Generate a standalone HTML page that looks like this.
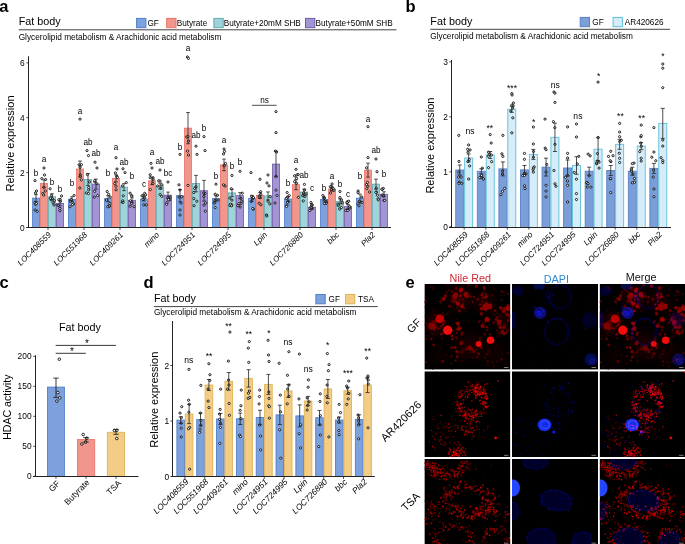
<!DOCTYPE html><html><head><meta charset="utf-8"><style>html,body{margin:0;padding:0;background:#fff;width:685px;height:544px;overflow:hidden}svg{display:block;will-change:transform}text{font-family:"Liberation Sans",sans-serif}</style></head><body>
<svg width="685" height="544" viewBox="0 0 685 544">
<rect width="685" height="544" fill="#fff"/>
<text x="-0.80" y="11.80" font-size="16.5" fill="#000" font-weight="bold">a</text>
<text x="405.60" y="11.80" font-size="16.5" fill="#000" font-weight="bold">b</text>
<text x="-0.60" y="288.00" font-size="16.5" fill="#000" font-weight="bold">c</text>
<text x="143.60" y="288.00" font-size="16.5" fill="#000" font-weight="bold">d</text>
<text x="405.40" y="287.70" font-size="16.5" fill="#000" font-weight="bold">e</text>
<text x="18.70" y="24.70" font-size="10.8">Fat body</text>
<line x1="18.70" y1="29.80" x2="396.50" y2="29.80" stroke="#444" stroke-width="1.0"/>
<text x="18.70" y="39.60" font-size="8.27">Glycerolipid metabolism &amp; Arachidonic acid metabolism</text>
<rect x="136.60" y="18.40" width="9.30" height="9.30" fill="#7ca1dc" stroke="#4f7fcb" stroke-width="1.0"/>
<text x="147.50" y="26.10" font-size="8.2">GF</text>
<rect x="166.70" y="18.40" width="9.30" height="9.30" fill="#f0968c" stroke="#ec7468" stroke-width="1.0"/>
<text x="176.70" y="26.10" font-size="8.2">Butyrate</text>
<rect x="213.90" y="18.40" width="9.30" height="9.30" fill="#9fd3d9" stroke="#5fa9ae" stroke-width="1.0"/>
<text x="223.70" y="26.10" font-size="8.2">Butyrate+20mM SHB</text>
<rect x="305.50" y="18.40" width="9.30" height="9.30" fill="#a394d6" stroke="#6e5aa8" stroke-width="1.0"/>
<text x="315.60" y="26.10" font-size="8.2">Butyrate+50mM SHB</text>
<line x1="28.50" y1="56.50" x2="28.50" y2="228.00" stroke="#222" stroke-width="1.0"/>
<line x1="26.50" y1="227.50" x2="391.00" y2="227.50" stroke="#222" stroke-width="1.0"/>
<line x1="26.30" y1="227.50" x2="28.50" y2="227.50" stroke="#222" stroke-width="0.8"/>
<text x="24.60" y="230.50" font-size="8.4" text-anchor="end">0</text>
<line x1="26.30" y1="172.60" x2="28.50" y2="172.60" stroke="#222" stroke-width="0.8"/>
<text x="24.60" y="175.60" font-size="8.4" text-anchor="end">2</text>
<line x1="26.30" y1="117.70" x2="28.50" y2="117.70" stroke="#222" stroke-width="0.8"/>
<text x="24.60" y="120.70" font-size="8.4" text-anchor="end">4</text>
<line x1="26.30" y1="62.80" x2="28.50" y2="62.80" stroke="#222" stroke-width="0.8"/>
<text x="24.60" y="65.80" font-size="8.4" text-anchor="end">6</text>
<text x="14.40" y="143.50" font-size="11" text-anchor="middle" transform="rotate(-90 14.40 143.50)">Relative expression</text>
<rect x="32.40" y="198.13" width="7.20" height="29.37" fill="#7ca1dc" stroke="#4f7fcb" stroke-width="0.8"/>
<rect x="40.40" y="183.58" width="7.20" height="43.92" fill="#f0968c" stroke="#ec7468" stroke-width="0.8"/>
<rect x="48.40" y="196.76" width="7.20" height="30.74" fill="#9fd3d9" stroke="#5fa9ae" stroke-width="0.8"/>
<rect x="56.40" y="203.34" width="7.20" height="24.16" fill="#a394d6" stroke="#6e5aa8" stroke-width="0.8"/>
<circle cx="37.19" cy="211.32" r="1.1" fill="#fff" stroke="#000" stroke-width="0.85"/>
<circle cx="34.89" cy="202.42" r="1.1" fill="#fff" stroke="#000" stroke-width="0.85"/>
<circle cx="35.56" cy="204.32" r="1.1" fill="#fff" stroke="#000" stroke-width="0.85"/>
<circle cx="35.10" cy="210.05" r="1.1" fill="#fff" stroke="#000" stroke-width="0.85"/>
<circle cx="36.38" cy="203.59" r="1.1" fill="#fff" stroke="#000" stroke-width="0.85"/>
<circle cx="35.00" cy="180.60" r="1.1" fill="#fff" stroke="#000" stroke-width="0.85"/>
<circle cx="36.50" cy="191.00" r="1.1" fill="#fff" stroke="#000" stroke-width="0.85"/>
<circle cx="35.50" cy="193.00" r="1.1" fill="#fff" stroke="#000" stroke-width="0.85"/>
<line x1="36.00" y1="194.63" x2="36.00" y2="201.63" stroke="#222" stroke-width="0.8"/>
<line x1="34.20" y1="194.63" x2="37.80" y2="194.63" stroke="#222" stroke-width="0.8"/>
<line x1="34.20" y1="201.63" x2="37.80" y2="201.63" stroke="#222" stroke-width="0.8"/>
<circle cx="45.60" cy="179.49" r="1.1" fill="#fff" stroke="#000" stroke-width="0.85"/>
<circle cx="42.87" cy="193.46" r="1.1" fill="#fff" stroke="#000" stroke-width="0.85"/>
<circle cx="43.77" cy="187.51" r="1.1" fill="#fff" stroke="#000" stroke-width="0.85"/>
<circle cx="45.33" cy="190.97" r="1.1" fill="#fff" stroke="#000" stroke-width="0.85"/>
<circle cx="41.83" cy="178.59" r="1.1" fill="#fff" stroke="#000" stroke-width="0.85"/>
<circle cx="43.69" cy="195.06" r="1.1" fill="#fff" stroke="#000" stroke-width="0.85"/>
<circle cx="44.00" cy="168.00" r="1.1" fill="#fff" stroke="#000" stroke-width="0.85"/>
<circle cx="44.50" cy="175.00" r="1.1" fill="#fff" stroke="#000" stroke-width="0.85"/>
<line x1="44.00" y1="179.88" x2="44.00" y2="187.28" stroke="#222" stroke-width="0.8"/>
<line x1="42.20" y1="179.88" x2="45.80" y2="179.88" stroke="#222" stroke-width="0.8"/>
<line x1="42.20" y1="187.28" x2="45.80" y2="187.28" stroke="#222" stroke-width="0.8"/>
<circle cx="54.06" cy="204.96" r="1.1" fill="#fff" stroke="#000" stroke-width="0.85"/>
<circle cx="50.09" cy="188.77" r="1.1" fill="#fff" stroke="#000" stroke-width="0.85"/>
<circle cx="53.09" cy="202.79" r="1.1" fill="#fff" stroke="#000" stroke-width="0.85"/>
<circle cx="51.12" cy="199.81" r="1.1" fill="#fff" stroke="#000" stroke-width="0.85"/>
<circle cx="52.49" cy="198.66" r="1.1" fill="#fff" stroke="#000" stroke-width="0.85"/>
<circle cx="50.43" cy="198.22" r="1.1" fill="#fff" stroke="#000" stroke-width="0.85"/>
<circle cx="51.51" cy="195.51" r="1.1" fill="#fff" stroke="#000" stroke-width="0.85"/>
<circle cx="54.28" cy="200.77" r="1.1" fill="#fff" stroke="#000" stroke-width="0.85"/>
<line x1="52.00" y1="193.76" x2="52.00" y2="199.76" stroke="#222" stroke-width="0.8"/>
<line x1="50.20" y1="193.76" x2="53.80" y2="193.76" stroke="#222" stroke-width="0.8"/>
<line x1="50.20" y1="199.76" x2="53.80" y2="199.76" stroke="#222" stroke-width="0.8"/>
<circle cx="60.20" cy="199.41" r="1.1" fill="#fff" stroke="#000" stroke-width="0.85"/>
<circle cx="60.48" cy="201.39" r="1.1" fill="#fff" stroke="#000" stroke-width="0.85"/>
<circle cx="58.00" cy="205.23" r="1.1" fill="#fff" stroke="#000" stroke-width="0.85"/>
<circle cx="61.55" cy="196.04" r="1.1" fill="#fff" stroke="#000" stroke-width="0.85"/>
<circle cx="58.78" cy="199.73" r="1.1" fill="#fff" stroke="#000" stroke-width="0.85"/>
<circle cx="59.86" cy="210.78" r="1.1" fill="#fff" stroke="#000" stroke-width="0.85"/>
<circle cx="59.89" cy="208.39" r="1.1" fill="#fff" stroke="#000" stroke-width="0.85"/>
<circle cx="58.39" cy="205.43" r="1.1" fill="#fff" stroke="#000" stroke-width="0.85"/>
<line x1="60.00" y1="200.84" x2="60.00" y2="205.84" stroke="#222" stroke-width="0.8"/>
<line x1="58.20" y1="200.84" x2="61.80" y2="200.84" stroke="#222" stroke-width="0.8"/>
<line x1="58.20" y1="205.84" x2="61.80" y2="205.84" stroke="#222" stroke-width="0.8"/>
<line x1="48.00" y1="227.50" x2="48.00" y2="230.00" stroke="#222" stroke-width="0.8"/>
<text x="51.60" y="235.30" font-size="8.1" text-anchor="end" font-style="italic" transform="rotate(-45 51.60 235.30)">LOC408559</text>
<text x="36.00" y="176.20" font-size="8.2" text-anchor="middle">b</text>
<text x="44.00" y="162.30" font-size="8.2" text-anchor="middle">a</text>
<text x="52.00" y="185.00" font-size="8.2" text-anchor="middle">b</text>
<text x="60.00" y="191.50" font-size="8.2" text-anchor="middle">b</text>
<rect x="68.40" y="199.23" width="7.20" height="28.27" fill="#7ca1dc" stroke="#4f7fcb" stroke-width="0.8"/>
<rect x="76.40" y="169.03" width="7.20" height="58.47" fill="#f0968c" stroke="#ec7468" stroke-width="0.8"/>
<rect x="84.40" y="179.46" width="7.20" height="48.04" fill="#9fd3d9" stroke="#5fa9ae" stroke-width="0.8"/>
<rect x="92.40" y="184.13" width="7.20" height="43.37" fill="#a394d6" stroke="#6e5aa8" stroke-width="0.8"/>
<circle cx="71.67" cy="200.30" r="1.1" fill="#fff" stroke="#000" stroke-width="0.85"/>
<circle cx="70.65" cy="200.40" r="1.1" fill="#fff" stroke="#000" stroke-width="0.85"/>
<circle cx="73.49" cy="203.93" r="1.1" fill="#fff" stroke="#000" stroke-width="0.85"/>
<circle cx="70.44" cy="201.53" r="1.1" fill="#fff" stroke="#000" stroke-width="0.85"/>
<circle cx="71.21" cy="199.54" r="1.1" fill="#fff" stroke="#000" stroke-width="0.85"/>
<circle cx="74.08" cy="195.48" r="1.1" fill="#fff" stroke="#000" stroke-width="0.85"/>
<circle cx="69.90" cy="206.67" r="1.1" fill="#fff" stroke="#000" stroke-width="0.85"/>
<circle cx="72.47" cy="204.63" r="1.1" fill="#fff" stroke="#000" stroke-width="0.85"/>
<line x1="72.00" y1="196.73" x2="72.00" y2="201.73" stroke="#222" stroke-width="0.8"/>
<line x1="70.20" y1="196.73" x2="73.80" y2="196.73" stroke="#222" stroke-width="0.8"/>
<line x1="70.20" y1="201.73" x2="73.80" y2="201.73" stroke="#222" stroke-width="0.8"/>
<circle cx="80.27" cy="174.83" r="1.1" fill="#fff" stroke="#000" stroke-width="0.85"/>
<circle cx="79.84" cy="188.04" r="1.1" fill="#fff" stroke="#000" stroke-width="0.85"/>
<circle cx="80.40" cy="176.38" r="1.1" fill="#fff" stroke="#000" stroke-width="0.85"/>
<circle cx="80.05" cy="167.34" r="1.1" fill="#fff" stroke="#000" stroke-width="0.85"/>
<circle cx="81.35" cy="179.80" r="1.1" fill="#fff" stroke="#000" stroke-width="0.85"/>
<circle cx="79.10" cy="164.80" r="1.1" fill="#fff" stroke="#000" stroke-width="0.85"/>
<circle cx="81.42" cy="164.70" r="1.1" fill="#fff" stroke="#000" stroke-width="0.85"/>
<circle cx="80.00" cy="119.10" r="1.1" fill="#fff" stroke="#000" stroke-width="0.85"/>
<line x1="80.00" y1="161.03" x2="80.00" y2="177.03" stroke="#222" stroke-width="0.8"/>
<line x1="78.20" y1="161.03" x2="81.80" y2="161.03" stroke="#222" stroke-width="0.8"/>
<line x1="78.20" y1="177.03" x2="81.80" y2="177.03" stroke="#222" stroke-width="0.8"/>
<circle cx="88.72" cy="187.54" r="1.1" fill="#fff" stroke="#000" stroke-width="0.85"/>
<circle cx="86.36" cy="192.91" r="1.1" fill="#fff" stroke="#000" stroke-width="0.85"/>
<circle cx="87.42" cy="174.55" r="1.1" fill="#fff" stroke="#000" stroke-width="0.85"/>
<circle cx="89.43" cy="181.92" r="1.1" fill="#fff" stroke="#000" stroke-width="0.85"/>
<circle cx="88.47" cy="193.59" r="1.1" fill="#fff" stroke="#000" stroke-width="0.85"/>
<circle cx="88.74" cy="189.88" r="1.1" fill="#fff" stroke="#000" stroke-width="0.85"/>
<circle cx="87.00" cy="150.60" r="1.1" fill="#fff" stroke="#000" stroke-width="0.85"/>
<circle cx="88.50" cy="155.60" r="1.1" fill="#fff" stroke="#000" stroke-width="0.85"/>
<line x1="88.00" y1="173.46" x2="88.00" y2="185.46" stroke="#222" stroke-width="0.8"/>
<line x1="86.20" y1="173.46" x2="89.80" y2="173.46" stroke="#222" stroke-width="0.8"/>
<line x1="86.20" y1="185.46" x2="89.80" y2="185.46" stroke="#222" stroke-width="0.8"/>
<circle cx="96.85" cy="183.72" r="1.1" fill="#fff" stroke="#000" stroke-width="0.85"/>
<circle cx="97.61" cy="195.63" r="1.1" fill="#fff" stroke="#000" stroke-width="0.85"/>
<circle cx="94.76" cy="181.67" r="1.1" fill="#fff" stroke="#000" stroke-width="0.85"/>
<circle cx="94.74" cy="180.59" r="1.1" fill="#fff" stroke="#000" stroke-width="0.85"/>
<circle cx="94.30" cy="197.02" r="1.1" fill="#fff" stroke="#000" stroke-width="0.85"/>
<circle cx="94.68" cy="191.35" r="1.1" fill="#fff" stroke="#000" stroke-width="0.85"/>
<circle cx="95.00" cy="162.20" r="1.1" fill="#fff" stroke="#000" stroke-width="0.85"/>
<circle cx="97.00" cy="168.00" r="1.1" fill="#fff" stroke="#000" stroke-width="0.85"/>
<line x1="96.00" y1="179.13" x2="96.00" y2="189.13" stroke="#222" stroke-width="0.8"/>
<line x1="94.20" y1="179.13" x2="97.80" y2="179.13" stroke="#222" stroke-width="0.8"/>
<line x1="94.20" y1="189.13" x2="97.80" y2="189.13" stroke="#222" stroke-width="0.8"/>
<line x1="84.00" y1="227.50" x2="84.00" y2="230.00" stroke="#222" stroke-width="0.8"/>
<text x="87.60" y="235.30" font-size="8.1" text-anchor="end" font-style="italic" transform="rotate(-45 87.60 235.30)">LOC551968</text>
<text x="72.00" y="186.40" font-size="8.2" text-anchor="middle">b</text>
<text x="80.00" y="113.80" font-size="8.2" text-anchor="middle">a</text>
<text x="88.00" y="144.50" font-size="8.2" text-anchor="middle">ab</text>
<text x="96.00" y="156.10" font-size="8.2" text-anchor="middle">ab</text>
<rect x="104.40" y="198.68" width="7.20" height="28.82" fill="#7ca1dc" stroke="#4f7fcb" stroke-width="0.8"/>
<rect x="112.40" y="178.36" width="7.20" height="49.14" fill="#f0968c" stroke="#ec7468" stroke-width="0.8"/>
<rect x="120.40" y="187.15" width="7.20" height="40.35" fill="#9fd3d9" stroke="#5fa9ae" stroke-width="0.8"/>
<rect x="128.40" y="200.32" width="7.20" height="27.18" fill="#a394d6" stroke="#6e5aa8" stroke-width="0.8"/>
<circle cx="108.86" cy="205.98" r="1.1" fill="#fff" stroke="#000" stroke-width="0.85"/>
<circle cx="109.86" cy="203.47" r="1.1" fill="#fff" stroke="#000" stroke-width="0.85"/>
<circle cx="108.62" cy="194.35" r="1.1" fill="#fff" stroke="#000" stroke-width="0.85"/>
<circle cx="109.71" cy="205.97" r="1.1" fill="#fff" stroke="#000" stroke-width="0.85"/>
<circle cx="106.48" cy="199.99" r="1.1" fill="#fff" stroke="#000" stroke-width="0.85"/>
<circle cx="110.27" cy="197.08" r="1.1" fill="#fff" stroke="#000" stroke-width="0.85"/>
<circle cx="107.17" cy="191.54" r="1.1" fill="#fff" stroke="#000" stroke-width="0.85"/>
<circle cx="107.77" cy="206.78" r="1.1" fill="#fff" stroke="#000" stroke-width="0.85"/>
<line x1="108.00" y1="195.68" x2="108.00" y2="201.68" stroke="#222" stroke-width="0.8"/>
<line x1="106.20" y1="195.68" x2="109.80" y2="195.68" stroke="#222" stroke-width="0.8"/>
<line x1="106.20" y1="201.68" x2="109.80" y2="201.68" stroke="#222" stroke-width="0.8"/>
<circle cx="116.87" cy="176.33" r="1.1" fill="#fff" stroke="#000" stroke-width="0.85"/>
<circle cx="115.90" cy="186.20" r="1.1" fill="#fff" stroke="#000" stroke-width="0.85"/>
<circle cx="117.35" cy="177.41" r="1.1" fill="#fff" stroke="#000" stroke-width="0.85"/>
<circle cx="116.06" cy="189.83" r="1.1" fill="#fff" stroke="#000" stroke-width="0.85"/>
<circle cx="114.79" cy="183.48" r="1.1" fill="#fff" stroke="#000" stroke-width="0.85"/>
<circle cx="115.41" cy="172.94" r="1.1" fill="#fff" stroke="#000" stroke-width="0.85"/>
<circle cx="116.00" cy="157.70" r="1.1" fill="#fff" stroke="#000" stroke-width="0.85"/>
<circle cx="117.00" cy="169.00" r="1.1" fill="#fff" stroke="#000" stroke-width="0.85"/>
<line x1="116.00" y1="174.86" x2="116.00" y2="181.86" stroke="#222" stroke-width="0.8"/>
<line x1="114.20" y1="174.86" x2="117.80" y2="174.86" stroke="#222" stroke-width="0.8"/>
<line x1="114.20" y1="181.86" x2="117.80" y2="181.86" stroke="#222" stroke-width="0.8"/>
<circle cx="122.35" cy="202.25" r="1.1" fill="#fff" stroke="#000" stroke-width="0.85"/>
<circle cx="126.29" cy="182.63" r="1.1" fill="#fff" stroke="#000" stroke-width="0.85"/>
<circle cx="122.25" cy="186.00" r="1.1" fill="#fff" stroke="#000" stroke-width="0.85"/>
<circle cx="123.29" cy="195.81" r="1.1" fill="#fff" stroke="#000" stroke-width="0.85"/>
<circle cx="122.77" cy="200.81" r="1.1" fill="#fff" stroke="#000" stroke-width="0.85"/>
<circle cx="123.17" cy="202.28" r="1.1" fill="#fff" stroke="#000" stroke-width="0.85"/>
<circle cx="123.00" cy="168.80" r="1.1" fill="#fff" stroke="#000" stroke-width="0.85"/>
<circle cx="125.00" cy="172.60" r="1.1" fill="#fff" stroke="#000" stroke-width="0.85"/>
<line x1="124.00" y1="183.65" x2="124.00" y2="190.65" stroke="#222" stroke-width="0.8"/>
<line x1="122.20" y1="183.65" x2="125.80" y2="183.65" stroke="#222" stroke-width="0.8"/>
<line x1="122.20" y1="190.65" x2="125.80" y2="190.65" stroke="#222" stroke-width="0.8"/>
<circle cx="134.06" cy="206.70" r="1.1" fill="#fff" stroke="#000" stroke-width="0.85"/>
<circle cx="130.08" cy="206.21" r="1.1" fill="#fff" stroke="#000" stroke-width="0.85"/>
<circle cx="131.65" cy="201.70" r="1.1" fill="#fff" stroke="#000" stroke-width="0.85"/>
<circle cx="130.30" cy="200.78" r="1.1" fill="#fff" stroke="#000" stroke-width="0.85"/>
<circle cx="131.75" cy="195.70" r="1.1" fill="#fff" stroke="#000" stroke-width="0.85"/>
<circle cx="131.79" cy="196.14" r="1.1" fill="#fff" stroke="#000" stroke-width="0.85"/>
<circle cx="130.09" cy="193.20" r="1.1" fill="#fff" stroke="#000" stroke-width="0.85"/>
<circle cx="131.64" cy="203.47" r="1.1" fill="#fff" stroke="#000" stroke-width="0.85"/>
<line x1="132.00" y1="197.82" x2="132.00" y2="202.82" stroke="#222" stroke-width="0.8"/>
<line x1="130.20" y1="197.82" x2="133.80" y2="197.82" stroke="#222" stroke-width="0.8"/>
<line x1="130.20" y1="202.82" x2="133.80" y2="202.82" stroke="#222" stroke-width="0.8"/>
<line x1="120.00" y1="227.50" x2="120.00" y2="230.00" stroke="#222" stroke-width="0.8"/>
<text x="123.60" y="235.30" font-size="8.1" text-anchor="end" font-style="italic" transform="rotate(-45 123.60 235.30)">LOC409261</text>
<text x="108.00" y="176.00" font-size="8.2" text-anchor="middle">b</text>
<text x="116.00" y="150.40" font-size="8.2" text-anchor="middle">a</text>
<text x="124.00" y="164.70" font-size="8.2" text-anchor="middle">ab</text>
<text x="132.00" y="179.30" font-size="8.2" text-anchor="middle">b</text>
<rect x="140.40" y="198.95" width="7.20" height="28.55" fill="#7ca1dc" stroke="#4f7fcb" stroke-width="0.8"/>
<rect x="148.40" y="180.84" width="7.20" height="46.66" fill="#f0968c" stroke="#ec7468" stroke-width="0.8"/>
<rect x="156.40" y="186.05" width="7.20" height="41.45" fill="#9fd3d9" stroke="#5fa9ae" stroke-width="0.8"/>
<rect x="164.40" y="195.11" width="7.20" height="32.39" fill="#a394d6" stroke="#6e5aa8" stroke-width="0.8"/>
<circle cx="143.03" cy="199.42" r="1.1" fill="#fff" stroke="#000" stroke-width="0.85"/>
<circle cx="144.71" cy="193.31" r="1.1" fill="#fff" stroke="#000" stroke-width="0.85"/>
<circle cx="142.88" cy="195.47" r="1.1" fill="#fff" stroke="#000" stroke-width="0.85"/>
<circle cx="144.65" cy="197.72" r="1.1" fill="#fff" stroke="#000" stroke-width="0.85"/>
<circle cx="143.82" cy="204.82" r="1.1" fill="#fff" stroke="#000" stroke-width="0.85"/>
<circle cx="146.27" cy="204.87" r="1.1" fill="#fff" stroke="#000" stroke-width="0.85"/>
<circle cx="142.03" cy="195.86" r="1.1" fill="#fff" stroke="#000" stroke-width="0.85"/>
<circle cx="145.57" cy="194.87" r="1.1" fill="#fff" stroke="#000" stroke-width="0.85"/>
<line x1="144.00" y1="196.95" x2="144.00" y2="200.95" stroke="#222" stroke-width="0.8"/>
<line x1="142.20" y1="196.95" x2="145.80" y2="196.95" stroke="#222" stroke-width="0.8"/>
<line x1="142.20" y1="200.95" x2="145.80" y2="200.95" stroke="#222" stroke-width="0.8"/>
<circle cx="150.22" cy="174.76" r="1.1" fill="#fff" stroke="#000" stroke-width="0.85"/>
<circle cx="152.85" cy="183.44" r="1.1" fill="#fff" stroke="#000" stroke-width="0.85"/>
<circle cx="150.22" cy="177.64" r="1.1" fill="#fff" stroke="#000" stroke-width="0.85"/>
<circle cx="153.18" cy="179.77" r="1.1" fill="#fff" stroke="#000" stroke-width="0.85"/>
<circle cx="153.11" cy="177.84" r="1.1" fill="#fff" stroke="#000" stroke-width="0.85"/>
<circle cx="150.33" cy="189.58" r="1.1" fill="#fff" stroke="#000" stroke-width="0.85"/>
<circle cx="151.00" cy="163.40" r="1.1" fill="#fff" stroke="#000" stroke-width="0.85"/>
<circle cx="152.00" cy="168.00" r="1.1" fill="#fff" stroke="#000" stroke-width="0.85"/>
<line x1="152.00" y1="177.03" x2="152.00" y2="184.64" stroke="#222" stroke-width="0.8"/>
<line x1="150.20" y1="177.03" x2="153.80" y2="177.03" stroke="#222" stroke-width="0.8"/>
<line x1="150.20" y1="184.64" x2="153.80" y2="184.64" stroke="#222" stroke-width="0.8"/>
<circle cx="158.68" cy="180.74" r="1.1" fill="#fff" stroke="#000" stroke-width="0.85"/>
<circle cx="161.84" cy="184.80" r="1.1" fill="#fff" stroke="#000" stroke-width="0.85"/>
<circle cx="161.01" cy="188.28" r="1.1" fill="#fff" stroke="#000" stroke-width="0.85"/>
<circle cx="160.04" cy="181.15" r="1.1" fill="#fff" stroke="#000" stroke-width="0.85"/>
<circle cx="160.10" cy="194.52" r="1.1" fill="#fff" stroke="#000" stroke-width="0.85"/>
<circle cx="161.76" cy="196.35" r="1.1" fill="#fff" stroke="#000" stroke-width="0.85"/>
<circle cx="157.70" cy="186.02" r="1.1" fill="#fff" stroke="#000" stroke-width="0.85"/>
<circle cx="160.00" cy="170.00" r="1.1" fill="#fff" stroke="#000" stroke-width="0.85"/>
<line x1="160.00" y1="183.05" x2="160.00" y2="189.05" stroke="#222" stroke-width="0.8"/>
<line x1="158.20" y1="183.05" x2="161.80" y2="183.05" stroke="#222" stroke-width="0.8"/>
<line x1="158.20" y1="189.05" x2="161.80" y2="189.05" stroke="#222" stroke-width="0.8"/>
<circle cx="168.61" cy="198.25" r="1.1" fill="#fff" stroke="#000" stroke-width="0.85"/>
<circle cx="166.98" cy="202.69" r="1.1" fill="#fff" stroke="#000" stroke-width="0.85"/>
<circle cx="169.80" cy="199.72" r="1.1" fill="#fff" stroke="#000" stroke-width="0.85"/>
<circle cx="166.56" cy="204.34" r="1.1" fill="#fff" stroke="#000" stroke-width="0.85"/>
<circle cx="168.54" cy="199.71" r="1.1" fill="#fff" stroke="#000" stroke-width="0.85"/>
<circle cx="170.14" cy="197.04" r="1.1" fill="#fff" stroke="#000" stroke-width="0.85"/>
<circle cx="167.75" cy="197.49" r="1.1" fill="#fff" stroke="#000" stroke-width="0.85"/>
<circle cx="168.00" cy="182.00" r="1.1" fill="#fff" stroke="#000" stroke-width="0.85"/>
<line x1="168.00" y1="192.11" x2="168.00" y2="198.11" stroke="#222" stroke-width="0.8"/>
<line x1="166.20" y1="192.11" x2="169.80" y2="192.11" stroke="#222" stroke-width="0.8"/>
<line x1="166.20" y1="198.11" x2="169.80" y2="198.11" stroke="#222" stroke-width="0.8"/>
<line x1="156.00" y1="227.50" x2="156.00" y2="230.00" stroke="#222" stroke-width="0.8"/>
<text x="159.60" y="235.30" font-size="8.1" text-anchor="end" font-style="italic" transform="rotate(-45 159.60 235.30)">mino</text>
<text x="144.00" y="186.50" font-size="8.2" text-anchor="middle">c</text>
<text x="152.00" y="155.10" font-size="8.2" text-anchor="middle">a</text>
<text x="160.00" y="164.00" font-size="8.2" text-anchor="middle">ab</text>
<text x="168.00" y="176.30" font-size="8.2" text-anchor="middle">bc</text>
<rect x="176.40" y="195.66" width="7.20" height="31.84" fill="#7ca1dc" stroke="#4f7fcb" stroke-width="0.8"/>
<rect x="184.40" y="128.13" width="7.20" height="99.37" fill="#f0968c" stroke="#ec7468" stroke-width="0.8"/>
<rect x="192.40" y="183.58" width="7.20" height="43.92" fill="#9fd3d9" stroke="#5fa9ae" stroke-width="0.8"/>
<rect x="200.40" y="190.72" width="7.20" height="36.78" fill="#a394d6" stroke="#6e5aa8" stroke-width="0.8"/>
<circle cx="181.74" cy="196.77" r="1.1" fill="#fff" stroke="#000" stroke-width="0.85"/>
<circle cx="179.00" cy="184.82" r="1.1" fill="#fff" stroke="#000" stroke-width="0.85"/>
<circle cx="180.00" cy="154.40" r="1.1" fill="#fff" stroke="#000" stroke-width="0.85"/>
<circle cx="180.00" cy="190.00" r="1.1" fill="#fff" stroke="#000" stroke-width="0.85"/>
<circle cx="179.00" cy="197.00" r="1.1" fill="#fff" stroke="#000" stroke-width="0.85"/>
<circle cx="181.00" cy="203.00" r="1.1" fill="#fff" stroke="#000" stroke-width="0.85"/>
<circle cx="180.00" cy="210.00" r="1.1" fill="#fff" stroke="#000" stroke-width="0.85"/>
<circle cx="180.00" cy="215.00" r="1.1" fill="#fff" stroke="#000" stroke-width="0.85"/>
<line x1="180.00" y1="189.46" x2="180.00" y2="201.86" stroke="#222" stroke-width="0.8"/>
<line x1="178.20" y1="189.46" x2="181.80" y2="189.46" stroke="#222" stroke-width="0.8"/>
<line x1="178.20" y1="201.86" x2="181.80" y2="201.86" stroke="#222" stroke-width="0.8"/>
<circle cx="186.76" cy="136.92" r="1.1" fill="#fff" stroke="#000" stroke-width="0.85"/>
<circle cx="187.40" cy="57.00" r="1.1" fill="#fff" stroke="#000" stroke-width="0.85"/>
<circle cx="188.40" cy="58.40" r="1.1" fill="#fff" stroke="#000" stroke-width="0.85"/>
<circle cx="188.00" cy="136.60" r="1.1" fill="#fff" stroke="#000" stroke-width="0.85"/>
<circle cx="188.60" cy="141.20" r="1.1" fill="#fff" stroke="#000" stroke-width="0.85"/>
<circle cx="187.50" cy="151.10" r="1.1" fill="#fff" stroke="#000" stroke-width="0.85"/>
<circle cx="188.50" cy="155.10" r="1.1" fill="#fff" stroke="#000" stroke-width="0.85"/>
<circle cx="188.00" cy="185.40" r="1.1" fill="#fff" stroke="#000" stroke-width="0.85"/>
<line x1="188.00" y1="112.53" x2="188.00" y2="143.73" stroke="#222" stroke-width="0.8"/>
<line x1="186.20" y1="112.53" x2="189.80" y2="112.53" stroke="#222" stroke-width="0.8"/>
<line x1="186.20" y1="143.73" x2="189.80" y2="143.73" stroke="#222" stroke-width="0.8"/>
<circle cx="193.82" cy="198.58" r="1.1" fill="#fff" stroke="#000" stroke-width="0.85"/>
<circle cx="194.73" cy="188.37" r="1.1" fill="#fff" stroke="#000" stroke-width="0.85"/>
<circle cx="196.81" cy="201.29" r="1.1" fill="#fff" stroke="#000" stroke-width="0.85"/>
<circle cx="194.10" cy="205.65" r="1.1" fill="#fff" stroke="#000" stroke-width="0.85"/>
<circle cx="193.84" cy="192.49" r="1.1" fill="#fff" stroke="#000" stroke-width="0.85"/>
<circle cx="196.02" cy="186.80" r="1.1" fill="#fff" stroke="#000" stroke-width="0.85"/>
<circle cx="196.00" cy="146.20" r="1.1" fill="#fff" stroke="#000" stroke-width="0.85"/>
<circle cx="197.00" cy="154.40" r="1.1" fill="#fff" stroke="#000" stroke-width="0.85"/>
<line x1="196.00" y1="175.38" x2="196.00" y2="191.78" stroke="#222" stroke-width="0.8"/>
<line x1="194.20" y1="175.38" x2="197.80" y2="175.38" stroke="#222" stroke-width="0.8"/>
<line x1="194.20" y1="191.78" x2="197.80" y2="191.78" stroke="#222" stroke-width="0.8"/>
<circle cx="204.90" cy="193.50" r="1.1" fill="#fff" stroke="#000" stroke-width="0.85"/>
<circle cx="203.83" cy="196.45" r="1.1" fill="#fff" stroke="#000" stroke-width="0.85"/>
<circle cx="205.35" cy="211.23" r="1.1" fill="#fff" stroke="#000" stroke-width="0.85"/>
<circle cx="203.99" cy="205.11" r="1.1" fill="#fff" stroke="#000" stroke-width="0.85"/>
<circle cx="203.69" cy="192.96" r="1.1" fill="#fff" stroke="#000" stroke-width="0.85"/>
<circle cx="205.62" cy="202.85" r="1.1" fill="#fff" stroke="#000" stroke-width="0.85"/>
<circle cx="204.00" cy="136.60" r="1.1" fill="#fff" stroke="#000" stroke-width="0.85"/>
<circle cx="205.00" cy="150.60" r="1.1" fill="#fff" stroke="#000" stroke-width="0.85"/>
<line x1="204.00" y1="180.42" x2="204.00" y2="201.02" stroke="#222" stroke-width="0.8"/>
<line x1="202.20" y1="180.42" x2="205.80" y2="180.42" stroke="#222" stroke-width="0.8"/>
<line x1="202.20" y1="201.02" x2="205.80" y2="201.02" stroke="#222" stroke-width="0.8"/>
<line x1="192.00" y1="227.50" x2="192.00" y2="230.00" stroke="#222" stroke-width="0.8"/>
<text x="195.60" y="235.30" font-size="8.1" text-anchor="end" font-style="italic" transform="rotate(-45 195.60 235.30)">LOC724951</text>
<text x="180.00" y="149.50" font-size="8.2" text-anchor="middle">b</text>
<text x="188.00" y="50.70" font-size="8.2" text-anchor="middle">a</text>
<text x="196.00" y="137.90" font-size="8.2" text-anchor="middle">ab</text>
<text x="204.00" y="130.50" font-size="8.2" text-anchor="middle">b</text>
<rect x="212.40" y="198.40" width="7.20" height="29.10" fill="#7ca1dc" stroke="#4f7fcb" stroke-width="0.8"/>
<rect x="220.40" y="164.91" width="7.20" height="62.59" fill="#f0968c" stroke="#ec7468" stroke-width="0.8"/>
<rect x="228.40" y="192.91" width="7.20" height="34.59" fill="#9fd3d9" stroke="#5fa9ae" stroke-width="0.8"/>
<rect x="236.40" y="195.66" width="7.20" height="31.84" fill="#a394d6" stroke="#6e5aa8" stroke-width="0.8"/>
<circle cx="214.92" cy="200.40" r="1.1" fill="#fff" stroke="#000" stroke-width="0.85"/>
<circle cx="214.82" cy="202.49" r="1.1" fill="#fff" stroke="#000" stroke-width="0.85"/>
<circle cx="218.16" cy="200.03" r="1.1" fill="#fff" stroke="#000" stroke-width="0.85"/>
<circle cx="215.16" cy="194.21" r="1.1" fill="#fff" stroke="#000" stroke-width="0.85"/>
<circle cx="214.09" cy="203.08" r="1.1" fill="#fff" stroke="#000" stroke-width="0.85"/>
<circle cx="217.50" cy="195.23" r="1.1" fill="#fff" stroke="#000" stroke-width="0.85"/>
<circle cx="215.17" cy="207.63" r="1.1" fill="#fff" stroke="#000" stroke-width="0.85"/>
<circle cx="216.00" cy="184.20" r="1.1" fill="#fff" stroke="#000" stroke-width="0.85"/>
<line x1="216.00" y1="195.90" x2="216.00" y2="200.90" stroke="#222" stroke-width="0.8"/>
<line x1="214.20" y1="195.90" x2="217.80" y2="195.90" stroke="#222" stroke-width="0.8"/>
<line x1="214.20" y1="200.90" x2="217.80" y2="200.90" stroke="#222" stroke-width="0.8"/>
<circle cx="224.01" cy="165.78" r="1.1" fill="#fff" stroke="#000" stroke-width="0.85"/>
<circle cx="225.48" cy="163.50" r="1.1" fill="#fff" stroke="#000" stroke-width="0.85"/>
<circle cx="224.24" cy="165.44" r="1.1" fill="#fff" stroke="#000" stroke-width="0.85"/>
<circle cx="223.53" cy="184.90" r="1.1" fill="#fff" stroke="#000" stroke-width="0.85"/>
<circle cx="225.06" cy="186.06" r="1.1" fill="#fff" stroke="#000" stroke-width="0.85"/>
<circle cx="224.00" cy="149.00" r="1.1" fill="#fff" stroke="#000" stroke-width="0.85"/>
<circle cx="224.50" cy="151.50" r="1.1" fill="#fff" stroke="#000" stroke-width="0.85"/>
<circle cx="223.50" cy="154.00" r="1.1" fill="#fff" stroke="#000" stroke-width="0.85"/>
<line x1="224.00" y1="159.11" x2="224.00" y2="170.71" stroke="#222" stroke-width="0.8"/>
<line x1="222.20" y1="159.11" x2="225.80" y2="159.11" stroke="#222" stroke-width="0.8"/>
<line x1="222.20" y1="170.71" x2="225.80" y2="170.71" stroke="#222" stroke-width="0.8"/>
<circle cx="229.95" cy="205.45" r="1.1" fill="#fff" stroke="#000" stroke-width="0.85"/>
<circle cx="231.93" cy="200.14" r="1.1" fill="#fff" stroke="#000" stroke-width="0.85"/>
<circle cx="231.57" cy="204.68" r="1.1" fill="#fff" stroke="#000" stroke-width="0.85"/>
<circle cx="230.43" cy="204.20" r="1.1" fill="#fff" stroke="#000" stroke-width="0.85"/>
<circle cx="231.60" cy="205.79" r="1.1" fill="#fff" stroke="#000" stroke-width="0.85"/>
<circle cx="231.29" cy="188.75" r="1.1" fill="#fff" stroke="#000" stroke-width="0.85"/>
<circle cx="229.86" cy="198.15" r="1.1" fill="#fff" stroke="#000" stroke-width="0.85"/>
<circle cx="232.00" cy="175.50" r="1.1" fill="#fff" stroke="#000" stroke-width="0.85"/>
<line x1="232.00" y1="189.41" x2="232.00" y2="196.41" stroke="#222" stroke-width="0.8"/>
<line x1="230.20" y1="189.41" x2="233.80" y2="189.41" stroke="#222" stroke-width="0.8"/>
<line x1="230.20" y1="196.41" x2="233.80" y2="196.41" stroke="#222" stroke-width="0.8"/>
<circle cx="241.79" cy="201.25" r="1.1" fill="#fff" stroke="#000" stroke-width="0.85"/>
<circle cx="240.97" cy="198.35" r="1.1" fill="#fff" stroke="#000" stroke-width="0.85"/>
<circle cx="240.09" cy="207.00" r="1.1" fill="#fff" stroke="#000" stroke-width="0.85"/>
<circle cx="241.05" cy="203.35" r="1.1" fill="#fff" stroke="#000" stroke-width="0.85"/>
<circle cx="237.87" cy="205.59" r="1.1" fill="#fff" stroke="#000" stroke-width="0.85"/>
<circle cx="242.29" cy="193.18" r="1.1" fill="#fff" stroke="#000" stroke-width="0.85"/>
<circle cx="238.90" cy="203.58" r="1.1" fill="#fff" stroke="#000" stroke-width="0.85"/>
<circle cx="240.00" cy="171.30" r="1.1" fill="#fff" stroke="#000" stroke-width="0.85"/>
<line x1="240.00" y1="192.66" x2="240.00" y2="198.66" stroke="#222" stroke-width="0.8"/>
<line x1="238.20" y1="192.66" x2="241.80" y2="192.66" stroke="#222" stroke-width="0.8"/>
<line x1="238.20" y1="198.66" x2="241.80" y2="198.66" stroke="#222" stroke-width="0.8"/>
<line x1="228.00" y1="227.50" x2="228.00" y2="230.00" stroke="#222" stroke-width="0.8"/>
<text x="231.60" y="235.30" font-size="8.1" text-anchor="end" font-style="italic" transform="rotate(-45 231.60 235.30)">LOC724995</text>
<text x="216.00" y="178.50" font-size="8.2" text-anchor="middle">b</text>
<text x="224.00" y="143.00" font-size="8.2" text-anchor="middle">a</text>
<text x="232.00" y="169.40" font-size="8.2" text-anchor="middle">b</text>
<text x="240.00" y="165.20" font-size="8.2" text-anchor="middle">b</text>
<rect x="248.40" y="198.40" width="7.20" height="29.10" fill="#7ca1dc" stroke="#4f7fcb" stroke-width="0.8"/>
<rect x="256.40" y="195.38" width="7.20" height="32.12" fill="#f0968c" stroke="#ec7468" stroke-width="0.8"/>
<rect x="264.40" y="195.93" width="7.20" height="31.57" fill="#9fd3d9" stroke="#5fa9ae" stroke-width="0.8"/>
<rect x="272.40" y="164.09" width="7.20" height="63.41" fill="#a394d6" stroke="#6e5aa8" stroke-width="0.8"/>
<circle cx="252.36" cy="198.63" r="1.1" fill="#fff" stroke="#000" stroke-width="0.85"/>
<circle cx="253.42" cy="197.87" r="1.1" fill="#fff" stroke="#000" stroke-width="0.85"/>
<circle cx="251.23" cy="201.50" r="1.1" fill="#fff" stroke="#000" stroke-width="0.85"/>
<circle cx="253.35" cy="209.23" r="1.1" fill="#fff" stroke="#000" stroke-width="0.85"/>
<circle cx="252.76" cy="208.56" r="1.1" fill="#fff" stroke="#000" stroke-width="0.85"/>
<circle cx="251.49" cy="196.43" r="1.1" fill="#fff" stroke="#000" stroke-width="0.85"/>
<circle cx="253.35" cy="197.40" r="1.1" fill="#fff" stroke="#000" stroke-width="0.85"/>
<circle cx="251.00" cy="172.60" r="1.1" fill="#fff" stroke="#000" stroke-width="0.85"/>
<line x1="252.00" y1="195.40" x2="252.00" y2="201.40" stroke="#222" stroke-width="0.8"/>
<line x1="250.20" y1="195.40" x2="253.80" y2="195.40" stroke="#222" stroke-width="0.8"/>
<line x1="250.20" y1="201.40" x2="253.80" y2="201.40" stroke="#222" stroke-width="0.8"/>
<circle cx="260.26" cy="197.58" r="1.1" fill="#fff" stroke="#000" stroke-width="0.85"/>
<circle cx="259.17" cy="203.26" r="1.1" fill="#fff" stroke="#000" stroke-width="0.85"/>
<circle cx="260.89" cy="194.46" r="1.1" fill="#fff" stroke="#000" stroke-width="0.85"/>
<circle cx="259.35" cy="197.43" r="1.1" fill="#fff" stroke="#000" stroke-width="0.85"/>
<circle cx="259.22" cy="195.98" r="1.1" fill="#fff" stroke="#000" stroke-width="0.85"/>
<circle cx="260.61" cy="191.70" r="1.1" fill="#fff" stroke="#000" stroke-width="0.85"/>
<circle cx="260.87" cy="204.77" r="1.1" fill="#fff" stroke="#000" stroke-width="0.85"/>
<circle cx="260.00" cy="179.30" r="1.1" fill="#fff" stroke="#000" stroke-width="0.85"/>
<line x1="260.00" y1="192.38" x2="260.00" y2="198.38" stroke="#222" stroke-width="0.8"/>
<line x1="258.20" y1="192.38" x2="261.80" y2="192.38" stroke="#222" stroke-width="0.8"/>
<line x1="258.20" y1="198.38" x2="261.80" y2="198.38" stroke="#222" stroke-width="0.8"/>
<circle cx="266.50" cy="214.98" r="1.1" fill="#fff" stroke="#000" stroke-width="0.85"/>
<circle cx="266.80" cy="216.01" r="1.1" fill="#fff" stroke="#000" stroke-width="0.85"/>
<circle cx="269.83" cy="203.87" r="1.1" fill="#fff" stroke="#000" stroke-width="0.85"/>
<circle cx="268.04" cy="201.25" r="1.1" fill="#fff" stroke="#000" stroke-width="0.85"/>
<circle cx="270.12" cy="196.59" r="1.1" fill="#fff" stroke="#000" stroke-width="0.85"/>
<circle cx="268.00" cy="175.00" r="1.1" fill="#fff" stroke="#000" stroke-width="0.85"/>
<circle cx="267.00" cy="183.00" r="1.1" fill="#fff" stroke="#000" stroke-width="0.85"/>
<circle cx="269.00" cy="185.90" r="1.1" fill="#fff" stroke="#000" stroke-width="0.85"/>
<line x1="268.00" y1="191.93" x2="268.00" y2="199.93" stroke="#222" stroke-width="0.8"/>
<line x1="266.20" y1="191.93" x2="269.80" y2="191.93" stroke="#222" stroke-width="0.8"/>
<line x1="266.20" y1="199.93" x2="269.80" y2="199.93" stroke="#222" stroke-width="0.8"/>
<circle cx="276.00" cy="111.60" r="1.1" fill="#fff" stroke="#000" stroke-width="0.85"/>
<circle cx="276.00" cy="132.60" r="1.1" fill="#fff" stroke="#000" stroke-width="0.85"/>
<circle cx="275.40" cy="151.10" r="1.1" fill="#fff" stroke="#000" stroke-width="0.85"/>
<circle cx="276.60" cy="152.00" r="1.1" fill="#fff" stroke="#000" stroke-width="0.85"/>
<circle cx="276.00" cy="176.30" r="1.1" fill="#fff" stroke="#000" stroke-width="0.85"/>
<circle cx="276.00" cy="190.20" r="1.1" fill="#fff" stroke="#000" stroke-width="0.85"/>
<circle cx="277.00" cy="195.50" r="1.1" fill="#fff" stroke="#000" stroke-width="0.85"/>
<circle cx="275.00" cy="203.00" r="1.1" fill="#fff" stroke="#000" stroke-width="0.85"/>
<line x1="276.00" y1="151.39" x2="276.00" y2="176.79" stroke="#222" stroke-width="0.8"/>
<line x1="274.20" y1="151.39" x2="277.80" y2="151.39" stroke="#222" stroke-width="0.8"/>
<line x1="274.20" y1="176.79" x2="277.80" y2="176.79" stroke="#222" stroke-width="0.8"/>
<line x1="264.00" y1="227.50" x2="264.00" y2="230.00" stroke="#222" stroke-width="0.8"/>
<text x="267.60" y="235.30" font-size="8.1" text-anchor="end" font-style="italic" transform="rotate(-45 267.60 235.30)">Lpin</text>
<rect x="284.40" y="198.95" width="7.20" height="28.55" fill="#7ca1dc" stroke="#4f7fcb" stroke-width="0.8"/>
<rect x="292.40" y="184.68" width="7.20" height="42.82" fill="#f0968c" stroke="#ec7468" stroke-width="0.8"/>
<rect x="300.40" y="192.09" width="7.20" height="35.41" fill="#9fd3d9" stroke="#5fa9ae" stroke-width="0.8"/>
<rect x="308.40" y="207.19" width="7.20" height="20.31" fill="#a394d6" stroke="#6e5aa8" stroke-width="0.8"/>
<circle cx="287.05" cy="205.10" r="1.1" fill="#fff" stroke="#000" stroke-width="0.85"/>
<circle cx="286.33" cy="198.34" r="1.1" fill="#fff" stroke="#000" stroke-width="0.85"/>
<circle cx="286.41" cy="206.38" r="1.1" fill="#fff" stroke="#000" stroke-width="0.85"/>
<circle cx="288.45" cy="201.56" r="1.1" fill="#fff" stroke="#000" stroke-width="0.85"/>
<circle cx="287.59" cy="202.17" r="1.1" fill="#fff" stroke="#000" stroke-width="0.85"/>
<circle cx="287.54" cy="197.15" r="1.1" fill="#fff" stroke="#000" stroke-width="0.85"/>
<circle cx="287.17" cy="192.54" r="1.1" fill="#fff" stroke="#000" stroke-width="0.85"/>
<circle cx="289.29" cy="195.59" r="1.1" fill="#fff" stroke="#000" stroke-width="0.85"/>
<line x1="288.00" y1="196.45" x2="288.00" y2="201.45" stroke="#222" stroke-width="0.8"/>
<line x1="286.20" y1="196.45" x2="289.80" y2="196.45" stroke="#222" stroke-width="0.8"/>
<line x1="286.20" y1="201.45" x2="289.80" y2="201.45" stroke="#222" stroke-width="0.8"/>
<circle cx="296.55" cy="183.37" r="1.1" fill="#fff" stroke="#000" stroke-width="0.85"/>
<circle cx="298.22" cy="174.54" r="1.1" fill="#fff" stroke="#000" stroke-width="0.85"/>
<circle cx="298.30" cy="197.32" r="1.1" fill="#fff" stroke="#000" stroke-width="0.85"/>
<circle cx="294.62" cy="181.68" r="1.1" fill="#fff" stroke="#000" stroke-width="0.85"/>
<circle cx="294.59" cy="175.84" r="1.1" fill="#fff" stroke="#000" stroke-width="0.85"/>
<circle cx="296.88" cy="174.98" r="1.1" fill="#fff" stroke="#000" stroke-width="0.85"/>
<circle cx="296.00" cy="169.30" r="1.1" fill="#fff" stroke="#000" stroke-width="0.85"/>
<circle cx="296.50" cy="178.30" r="1.1" fill="#fff" stroke="#000" stroke-width="0.85"/>
<line x1="296.00" y1="179.68" x2="296.00" y2="189.68" stroke="#222" stroke-width="0.8"/>
<line x1="294.20" y1="179.68" x2="297.80" y2="179.68" stroke="#222" stroke-width="0.8"/>
<line x1="294.20" y1="189.68" x2="297.80" y2="189.68" stroke="#222" stroke-width="0.8"/>
<circle cx="304.43" cy="184.41" r="1.1" fill="#fff" stroke="#000" stroke-width="0.85"/>
<circle cx="303.28" cy="200.90" r="1.1" fill="#fff" stroke="#000" stroke-width="0.85"/>
<circle cx="303.42" cy="192.88" r="1.1" fill="#fff" stroke="#000" stroke-width="0.85"/>
<circle cx="304.85" cy="196.40" r="1.1" fill="#fff" stroke="#000" stroke-width="0.85"/>
<circle cx="306.19" cy="193.87" r="1.1" fill="#fff" stroke="#000" stroke-width="0.85"/>
<circle cx="303.28" cy="195.74" r="1.1" fill="#fff" stroke="#000" stroke-width="0.85"/>
<circle cx="304.61" cy="189.93" r="1.1" fill="#fff" stroke="#000" stroke-width="0.85"/>
<circle cx="302.72" cy="195.55" r="1.1" fill="#fff" stroke="#000" stroke-width="0.85"/>
<line x1="304.00" y1="189.09" x2="304.00" y2="195.09" stroke="#222" stroke-width="0.8"/>
<line x1="302.20" y1="189.09" x2="305.80" y2="189.09" stroke="#222" stroke-width="0.8"/>
<line x1="302.20" y1="195.09" x2="305.80" y2="195.09" stroke="#222" stroke-width="0.8"/>
<circle cx="312.01" cy="204.54" r="1.1" fill="#fff" stroke="#000" stroke-width="0.85"/>
<circle cx="311.82" cy="207.96" r="1.1" fill="#fff" stroke="#000" stroke-width="0.85"/>
<circle cx="311.94" cy="208.23" r="1.1" fill="#fff" stroke="#000" stroke-width="0.85"/>
<circle cx="310.63" cy="207.40" r="1.1" fill="#fff" stroke="#000" stroke-width="0.85"/>
<circle cx="310.87" cy="202.51" r="1.1" fill="#fff" stroke="#000" stroke-width="0.85"/>
<circle cx="309.82" cy="210.54" r="1.1" fill="#fff" stroke="#000" stroke-width="0.85"/>
<circle cx="311.64" cy="205.41" r="1.1" fill="#fff" stroke="#000" stroke-width="0.85"/>
<circle cx="311.69" cy="207.82" r="1.1" fill="#fff" stroke="#000" stroke-width="0.85"/>
<line x1="312.00" y1="205.19" x2="312.00" y2="209.19" stroke="#222" stroke-width="0.8"/>
<line x1="310.20" y1="205.19" x2="313.80" y2="205.19" stroke="#222" stroke-width="0.8"/>
<line x1="310.20" y1="209.19" x2="313.80" y2="209.19" stroke="#222" stroke-width="0.8"/>
<line x1="300.00" y1="227.50" x2="300.00" y2="230.00" stroke="#222" stroke-width="0.8"/>
<text x="303.60" y="235.30" font-size="8.1" text-anchor="end" font-style="italic" transform="rotate(-45 303.60 235.30)">LOC726880</text>
<text x="288.00" y="186.20" font-size="8.2" text-anchor="middle">b</text>
<text x="296.00" y="162.90" font-size="8.2" text-anchor="middle">a</text>
<text x="304.00" y="178.00" font-size="8.2" text-anchor="middle">ab</text>
<text x="312.00" y="190.50" font-size="8.2" text-anchor="middle">c</text>
<rect x="320.40" y="199.50" width="7.20" height="28.00" fill="#7ca1dc" stroke="#4f7fcb" stroke-width="0.8"/>
<rect x="328.40" y="189.07" width="7.20" height="38.43" fill="#f0968c" stroke="#ec7468" stroke-width="0.8"/>
<rect x="336.40" y="201.42" width="7.20" height="26.08" fill="#9fd3d9" stroke="#5fa9ae" stroke-width="0.8"/>
<rect x="344.40" y="206.64" width="7.20" height="20.86" fill="#a394d6" stroke="#6e5aa8" stroke-width="0.8"/>
<circle cx="324.19" cy="197.44" r="1.1" fill="#fff" stroke="#000" stroke-width="0.85"/>
<circle cx="326.11" cy="201.37" r="1.1" fill="#fff" stroke="#000" stroke-width="0.85"/>
<circle cx="324.15" cy="198.32" r="1.1" fill="#fff" stroke="#000" stroke-width="0.85"/>
<circle cx="324.23" cy="198.37" r="1.1" fill="#fff" stroke="#000" stroke-width="0.85"/>
<circle cx="326.27" cy="202.57" r="1.1" fill="#fff" stroke="#000" stroke-width="0.85"/>
<circle cx="326.02" cy="203.36" r="1.1" fill="#fff" stroke="#000" stroke-width="0.85"/>
<circle cx="322.81" cy="195.49" r="1.1" fill="#fff" stroke="#000" stroke-width="0.85"/>
<circle cx="324.29" cy="203.52" r="1.1" fill="#fff" stroke="#000" stroke-width="0.85"/>
<line x1="324.00" y1="198.00" x2="324.00" y2="201.00" stroke="#222" stroke-width="0.8"/>
<line x1="322.20" y1="198.00" x2="325.80" y2="198.00" stroke="#222" stroke-width="0.8"/>
<line x1="322.20" y1="201.00" x2="325.80" y2="201.00" stroke="#222" stroke-width="0.8"/>
<circle cx="331.79" cy="189.14" r="1.1" fill="#fff" stroke="#000" stroke-width="0.85"/>
<circle cx="331.47" cy="189.77" r="1.1" fill="#fff" stroke="#000" stroke-width="0.85"/>
<circle cx="330.43" cy="193.08" r="1.1" fill="#fff" stroke="#000" stroke-width="0.85"/>
<circle cx="333.21" cy="188.47" r="1.1" fill="#fff" stroke="#000" stroke-width="0.85"/>
<circle cx="333.87" cy="190.34" r="1.1" fill="#fff" stroke="#000" stroke-width="0.85"/>
<circle cx="331.35" cy="186.53" r="1.1" fill="#fff" stroke="#000" stroke-width="0.85"/>
<circle cx="330.31" cy="186.73" r="1.1" fill="#fff" stroke="#000" stroke-width="0.85"/>
<circle cx="332.06" cy="183.97" r="1.1" fill="#fff" stroke="#000" stroke-width="0.85"/>
<line x1="332.00" y1="187.07" x2="332.00" y2="191.07" stroke="#222" stroke-width="0.8"/>
<line x1="330.20" y1="187.07" x2="333.80" y2="187.07" stroke="#222" stroke-width="0.8"/>
<line x1="330.20" y1="191.07" x2="333.80" y2="191.07" stroke="#222" stroke-width="0.8"/>
<circle cx="339.95" cy="197.51" r="1.1" fill="#fff" stroke="#000" stroke-width="0.85"/>
<circle cx="342.16" cy="202.92" r="1.1" fill="#fff" stroke="#000" stroke-width="0.85"/>
<circle cx="341.33" cy="207.52" r="1.1" fill="#fff" stroke="#000" stroke-width="0.85"/>
<circle cx="338.42" cy="205.54" r="1.1" fill="#fff" stroke="#000" stroke-width="0.85"/>
<circle cx="339.69" cy="209.04" r="1.1" fill="#fff" stroke="#000" stroke-width="0.85"/>
<circle cx="338.16" cy="204.08" r="1.1" fill="#fff" stroke="#000" stroke-width="0.85"/>
<circle cx="341.57" cy="199.95" r="1.1" fill="#fff" stroke="#000" stroke-width="0.85"/>
<circle cx="340.00" cy="191.50" r="1.1" fill="#fff" stroke="#000" stroke-width="0.85"/>
<line x1="340.00" y1="198.92" x2="340.00" y2="203.92" stroke="#222" stroke-width="0.8"/>
<line x1="338.20" y1="198.92" x2="341.80" y2="198.92" stroke="#222" stroke-width="0.8"/>
<line x1="338.20" y1="203.92" x2="341.80" y2="203.92" stroke="#222" stroke-width="0.8"/>
<circle cx="349.64" cy="206.59" r="1.1" fill="#fff" stroke="#000" stroke-width="0.85"/>
<circle cx="347.44" cy="201.70" r="1.1" fill="#fff" stroke="#000" stroke-width="0.85"/>
<circle cx="348.69" cy="201.23" r="1.1" fill="#fff" stroke="#000" stroke-width="0.85"/>
<circle cx="347.12" cy="202.91" r="1.1" fill="#fff" stroke="#000" stroke-width="0.85"/>
<circle cx="345.95" cy="210.46" r="1.1" fill="#fff" stroke="#000" stroke-width="0.85"/>
<circle cx="347.09" cy="202.48" r="1.1" fill="#fff" stroke="#000" stroke-width="0.85"/>
<circle cx="347.89" cy="210.38" r="1.1" fill="#fff" stroke="#000" stroke-width="0.85"/>
<circle cx="349.84" cy="208.15" r="1.1" fill="#fff" stroke="#000" stroke-width="0.85"/>
<line x1="348.00" y1="204.64" x2="348.00" y2="208.64" stroke="#222" stroke-width="0.8"/>
<line x1="346.20" y1="204.64" x2="349.80" y2="204.64" stroke="#222" stroke-width="0.8"/>
<line x1="346.20" y1="208.64" x2="349.80" y2="208.64" stroke="#222" stroke-width="0.8"/>
<line x1="336.00" y1="227.50" x2="336.00" y2="230.00" stroke="#222" stroke-width="0.8"/>
<text x="339.60" y="235.30" font-size="8.1" text-anchor="end" font-style="italic" transform="rotate(-45 339.60 235.30)">bbc</text>
<text x="324.00" y="190.50" font-size="8.2" text-anchor="middle">b</text>
<text x="332.00" y="179.40" font-size="8.2" text-anchor="middle">a</text>
<text x="340.00" y="187.20" font-size="8.2" text-anchor="middle">b</text>
<text x="348.00" y="196.80" font-size="8.2" text-anchor="middle">c</text>
<rect x="356.40" y="198.13" width="7.20" height="29.37" fill="#7ca1dc" stroke="#4f7fcb" stroke-width="0.8"/>
<rect x="364.40" y="170.13" width="7.20" height="57.37" fill="#f0968c" stroke="#ec7468" stroke-width="0.8"/>
<rect x="372.40" y="184.13" width="7.20" height="43.37" fill="#9fd3d9" stroke="#5fa9ae" stroke-width="0.8"/>
<rect x="380.40" y="194.29" width="7.20" height="33.21" fill="#a394d6" stroke="#6e5aa8" stroke-width="0.8"/>
<circle cx="358.13" cy="191.02" r="1.1" fill="#fff" stroke="#000" stroke-width="0.85"/>
<circle cx="360.40" cy="201.96" r="1.1" fill="#fff" stroke="#000" stroke-width="0.85"/>
<circle cx="359.33" cy="201.35" r="1.1" fill="#fff" stroke="#000" stroke-width="0.85"/>
<circle cx="361.79" cy="196.96" r="1.1" fill="#fff" stroke="#000" stroke-width="0.85"/>
<circle cx="358.92" cy="205.76" r="1.1" fill="#fff" stroke="#000" stroke-width="0.85"/>
<circle cx="358.04" cy="192.68" r="1.1" fill="#fff" stroke="#000" stroke-width="0.85"/>
<circle cx="357.89" cy="203.69" r="1.1" fill="#fff" stroke="#000" stroke-width="0.85"/>
<circle cx="362.08" cy="202.43" r="1.1" fill="#fff" stroke="#000" stroke-width="0.85"/>
<line x1="360.00" y1="194.13" x2="360.00" y2="202.13" stroke="#222" stroke-width="0.8"/>
<line x1="358.20" y1="194.13" x2="361.80" y2="194.13" stroke="#222" stroke-width="0.8"/>
<line x1="358.20" y1="202.13" x2="361.80" y2="202.13" stroke="#222" stroke-width="0.8"/>
<circle cx="366.49" cy="167.79" r="1.1" fill="#fff" stroke="#000" stroke-width="0.85"/>
<circle cx="366.44" cy="184.60" r="1.1" fill="#fff" stroke="#000" stroke-width="0.85"/>
<circle cx="369.58" cy="192.03" r="1.1" fill="#fff" stroke="#000" stroke-width="0.85"/>
<circle cx="367.84" cy="186.24" r="1.1" fill="#fff" stroke="#000" stroke-width="0.85"/>
<circle cx="366.82" cy="188.61" r="1.1" fill="#fff" stroke="#000" stroke-width="0.85"/>
<circle cx="367.40" cy="182.35" r="1.1" fill="#fff" stroke="#000" stroke-width="0.85"/>
<circle cx="368.00" cy="126.70" r="1.1" fill="#fff" stroke="#000" stroke-width="0.85"/>
<circle cx="368.00" cy="157.60" r="1.1" fill="#fff" stroke="#000" stroke-width="0.85"/>
<line x1="368.00" y1="163.13" x2="368.00" y2="177.13" stroke="#222" stroke-width="0.8"/>
<line x1="366.20" y1="163.13" x2="369.80" y2="163.13" stroke="#222" stroke-width="0.8"/>
<line x1="366.20" y1="177.13" x2="369.80" y2="177.13" stroke="#222" stroke-width="0.8"/>
<circle cx="376.30" cy="188.18" r="1.1" fill="#fff" stroke="#000" stroke-width="0.85"/>
<circle cx="376.41" cy="192.02" r="1.1" fill="#fff" stroke="#000" stroke-width="0.85"/>
<circle cx="378.15" cy="198.81" r="1.1" fill="#fff" stroke="#000" stroke-width="0.85"/>
<circle cx="377.42" cy="195.22" r="1.1" fill="#fff" stroke="#000" stroke-width="0.85"/>
<circle cx="375.87" cy="192.36" r="1.1" fill="#fff" stroke="#000" stroke-width="0.85"/>
<circle cx="378.28" cy="199.86" r="1.1" fill="#fff" stroke="#000" stroke-width="0.85"/>
<circle cx="376.00" cy="159.00" r="1.1" fill="#fff" stroke="#000" stroke-width="0.85"/>
<circle cx="377.00" cy="171.70" r="1.1" fill="#fff" stroke="#000" stroke-width="0.85"/>
<line x1="376.00" y1="179.13" x2="376.00" y2="189.13" stroke="#222" stroke-width="0.8"/>
<line x1="374.20" y1="179.13" x2="377.80" y2="179.13" stroke="#222" stroke-width="0.8"/>
<line x1="374.20" y1="189.13" x2="377.80" y2="189.13" stroke="#222" stroke-width="0.8"/>
<circle cx="383.97" cy="200.47" r="1.1" fill="#fff" stroke="#000" stroke-width="0.85"/>
<circle cx="383.33" cy="195.27" r="1.1" fill="#fff" stroke="#000" stroke-width="0.85"/>
<circle cx="383.33" cy="188.49" r="1.1" fill="#fff" stroke="#000" stroke-width="0.85"/>
<circle cx="382.26" cy="189.38" r="1.1" fill="#fff" stroke="#000" stroke-width="0.85"/>
<circle cx="381.85" cy="189.20" r="1.1" fill="#fff" stroke="#000" stroke-width="0.85"/>
<circle cx="382.25" cy="195.09" r="1.1" fill="#fff" stroke="#000" stroke-width="0.85"/>
<circle cx="383.39" cy="196.11" r="1.1" fill="#fff" stroke="#000" stroke-width="0.85"/>
<circle cx="384.72" cy="200.39" r="1.1" fill="#fff" stroke="#000" stroke-width="0.85"/>
<line x1="384.00" y1="191.79" x2="384.00" y2="196.79" stroke="#222" stroke-width="0.8"/>
<line x1="382.20" y1="191.79" x2="385.80" y2="191.79" stroke="#222" stroke-width="0.8"/>
<line x1="382.20" y1="196.79" x2="385.80" y2="196.79" stroke="#222" stroke-width="0.8"/>
<line x1="372.00" y1="227.50" x2="372.00" y2="230.00" stroke="#222" stroke-width="0.8"/>
<text x="375.60" y="235.30" font-size="8.1" text-anchor="end" font-style="italic" transform="rotate(-45 375.60 235.30)">Pla2</text>
<text x="360.00" y="179.40" font-size="8.2" text-anchor="middle">b</text>
<text x="368.00" y="121.50" font-size="8.2" text-anchor="middle">a</text>
<text x="376.00" y="153.10" font-size="8.2" text-anchor="middle">ab</text>
<text x="384.00" y="177.30" font-size="8.2" text-anchor="middle">b</text>
<line x1="252.10" y1="105.30" x2="276.60" y2="105.30" stroke="#222" stroke-width="0.8"/>
<text x="264.50" y="102.60" font-size="8.2" text-anchor="middle">ns</text>
<line x1="26.50" y1="227.50" x2="391.00" y2="227.50" stroke="#222" stroke-width="1.0"/>
<line x1="28.50" y1="56.50" x2="28.50" y2="228.00" stroke="#222" stroke-width="1.0"/>
<text x="430.30" y="24.60" font-size="10.8">Fat body</text>
<line x1="430.30" y1="29.30" x2="670.00" y2="29.30" stroke="#444" stroke-width="1.0"/>
<text x="430.30" y="39.00" font-size="8.27">Glycerolipid metabolism &amp; Arachidonic acid metabolism</text>
<rect x="580.20" y="17.40" width="9.30" height="9.30" fill="#7a9fd8" stroke="#5a80c4" stroke-width="1.0"/>
<text x="592.30" y="25.10" font-size="8.2">GF</text>
<rect x="613.10" y="17.40" width="9.30" height="9.30" fill="#d6ecf8" stroke="#5cc0d6" stroke-width="1.0"/>
<text x="624.80" y="25.10" font-size="8.2">AR420626</text>
<line x1="451.50" y1="60.00" x2="451.50" y2="228.00" stroke="#222" stroke-width="1.0"/>
<line x1="449.20" y1="227.50" x2="671.00" y2="227.50" stroke="#222" stroke-width="1.0"/>
<line x1="449.30" y1="226.80" x2="451.50" y2="226.80" stroke="#222" stroke-width="0.8"/>
<text x="448.00" y="229.80" font-size="8.4" text-anchor="end">0</text>
<line x1="449.30" y1="171.80" x2="451.50" y2="171.80" stroke="#222" stroke-width="0.8"/>
<text x="448.00" y="174.80" font-size="8.4" text-anchor="end">1</text>
<line x1="449.30" y1="116.80" x2="451.50" y2="116.80" stroke="#222" stroke-width="0.8"/>
<text x="448.00" y="119.80" font-size="8.4" text-anchor="end">2</text>
<line x1="449.30" y1="61.80" x2="451.50" y2="61.80" stroke="#222" stroke-width="0.8"/>
<text x="448.00" y="64.80" font-size="8.4" text-anchor="end">3</text>
<text x="433.90" y="145.60" font-size="11" text-anchor="middle" transform="rotate(-90 433.90 145.60)">Relative expression</text>
<rect x="455.75" y="170.00" width="8.00" height="57.50" fill="#7a9fd8" stroke="#5a80c4" stroke-width="0.9"/>
<rect x="464.65" y="158.00" width="8.00" height="69.50" fill="#d6ecf8" stroke="#5cc0d6" stroke-width="0.9"/>
<circle cx="461.82" cy="183.27" r="1.1" fill="#fff" stroke="#000" stroke-width="0.85"/>
<circle cx="458.63" cy="177.14" r="1.1" fill="#fff" stroke="#000" stroke-width="0.85"/>
<circle cx="459.18" cy="182.11" r="1.1" fill="#fff" stroke="#000" stroke-width="0.85"/>
<circle cx="459.01" cy="183.38" r="1.1" fill="#fff" stroke="#000" stroke-width="0.85"/>
<circle cx="461.09" cy="176.93" r="1.1" fill="#fff" stroke="#000" stroke-width="0.85"/>
<circle cx="458.97" cy="161.45" r="1.1" fill="#fff" stroke="#000" stroke-width="0.85"/>
<circle cx="458.81" cy="172.09" r="1.1" fill="#fff" stroke="#000" stroke-width="0.85"/>
<circle cx="458.75" cy="135.40" r="1.1" fill="#fff" stroke="#000" stroke-width="0.85"/>
<line x1="459.75" y1="165.00" x2="459.75" y2="175.00" stroke="#222" stroke-width="0.8"/>
<line x1="457.75" y1="165.00" x2="461.75" y2="165.00" stroke="#222" stroke-width="0.8"/>
<line x1="457.75" y1="175.00" x2="461.75" y2="175.00" stroke="#222" stroke-width="0.8"/>
<circle cx="469.24" cy="159.52" r="1.1" fill="#fff" stroke="#000" stroke-width="0.85"/>
<circle cx="470.06" cy="149.96" r="1.1" fill="#fff" stroke="#000" stroke-width="0.85"/>
<circle cx="468.02" cy="152.25" r="1.1" fill="#fff" stroke="#000" stroke-width="0.85"/>
<circle cx="467.97" cy="161.41" r="1.1" fill="#fff" stroke="#000" stroke-width="0.85"/>
<circle cx="468.65" cy="145.00" r="1.1" fill="#fff" stroke="#000" stroke-width="0.85"/>
<circle cx="467.65" cy="149.30" r="1.1" fill="#fff" stroke="#000" stroke-width="0.85"/>
<circle cx="469.65" cy="165.90" r="1.1" fill="#fff" stroke="#000" stroke-width="0.85"/>
<circle cx="468.65" cy="179.10" r="1.1" fill="#fff" stroke="#000" stroke-width="0.85"/>
<line x1="468.65" y1="154.00" x2="468.65" y2="162.00" stroke="#222" stroke-width="0.8"/>
<line x1="466.65" y1="154.00" x2="470.65" y2="154.00" stroke="#222" stroke-width="0.8"/>
<line x1="466.65" y1="162.00" x2="470.65" y2="162.00" stroke="#222" stroke-width="0.8"/>
<line x1="464.20" y1="227.10" x2="464.20" y2="229.60" stroke="#222" stroke-width="0.8"/>
<text x="468.50" y="234.90" font-size="8.25" text-anchor="end" font-style="italic" transform="rotate(-45 468.50 234.90)">LOC408559</text>
<text x="470.00" y="133.90" font-size="8.6" text-anchor="middle">ns</text>
<rect x="477.32" y="171.30" width="8.00" height="56.20" fill="#7a9fd8" stroke="#5a80c4" stroke-width="0.9"/>
<rect x="486.22" y="155.00" width="8.00" height="72.50" fill="#d6ecf8" stroke="#5cc0d6" stroke-width="0.9"/>
<circle cx="481.56" cy="176.11" r="1.1" fill="#fff" stroke="#000" stroke-width="0.85"/>
<circle cx="480.89" cy="177.30" r="1.1" fill="#fff" stroke="#000" stroke-width="0.85"/>
<circle cx="479.73" cy="177.58" r="1.1" fill="#fff" stroke="#000" stroke-width="0.85"/>
<circle cx="483.16" cy="178.75" r="1.1" fill="#fff" stroke="#000" stroke-width="0.85"/>
<circle cx="481.57" cy="175.36" r="1.1" fill="#fff" stroke="#000" stroke-width="0.85"/>
<circle cx="482.34" cy="168.21" r="1.1" fill="#fff" stroke="#000" stroke-width="0.85"/>
<circle cx="483.54" cy="178.97" r="1.1" fill="#fff" stroke="#000" stroke-width="0.85"/>
<circle cx="481.32" cy="157.00" r="1.1" fill="#fff" stroke="#000" stroke-width="0.85"/>
<line x1="481.32" y1="168.80" x2="481.32" y2="173.80" stroke="#222" stroke-width="0.8"/>
<line x1="479.32" y1="168.80" x2="483.32" y2="168.80" stroke="#222" stroke-width="0.8"/>
<line x1="479.32" y1="173.80" x2="483.32" y2="173.80" stroke="#222" stroke-width="0.8"/>
<circle cx="488.48" cy="152.18" r="1.1" fill="#fff" stroke="#000" stroke-width="0.85"/>
<circle cx="491.34" cy="155.01" r="1.1" fill="#fff" stroke="#000" stroke-width="0.85"/>
<circle cx="489.19" cy="154.33" r="1.1" fill="#fff" stroke="#000" stroke-width="0.85"/>
<circle cx="488.52" cy="167.64" r="1.1" fill="#fff" stroke="#000" stroke-width="0.85"/>
<circle cx="491.65" cy="161.67" r="1.1" fill="#fff" stroke="#000" stroke-width="0.85"/>
<circle cx="488.29" cy="156.30" r="1.1" fill="#fff" stroke="#000" stroke-width="0.85"/>
<circle cx="490.22" cy="134.60" r="1.1" fill="#fff" stroke="#000" stroke-width="0.85"/>
<circle cx="491.22" cy="143.00" r="1.1" fill="#fff" stroke="#000" stroke-width="0.85"/>
<line x1="490.22" y1="151.50" x2="490.22" y2="158.50" stroke="#222" stroke-width="0.8"/>
<line x1="488.22" y1="151.50" x2="492.22" y2="151.50" stroke="#222" stroke-width="0.8"/>
<line x1="488.22" y1="158.50" x2="492.22" y2="158.50" stroke="#222" stroke-width="0.8"/>
<line x1="485.77" y1="227.10" x2="485.77" y2="229.60" stroke="#222" stroke-width="0.8"/>
<text x="490.07" y="234.90" font-size="8.25" text-anchor="end" font-style="italic" transform="rotate(-45 490.07 234.90)">LOC551968</text>
<text x="489.80" y="130.80" font-size="8.6" text-anchor="middle">**</text>
<rect x="498.89" y="168.90" width="8.00" height="58.60" fill="#7a9fd8" stroke="#5a80c4" stroke-width="0.9"/>
<rect x="507.79" y="109.30" width="8.00" height="118.20" fill="#d6ecf8" stroke="#5cc0d6" stroke-width="0.9"/>
<circle cx="500.87" cy="194.63" r="1.1" fill="#fff" stroke="#000" stroke-width="0.85"/>
<circle cx="502.44" cy="191.29" r="1.1" fill="#fff" stroke="#000" stroke-width="0.85"/>
<circle cx="502.59" cy="170.96" r="1.1" fill="#fff" stroke="#000" stroke-width="0.85"/>
<circle cx="504.66" cy="188.36" r="1.1" fill="#fff" stroke="#000" stroke-width="0.85"/>
<circle cx="502.51" cy="174.02" r="1.1" fill="#fff" stroke="#000" stroke-width="0.85"/>
<circle cx="502.89" cy="135.40" r="1.1" fill="#fff" stroke="#000" stroke-width="0.85"/>
<circle cx="501.89" cy="153.80" r="1.1" fill="#fff" stroke="#000" stroke-width="0.85"/>
<circle cx="502.89" cy="156.40" r="1.1" fill="#fff" stroke="#000" stroke-width="0.85"/>
<line x1="502.89" y1="161.90" x2="502.89" y2="175.90" stroke="#222" stroke-width="0.8"/>
<line x1="500.89" y1="161.90" x2="504.89" y2="161.90" stroke="#222" stroke-width="0.8"/>
<line x1="500.89" y1="175.90" x2="504.89" y2="175.90" stroke="#222" stroke-width="0.8"/>
<circle cx="513.44" cy="102.95" r="1.1" fill="#fff" stroke="#000" stroke-width="0.85"/>
<circle cx="513.15" cy="105.67" r="1.1" fill="#fff" stroke="#000" stroke-width="0.85"/>
<circle cx="511.79" cy="93.60" r="1.1" fill="#fff" stroke="#000" stroke-width="0.85"/>
<circle cx="512.09" cy="95.00" r="1.1" fill="#fff" stroke="#000" stroke-width="0.85"/>
<circle cx="511.79" cy="105.20" r="1.1" fill="#fff" stroke="#000" stroke-width="0.85"/>
<circle cx="512.79" cy="108.00" r="1.1" fill="#fff" stroke="#000" stroke-width="0.85"/>
<circle cx="510.79" cy="111.00" r="1.1" fill="#fff" stroke="#000" stroke-width="0.85"/>
<circle cx="512.79" cy="117.80" r="1.1" fill="#fff" stroke="#000" stroke-width="0.85"/>
<circle cx="511.79" cy="132.80" r="1.1" fill="#fff" stroke="#000" stroke-width="0.85"/>
<line x1="511.79" y1="106.30" x2="511.79" y2="112.30" stroke="#222" stroke-width="0.8"/>
<line x1="509.79" y1="106.30" x2="513.79" y2="106.30" stroke="#222" stroke-width="0.8"/>
<line x1="509.79" y1="112.30" x2="513.79" y2="112.30" stroke="#222" stroke-width="0.8"/>
<line x1="507.34" y1="227.10" x2="507.34" y2="229.60" stroke="#222" stroke-width="0.8"/>
<text x="511.64" y="234.90" font-size="8.25" text-anchor="end" font-style="italic" transform="rotate(-45 511.64 234.90)">LOC409261</text>
<text x="512.00" y="90.90" font-size="8.6" text-anchor="middle">***</text>
<rect x="520.46" y="169.90" width="8.00" height="57.60" fill="#7a9fd8" stroke="#5a80c4" stroke-width="0.9"/>
<rect x="529.36" y="154.40" width="8.00" height="73.10" fill="#d6ecf8" stroke="#5cc0d6" stroke-width="0.9"/>
<circle cx="522.65" cy="175.56" r="1.1" fill="#fff" stroke="#000" stroke-width="0.85"/>
<circle cx="526.00" cy="173.75" r="1.1" fill="#fff" stroke="#000" stroke-width="0.85"/>
<circle cx="524.41" cy="173.26" r="1.1" fill="#fff" stroke="#000" stroke-width="0.85"/>
<circle cx="524.46" cy="153.40" r="1.1" fill="#fff" stroke="#000" stroke-width="0.85"/>
<circle cx="524.46" cy="159.30" r="1.1" fill="#fff" stroke="#000" stroke-width="0.85"/>
<circle cx="524.46" cy="175.40" r="1.1" fill="#fff" stroke="#000" stroke-width="0.85"/>
<circle cx="524.46" cy="185.80" r="1.1" fill="#fff" stroke="#000" stroke-width="0.85"/>
<circle cx="524.96" cy="188.60" r="1.1" fill="#fff" stroke="#000" stroke-width="0.85"/>
<line x1="524.46" y1="165.50" x2="524.46" y2="174.30" stroke="#222" stroke-width="0.8"/>
<line x1="522.46" y1="165.50" x2="526.46" y2="165.50" stroke="#222" stroke-width="0.8"/>
<line x1="522.46" y1="174.30" x2="526.46" y2="174.30" stroke="#222" stroke-width="0.8"/>
<circle cx="534.20" cy="166.89" r="1.1" fill="#fff" stroke="#000" stroke-width="0.85"/>
<circle cx="533.10" cy="169.46" r="1.1" fill="#fff" stroke="#000" stroke-width="0.85"/>
<circle cx="533.52" cy="151.47" r="1.1" fill="#fff" stroke="#000" stroke-width="0.85"/>
<circle cx="533.36" cy="127.00" r="1.1" fill="#fff" stroke="#000" stroke-width="0.85"/>
<circle cx="533.36" cy="144.00" r="1.1" fill="#fff" stroke="#000" stroke-width="0.85"/>
<circle cx="533.36" cy="157.20" r="1.1" fill="#fff" stroke="#000" stroke-width="0.85"/>
<circle cx="533.36" cy="168.00" r="1.1" fill="#fff" stroke="#000" stroke-width="0.85"/>
<circle cx="533.36" cy="172.10" r="1.1" fill="#fff" stroke="#000" stroke-width="0.85"/>
<line x1="533.36" y1="149.40" x2="533.36" y2="159.40" stroke="#222" stroke-width="0.8"/>
<line x1="531.36" y1="149.40" x2="535.36" y2="149.40" stroke="#222" stroke-width="0.8"/>
<line x1="531.36" y1="159.40" x2="535.36" y2="159.40" stroke="#222" stroke-width="0.8"/>
<line x1="528.91" y1="227.10" x2="528.91" y2="229.60" stroke="#222" stroke-width="0.8"/>
<text x="533.21" y="234.90" font-size="8.25" text-anchor="end" font-style="italic" transform="rotate(-45 533.21 234.90)">mino</text>
<text x="533.60" y="124.50" font-size="8.6" text-anchor="middle">*</text>
<rect x="542.03" y="167.10" width="8.00" height="60.40" fill="#7a9fd8" stroke="#5a80c4" stroke-width="0.9"/>
<rect x="550.93" y="137.30" width="8.00" height="90.20" fill="#d6ecf8" stroke="#5cc0d6" stroke-width="0.9"/>
<circle cx="546.81" cy="164.47" r="1.1" fill="#fff" stroke="#000" stroke-width="0.85"/>
<circle cx="545.19" cy="148.11" r="1.1" fill="#fff" stroke="#000" stroke-width="0.85"/>
<circle cx="545.03" cy="119.10" r="1.1" fill="#fff" stroke="#000" stroke-width="0.85"/>
<circle cx="546.03" cy="149.70" r="1.1" fill="#fff" stroke="#000" stroke-width="0.85"/>
<circle cx="546.03" cy="172.10" r="1.1" fill="#fff" stroke="#000" stroke-width="0.85"/>
<circle cx="546.03" cy="185.30" r="1.1" fill="#fff" stroke="#000" stroke-width="0.85"/>
<circle cx="546.03" cy="191.10" r="1.1" fill="#fff" stroke="#000" stroke-width="0.85"/>
<circle cx="546.03" cy="196.90" r="1.1" fill="#fff" stroke="#000" stroke-width="0.85"/>
<line x1="546.03" y1="158.20" x2="546.03" y2="176.00" stroke="#222" stroke-width="0.8"/>
<line x1="544.03" y1="158.20" x2="548.03" y2="158.20" stroke="#222" stroke-width="0.8"/>
<line x1="544.03" y1="176.00" x2="548.03" y2="176.00" stroke="#222" stroke-width="0.8"/>
<circle cx="554.78" cy="127.64" r="1.1" fill="#fff" stroke="#000" stroke-width="0.85"/>
<circle cx="553.43" cy="121.68" r="1.1" fill="#fff" stroke="#000" stroke-width="0.85"/>
<circle cx="553.93" cy="92.00" r="1.1" fill="#fff" stroke="#000" stroke-width="0.85"/>
<circle cx="554.93" cy="93.20" r="1.1" fill="#fff" stroke="#000" stroke-width="0.85"/>
<circle cx="554.93" cy="102.40" r="1.1" fill="#fff" stroke="#000" stroke-width="0.85"/>
<circle cx="554.93" cy="144.30" r="1.1" fill="#fff" stroke="#000" stroke-width="0.85"/>
<circle cx="553.93" cy="170.50" r="1.1" fill="#fff" stroke="#000" stroke-width="0.85"/>
<circle cx="554.93" cy="183.80" r="1.1" fill="#fff" stroke="#000" stroke-width="0.85"/>
<circle cx="555.93" cy="186.30" r="1.1" fill="#fff" stroke="#000" stroke-width="0.85"/>
<line x1="554.93" y1="123.10" x2="554.93" y2="151.50" stroke="#222" stroke-width="0.8"/>
<line x1="552.93" y1="123.10" x2="556.93" y2="123.10" stroke="#222" stroke-width="0.8"/>
<line x1="552.93" y1="151.50" x2="556.93" y2="151.50" stroke="#222" stroke-width="0.8"/>
<line x1="550.48" y1="227.10" x2="550.48" y2="229.60" stroke="#222" stroke-width="0.8"/>
<text x="554.78" y="234.90" font-size="8.25" text-anchor="end" font-style="italic" transform="rotate(-45 554.78 234.90)">LOC724951</text>
<text x="555.30" y="88.10" font-size="8.6" text-anchor="middle">ns</text>
<rect x="563.60" y="168.00" width="8.00" height="59.50" fill="#7a9fd8" stroke="#5a80c4" stroke-width="0.9"/>
<rect x="572.50" y="165.50" width="8.00" height="62.00" fill="#d6ecf8" stroke="#5cc0d6" stroke-width="0.9"/>
<circle cx="567.47" cy="181.01" r="1.1" fill="#fff" stroke="#000" stroke-width="0.85"/>
<circle cx="565.48" cy="177.25" r="1.1" fill="#fff" stroke="#000" stroke-width="0.85"/>
<circle cx="567.60" cy="126.90" r="1.1" fill="#fff" stroke="#000" stroke-width="0.85"/>
<circle cx="567.60" cy="153.40" r="1.1" fill="#fff" stroke="#000" stroke-width="0.85"/>
<circle cx="567.60" cy="158.00" r="1.1" fill="#fff" stroke="#000" stroke-width="0.85"/>
<circle cx="567.60" cy="175.40" r="1.1" fill="#fff" stroke="#000" stroke-width="0.85"/>
<circle cx="567.60" cy="185.30" r="1.1" fill="#fff" stroke="#000" stroke-width="0.85"/>
<circle cx="567.60" cy="202.00" r="1.1" fill="#fff" stroke="#000" stroke-width="0.85"/>
<line x1="567.60" y1="160.00" x2="567.60" y2="176.00" stroke="#222" stroke-width="0.8"/>
<line x1="565.60" y1="160.00" x2="569.60" y2="160.00" stroke="#222" stroke-width="0.8"/>
<line x1="565.60" y1="176.00" x2="569.60" y2="176.00" stroke="#222" stroke-width="0.8"/>
<circle cx="577.29" cy="163.91" r="1.1" fill="#fff" stroke="#000" stroke-width="0.85"/>
<circle cx="574.27" cy="172.44" r="1.1" fill="#fff" stroke="#000" stroke-width="0.85"/>
<circle cx="578.79" cy="156.37" r="1.1" fill="#fff" stroke="#000" stroke-width="0.85"/>
<circle cx="576.50" cy="124.00" r="1.1" fill="#fff" stroke="#000" stroke-width="0.85"/>
<circle cx="576.50" cy="137.00" r="1.1" fill="#fff" stroke="#000" stroke-width="0.85"/>
<circle cx="576.50" cy="179.20" r="1.1" fill="#fff" stroke="#000" stroke-width="0.85"/>
<circle cx="576.50" cy="193.60" r="1.1" fill="#fff" stroke="#000" stroke-width="0.85"/>
<circle cx="576.50" cy="199.50" r="1.1" fill="#fff" stroke="#000" stroke-width="0.85"/>
<line x1="576.50" y1="156.70" x2="576.50" y2="174.30" stroke="#222" stroke-width="0.8"/>
<line x1="574.50" y1="156.70" x2="578.50" y2="156.70" stroke="#222" stroke-width="0.8"/>
<line x1="574.50" y1="174.30" x2="578.50" y2="174.30" stroke="#222" stroke-width="0.8"/>
<line x1="572.05" y1="227.10" x2="572.05" y2="229.60" stroke="#222" stroke-width="0.8"/>
<text x="576.35" y="234.90" font-size="8.25" text-anchor="end" font-style="italic" transform="rotate(-45 576.35 234.90)">LOC724995</text>
<text x="577.90" y="118.60" font-size="8.6" text-anchor="middle">ns</text>
<rect x="585.17" y="171.20" width="8.00" height="56.30" fill="#7a9fd8" stroke="#5a80c4" stroke-width="0.9"/>
<rect x="594.07" y="149.20" width="8.00" height="78.30" fill="#d6ecf8" stroke="#5cc0d6" stroke-width="0.9"/>
<circle cx="587.07" cy="183.02" r="1.1" fill="#fff" stroke="#000" stroke-width="0.85"/>
<circle cx="586.89" cy="182.49" r="1.1" fill="#fff" stroke="#000" stroke-width="0.85"/>
<circle cx="590.89" cy="187.15" r="1.1" fill="#fff" stroke="#000" stroke-width="0.85"/>
<circle cx="587.98" cy="183.68" r="1.1" fill="#fff" stroke="#000" stroke-width="0.85"/>
<circle cx="587.23" cy="187.01" r="1.1" fill="#fff" stroke="#000" stroke-width="0.85"/>
<circle cx="588.17" cy="154.10" r="1.1" fill="#fff" stroke="#000" stroke-width="0.85"/>
<circle cx="590.17" cy="155.90" r="1.1" fill="#fff" stroke="#000" stroke-width="0.85"/>
<circle cx="589.17" cy="175.80" r="1.1" fill="#fff" stroke="#000" stroke-width="0.85"/>
<line x1="589.17" y1="167.20" x2="589.17" y2="175.20" stroke="#222" stroke-width="0.8"/>
<line x1="587.17" y1="167.20" x2="591.17" y2="167.20" stroke="#222" stroke-width="0.8"/>
<line x1="587.17" y1="175.20" x2="591.17" y2="175.20" stroke="#222" stroke-width="0.8"/>
<circle cx="596.67" cy="163.82" r="1.1" fill="#fff" stroke="#000" stroke-width="0.85"/>
<circle cx="596.69" cy="162.91" r="1.1" fill="#fff" stroke="#000" stroke-width="0.85"/>
<circle cx="597.38" cy="153.52" r="1.1" fill="#fff" stroke="#000" stroke-width="0.85"/>
<circle cx="599.03" cy="162.13" r="1.1" fill="#fff" stroke="#000" stroke-width="0.85"/>
<circle cx="598.07" cy="82.10" r="1.1" fill="#fff" stroke="#000" stroke-width="0.85"/>
<circle cx="598.07" cy="137.40" r="1.1" fill="#fff" stroke="#000" stroke-width="0.85"/>
<circle cx="597.07" cy="161.10" r="1.1" fill="#fff" stroke="#000" stroke-width="0.85"/>
<circle cx="599.07" cy="168.10" r="1.1" fill="#fff" stroke="#000" stroke-width="0.85"/>
<line x1="598.07" y1="137.80" x2="598.07" y2="160.60" stroke="#222" stroke-width="0.8"/>
<line x1="596.07" y1="137.80" x2="600.07" y2="137.80" stroke="#222" stroke-width="0.8"/>
<line x1="596.07" y1="160.60" x2="600.07" y2="160.60" stroke="#222" stroke-width="0.8"/>
<line x1="593.62" y1="227.10" x2="593.62" y2="229.60" stroke="#222" stroke-width="0.8"/>
<text x="597.92" y="234.90" font-size="8.25" text-anchor="end" font-style="italic" transform="rotate(-45 597.92 234.90)">Lpin</text>
<text x="598.70" y="78.70" font-size="8.6" text-anchor="middle">*</text>
<rect x="606.74" y="170.50" width="8.00" height="57.00" fill="#7a9fd8" stroke="#5a80c4" stroke-width="0.9"/>
<rect x="615.64" y="144.30" width="8.00" height="83.20" fill="#d6ecf8" stroke="#5cc0d6" stroke-width="0.9"/>
<circle cx="608.51" cy="156.43" r="1.1" fill="#fff" stroke="#000" stroke-width="0.85"/>
<circle cx="613.01" cy="155.69" r="1.1" fill="#fff" stroke="#000" stroke-width="0.85"/>
<circle cx="610.96" cy="161.61" r="1.1" fill="#fff" stroke="#000" stroke-width="0.85"/>
<circle cx="610.15" cy="160.76" r="1.1" fill="#fff" stroke="#000" stroke-width="0.85"/>
<circle cx="610.27" cy="178.72" r="1.1" fill="#fff" stroke="#000" stroke-width="0.85"/>
<circle cx="610.74" cy="151.30" r="1.1" fill="#fff" stroke="#000" stroke-width="0.85"/>
<circle cx="610.74" cy="178.60" r="1.1" fill="#fff" stroke="#000" stroke-width="0.85"/>
<circle cx="610.74" cy="192.60" r="1.1" fill="#fff" stroke="#000" stroke-width="0.85"/>
<line x1="610.74" y1="165.50" x2="610.74" y2="175.50" stroke="#222" stroke-width="0.8"/>
<line x1="608.74" y1="165.50" x2="612.74" y2="165.50" stroke="#222" stroke-width="0.8"/>
<line x1="608.74" y1="175.50" x2="612.74" y2="175.50" stroke="#222" stroke-width="0.8"/>
<circle cx="621.33" cy="140.22" r="1.1" fill="#fff" stroke="#000" stroke-width="0.85"/>
<circle cx="619.28" cy="153.26" r="1.1" fill="#fff" stroke="#000" stroke-width="0.85"/>
<circle cx="619.64" cy="123.40" r="1.1" fill="#fff" stroke="#000" stroke-width="0.85"/>
<circle cx="619.64" cy="132.10" r="1.1" fill="#fff" stroke="#000" stroke-width="0.85"/>
<circle cx="619.64" cy="136.70" r="1.1" fill="#fff" stroke="#000" stroke-width="0.85"/>
<circle cx="619.64" cy="141.50" r="1.1" fill="#fff" stroke="#000" stroke-width="0.85"/>
<circle cx="619.64" cy="158.30" r="1.1" fill="#fff" stroke="#000" stroke-width="0.85"/>
<circle cx="619.64" cy="162.50" r="1.1" fill="#fff" stroke="#000" stroke-width="0.85"/>
<line x1="619.64" y1="139.30" x2="619.64" y2="149.30" stroke="#222" stroke-width="0.8"/>
<line x1="617.64" y1="139.30" x2="621.64" y2="139.30" stroke="#222" stroke-width="0.8"/>
<line x1="617.64" y1="149.30" x2="621.64" y2="149.30" stroke="#222" stroke-width="0.8"/>
<line x1="615.19" y1="227.10" x2="615.19" y2="229.60" stroke="#222" stroke-width="0.8"/>
<text x="619.49" y="234.90" font-size="8.25" text-anchor="end" font-style="italic" transform="rotate(-45 619.49 234.90)">LOC726880</text>
<text x="620.40" y="118.80" font-size="8.6" text-anchor="middle">**</text>
<rect x="628.31" y="171.20" width="8.00" height="56.30" fill="#7a9fd8" stroke="#5a80c4" stroke-width="0.9"/>
<rect x="637.21" y="146.10" width="8.00" height="81.40" fill="#d6ecf8" stroke="#5cc0d6" stroke-width="0.9"/>
<circle cx="631.36" cy="171.10" r="1.1" fill="#fff" stroke="#000" stroke-width="0.85"/>
<circle cx="634.46" cy="178.48" r="1.1" fill="#fff" stroke="#000" stroke-width="0.85"/>
<circle cx="633.00" cy="174.03" r="1.1" fill="#fff" stroke="#000" stroke-width="0.85"/>
<circle cx="631.31" cy="168.97" r="1.1" fill="#fff" stroke="#000" stroke-width="0.85"/>
<circle cx="634.49" cy="182.23" r="1.1" fill="#fff" stroke="#000" stroke-width="0.85"/>
<circle cx="634.04" cy="163.07" r="1.1" fill="#fff" stroke="#000" stroke-width="0.85"/>
<circle cx="632.31" cy="163.60" r="1.1" fill="#fff" stroke="#000" stroke-width="0.85"/>
<circle cx="632.31" cy="182.80" r="1.1" fill="#fff" stroke="#000" stroke-width="0.85"/>
<line x1="632.31" y1="167.20" x2="632.31" y2="175.20" stroke="#222" stroke-width="0.8"/>
<line x1="630.31" y1="167.20" x2="634.31" y2="167.20" stroke="#222" stroke-width="0.8"/>
<line x1="630.31" y1="175.20" x2="634.31" y2="175.20" stroke="#222" stroke-width="0.8"/>
<circle cx="639.75" cy="151.61" r="1.1" fill="#fff" stroke="#000" stroke-width="0.85"/>
<circle cx="640.71" cy="143.03" r="1.1" fill="#fff" stroke="#000" stroke-width="0.85"/>
<circle cx="640.81" cy="136.80" r="1.1" fill="#fff" stroke="#000" stroke-width="0.85"/>
<circle cx="641.36" cy="146.31" r="1.1" fill="#fff" stroke="#000" stroke-width="0.85"/>
<circle cx="641.21" cy="125.10" r="1.1" fill="#fff" stroke="#000" stroke-width="0.85"/>
<circle cx="641.21" cy="135.60" r="1.1" fill="#fff" stroke="#000" stroke-width="0.85"/>
<circle cx="641.21" cy="158.30" r="1.1" fill="#fff" stroke="#000" stroke-width="0.85"/>
<circle cx="641.21" cy="161.10" r="1.1" fill="#fff" stroke="#000" stroke-width="0.85"/>
<line x1="641.21" y1="142.60" x2="641.21" y2="149.60" stroke="#222" stroke-width="0.8"/>
<line x1="639.21" y1="142.60" x2="643.21" y2="142.60" stroke="#222" stroke-width="0.8"/>
<line x1="639.21" y1="149.60" x2="643.21" y2="149.60" stroke="#222" stroke-width="0.8"/>
<line x1="636.76" y1="227.10" x2="636.76" y2="229.60" stroke="#222" stroke-width="0.8"/>
<text x="641.06" y="234.90" font-size="8.25" text-anchor="end" font-style="italic" transform="rotate(-45 641.06 234.90)">bbc</text>
<text x="641.70" y="120.60" font-size="8.6" text-anchor="middle">**</text>
<rect x="649.88" y="168.40" width="8.00" height="59.10" fill="#7a9fd8" stroke="#5a80c4" stroke-width="0.9"/>
<rect x="658.78" y="123.40" width="8.00" height="104.10" fill="#d6ecf8" stroke="#5cc0d6" stroke-width="0.9"/>
<circle cx="651.81" cy="157.18" r="1.1" fill="#fff" stroke="#000" stroke-width="0.85"/>
<circle cx="653.53" cy="170.13" r="1.1" fill="#fff" stroke="#000" stroke-width="0.85"/>
<circle cx="653.18" cy="177.03" r="1.1" fill="#fff" stroke="#000" stroke-width="0.85"/>
<circle cx="655.78" cy="160.72" r="1.1" fill="#fff" stroke="#000" stroke-width="0.85"/>
<circle cx="653.88" cy="127.60" r="1.1" fill="#fff" stroke="#000" stroke-width="0.85"/>
<circle cx="653.88" cy="152.00" r="1.1" fill="#fff" stroke="#000" stroke-width="0.85"/>
<circle cx="653.88" cy="189.00" r="1.1" fill="#fff" stroke="#000" stroke-width="0.85"/>
<circle cx="653.88" cy="196.70" r="1.1" fill="#fff" stroke="#000" stroke-width="0.85"/>
<line x1="653.88" y1="163.40" x2="653.88" y2="173.40" stroke="#222" stroke-width="0.8"/>
<line x1="651.88" y1="163.40" x2="655.88" y2="163.40" stroke="#222" stroke-width="0.8"/>
<line x1="651.88" y1="173.40" x2="655.88" y2="173.40" stroke="#222" stroke-width="0.8"/>
<circle cx="662.81" cy="160.66" r="1.1" fill="#fff" stroke="#000" stroke-width="0.85"/>
<circle cx="661.07" cy="157.71" r="1.1" fill="#fff" stroke="#000" stroke-width="0.85"/>
<circle cx="662.78" cy="64.00" r="1.1" fill="#fff" stroke="#000" stroke-width="0.85"/>
<circle cx="662.78" cy="68.20" r="1.1" fill="#fff" stroke="#000" stroke-width="0.85"/>
<circle cx="662.78" cy="87.70" r="1.1" fill="#fff" stroke="#000" stroke-width="0.85"/>
<circle cx="662.78" cy="140.10" r="1.1" fill="#fff" stroke="#000" stroke-width="0.85"/>
<circle cx="662.78" cy="146.10" r="1.1" fill="#fff" stroke="#000" stroke-width="0.85"/>
<circle cx="662.78" cy="162.50" r="1.1" fill="#fff" stroke="#000" stroke-width="0.85"/>
<line x1="662.78" y1="108.40" x2="662.78" y2="138.40" stroke="#222" stroke-width="0.8"/>
<line x1="660.78" y1="108.40" x2="664.78" y2="108.40" stroke="#222" stroke-width="0.8"/>
<line x1="660.78" y1="138.40" x2="664.78" y2="138.40" stroke="#222" stroke-width="0.8"/>
<line x1="658.33" y1="227.10" x2="658.33" y2="229.60" stroke="#222" stroke-width="0.8"/>
<text x="662.63" y="234.90" font-size="8.25" text-anchor="end" font-style="italic" transform="rotate(-45 662.63 234.90)">Pla2</text>
<text x="663.00" y="59.40" font-size="8.6" text-anchor="middle">*</text>
<line x1="449.20" y1="227.50" x2="671.00" y2="227.50" stroke="#222" stroke-width="1.0"/>
<line x1="451.50" y1="60.00" x2="451.50" y2="228.00" stroke="#222" stroke-width="1.0"/>
<text x="79.90" y="331.10" font-size="10.8" text-anchor="middle">Fat body</text>
<line x1="55.70" y1="345.40" x2="115.90" y2="345.40" stroke="#222" stroke-width="0.9"/>
<line x1="55.70" y1="353.30" x2="85.80" y2="353.30" stroke="#222" stroke-width="0.9"/>
<text x="87.00" y="346.90" font-size="10.0" text-anchor="middle">*</text>
<text x="72.00" y="355.10" font-size="10.0" text-anchor="middle">*</text>
<line x1="35.50" y1="355.50" x2="35.50" y2="477.00" stroke="#222" stroke-width="1.0"/>
<line x1="33.20" y1="476.50" x2="138.30" y2="476.50" stroke="#222" stroke-width="1.0"/>
<line x1="33.30" y1="476.30" x2="35.50" y2="476.30" stroke="#222" stroke-width="0.8"/>
<text x="31.60" y="479.30" font-size="8.4" text-anchor="end">0</text>
<line x1="33.30" y1="446.30" x2="35.50" y2="446.30" stroke="#222" stroke-width="0.8"/>
<text x="31.60" y="449.30" font-size="8.4" text-anchor="end">50</text>
<line x1="33.30" y1="416.30" x2="35.50" y2="416.30" stroke="#222" stroke-width="0.8"/>
<text x="31.60" y="419.30" font-size="8.4" text-anchor="end">100</text>
<line x1="33.30" y1="386.30" x2="35.50" y2="386.30" stroke="#222" stroke-width="0.8"/>
<text x="31.60" y="389.30" font-size="8.4" text-anchor="end">150</text>
<line x1="33.30" y1="356.30" x2="35.50" y2="356.30" stroke="#222" stroke-width="0.8"/>
<text x="31.60" y="359.30" font-size="8.4" text-anchor="end">200</text>
<text x="11.00" y="407.20" font-size="10.6" text-anchor="middle" transform="rotate(-90 11.00 407.20)">HDAC activity</text>
<rect x="47.50" y="387.10" width="16.90" height="89.20" fill="#7ca1dc" stroke="#4f7fcb" stroke-width="0.9"/>
<rect x="77.50" y="439.60" width="17.20" height="36.70" fill="#f0968c" stroke="#ec7468" stroke-width="0.9"/>
<rect x="107.40" y="432.30" width="17.10" height="44.00" fill="#f3cd85" stroke="#e2b357" stroke-width="0.9"/>
<circle cx="59.30" cy="359.20" r="1.3" fill="#fff" stroke="#000" stroke-width="0.85"/>
<circle cx="57.80" cy="392.60" r="1.3" fill="#fff" stroke="#000" stroke-width="0.85"/>
<circle cx="59.70" cy="397.80" r="1.3" fill="#fff" stroke="#000" stroke-width="0.85"/>
<circle cx="56.90" cy="401.10" r="1.3" fill="#fff" stroke="#000" stroke-width="0.85"/>
<circle cx="83.20" cy="434.50" r="1.3" fill="#fff" stroke="#000" stroke-width="0.85"/>
<circle cx="86.80" cy="438.20" r="1.3" fill="#fff" stroke="#000" stroke-width="0.85"/>
<circle cx="85.60" cy="442.20" r="1.3" fill="#fff" stroke="#000" stroke-width="0.85"/>
<circle cx="81.90" cy="444.00" r="1.3" fill="#fff" stroke="#000" stroke-width="0.85"/>
<circle cx="114.40" cy="430.50" r="1.3" fill="#fff" stroke="#000" stroke-width="0.85"/>
<circle cx="116.80" cy="430.30" r="1.3" fill="#fff" stroke="#000" stroke-width="0.85"/>
<circle cx="116.80" cy="438.50" r="1.3" fill="#fff" stroke="#000" stroke-width="0.85"/>
<line x1="56.00" y1="378.10" x2="56.00" y2="397.40" stroke="#222" stroke-width="0.9"/>
<line x1="53.30" y1="378.10" x2="58.70" y2="378.10" stroke="#222" stroke-width="0.9"/>
<line x1="53.30" y1="397.40" x2="58.70" y2="397.40" stroke="#222" stroke-width="0.9"/>
<line x1="86.00" y1="437.60" x2="86.00" y2="442.00" stroke="#222" stroke-width="0.9"/>
<line x1="83.30" y1="437.60" x2="88.70" y2="437.60" stroke="#222" stroke-width="0.9"/>
<line x1="83.30" y1="442.00" x2="88.70" y2="442.00" stroke="#222" stroke-width="0.9"/>
<line x1="116.00" y1="429.40" x2="116.00" y2="434.30" stroke="#222" stroke-width="0.9"/>
<line x1="113.30" y1="429.40" x2="118.70" y2="429.40" stroke="#222" stroke-width="0.9"/>
<line x1="113.30" y1="434.30" x2="118.70" y2="434.30" stroke="#222" stroke-width="0.9"/>
<line x1="33.20" y1="476.50" x2="138.30" y2="476.50" stroke="#222" stroke-width="1.0"/>
<line x1="35.50" y1="355.50" x2="35.50" y2="477.00" stroke="#222" stroke-width="1.0"/>
<line x1="55.95" y1="476.30" x2="55.95" y2="478.80" stroke="#222" stroke-width="0.8"/>
<text x="60.55" y="484.00" font-size="8.5" text-anchor="end" transform="rotate(-45 60.55 484.00)">GF</text>
<line x1="86.10" y1="476.30" x2="86.10" y2="478.80" stroke="#222" stroke-width="0.8"/>
<text x="90.10" y="483.00" font-size="8.5" text-anchor="end" transform="rotate(-45 90.10 483.00)">Butyrate</text>
<line x1="115.95" y1="476.30" x2="115.95" y2="478.80" stroke="#222" stroke-width="0.8"/>
<text x="121.75" y="483.80" font-size="8.5" text-anchor="end" transform="rotate(-45 121.75 483.80)">TSA</text>
<text x="153.90" y="302.10" font-size="10.8">Fat body</text>
<line x1="153.90" y1="306.60" x2="377.70" y2="306.60" stroke="#444" stroke-width="1.0"/>
<text x="153.90" y="315.20" font-size="8.27">Glycerolipid metabolism &amp; Arachidonic acid metabolism</text>
<rect x="315.90" y="294.50" width="9.30" height="9.30" fill="#7ca1dc" stroke="#4f7fcb" stroke-width="1.0"/>
<text x="328.60" y="302.20" font-size="8.2">GF</text>
<rect x="345.50" y="294.50" width="9.30" height="9.30" fill="#f3cd85" stroke="#e2b357" stroke-width="1.0"/>
<text x="358.00" y="302.20" font-size="8.2">TSA</text>
<line x1="172.50" y1="321.00" x2="172.50" y2="477.00" stroke="#222" stroke-width="1.0"/>
<line x1="171.40" y1="476.50" x2="374.60" y2="476.50" stroke="#222" stroke-width="1.0"/>
<line x1="170.30" y1="476.50" x2="172.50" y2="476.50" stroke="#222" stroke-width="0.8"/>
<text x="169.20" y="479.50" font-size="8.4" text-anchor="end">0</text>
<line x1="170.30" y1="421.00" x2="172.50" y2="421.00" stroke="#222" stroke-width="0.8"/>
<text x="169.20" y="424.00" font-size="8.4" text-anchor="end">1</text>
<line x1="170.30" y1="365.50" x2="172.50" y2="365.50" stroke="#222" stroke-width="0.8"/>
<text x="169.20" y="368.50" font-size="8.4" text-anchor="end">2</text>
<text x="158.30" y="399.70" font-size="11" text-anchor="middle" transform="rotate(-90 158.30 399.70)">Relative expression</text>
<rect x="176.90" y="420.10" width="7.60" height="56.40" fill="#7ca1dc" stroke="#4f7fcb" stroke-width="0.9"/>
<rect x="185.30" y="414.00" width="7.60" height="62.50" fill="#f3cd85" stroke="#e2b357" stroke-width="0.9"/>
<circle cx="181.75" cy="406.70" r="1.1" fill="#fff" stroke="#000" stroke-width="0.85"/>
<circle cx="180.05" cy="413.10" r="1.1" fill="#fff" stroke="#000" stroke-width="0.85"/>
<circle cx="181.32" cy="417.70" r="1.1" fill="#fff" stroke="#000" stroke-width="0.85"/>
<circle cx="181.09" cy="423.20" r="1.1" fill="#fff" stroke="#000" stroke-width="0.85"/>
<circle cx="181.17" cy="428.20" r="1.1" fill="#fff" stroke="#000" stroke-width="0.85"/>
<circle cx="181.23" cy="437.00" r="1.1" fill="#fff" stroke="#000" stroke-width="0.85"/>
<line x1="180.70" y1="416.80" x2="180.70" y2="423.40" stroke="#222" stroke-width="0.8"/>
<line x1="178.70" y1="416.80" x2="182.70" y2="416.80" stroke="#222" stroke-width="0.8"/>
<line x1="178.70" y1="423.40" x2="182.70" y2="423.40" stroke="#222" stroke-width="0.8"/>
<circle cx="188.93" cy="369.40" r="1.1" fill="#fff" stroke="#000" stroke-width="0.85"/>
<circle cx="188.61" cy="400.20" r="1.1" fill="#fff" stroke="#000" stroke-width="0.85"/>
<circle cx="189.30" cy="404.30" r="1.1" fill="#fff" stroke="#000" stroke-width="0.85"/>
<circle cx="188.83" cy="412.20" r="1.1" fill="#fff" stroke="#000" stroke-width="0.85"/>
<circle cx="189.72" cy="427.40" r="1.1" fill="#fff" stroke="#000" stroke-width="0.85"/>
<circle cx="188.54" cy="428.70" r="1.1" fill="#fff" stroke="#000" stroke-width="0.85"/>
<circle cx="189.61" cy="469.20" r="1.1" fill="#fff" stroke="#000" stroke-width="0.85"/>
<line x1="189.10" y1="404.40" x2="189.10" y2="423.60" stroke="#222" stroke-width="0.8"/>
<line x1="187.10" y1="404.40" x2="191.10" y2="404.40" stroke="#222" stroke-width="0.8"/>
<line x1="187.10" y1="423.60" x2="191.10" y2="423.60" stroke="#222" stroke-width="0.8"/>
<line x1="184.90" y1="476.50" x2="184.90" y2="479.00" stroke="#222" stroke-width="0.8"/>
<text x="189.00" y="482.40" font-size="8.45" text-anchor="end" font-style="italic" transform="rotate(-45 189.00 482.40)">LOC408559</text>
<text x="188.70" y="362.90" font-size="8.6" text-anchor="middle">ns</text>
<rect x="196.73" y="419.50" width="7.60" height="57.00" fill="#7ca1dc" stroke="#4f7fcb" stroke-width="0.9"/>
<rect x="205.13" y="385.00" width="7.60" height="91.50" fill="#f3cd85" stroke="#e2b357" stroke-width="0.9"/>
<circle cx="200.83" cy="385.40" r="1.1" fill="#fff" stroke="#000" stroke-width="0.85"/>
<circle cx="200.41" cy="413.10" r="1.1" fill="#fff" stroke="#000" stroke-width="0.85"/>
<circle cx="200.87" cy="420.40" r="1.1" fill="#fff" stroke="#000" stroke-width="0.85"/>
<circle cx="200.81" cy="425.00" r="1.1" fill="#fff" stroke="#000" stroke-width="0.85"/>
<circle cx="199.98" cy="429.30" r="1.1" fill="#fff" stroke="#000" stroke-width="0.85"/>
<circle cx="199.62" cy="432.40" r="1.1" fill="#fff" stroke="#000" stroke-width="0.85"/>
<line x1="200.53" y1="413.00" x2="200.53" y2="426.00" stroke="#222" stroke-width="0.8"/>
<line x1="198.53" y1="413.00" x2="202.53" y2="413.00" stroke="#222" stroke-width="0.8"/>
<line x1="198.53" y1="426.00" x2="202.53" y2="426.00" stroke="#222" stroke-width="0.8"/>
<circle cx="208.83" cy="363.70" r="1.1" fill="#fff" stroke="#000" stroke-width="0.85"/>
<circle cx="209.92" cy="374.70" r="1.1" fill="#fff" stroke="#000" stroke-width="0.85"/>
<circle cx="209.81" cy="380.40" r="1.1" fill="#fff" stroke="#000" stroke-width="0.85"/>
<circle cx="208.05" cy="389.00" r="1.1" fill="#fff" stroke="#000" stroke-width="0.85"/>
<circle cx="208.15" cy="401.10" r="1.1" fill="#fff" stroke="#000" stroke-width="0.85"/>
<circle cx="208.97" cy="407.60" r="1.1" fill="#fff" stroke="#000" stroke-width="0.85"/>
<line x1="208.93" y1="379.50" x2="208.93" y2="390.50" stroke="#222" stroke-width="0.8"/>
<line x1="206.93" y1="379.50" x2="210.93" y2="379.50" stroke="#222" stroke-width="0.8"/>
<line x1="206.93" y1="390.50" x2="210.93" y2="390.50" stroke="#222" stroke-width="0.8"/>
<line x1="204.73" y1="476.50" x2="204.73" y2="479.00" stroke="#222" stroke-width="0.8"/>
<text x="208.83" y="482.40" font-size="8.45" text-anchor="end" font-style="italic" transform="rotate(-45 208.83 482.40)">LOC551968</text>
<text x="209.00" y="359.20" font-size="8.6" text-anchor="middle">**</text>
<rect x="216.56" y="419.00" width="7.60" height="57.50" fill="#7ca1dc" stroke="#4f7fcb" stroke-width="0.9"/>
<rect x="224.96" y="381.30" width="7.60" height="95.20" fill="#f3cd85" stroke="#e2b357" stroke-width="0.9"/>
<circle cx="220.61" cy="389.20" r="1.1" fill="#fff" stroke="#000" stroke-width="0.85"/>
<circle cx="220.14" cy="409.40" r="1.1" fill="#fff" stroke="#000" stroke-width="0.85"/>
<circle cx="219.52" cy="414.00" r="1.1" fill="#fff" stroke="#000" stroke-width="0.85"/>
<circle cx="219.61" cy="419.50" r="1.1" fill="#fff" stroke="#000" stroke-width="0.85"/>
<circle cx="220.60" cy="423.20" r="1.1" fill="#fff" stroke="#000" stroke-width="0.85"/>
<circle cx="220.41" cy="427.40" r="1.1" fill="#fff" stroke="#000" stroke-width="0.85"/>
<circle cx="219.75" cy="443.40" r="1.1" fill="#fff" stroke="#000" stroke-width="0.85"/>
<line x1="220.36" y1="413.50" x2="220.36" y2="424.50" stroke="#222" stroke-width="0.8"/>
<line x1="218.36" y1="413.50" x2="222.36" y2="413.50" stroke="#222" stroke-width="0.8"/>
<line x1="218.36" y1="424.50" x2="222.36" y2="424.50" stroke="#222" stroke-width="0.8"/>
<circle cx="229.92" cy="332.10" r="1.1" fill="#fff" stroke="#000" stroke-width="0.85"/>
<circle cx="228.39" cy="361.10" r="1.1" fill="#fff" stroke="#000" stroke-width="0.85"/>
<circle cx="228.53" cy="380.00" r="1.1" fill="#fff" stroke="#000" stroke-width="0.85"/>
<circle cx="229.01" cy="385.00" r="1.1" fill="#fff" stroke="#000" stroke-width="0.85"/>
<circle cx="227.59" cy="389.20" r="1.1" fill="#fff" stroke="#000" stroke-width="0.85"/>
<circle cx="229.14" cy="403.50" r="1.1" fill="#fff" stroke="#000" stroke-width="0.85"/>
<circle cx="229.40" cy="415.30" r="1.1" fill="#fff" stroke="#000" stroke-width="0.85"/>
<line x1="228.76" y1="372.50" x2="228.76" y2="390.10" stroke="#222" stroke-width="0.8"/>
<line x1="226.76" y1="372.50" x2="230.76" y2="372.50" stroke="#222" stroke-width="0.8"/>
<line x1="226.76" y1="390.10" x2="230.76" y2="390.10" stroke="#222" stroke-width="0.8"/>
<line x1="224.56" y1="476.50" x2="224.56" y2="479.00" stroke="#222" stroke-width="0.8"/>
<text x="228.66" y="482.40" font-size="8.45" text-anchor="end" font-style="italic" transform="rotate(-45 228.66 482.40)">LOC409261</text>
<text x="228.60" y="329.30" font-size="8.6" text-anchor="middle">**</text>
<rect x="236.39" y="418.80" width="7.60" height="57.70" fill="#7ca1dc" stroke="#4f7fcb" stroke-width="0.9"/>
<rect x="244.79" y="378.40" width="7.60" height="98.10" fill="#f3cd85" stroke="#e2b357" stroke-width="0.9"/>
<circle cx="241.27" cy="390.10" r="1.1" fill="#fff" stroke="#000" stroke-width="0.85"/>
<circle cx="240.90" cy="405.70" r="1.1" fill="#fff" stroke="#000" stroke-width="0.85"/>
<circle cx="240.12" cy="410.30" r="1.1" fill="#fff" stroke="#000" stroke-width="0.85"/>
<circle cx="240.81" cy="418.60" r="1.1" fill="#fff" stroke="#000" stroke-width="0.85"/>
<circle cx="239.63" cy="435.10" r="1.1" fill="#fff" stroke="#000" stroke-width="0.85"/>
<circle cx="240.33" cy="436.60" r="1.1" fill="#fff" stroke="#000" stroke-width="0.85"/>
<line x1="240.19" y1="413.10" x2="240.19" y2="424.50" stroke="#222" stroke-width="0.8"/>
<line x1="238.19" y1="413.10" x2="242.19" y2="413.10" stroke="#222" stroke-width="0.8"/>
<line x1="238.19" y1="424.50" x2="242.19" y2="424.50" stroke="#222" stroke-width="0.8"/>
<circle cx="249.32" cy="341.60" r="1.1" fill="#fff" stroke="#000" stroke-width="0.85"/>
<circle cx="248.32" cy="348.20" r="1.1" fill="#fff" stroke="#000" stroke-width="0.85"/>
<circle cx="248.73" cy="362.40" r="1.1" fill="#fff" stroke="#000" stroke-width="0.85"/>
<circle cx="249.43" cy="391.00" r="1.1" fill="#fff" stroke="#000" stroke-width="0.85"/>
<circle cx="248.44" cy="393.20" r="1.1" fill="#fff" stroke="#000" stroke-width="0.85"/>
<circle cx="249.77" cy="397.50" r="1.1" fill="#fff" stroke="#000" stroke-width="0.85"/>
<circle cx="248.13" cy="398.40" r="1.1" fill="#fff" stroke="#000" stroke-width="0.85"/>
<line x1="248.59" y1="369.70" x2="248.59" y2="387.10" stroke="#222" stroke-width="0.8"/>
<line x1="246.59" y1="369.70" x2="250.59" y2="369.70" stroke="#222" stroke-width="0.8"/>
<line x1="246.59" y1="387.10" x2="250.59" y2="387.10" stroke="#222" stroke-width="0.8"/>
<line x1="244.39" y1="476.50" x2="244.39" y2="479.00" stroke="#222" stroke-width="0.8"/>
<text x="248.49" y="482.40" font-size="8.45" text-anchor="end" font-style="italic" transform="rotate(-45 248.49 482.40)">mino</text>
<text x="248.80" y="337.20" font-size="8.6" text-anchor="middle">**</text>
<rect x="256.22" y="417.50" width="7.60" height="59.00" fill="#7ca1dc" stroke="#4f7fcb" stroke-width="0.9"/>
<rect x="264.62" y="384.40" width="7.60" height="92.10" fill="#f3cd85" stroke="#e2b357" stroke-width="0.9"/>
<circle cx="259.68" cy="390.10" r="1.1" fill="#fff" stroke="#000" stroke-width="0.85"/>
<circle cx="259.47" cy="396.50" r="1.1" fill="#fff" stroke="#000" stroke-width="0.85"/>
<circle cx="259.11" cy="403.90" r="1.1" fill="#fff" stroke="#000" stroke-width="0.85"/>
<circle cx="259.57" cy="425.00" r="1.1" fill="#fff" stroke="#000" stroke-width="0.85"/>
<circle cx="260.52" cy="436.10" r="1.1" fill="#fff" stroke="#000" stroke-width="0.85"/>
<circle cx="260.55" cy="449.90" r="1.1" fill="#fff" stroke="#000" stroke-width="0.85"/>
<line x1="260.02" y1="410.30" x2="260.02" y2="424.70" stroke="#222" stroke-width="0.8"/>
<line x1="258.02" y1="410.30" x2="262.02" y2="410.30" stroke="#222" stroke-width="0.8"/>
<line x1="258.02" y1="424.70" x2="262.02" y2="424.70" stroke="#222" stroke-width="0.8"/>
<circle cx="268.08" cy="340.30" r="1.1" fill="#fff" stroke="#000" stroke-width="0.85"/>
<circle cx="268.50" cy="355.00" r="1.1" fill="#fff" stroke="#000" stroke-width="0.85"/>
<circle cx="268.99" cy="361.50" r="1.1" fill="#fff" stroke="#000" stroke-width="0.85"/>
<circle cx="268.86" cy="392.00" r="1.1" fill="#fff" stroke="#000" stroke-width="0.85"/>
<circle cx="268.97" cy="398.40" r="1.1" fill="#fff" stroke="#000" stroke-width="0.85"/>
<circle cx="268.71" cy="405.70" r="1.1" fill="#fff" stroke="#000" stroke-width="0.85"/>
<circle cx="269.36" cy="406.70" r="1.1" fill="#fff" stroke="#000" stroke-width="0.85"/>
<circle cx="269.39" cy="418.20" r="1.1" fill="#fff" stroke="#000" stroke-width="0.85"/>
<line x1="268.42" y1="374.40" x2="268.42" y2="394.40" stroke="#222" stroke-width="0.8"/>
<line x1="266.42" y1="374.40" x2="270.42" y2="374.40" stroke="#222" stroke-width="0.8"/>
<line x1="266.42" y1="394.40" x2="270.42" y2="394.40" stroke="#222" stroke-width="0.8"/>
<line x1="264.22" y1="476.50" x2="264.22" y2="479.00" stroke="#222" stroke-width="0.8"/>
<text x="268.32" y="482.40" font-size="8.45" text-anchor="end" font-style="italic" transform="rotate(-45 268.32 482.40)">LOC724951</text>
<text x="269.00" y="335.90" font-size="8.6" text-anchor="middle">*</text>
<rect x="276.05" y="414.90" width="7.60" height="61.60" fill="#7ca1dc" stroke="#4f7fcb" stroke-width="0.9"/>
<rect x="284.45" y="390.90" width="7.60" height="85.60" fill="#f3cd85" stroke="#e2b357" stroke-width="0.9"/>
<circle cx="279.16" cy="363.30" r="1.1" fill="#fff" stroke="#000" stroke-width="0.85"/>
<circle cx="280.31" cy="395.10" r="1.1" fill="#fff" stroke="#000" stroke-width="0.85"/>
<circle cx="280.54" cy="411.80" r="1.1" fill="#fff" stroke="#000" stroke-width="0.85"/>
<circle cx="279.63" cy="429.80" r="1.1" fill="#fff" stroke="#000" stroke-width="0.85"/>
<circle cx="280.74" cy="458.20" r="1.1" fill="#fff" stroke="#000" stroke-width="0.85"/>
<line x1="279.85" y1="405.20" x2="279.85" y2="424.60" stroke="#222" stroke-width="0.8"/>
<line x1="277.85" y1="405.20" x2="281.85" y2="405.20" stroke="#222" stroke-width="0.8"/>
<line x1="277.85" y1="424.60" x2="281.85" y2="424.60" stroke="#222" stroke-width="0.8"/>
<circle cx="288.86" cy="351.70" r="1.1" fill="#fff" stroke="#000" stroke-width="0.85"/>
<circle cx="287.48" cy="375.30" r="1.1" fill="#fff" stroke="#000" stroke-width="0.85"/>
<circle cx="289.02" cy="385.00" r="1.1" fill="#fff" stroke="#000" stroke-width="0.85"/>
<circle cx="287.67" cy="389.00" r="1.1" fill="#fff" stroke="#000" stroke-width="0.85"/>
<circle cx="288.98" cy="396.40" r="1.1" fill="#fff" stroke="#000" stroke-width="0.85"/>
<circle cx="287.28" cy="403.80" r="1.1" fill="#fff" stroke="#000" stroke-width="0.85"/>
<line x1="288.25" y1="384.40" x2="288.25" y2="397.40" stroke="#222" stroke-width="0.8"/>
<line x1="286.25" y1="384.40" x2="290.25" y2="384.40" stroke="#222" stroke-width="0.8"/>
<line x1="286.25" y1="397.40" x2="290.25" y2="397.40" stroke="#222" stroke-width="0.8"/>
<line x1="284.05" y1="476.50" x2="284.05" y2="479.00" stroke="#222" stroke-width="0.8"/>
<text x="288.15" y="482.40" font-size="8.45" text-anchor="end" font-style="italic" transform="rotate(-45 288.15 482.40)">LOC724995</text>
<text x="288.00" y="344.50" font-size="8.6" text-anchor="middle">ns</text>
<rect x="295.88" y="415.90" width="7.60" height="60.60" fill="#7ca1dc" stroke="#4f7fcb" stroke-width="0.9"/>
<rect x="304.28" y="401.00" width="7.60" height="75.50" fill="#f3cd85" stroke="#e2b357" stroke-width="0.9"/>
<circle cx="299.41" cy="354.10" r="1.1" fill="#fff" stroke="#000" stroke-width="0.85"/>
<circle cx="298.90" cy="398.90" r="1.1" fill="#fff" stroke="#000" stroke-width="0.85"/>
<circle cx="300.61" cy="424.70" r="1.1" fill="#fff" stroke="#000" stroke-width="0.85"/>
<circle cx="299.18" cy="433.70" r="1.1" fill="#fff" stroke="#000" stroke-width="0.85"/>
<circle cx="300.51" cy="447.90" r="1.1" fill="#fff" stroke="#000" stroke-width="0.85"/>
<line x1="299.68" y1="404.90" x2="299.68" y2="426.90" stroke="#222" stroke-width="0.8"/>
<line x1="297.68" y1="404.90" x2="301.68" y2="404.90" stroke="#222" stroke-width="0.8"/>
<line x1="297.68" y1="426.90" x2="301.68" y2="426.90" stroke="#222" stroke-width="0.8"/>
<circle cx="308.42" cy="379.90" r="1.1" fill="#fff" stroke="#000" stroke-width="0.85"/>
<circle cx="308.15" cy="387.20" r="1.1" fill="#fff" stroke="#000" stroke-width="0.85"/>
<circle cx="307.14" cy="397.90" r="1.1" fill="#fff" stroke="#000" stroke-width="0.85"/>
<circle cx="309.04" cy="401.90" r="1.1" fill="#fff" stroke="#000" stroke-width="0.85"/>
<circle cx="307.49" cy="405.60" r="1.1" fill="#fff" stroke="#000" stroke-width="0.85"/>
<circle cx="307.18" cy="410.00" r="1.1" fill="#fff" stroke="#000" stroke-width="0.85"/>
<line x1="308.08" y1="396.40" x2="308.08" y2="405.60" stroke="#222" stroke-width="0.8"/>
<line x1="306.08" y1="396.40" x2="310.08" y2="396.40" stroke="#222" stroke-width="0.8"/>
<line x1="306.08" y1="405.60" x2="310.08" y2="405.60" stroke="#222" stroke-width="0.8"/>
<line x1="303.88" y1="476.50" x2="303.88" y2="479.00" stroke="#222" stroke-width="0.8"/>
<text x="307.98" y="482.40" font-size="8.45" text-anchor="end" font-style="italic" transform="rotate(-45 307.98 482.40)">Lpin</text>
<text x="308.20" y="371.50" font-size="8.6" text-anchor="middle">ns</text>
<rect x="315.71" y="417.70" width="7.60" height="58.80" fill="#7ca1dc" stroke="#4f7fcb" stroke-width="0.9"/>
<rect x="324.11" y="389.00" width="7.60" height="87.50" fill="#f3cd85" stroke="#e2b357" stroke-width="0.9"/>
<circle cx="320.30" cy="393.80" r="1.1" fill="#fff" stroke="#000" stroke-width="0.85"/>
<circle cx="319.99" cy="401.50" r="1.1" fill="#fff" stroke="#000" stroke-width="0.85"/>
<circle cx="320.36" cy="415.70" r="1.1" fill="#fff" stroke="#000" stroke-width="0.85"/>
<circle cx="319.99" cy="424.70" r="1.1" fill="#fff" stroke="#000" stroke-width="0.85"/>
<circle cx="320.36" cy="435.00" r="1.1" fill="#fff" stroke="#000" stroke-width="0.85"/>
<circle cx="318.77" cy="446.60" r="1.1" fill="#fff" stroke="#000" stroke-width="0.85"/>
<line x1="319.51" y1="410.40" x2="319.51" y2="425.00" stroke="#222" stroke-width="0.8"/>
<line x1="317.51" y1="410.40" x2="321.51" y2="410.40" stroke="#222" stroke-width="0.8"/>
<line x1="317.51" y1="425.00" x2="321.51" y2="425.00" stroke="#222" stroke-width="0.8"/>
<circle cx="327.34" cy="353.60" r="1.1" fill="#fff" stroke="#000" stroke-width="0.85"/>
<circle cx="329.08" cy="364.60" r="1.1" fill="#fff" stroke="#000" stroke-width="0.85"/>
<circle cx="328.37" cy="370.70" r="1.1" fill="#fff" stroke="#000" stroke-width="0.85"/>
<circle cx="327.09" cy="385.00" r="1.1" fill="#fff" stroke="#000" stroke-width="0.85"/>
<circle cx="326.86" cy="396.40" r="1.1" fill="#fff" stroke="#000" stroke-width="0.85"/>
<circle cx="327.26" cy="402.80" r="1.1" fill="#fff" stroke="#000" stroke-width="0.85"/>
<circle cx="328.84" cy="436.90" r="1.1" fill="#fff" stroke="#000" stroke-width="0.85"/>
<line x1="327.91" y1="379.50" x2="327.91" y2="398.50" stroke="#222" stroke-width="0.8"/>
<line x1="325.91" y1="379.50" x2="329.91" y2="379.50" stroke="#222" stroke-width="0.8"/>
<line x1="325.91" y1="398.50" x2="329.91" y2="398.50" stroke="#222" stroke-width="0.8"/>
<line x1="323.71" y1="476.50" x2="323.71" y2="479.00" stroke="#222" stroke-width="0.8"/>
<text x="327.81" y="482.40" font-size="8.45" text-anchor="end" font-style="italic" transform="rotate(-45 327.81 482.40)">LOC726880</text>
<text x="327.80" y="348.20" font-size="8.6" text-anchor="middle">*</text>
<rect x="335.54" y="420.00" width="7.60" height="56.50" fill="#7ca1dc" stroke="#4f7fcb" stroke-width="0.9"/>
<rect x="343.94" y="390.70" width="7.60" height="85.80" fill="#f3cd85" stroke="#e2b357" stroke-width="0.9"/>
<circle cx="339.16" cy="404.40" r="1.1" fill="#fff" stroke="#000" stroke-width="0.85"/>
<circle cx="340.49" cy="412.60" r="1.1" fill="#fff" stroke="#000" stroke-width="0.85"/>
<circle cx="338.56" cy="418.00" r="1.1" fill="#fff" stroke="#000" stroke-width="0.85"/>
<circle cx="338.65" cy="422.00" r="1.1" fill="#fff" stroke="#000" stroke-width="0.85"/>
<circle cx="338.83" cy="430.60" r="1.1" fill="#fff" stroke="#000" stroke-width="0.85"/>
<circle cx="339.13" cy="434.70" r="1.1" fill="#fff" stroke="#000" stroke-width="0.85"/>
<line x1="339.34" y1="417.00" x2="339.34" y2="423.00" stroke="#222" stroke-width="0.8"/>
<line x1="337.34" y1="417.00" x2="341.34" y2="417.00" stroke="#222" stroke-width="0.8"/>
<line x1="337.34" y1="423.00" x2="341.34" y2="423.00" stroke="#222" stroke-width="0.8"/>
<circle cx="348.74" cy="381.00" r="1.1" fill="#fff" stroke="#000" stroke-width="0.85"/>
<circle cx="346.67" cy="386.00" r="1.1" fill="#fff" stroke="#000" stroke-width="0.85"/>
<circle cx="347.38" cy="388.00" r="1.1" fill="#fff" stroke="#000" stroke-width="0.85"/>
<circle cx="348.81" cy="393.40" r="1.1" fill="#fff" stroke="#000" stroke-width="0.85"/>
<circle cx="348.25" cy="398.90" r="1.1" fill="#fff" stroke="#000" stroke-width="0.85"/>
<circle cx="346.79" cy="404.40" r="1.1" fill="#fff" stroke="#000" stroke-width="0.85"/>
<line x1="347.74" y1="387.30" x2="347.74" y2="394.10" stroke="#222" stroke-width="0.8"/>
<line x1="345.74" y1="387.30" x2="349.74" y2="387.30" stroke="#222" stroke-width="0.8"/>
<line x1="345.74" y1="394.10" x2="349.74" y2="394.10" stroke="#222" stroke-width="0.8"/>
<line x1="343.54" y1="476.50" x2="343.54" y2="479.00" stroke="#222" stroke-width="0.8"/>
<text x="347.64" y="482.40" font-size="8.45" text-anchor="end" font-style="italic" transform="rotate(-45 347.64 482.40)">bbc</text>
<text x="347.90" y="376.10" font-size="8.6" text-anchor="middle">***</text>
<rect x="355.37" y="419.50" width="7.60" height="57.00" fill="#7ca1dc" stroke="#4f7fcb" stroke-width="0.9"/>
<rect x="363.77" y="385.00" width="7.60" height="91.50" fill="#f3cd85" stroke="#e2b357" stroke-width="0.9"/>
<circle cx="359.92" cy="394.70" r="1.1" fill="#fff" stroke="#000" stroke-width="0.85"/>
<circle cx="358.07" cy="415.00" r="1.1" fill="#fff" stroke="#000" stroke-width="0.85"/>
<circle cx="358.61" cy="418.00" r="1.1" fill="#fff" stroke="#000" stroke-width="0.85"/>
<circle cx="358.67" cy="421.00" r="1.1" fill="#fff" stroke="#000" stroke-width="0.85"/>
<circle cx="358.60" cy="425.00" r="1.1" fill="#fff" stroke="#000" stroke-width="0.85"/>
<circle cx="358.62" cy="438.80" r="1.1" fill="#fff" stroke="#000" stroke-width="0.85"/>
<line x1="359.17" y1="414.80" x2="359.17" y2="424.20" stroke="#222" stroke-width="0.8"/>
<line x1="357.17" y1="414.80" x2="361.17" y2="414.80" stroke="#222" stroke-width="0.8"/>
<line x1="357.17" y1="424.20" x2="361.17" y2="424.20" stroke="#222" stroke-width="0.8"/>
<circle cx="366.72" cy="358.10" r="1.1" fill="#fff" stroke="#000" stroke-width="0.85"/>
<circle cx="367.94" cy="376.00" r="1.1" fill="#fff" stroke="#000" stroke-width="0.85"/>
<circle cx="367.06" cy="378.20" r="1.1" fill="#fff" stroke="#000" stroke-width="0.85"/>
<circle cx="368.26" cy="380.00" r="1.1" fill="#fff" stroke="#000" stroke-width="0.85"/>
<circle cx="368.32" cy="384.00" r="1.1" fill="#fff" stroke="#000" stroke-width="0.85"/>
<circle cx="368.04" cy="427.80" r="1.1" fill="#fff" stroke="#000" stroke-width="0.85"/>
<line x1="367.57" y1="377.40" x2="367.57" y2="392.60" stroke="#222" stroke-width="0.8"/>
<line x1="365.57" y1="377.40" x2="369.57" y2="377.40" stroke="#222" stroke-width="0.8"/>
<line x1="365.57" y1="392.60" x2="369.57" y2="392.60" stroke="#222" stroke-width="0.8"/>
<line x1="363.37" y1="476.50" x2="363.37" y2="479.00" stroke="#222" stroke-width="0.8"/>
<text x="367.47" y="482.40" font-size="8.45" text-anchor="end" font-style="italic" transform="rotate(-45 367.47 482.40)">Pla2</text>
<text x="367.70" y="354.00" font-size="8.6" text-anchor="middle">**</text>
<line x1="171.40" y1="476.50" x2="374.60" y2="476.50" stroke="#222" stroke-width="1.0"/>
<line x1="172.50" y1="321.00" x2="172.50" y2="477.00" stroke="#222" stroke-width="1.0"/>
<text x="470.30" y="282.40" font-size="10.8" text-anchor="middle" fill="#cc2a36">Nile Red</text>
<text x="556.30" y="282.50" font-size="10.8" text-anchor="middle" fill="#2f8ad2">DAPI</text>
<text x="641.10" y="280.70" font-size="10.8" text-anchor="middle" fill="#111">Merge</text>
<text x="421.90" y="323.20" font-size="10.8" text-anchor="end" transform="rotate(-45 421.90 323.20)">GF</text>
<text x="422.10" y="405.50" font-size="11.0" text-anchor="end" transform="rotate(-45 422.10 405.50)">AR420626</text>
<text x="420.60" y="497.00" font-size="10.8" text-anchor="end" transform="rotate(-45 420.60 497.00)">TSA</text>
<defs>
<filter id="bl1" x="-10%" y="-10%" width="120%" height="120%"><feGaussianBlur stdDeviation="0.55"/></filter>
<filter id="bl2" x="-10%" y="-10%" width="120%" height="120%"><feGaussianBlur stdDeviation="0.35"/></filter>
<filter id="bl3" x="-30%" y="-30%" width="160%" height="160%"><feGaussianBlur stdDeviation="4"/></filter>
<clipPath id="cp"><rect x="0" y="0" width="86.0" height="86"/></clipPath>
</defs>
<g transform="translate(424.4,284.0)" clip-path="url(#cp)">
<rect x="0" y="0" width="86.0" height="85.4" fill="#000"/>
<g clip-path="url(#cp)">
<g><g filter="url(#bl3)"><circle cx="35" cy="14" r="12" fill="rgb(120,0,0)" fill-opacity="0.25"/><circle cx="60" cy="18" r="10" fill="rgb(120,0,0)" fill-opacity="0.25"/><circle cx="78" cy="35" r="10" fill="rgb(120,0,0)" fill-opacity="0.22"/><circle cx="12" cy="40" r="12" fill="rgb(120,0,0)" fill-opacity="0.25"/><circle cx="45" cy="62" r="14" fill="rgb(120,0,0)" fill-opacity="0.18"/><circle cx="70" cy="70" r="12" fill="rgb(120,0,0)" fill-opacity="0.12"/><circle cx="15" cy="72" r="10" fill="rgb(120,0,0)" fill-opacity="0.1"/></g><g filter="url(#bl1)"><circle cx="79.5" cy="40.0" r="1.01" fill="rgb(65,2,2)"/><circle cx="15.9" cy="44.0" r="1.10" fill="rgb(77,2,2)"/><circle cx="8.1" cy="26.1" r="0.67" fill="rgb(78,2,2)"/><circle cx="59.6" cy="3.6" r="1.39" fill="rgb(87,2,2)"/><circle cx="56.2" cy="52.9" r="0.73" fill="rgb(31,0,0)"/><circle cx="45.4" cy="5.1" r="0.75" fill="rgb(44,1,1)"/><circle cx="2.6" cy="39.9" r="0.95" fill="rgb(80,2,2)"/><circle cx="39.3" cy="23.9" r="1.40" fill="rgb(88,2,2)"/><circle cx="72.3" cy="60.9" r="0.85" fill="rgb(44,1,1)"/><circle cx="24.9" cy="6.0" r="1.21" fill="rgb(54,1,1)"/><circle cx="72.8" cy="33.2" r="1.37" fill="rgb(80,2,2)"/><circle cx="0.0" cy="18.0" r="1.33" fill="rgb(58,1,1)"/><circle cx="84.3" cy="34.2" r="0.66" fill="rgb(67,2,2)"/><circle cx="67.0" cy="23.2" r="0.67" fill="rgb(50,1,1)"/><circle cx="82.9" cy="65.2" r="0.69" fill="rgb(45,1,1)"/><circle cx="8.7" cy="5.2" r="1.24" fill="rgb(41,1,1)"/><circle cx="16.4" cy="62.9" r="0.70" fill="rgb(68,2,2)"/><circle cx="10.0" cy="36.2" r="0.77" fill="rgb(46,1,1)"/><circle cx="83.5" cy="69.1" r="0.84" fill="rgb(82,2,2)"/><circle cx="18.1" cy="33.9" r="1.28" fill="rgb(68,2,2)"/><circle cx="8.6" cy="85.1" r="0.77" fill="rgb(45,1,1)"/><circle cx="66.5" cy="28.3" r="0.84" fill="rgb(34,1,1)"/><circle cx="7.8" cy="50.1" r="0.79" fill="rgb(65,2,2)"/><circle cx="32.0" cy="39.0" r="1.37" fill="rgb(58,1,1)"/><circle cx="49.4" cy="74.5" r="0.75" fill="rgb(39,1,1)"/><circle cx="78.1" cy="70.3" r="0.80" fill="rgb(41,1,1)"/><circle cx="63.6" cy="80.9" r="0.76" fill="rgb(86,2,2)"/><circle cx="75.9" cy="51.9" r="0.94" fill="rgb(36,1,1)"/><circle cx="3.3" cy="82.8" r="0.79" fill="rgb(71,2,2)"/><circle cx="22.1" cy="70.8" r="1.08" fill="rgb(47,1,1)"/><circle cx="15.1" cy="62.0" r="0.66" fill="rgb(43,1,1)"/><circle cx="48.1" cy="73.3" r="1.09" fill="rgb(47,1,1)"/><circle cx="78.9" cy="17.5" r="0.61" fill="rgb(46,1,1)"/><circle cx="38.3" cy="5.2" r="0.74" fill="rgb(52,1,1)"/><circle cx="31.1" cy="76.6" r="1.38" fill="rgb(69,2,2)"/><circle cx="59.4" cy="50.3" r="0.71" fill="rgb(32,1,1)"/><circle cx="1.5" cy="78.3" r="1.16" fill="rgb(87,2,2)"/><circle cx="1.8" cy="54.7" r="0.99" fill="rgb(73,2,2)"/><circle cx="27.4" cy="85.9" r="0.66" fill="rgb(62,1,1)"/><circle cx="63.4" cy="77.4" r="1.19" fill="rgb(71,2,2)"/><circle cx="68.2" cy="78.7" r="0.88" fill="rgb(70,2,2)"/><circle cx="77.5" cy="74.9" r="0.93" fill="rgb(76,2,2)"/><circle cx="74.3" cy="49.3" r="1.10" fill="rgb(53,1,1)"/><circle cx="6.9" cy="55.0" r="1.39" fill="rgb(82,2,2)"/><circle cx="62.6" cy="33.4" r="1.19" fill="rgb(64,2,2)"/><circle cx="37.9" cy="72.1" r="0.67" fill="rgb(74,2,2)"/><circle cx="2.6" cy="51.7" r="0.98" fill="rgb(44,1,1)"/><circle cx="60.1" cy="42.8" r="1.09" fill="rgb(84,2,2)"/><circle cx="22.0" cy="1.0" r="0.84" fill="rgb(70,2,2)"/><circle cx="17.4" cy="14.6" r="1.32" fill="rgb(69,2,2)"/><circle cx="38.0" cy="76.7" r="0.86" fill="rgb(69,2,2)"/><circle cx="17.1" cy="37.1" r="1.24" fill="rgb(84,2,2)"/><circle cx="75.7" cy="33.1" r="1.07" fill="rgb(49,1,1)"/><circle cx="11.7" cy="42.7" r="1.27" fill="rgb(80,2,2)"/><circle cx="61.2" cy="81.7" r="0.82" fill="rgb(40,1,1)"/><circle cx="38.8" cy="23.7" r="0.77" fill="rgb(54,1,1)"/><circle cx="27.1" cy="72.2" r="1.39" fill="rgb(57,1,1)"/><circle cx="6.4" cy="2.7" r="1.30" fill="rgb(33,1,1)"/><circle cx="60.9" cy="49.1" r="0.85" fill="rgb(77,2,2)"/><circle cx="1.6" cy="11.7" r="0.96" fill="rgb(32,1,1)"/><circle cx="71.4" cy="20.4" r="0.71" fill="rgb(33,1,1)"/><circle cx="54.1" cy="38.4" r="1.10" fill="rgb(69,2,2)"/><circle cx="69.4" cy="82.4" r="1.15" fill="rgb(42,1,1)"/><circle cx="0.9" cy="40.6" r="1.17" fill="rgb(41,1,1)"/><circle cx="23.4" cy="29.7" r="1.16" fill="rgb(61,1,1)"/><circle cx="52.8" cy="65.0" r="0.91" fill="rgb(77,2,2)"/><circle cx="77.9" cy="7.5" r="1.35" fill="rgb(72,2,2)"/><circle cx="11.2" cy="39.0" r="1.10" fill="rgb(83,2,2)"/><circle cx="32.4" cy="48.9" r="1.30" fill="rgb(77,2,2)"/><circle cx="81.2" cy="39.9" r="1.12" fill="rgb(42,1,1)"/><circle cx="62.1" cy="70.4" r="1.11" fill="rgb(72,2,2)"/><circle cx="18.3" cy="77.4" r="1.38" fill="rgb(87,2,2)"/><circle cx="46.2" cy="68.0" r="0.86" fill="rgb(83,2,2)"/><circle cx="73.6" cy="30.0" r="0.67" fill="rgb(56,1,1)"/><circle cx="47.3" cy="66.1" r="0.99" fill="rgb(32,1,1)"/><circle cx="69.6" cy="5.5" r="1.24" fill="rgb(40,1,1)"/><circle cx="28.8" cy="67.8" r="0.71" fill="rgb(39,1,1)"/><circle cx="44.4" cy="62.2" r="1.27" fill="rgb(71,2,2)"/><circle cx="81.3" cy="42.4" r="1.36" fill="rgb(35,1,1)"/><circle cx="19.0" cy="45.3" r="0.83" fill="rgb(73,2,2)"/><circle cx="72.6" cy="48.2" r="0.85" fill="rgb(52,1,1)"/><circle cx="72.7" cy="77.4" r="0.77" fill="rgb(80,2,2)"/><circle cx="83.3" cy="45.1" r="1.06" fill="rgb(42,1,1)"/><circle cx="52.0" cy="2.4" r="1.38" fill="rgb(60,1,1)"/><circle cx="34.5" cy="68.9" r="1.05" fill="rgb(59,1,1)"/><circle cx="59.4" cy="5.7" r="1.03" fill="rgb(54,1,1)"/><circle cx="82.3" cy="79.4" r="0.82" fill="rgb(58,1,1)"/><circle cx="10.9" cy="37.3" r="1.25" fill="rgb(83,2,2)"/><circle cx="41.0" cy="27.3" r="0.75" fill="rgb(66,2,2)"/><circle cx="79.6" cy="11.1" r="1.22" fill="rgb(31,1,1)"/><circle cx="16.7" cy="19.5" r="1.15" fill="rgb(49,1,1)"/><circle cx="30.6" cy="53.3" r="0.68" fill="rgb(73,2,2)"/><circle cx="10.6" cy="43.9" r="0.80" fill="rgb(42,1,1)"/><circle cx="32.3" cy="35.6" r="1.02" fill="rgb(39,1,1)"/><circle cx="17.6" cy="54.3" r="1.11" fill="rgb(61,1,1)"/><circle cx="73.2" cy="52.6" r="1.29" fill="rgb(44,1,1)"/><circle cx="63.7" cy="69.7" r="1.32" fill="rgb(49,1,1)"/><circle cx="27.1" cy="79.4" r="0.77" fill="rgb(89,2,2)"/><circle cx="76.3" cy="11.5" r="0.79" fill="rgb(73,2,2)"/><circle cx="22.3" cy="8.3" r="1.27" fill="rgb(55,1,1)"/><circle cx="67.9" cy="10.8" r="0.92" fill="rgb(70,2,2)"/><circle cx="1.5" cy="17.3" r="1.15" fill="rgb(84,2,2)"/><circle cx="83.3" cy="9.9" r="1.00" fill="rgb(75,2,2)"/><circle cx="43.2" cy="59.0" r="0.75" fill="rgb(34,1,1)"/><circle cx="9.1" cy="3.2" r="1.04" fill="rgb(60,1,1)"/><circle cx="15.9" cy="17.5" r="1.27" fill="rgb(88,2,2)"/><circle cx="79.7" cy="8.2" r="0.65" fill="rgb(86,2,2)"/><circle cx="39.7" cy="65.8" r="0.86" fill="rgb(57,1,1)"/><circle cx="44.3" cy="37.0" r="1.08" fill="rgb(31,0,0)"/><circle cx="60.3" cy="72.6" r="0.75" fill="rgb(57,1,1)"/><circle cx="63.6" cy="34.9" r="0.76" fill="rgb(40,1,1)"/><circle cx="44.1" cy="1.3" r="1.31" fill="rgb(77,2,2)"/><circle cx="60.6" cy="74.0" r="1.10" fill="rgb(54,1,1)"/><circle cx="84.5" cy="69.2" r="0.81" fill="rgb(84,2,2)"/><circle cx="64.0" cy="66.9" r="1.25" fill="rgb(54,1,1)"/><circle cx="77.1" cy="75.7" r="1.16" fill="rgb(75,2,2)"/><circle cx="65.8" cy="34.9" r="1.18" fill="rgb(34,1,1)"/><circle cx="29.4" cy="40.3" r="0.61" fill="rgb(51,1,1)"/><circle cx="54.9" cy="53.7" r="0.79" fill="rgb(86,2,2)"/><circle cx="57.3" cy="29.1" r="1.13" fill="rgb(64,2,2)"/><circle cx="29.2" cy="12.8" r="1.90" fill="rgb(125,3,3)"/><circle cx="31.9" cy="4.3" r="1.88" fill="rgb(78,2,2)"/><circle cx="27.6" cy="7.5" r="1.08" fill="rgb(107,3,3)"/><circle cx="38.8" cy="15.2" r="1.21" fill="rgb(84,2,2)"/><circle cx="34.9" cy="27.0" r="1.41" fill="rgb(115,3,3)"/><circle cx="42.6" cy="12.4" r="1.89" fill="rgb(125,3,3)"/><circle cx="35.9" cy="11.8" r="1.46" fill="rgb(134,4,4)"/><circle cx="48.3" cy="17.9" r="0.98" fill="rgb(112,3,3)"/><circle cx="38.4" cy="20.1" r="1.47" fill="rgb(80,2,2)"/><circle cx="40.9" cy="11.9" r="1.38" fill="rgb(122,3,3)"/><circle cx="31.7" cy="17.7" r="1.52" fill="rgb(119,3,3)"/><circle cx="33.0" cy="23.3" r="1.13" fill="rgb(77,2,2)"/><circle cx="35.1" cy="15.8" r="0.97" fill="rgb(134,4,4)"/><circle cx="25.1" cy="22.2" r="1.62" fill="rgb(80,2,2)"/><circle cx="49.4" cy="13.0" r="0.88" fill="rgb(145,4,4)"/><circle cx="28.8" cy="16.9" r="1.87" fill="rgb(95,2,2)"/><circle cx="21.0" cy="11.9" r="1.60" fill="rgb(112,3,3)"/><circle cx="46.0" cy="12.5" r="1.46" fill="rgb(85,2,2)"/><circle cx="30.3" cy="9.3" r="1.02" fill="rgb(80,2,2)"/><circle cx="32.0" cy="13.5" r="1.29" fill="rgb(127,4,4)"/><circle cx="30.5" cy="15.3" r="1.44" fill="rgb(108,3,3)"/><circle cx="36.3" cy="6.7" r="1.90" fill="rgb(149,4,4)"/><circle cx="59.6" cy="13.6" r="0.93" fill="rgb(144,4,4)"/><circle cx="61.5" cy="9.8" r="1.20" fill="rgb(97,3,3)"/><circle cx="57.4" cy="10.9" r="1.45" fill="rgb(124,3,3)"/><circle cx="60.1" cy="14.1" r="1.07" fill="rgb(151,4,4)"/><circle cx="68.9" cy="11.8" r="0.84" fill="rgb(81,2,2)"/><circle cx="59.3" cy="24.3" r="1.49" fill="rgb(84,2,2)"/><circle cx="58.1" cy="17.4" r="0.90" fill="rgb(128,4,4)"/><circle cx="53.3" cy="15.3" r="1.21" fill="rgb(113,3,3)"/><circle cx="61.1" cy="23.3" r="1.62" fill="rgb(140,4,4)"/><circle cx="62.3" cy="19.4" r="1.69" fill="rgb(124,3,3)"/><circle cx="60.4" cy="13.9" r="1.27" fill="rgb(96,3,3)"/><circle cx="61.8" cy="12.6" r="1.52" fill="rgb(152,4,4)"/><circle cx="57.1" cy="24.7" r="1.62" fill="rgb(146,4,4)"/><circle cx="55.7" cy="20.5" r="0.91" fill="rgb(143,4,4)"/><circle cx="61.8" cy="19.2" r="1.42" fill="rgb(113,3,3)"/><circle cx="58.3" cy="13.4" r="1.65" fill="rgb(82,2,2)"/><circle cx="61.7" cy="26.6" r="0.89" fill="rgb(99,3,3)"/><circle cx="58.8" cy="8.9" r="1.11" fill="rgb(87,2,2)"/><circle cx="73.0" cy="46.3" r="1.17" fill="rgb(72,2,2)"/><circle cx="76.4" cy="23.7" r="1.72" fill="rgb(135,4,4)"/><circle cx="82.6" cy="30.0" r="1.60" fill="rgb(87,2,2)"/><circle cx="75.9" cy="43.3" r="1.73" fill="rgb(132,4,4)"/><circle cx="78.1" cy="43.5" r="1.17" fill="rgb(91,2,2)"/><circle cx="74.1" cy="40.4" r="0.99" fill="rgb(106,3,3)"/><circle cx="79.8" cy="24.3" r="1.64" fill="rgb(106,3,3)"/><circle cx="81.8" cy="48.6" r="1.68" fill="rgb(85,2,2)"/><circle cx="84.0" cy="36.5" r="1.34" fill="rgb(107,3,3)"/><circle cx="85.1" cy="32.3" r="1.60" fill="rgb(68,2,2)"/><circle cx="69.6" cy="30.4" r="0.88" fill="rgb(69,2,2)"/><circle cx="77.1" cy="15.8" r="0.88" fill="rgb(112,3,3)"/><circle cx="83.1" cy="46.7" r="1.45" fill="rgb(82,2,2)"/><circle cx="79.6" cy="50.1" r="1.32" fill="rgb(122,3,3)"/><circle cx="74.4" cy="40.0" r="1.77" fill="rgb(115,3,3)"/><circle cx="71.8" cy="35.4" r="1.52" fill="rgb(117,3,3)"/><circle cx="82.4" cy="30.3" r="1.63" fill="rgb(114,3,3)"/><circle cx="83.5" cy="22.0" r="1.63" fill="rgb(131,4,4)"/><circle cx="84.9" cy="31.6" r="1.32" fill="rgb(118,3,3)"/><circle cx="79.7" cy="26.1" r="1.22" fill="rgb(74,2,2)"/><circle cx="77.2" cy="7.4" r="1.18" fill="rgb(76,2,2)"/><circle cx="79.5" cy="44.1" r="1.09" fill="rgb(137,4,4)"/><circle cx="16.8" cy="42.2" r="0.91" fill="rgb(126,3,3)"/><circle cx="12.6" cy="35.7" r="0.86" fill="rgb(111,3,3)"/><circle cx="0.6" cy="32.3" r="0.84" fill="rgb(84,2,2)"/><circle cx="13.7" cy="44.5" r="1.04" fill="rgb(131,4,4)"/><circle cx="8.5" cy="37.2" r="0.98" fill="rgb(98,3,3)"/><circle cx="16.7" cy="50.4" r="1.11" fill="rgb(118,3,3)"/><circle cx="14.8" cy="32.7" r="1.06" fill="rgb(144,4,4)"/><circle cx="16.7" cy="36.7" r="1.35" fill="rgb(149,4,4)"/><circle cx="7.8" cy="40.5" r="0.85" fill="rgb(148,4,4)"/><circle cx="13.9" cy="33.5" r="1.33" fill="rgb(115,3,3)"/><circle cx="9.2" cy="61.0" r="1.46" fill="rgb(94,2,2)"/><circle cx="18.8" cy="40.5" r="1.17" fill="rgb(137,4,4)"/><circle cx="10.1" cy="30.7" r="0.96" fill="rgb(88,2,2)"/><circle cx="10.0" cy="44.9" r="1.67" fill="rgb(115,3,3)"/><circle cx="-0.3" cy="23.3" r="1.07" fill="rgb(117,3,3)"/><circle cx="18.0" cy="49.7" r="0.80" fill="rgb(139,4,4)"/><circle cx="18.3" cy="29.3" r="0.88" fill="rgb(97,3,3)"/><circle cx="11.4" cy="36.9" r="1.28" fill="rgb(112,3,3)"/><circle cx="19.7" cy="37.4" r="1.66" fill="rgb(99,3,3)"/><circle cx="13.5" cy="32.9" r="1.72" fill="rgb(83,2,2)"/><circle cx="35.9" cy="44.4" r="1.23" fill="rgb(110,3,3)"/><circle cx="38.1" cy="57.5" r="1.05" fill="rgb(96,3,3)"/><circle cx="37.3" cy="50.4" r="1.17" fill="rgb(122,3,3)"/><circle cx="32.1" cy="55.1" r="0.88" fill="rgb(101,3,3)"/><circle cx="27.4" cy="51.7" r="1.46" fill="rgb(118,3,3)"/><circle cx="37.9" cy="48.5" r="1.37" fill="rgb(91,2,2)"/><circle cx="31.9" cy="45.4" r="0.81" fill="rgb(139,4,4)"/><circle cx="35.6" cy="44.1" r="1.29" fill="rgb(95,2,2)"/><circle cx="32.3" cy="53.3" r="1.04" fill="rgb(98,3,3)"/><circle cx="31.5" cy="53.6" r="1.01" fill="rgb(89,2,2)"/><circle cx="34.7" cy="42.7" r="1.56" fill="rgb(112,3,3)"/><circle cx="34.6" cy="42.7" r="1.46" fill="rgb(82,2,2)"/><circle cx="47.8" cy="65.4" r="1.34" fill="rgb(108,3,3)"/><circle cx="49.3" cy="67.7" r="1.47" fill="rgb(101,3,3)"/><circle cx="51.1" cy="65.5" r="0.93" fill="rgb(71,2,2)"/><circle cx="41.8" cy="64.9" r="1.54" fill="rgb(90,2,2)"/><circle cx="30.6" cy="63.6" r="1.41" fill="rgb(116,3,3)"/><circle cx="38.2" cy="66.4" r="1.13" fill="rgb(64,2,2)"/><circle cx="32.4" cy="67.6" r="1.59" fill="rgb(114,3,3)"/><circle cx="37.7" cy="59.4" r="0.81" fill="rgb(84,2,2)"/><circle cx="37.1" cy="68.9" r="0.89" fill="rgb(87,2,2)"/><circle cx="27.4" cy="63.6" r="1.46" fill="rgb(102,3,3)"/><circle cx="54.3" cy="69.7" r="1.52" fill="rgb(98,3,3)"/><circle cx="37.9" cy="67.8" r="0.91" fill="rgb(109,3,3)"/><circle cx="57.0" cy="63.6" r="1.37" fill="rgb(117,3,3)"/><circle cx="52.8" cy="73.1" r="1.30" fill="rgb(76,2,2)"/><circle cx="62.6" cy="43.0" r="1.26" fill="rgb(108,3,3)"/><circle cx="55.6" cy="56.2" r="1.09" fill="rgb(93,2,2)"/><circle cx="67.7" cy="55.2" r="0.91" fill="rgb(121,3,3)"/><circle cx="55.1" cy="37.2" r="1.25" fill="rgb(80,2,2)"/><circle cx="70.5" cy="26.6" r="1.45" fill="rgb(102,3,3)"/><circle cx="65.4" cy="50.4" r="1.03" fill="rgb(120,3,3)"/><circle cx="60.3" cy="50.4" r="1.46" fill="rgb(75,2,2)"/><circle cx="58.5" cy="39.1" r="0.83" fill="rgb(75,2,2)"/><circle cx="69.4" cy="38.5" r="1.33" fill="rgb(83,2,2)"/><circle cx="56.9" cy="28.5" r="1.11" fill="rgb(101,3,3)"/><circle cx="60.2" cy="38.6" r="0.96" fill="rgb(93,2,2)"/><circle cx="62.5" cy="46.2" r="1.26" fill="rgb(74,2,2)"/><circle cx="23.3" cy="46.2" r="4.70" fill="rgb(242,7,7)"/><circle cx="15.4" cy="34.8" r="4.30" fill="rgb(191,6,6)"/><circle cx="66.1" cy="56.2" r="3.80" fill="rgb(242,7,7)"/><circle cx="54.2" cy="60.1" r="3.00" fill="rgb(229,7,7)"/><circle cx="7.5" cy="42.0" r="3.80" fill="rgb(127,4,4)"/><circle cx="61.3" cy="23.0" r="3.40" fill="rgb(140,4,4)"/><circle cx="65.0" cy="22.5" r="3.00" fill="rgb(140,4,4)"/><circle cx="45.5" cy="64.0" r="2.50" fill="rgb(114,3,3)"/><circle cx="62.6" cy="35.6" r="2.50" fill="rgb(153,4,4)"/><circle cx="74.8" cy="38.0" r="2.50" fill="rgb(127,4,4)"/><circle cx="83.5" cy="24.5" r="2.50" fill="rgb(153,4,4)"/><circle cx="79.5" cy="27.0" r="2.00" fill="rgb(140,4,4)"/><circle cx="33.6" cy="39.6" r="2.00" fill="rgb(140,4,4)"/><circle cx="34.4" cy="45.0" r="2.00" fill="rgb(140,4,4)"/><circle cx="19.4" cy="15.0" r="2.00" fill="rgb(127,4,4)"/><circle cx="31.2" cy="11.0" r="2.50" fill="rgb(140,4,4)"/><circle cx="41.5" cy="10.3" r="2.50" fill="rgb(140,4,4)"/><circle cx="36.8" cy="5.5" r="2.00" fill="rgb(153,4,4)"/><circle cx="33.6" cy="19.8" r="2.00" fill="rgb(153,4,4)"/><circle cx="37.6" cy="22.2" r="2.00" fill="rgb(140,4,4)"/><circle cx="58.1" cy="42.0" r="2.00" fill="rgb(127,4,4)"/><circle cx="36.8" cy="59.3" r="2.00" fill="rgb(114,3,3)"/><circle cx="32.8" cy="72.8" r="1.50" fill="rgb(102,3,3)"/><circle cx="78.0" cy="48.0" r="2.20" fill="rgb(114,3,3)"/><circle cx="80.0" cy="43.0" r="1.80" fill="rgb(114,3,3)"/><circle cx="60.0" cy="4.0" r="1.80" fill="rgb(114,3,3)"/><circle cx="52.0" cy="2.0" r="1.80" fill="rgb(114,3,3)"/><circle cx="57.0" cy="30.0" r="1.60" fill="rgb(114,3,3)"/><circle cx="28.0" cy="55.0" r="1.60" fill="rgb(102,3,3)"/></g></g>
</g>
<rect x="79.5" y="83.2" width="4.5" height="0.6" fill="#ccc"/>
</g>
<g transform="translate(512.0,284.0)" clip-path="url(#cp)">
<rect x="0" y="0" width="86.0" height="85.4" fill="#000"/>
<g clip-path="url(#cp)">
<g><g filter="url(#bl1)"><ellipse cx="44.7" cy="47.5" rx="12" ry="13.2" fill="none" stroke="rgb(4,5,56)" stroke-width="1.2"/><ellipse cx="48.3" cy="13" rx="10.8" ry="12" fill="none" stroke="rgb(4,5,51)" stroke-width="1.1"/><circle cx="33.4" cy="49.5" r="0.47" fill="rgb(2,3,31)"/><circle cx="36.9" cy="56.2" r="0.54" fill="rgb(6,8,88)"/><circle cx="40.6" cy="36.0" r="0.73" fill="rgb(3,4,40)"/><circle cx="34.1" cy="52.1" r="0.48" fill="rgb(7,9,95)"/><circle cx="56.0" cy="52.3" r="0.74" fill="rgb(4,5,54)"/><circle cx="35.0" cy="54.8" r="0.82" fill="rgb(2,3,31)"/><circle cx="56.5" cy="52.7" r="0.45" fill="rgb(7,9,101)"/><circle cx="55.6" cy="43.3" r="0.46" fill="rgb(4,5,60)"/><circle cx="52.4" cy="57.1" r="0.48" fill="rgb(6,7,80)"/><circle cx="57.0" cy="52.0" r="0.49" fill="rgb(6,8,88)"/><circle cx="35.7" cy="54.7" r="0.64" fill="rgb(4,5,58)"/><circle cx="56.9" cy="50.1" r="0.76" fill="rgb(7,9,99)"/><circle cx="56.2" cy="45.6" r="0.58" fill="rgb(6,7,79)"/><circle cx="39.4" cy="36.4" r="0.46" fill="rgb(3,4,47)"/><circle cx="37.7" cy="56.4" r="0.65" fill="rgb(2,3,32)"/><circle cx="49.9" cy="35.7" r="0.62" fill="rgb(5,6,67)"/><circle cx="46.7" cy="59.8" r="0.79" fill="rgb(2,3,37)"/><circle cx="33.0" cy="43.3" r="0.49" fill="rgb(6,7,80)"/><circle cx="56.3" cy="50.5" r="0.72" fill="rgb(2,3,34)"/><circle cx="32.5" cy="51.0" r="0.50" fill="rgb(3,4,50)"/><circle cx="32.0" cy="49.6" r="0.88" fill="rgb(3,4,42)"/><circle cx="55.2" cy="41.6" r="0.58" fill="rgb(3,4,44)"/><circle cx="44.6" cy="34.2" r="0.53" fill="rgb(6,8,85)"/><circle cx="38.2" cy="58.5" r="0.52" fill="rgb(2,3,31)"/><circle cx="54.9" cy="50.4" r="0.90" fill="rgb(5,6,66)"/><circle cx="55.2" cy="49.2" r="0.56" fill="rgb(6,8,86)"/><circle cx="50.4" cy="36.3" r="0.66" fill="rgb(5,6,64)"/><circle cx="36.6" cy="38.4" r="0.53" fill="rgb(7,9,98)"/><circle cx="54.4" cy="39.2" r="0.84" fill="rgb(3,4,50)"/><circle cx="56.4" cy="42.8" r="0.66" fill="rgb(6,7,80)"/><circle cx="41.3" cy="34.7" r="0.53" fill="rgb(6,7,79)"/><circle cx="40.4" cy="34.5" r="0.47" fill="rgb(7,9,93)"/><circle cx="34.1" cy="53.9" r="0.89" fill="rgb(5,6,70)"/><circle cx="35.7" cy="37.6" r="0.86" fill="rgb(7,9,99)"/><circle cx="45.4" cy="35.2" r="0.85" fill="rgb(6,8,86)"/><circle cx="33.8" cy="40.9" r="0.57" fill="rgb(4,5,56)"/><circle cx="43.6" cy="34.5" r="0.76" fill="rgb(7,9,95)"/><circle cx="48.2" cy="34.9" r="0.85" fill="rgb(7,9,95)"/><circle cx="32.8" cy="44.6" r="0.45" fill="rgb(4,5,55)"/><circle cx="40.4" cy="59.0" r="0.87" fill="rgb(6,7,79)"/><circle cx="33.4" cy="44.2" r="0.67" fill="rgb(6,7,80)"/><circle cx="35.5" cy="55.5" r="0.52" fill="rgb(4,5,59)"/><circle cx="39.4" cy="59.2" r="0.45" fill="rgb(4,5,52)"/><circle cx="40.8" cy="35.4" r="0.78" fill="rgb(6,7,77)"/><circle cx="55.6" cy="42.3" r="0.64" fill="rgb(4,6,62)"/><circle cx="49.9" cy="59.6" r="0.73" fill="rgb(4,5,54)"/><circle cx="45.5" cy="59.8" r="0.40" fill="rgb(4,5,56)"/><circle cx="42.2" cy="62.1" r="0.50" fill="rgb(4,6,61)"/><circle cx="47.1" cy="61.3" r="0.75" fill="rgb(3,4,42)"/><circle cx="33.4" cy="50.3" r="0.70" fill="rgb(7,8,90)"/><circle cx="48.3" cy="23.6" r="0.82" fill="rgb(3,4,43)"/><circle cx="37.5" cy="10.1" r="0.78" fill="rgb(4,5,53)"/><circle cx="43.7" cy="3.3" r="0.68" fill="rgb(5,6,70)"/><circle cx="42.8" cy="21.4" r="0.77" fill="rgb(3,4,49)"/><circle cx="37.9" cy="13.0" r="0.47" fill="rgb(3,4,43)"/><circle cx="37.5" cy="9.6" r="0.53" fill="rgb(2,3,33)"/><circle cx="51.8" cy="2.0" r="0.70" fill="rgb(4,5,53)"/><circle cx="56.9" cy="3.2" r="0.85" fill="rgb(3,4,49)"/><circle cx="55.3" cy="20.9" r="0.70" fill="rgb(6,7,76)"/><circle cx="39.9" cy="18.7" r="0.71" fill="rgb(3,4,46)"/><circle cx="39.7" cy="19.3" r="0.60" fill="rgb(6,7,77)"/><circle cx="53.7" cy="23.9" r="0.50" fill="rgb(3,4,45)"/><circle cx="58.7" cy="10.9" r="0.82" fill="rgb(6,8,81)"/><circle cx="53.0" cy="2.2" r="0.58" fill="rgb(5,7,73)"/><circle cx="44.3" cy="25.2" r="0.82" fill="rgb(3,4,42)"/><circle cx="56.9" cy="4.0" r="0.41" fill="rgb(3,4,48)"/><circle cx="59.2" cy="14.0" r="0.76" fill="rgb(3,4,47)"/><circle cx="52.4" cy="24.5" r="0.49" fill="rgb(3,4,48)"/><circle cx="55.1" cy="4.1" r="0.74" fill="rgb(4,6,62)"/><circle cx="38.2" cy="16.8" r="0.66" fill="rgb(5,6,68)"/><circle cx="51.4" cy="2.6" r="0.63" fill="rgb(5,6,67)"/><circle cx="40.1" cy="20.7" r="0.61" fill="rgb(4,5,60)"/><circle cx="46.0" cy="1.6" r="0.65" fill="rgb(6,7,80)"/><circle cx="43.8" cy="0.3" r="0.88" fill="rgb(5,6,70)"/><circle cx="39.3" cy="18.0" r="0.78" fill="rgb(6,7,79)"/><circle cx="56.1" cy="22.1" r="0.43" fill="rgb(2,3,36)"/><circle cx="57.7" cy="19.1" r="0.52" fill="rgb(2,3,37)"/><circle cx="44.0" cy="1.9" r="0.71" fill="rgb(6,8,87)"/><circle cx="58.7" cy="10.1" r="0.41" fill="rgb(3,4,43)"/><circle cx="56.5" cy="8.4" r="0.64" fill="rgb(3,4,42)"/><circle cx="48.7" cy="1.8" r="0.56" fill="rgb(3,4,44)"/><circle cx="57.8" cy="19.5" r="0.70" fill="rgb(6,8,86)"/><circle cx="59.2" cy="12.0" r="0.58" fill="rgb(3,4,48)"/><circle cx="56.5" cy="8.2" r="0.70" fill="rgb(5,6,69)"/><circle cx="59.2" cy="14.0" r="0.77" fill="rgb(6,7,79)"/><circle cx="48.8" cy="0.2" r="0.57" fill="rgb(4,5,52)"/><circle cx="55.8" cy="3.2" r="0.50" fill="rgb(5,6,67)"/><circle cx="37.8" cy="10.3" r="0.58" fill="rgb(3,4,44)"/><circle cx="40.4" cy="20.7" r="0.67" fill="rgb(6,8,86)"/><circle cx="48.0" cy="1.2" r="0.53" fill="rgb(4,5,55)"/><circle cx="41.9" cy="15.9" r="1.04" fill="rgb(3,4,49)"/><circle cx="34.1" cy="10.4" r="1.00" fill="rgb(4,6,62)"/><circle cx="37.0" cy="15.5" r="1.30" fill="rgb(4,5,59)"/><circle cx="34.7" cy="11.9" r="0.72" fill="rgb(4,6,63)"/><circle cx="38.7" cy="15.4" r="0.86" fill="rgb(4,5,60)"/><circle cx="40.3" cy="10.7" r="0.83" fill="rgb(6,7,80)"/><circle cx="35.1" cy="14.9" r="1.05" fill="rgb(3,4,42)"/><circle cx="37.3" cy="10.4" r="0.78" fill="rgb(7,8,89)"/><circle cx="42.5" cy="11.6" r="0.72" fill="rgb(5,6,66)"/><circle cx="36.8" cy="19.5" r="0.76" fill="rgb(3,4,50)"/><circle cx="35.2" cy="7.7" r="1.01" fill="rgb(5,6,68)"/><circle cx="41.2" cy="10.9" r="1.26" fill="rgb(4,6,63)"/><circle cx="35.2" cy="12.8" r="1.10" fill="rgb(6,8,86)"/><circle cx="38.2" cy="16.9" r="1.11" fill="rgb(5,6,70)"/><circle cx="35.8" cy="7.3" r="1.10" fill="rgb(4,5,60)"/><circle cx="37.8" cy="12.8" r="1.22" fill="rgb(6,8,88)"/><circle cx="31.9" cy="18.7" r="1.23" fill="rgb(3,4,47)"/><circle cx="39.6" cy="8.4" r="0.82" fill="rgb(4,5,54)"/><ellipse cx="28.1" cy="28.9" rx="6.4" ry="6.2" fill="rgb(9,11,114)"/><circle cx="27.4" cy="29.3" r="0.63" fill="rgb(12,16,163)"/><circle cx="27.6" cy="30.3" r="0.67" fill="rgb(17,22,227)"/><circle cx="26.0" cy="30.9" r="0.96" fill="rgb(18,23,236)"/><circle cx="29.2" cy="30.3" r="1.12" fill="rgb(18,22,234)"/><circle cx="30.9" cy="27.6" r="0.82" fill="rgb(13,16,169)"/><circle cx="31.7" cy="26.6" r="0.93" fill="rgb(17,21,223)"/><circle cx="27.9" cy="32.0" r="1.14" fill="rgb(12,15,162)"/><circle cx="26.9" cy="27.8" r="1.10" fill="rgb(17,22,227)"/><circle cx="26.4" cy="26.8" r="0.61" fill="rgb(15,19,197)"/><circle cx="26.5" cy="30.9" r="0.65" fill="rgb(18,23,235)"/><circle cx="24.9" cy="28.5" r="1.11" fill="rgb(18,22,232)"/><circle cx="25.1" cy="27.9" r="1.11" fill="rgb(14,18,186)"/><circle cx="28.5" cy="28.6" r="1.08" fill="rgb(15,19,200)"/><circle cx="22.6" cy="23.6" r="0.73" fill="rgb(14,18,189)"/><ellipse cx="79" cy="75.5" rx="6.5" ry="6.5" fill="rgb(6,7,76)"/><ellipse cx="80" cy="77" rx="3.5" ry="3.5" fill="rgb(9,11,114)"/><ellipse cx="77.5" cy="36.4" rx="7.5" ry="7.5" fill="rgb(2,3,33)"/><circle cx="79.5" cy="30.1" r="0.86" fill="rgb(6,7,77)"/><circle cx="73.9" cy="29.2" r="0.93" fill="rgb(4,5,56)"/><circle cx="77.1" cy="38.0" r="0.66" fill="rgb(3,3,40)"/><circle cx="79.7" cy="36.1" r="0.90" fill="rgb(3,4,45)"/><circle cx="82.3" cy="35.4" r="0.69" fill="rgb(6,7,80)"/><circle cx="84.5" cy="27.9" r="0.71" fill="rgb(4,5,58)"/><circle cx="75.8" cy="33.6" r="0.88" fill="rgb(5,7,74)"/><circle cx="77.6" cy="28.9" r="0.98" fill="rgb(4,5,52)"/><circle cx="77.6" cy="32.1" r="0.68" fill="rgb(3,3,39)"/><circle cx="74.8" cy="33.8" r="0.65" fill="rgb(4,6,63)"/><circle cx="74.4" cy="38.2" r="0.88" fill="rgb(5,6,65)"/><circle cx="65.9" cy="34.2" r="1.05" fill="rgb(4,5,53)"/><circle cx="79.9" cy="33.9" r="1.07" fill="rgb(3,4,41)"/><circle cx="73.7" cy="44.8" r="0.93" fill="rgb(5,7,74)"/><circle cx="78.1" cy="38.4" r="1.08" fill="rgb(3,4,41)"/><ellipse cx="27" cy="2" rx="6" ry="4" fill="rgb(5,7,71)"/><ellipse cx="6" cy="7" rx="6" ry="5" fill="rgb(3,4,45)"/><ellipse cx="1" cy="36" rx="3" ry="9" fill="rgb(4,5,51)"/><circle cx="15.1" cy="37.1" r="0.73" fill="rgb(2,3,35)"/><circle cx="85.9" cy="67.0" r="0.57" fill="rgb(3,4,42)"/><circle cx="27.2" cy="4.4" r="0.78" fill="rgb(3,4,41)"/><circle cx="56.8" cy="41.3" r="0.48" fill="rgb(1,1,20)"/><circle cx="5.8" cy="8.1" r="0.59" fill="rgb(3,4,42)"/><circle cx="80.2" cy="44.2" r="0.67" fill="rgb(2,2,28)"/><circle cx="66.8" cy="60.7" r="0.79" fill="rgb(3,3,40)"/><circle cx="58.3" cy="50.8" r="0.47" fill="rgb(2,2,28)"/><circle cx="38.5" cy="13.3" r="0.48" fill="rgb(2,2,26)"/><circle cx="15.1" cy="53.7" r="0.53" fill="rgb(3,4,45)"/><circle cx="58.8" cy="44.4" r="0.57" fill="rgb(2,2,25)"/><circle cx="17.2" cy="82.8" r="0.77" fill="rgb(2,3,34)"/><circle cx="55.9" cy="12.4" r="0.62" fill="rgb(1,1,18)"/><circle cx="27.9" cy="50.5" r="0.47" fill="rgb(1,2,20)"/><circle cx="62.8" cy="41.7" r="0.76" fill="rgb(1,1,18)"/><circle cx="7.6" cy="80.7" r="0.64" fill="rgb(2,3,35)"/><circle cx="47.8" cy="12.8" r="0.79" fill="rgb(2,2,29)"/><circle cx="78.2" cy="12.6" r="0.51" fill="rgb(2,3,30)"/><circle cx="21.3" cy="73.9" r="0.50" fill="rgb(1,1,15)"/><circle cx="14.0" cy="23.4" r="0.78" fill="rgb(3,4,41)"/><circle cx="57.6" cy="36.7" r="0.42" fill="rgb(3,3,40)"/><circle cx="10.8" cy="17.2" r="0.57" fill="rgb(3,4,41)"/><circle cx="15.7" cy="5.4" r="0.76" fill="rgb(1,1,13)"/><circle cx="63.1" cy="12.1" r="0.52" fill="rgb(1,1,19)"/><circle cx="37.7" cy="79.2" r="0.74" fill="rgb(2,2,30)"/><circle cx="7.5" cy="15.1" r="0.52" fill="rgb(3,3,39)"/><circle cx="78.8" cy="2.2" r="0.53" fill="rgb(3,4,44)"/><circle cx="13.0" cy="6.9" r="0.51" fill="rgb(3,4,42)"/><circle cx="22.6" cy="62.0" r="0.45" fill="rgb(2,3,34)"/><circle cx="14.5" cy="51.2" r="0.70" fill="rgb(3,4,41)"/><circle cx="37.5" cy="84.7" r="0.56" fill="rgb(3,4,44)"/><circle cx="78.6" cy="85.9" r="0.44" fill="rgb(1,2,21)"/><circle cx="59.9" cy="76.1" r="0.50" fill="rgb(2,3,38)"/><circle cx="41.0" cy="0.3" r="0.43" fill="rgb(1,1,12)"/><circle cx="19.7" cy="80.2" r="0.67" fill="rgb(3,4,41)"/><circle cx="78.8" cy="33.8" r="0.68" fill="rgb(2,3,34)"/><circle cx="59.5" cy="8.0" r="0.76" fill="rgb(1,1,17)"/><circle cx="38.3" cy="59.1" r="0.70" fill="rgb(3,3,40)"/><circle cx="26.9" cy="25.6" r="0.69" fill="rgb(1,1,14)"/><circle cx="75.1" cy="27.1" r="0.56" fill="rgb(1,2,23)"/></g></g>
</g>
<rect x="79.5" y="83.2" width="4.5" height="0.6" fill="#ccc"/>
</g>
<g transform="translate(599.6,284.0)" clip-path="url(#cp)">
<rect x="0" y="0" width="86.0" height="85.4" fill="#000"/>
<g clip-path="url(#cp)">
<g><g filter="url(#bl3)"><circle cx="35" cy="14" r="12" fill="rgb(120,0,0)" fill-opacity="0.25"/><circle cx="60" cy="18" r="10" fill="rgb(120,0,0)" fill-opacity="0.25"/><circle cx="78" cy="35" r="10" fill="rgb(120,0,0)" fill-opacity="0.22"/><circle cx="12" cy="40" r="12" fill="rgb(120,0,0)" fill-opacity="0.25"/><circle cx="45" cy="62" r="14" fill="rgb(120,0,0)" fill-opacity="0.18"/><circle cx="70" cy="70" r="12" fill="rgb(120,0,0)" fill-opacity="0.12"/><circle cx="15" cy="72" r="10" fill="rgb(120,0,0)" fill-opacity="0.1"/></g><g filter="url(#bl1)"><circle cx="79.5" cy="40.0" r="1.01" fill="rgb(65,2,2)"/><circle cx="15.9" cy="44.0" r="1.10" fill="rgb(77,2,2)"/><circle cx="8.1" cy="26.1" r="0.67" fill="rgb(78,2,2)"/><circle cx="59.6" cy="3.6" r="1.39" fill="rgb(87,2,2)"/><circle cx="56.2" cy="52.9" r="0.73" fill="rgb(31,0,0)"/><circle cx="45.4" cy="5.1" r="0.75" fill="rgb(44,1,1)"/><circle cx="2.6" cy="39.9" r="0.95" fill="rgb(80,2,2)"/><circle cx="39.3" cy="23.9" r="1.40" fill="rgb(88,2,2)"/><circle cx="72.3" cy="60.9" r="0.85" fill="rgb(44,1,1)"/><circle cx="24.9" cy="6.0" r="1.21" fill="rgb(54,1,1)"/><circle cx="72.8" cy="33.2" r="1.37" fill="rgb(80,2,2)"/><circle cx="0.0" cy="18.0" r="1.33" fill="rgb(58,1,1)"/><circle cx="84.3" cy="34.2" r="0.66" fill="rgb(67,2,2)"/><circle cx="67.0" cy="23.2" r="0.67" fill="rgb(50,1,1)"/><circle cx="82.9" cy="65.2" r="0.69" fill="rgb(45,1,1)"/><circle cx="8.7" cy="5.2" r="1.24" fill="rgb(41,1,1)"/><circle cx="16.4" cy="62.9" r="0.70" fill="rgb(68,2,2)"/><circle cx="10.0" cy="36.2" r="0.77" fill="rgb(46,1,1)"/><circle cx="83.5" cy="69.1" r="0.84" fill="rgb(82,2,2)"/><circle cx="18.1" cy="33.9" r="1.28" fill="rgb(68,2,2)"/><circle cx="8.6" cy="85.1" r="0.77" fill="rgb(45,1,1)"/><circle cx="66.5" cy="28.3" r="0.84" fill="rgb(34,1,1)"/><circle cx="7.8" cy="50.1" r="0.79" fill="rgb(65,2,2)"/><circle cx="32.0" cy="39.0" r="1.37" fill="rgb(58,1,1)"/><circle cx="49.4" cy="74.5" r="0.75" fill="rgb(39,1,1)"/><circle cx="78.1" cy="70.3" r="0.80" fill="rgb(41,1,1)"/><circle cx="63.6" cy="80.9" r="0.76" fill="rgb(86,2,2)"/><circle cx="75.9" cy="51.9" r="0.94" fill="rgb(36,1,1)"/><circle cx="3.3" cy="82.8" r="0.79" fill="rgb(71,2,2)"/><circle cx="22.1" cy="70.8" r="1.08" fill="rgb(47,1,1)"/><circle cx="15.1" cy="62.0" r="0.66" fill="rgb(43,1,1)"/><circle cx="48.1" cy="73.3" r="1.09" fill="rgb(47,1,1)"/><circle cx="78.9" cy="17.5" r="0.61" fill="rgb(46,1,1)"/><circle cx="38.3" cy="5.2" r="0.74" fill="rgb(52,1,1)"/><circle cx="31.1" cy="76.6" r="1.38" fill="rgb(69,2,2)"/><circle cx="59.4" cy="50.3" r="0.71" fill="rgb(32,1,1)"/><circle cx="1.5" cy="78.3" r="1.16" fill="rgb(87,2,2)"/><circle cx="1.8" cy="54.7" r="0.99" fill="rgb(73,2,2)"/><circle cx="27.4" cy="85.9" r="0.66" fill="rgb(62,1,1)"/><circle cx="63.4" cy="77.4" r="1.19" fill="rgb(71,2,2)"/><circle cx="68.2" cy="78.7" r="0.88" fill="rgb(70,2,2)"/><circle cx="77.5" cy="74.9" r="0.93" fill="rgb(76,2,2)"/><circle cx="74.3" cy="49.3" r="1.10" fill="rgb(53,1,1)"/><circle cx="6.9" cy="55.0" r="1.39" fill="rgb(82,2,2)"/><circle cx="62.6" cy="33.4" r="1.19" fill="rgb(64,2,2)"/><circle cx="37.9" cy="72.1" r="0.67" fill="rgb(74,2,2)"/><circle cx="2.6" cy="51.7" r="0.98" fill="rgb(44,1,1)"/><circle cx="60.1" cy="42.8" r="1.09" fill="rgb(84,2,2)"/><circle cx="22.0" cy="1.0" r="0.84" fill="rgb(70,2,2)"/><circle cx="17.4" cy="14.6" r="1.32" fill="rgb(69,2,2)"/><circle cx="38.0" cy="76.7" r="0.86" fill="rgb(69,2,2)"/><circle cx="17.1" cy="37.1" r="1.24" fill="rgb(84,2,2)"/><circle cx="75.7" cy="33.1" r="1.07" fill="rgb(49,1,1)"/><circle cx="11.7" cy="42.7" r="1.27" fill="rgb(80,2,2)"/><circle cx="61.2" cy="81.7" r="0.82" fill="rgb(40,1,1)"/><circle cx="38.8" cy="23.7" r="0.77" fill="rgb(54,1,1)"/><circle cx="27.1" cy="72.2" r="1.39" fill="rgb(57,1,1)"/><circle cx="6.4" cy="2.7" r="1.30" fill="rgb(33,1,1)"/><circle cx="60.9" cy="49.1" r="0.85" fill="rgb(77,2,2)"/><circle cx="1.6" cy="11.7" r="0.96" fill="rgb(32,1,1)"/><circle cx="71.4" cy="20.4" r="0.71" fill="rgb(33,1,1)"/><circle cx="54.1" cy="38.4" r="1.10" fill="rgb(69,2,2)"/><circle cx="69.4" cy="82.4" r="1.15" fill="rgb(42,1,1)"/><circle cx="0.9" cy="40.6" r="1.17" fill="rgb(41,1,1)"/><circle cx="23.4" cy="29.7" r="1.16" fill="rgb(61,1,1)"/><circle cx="52.8" cy="65.0" r="0.91" fill="rgb(77,2,2)"/><circle cx="77.9" cy="7.5" r="1.35" fill="rgb(72,2,2)"/><circle cx="11.2" cy="39.0" r="1.10" fill="rgb(83,2,2)"/><circle cx="32.4" cy="48.9" r="1.30" fill="rgb(77,2,2)"/><circle cx="81.2" cy="39.9" r="1.12" fill="rgb(42,1,1)"/><circle cx="62.1" cy="70.4" r="1.11" fill="rgb(72,2,2)"/><circle cx="18.3" cy="77.4" r="1.38" fill="rgb(87,2,2)"/><circle cx="46.2" cy="68.0" r="0.86" fill="rgb(83,2,2)"/><circle cx="73.6" cy="30.0" r="0.67" fill="rgb(56,1,1)"/><circle cx="47.3" cy="66.1" r="0.99" fill="rgb(32,1,1)"/><circle cx="69.6" cy="5.5" r="1.24" fill="rgb(40,1,1)"/><circle cx="28.8" cy="67.8" r="0.71" fill="rgb(39,1,1)"/><circle cx="44.4" cy="62.2" r="1.27" fill="rgb(71,2,2)"/><circle cx="81.3" cy="42.4" r="1.36" fill="rgb(35,1,1)"/><circle cx="19.0" cy="45.3" r="0.83" fill="rgb(73,2,2)"/><circle cx="72.6" cy="48.2" r="0.85" fill="rgb(52,1,1)"/><circle cx="72.7" cy="77.4" r="0.77" fill="rgb(80,2,2)"/><circle cx="83.3" cy="45.1" r="1.06" fill="rgb(42,1,1)"/><circle cx="52.0" cy="2.4" r="1.38" fill="rgb(60,1,1)"/><circle cx="34.5" cy="68.9" r="1.05" fill="rgb(59,1,1)"/><circle cx="59.4" cy="5.7" r="1.03" fill="rgb(54,1,1)"/><circle cx="82.3" cy="79.4" r="0.82" fill="rgb(58,1,1)"/><circle cx="10.9" cy="37.3" r="1.25" fill="rgb(83,2,2)"/><circle cx="41.0" cy="27.3" r="0.75" fill="rgb(66,2,2)"/><circle cx="79.6" cy="11.1" r="1.22" fill="rgb(31,1,1)"/><circle cx="16.7" cy="19.5" r="1.15" fill="rgb(49,1,1)"/><circle cx="30.6" cy="53.3" r="0.68" fill="rgb(73,2,2)"/><circle cx="10.6" cy="43.9" r="0.80" fill="rgb(42,1,1)"/><circle cx="32.3" cy="35.6" r="1.02" fill="rgb(39,1,1)"/><circle cx="17.6" cy="54.3" r="1.11" fill="rgb(61,1,1)"/><circle cx="73.2" cy="52.6" r="1.29" fill="rgb(44,1,1)"/><circle cx="63.7" cy="69.7" r="1.32" fill="rgb(49,1,1)"/><circle cx="27.1" cy="79.4" r="0.77" fill="rgb(89,2,2)"/><circle cx="76.3" cy="11.5" r="0.79" fill="rgb(73,2,2)"/><circle cx="22.3" cy="8.3" r="1.27" fill="rgb(55,1,1)"/><circle cx="67.9" cy="10.8" r="0.92" fill="rgb(70,2,2)"/><circle cx="1.5" cy="17.3" r="1.15" fill="rgb(84,2,2)"/><circle cx="83.3" cy="9.9" r="1.00" fill="rgb(75,2,2)"/><circle cx="43.2" cy="59.0" r="0.75" fill="rgb(34,1,1)"/><circle cx="9.1" cy="3.2" r="1.04" fill="rgb(60,1,1)"/><circle cx="15.9" cy="17.5" r="1.27" fill="rgb(88,2,2)"/><circle cx="79.7" cy="8.2" r="0.65" fill="rgb(86,2,2)"/><circle cx="39.7" cy="65.8" r="0.86" fill="rgb(57,1,1)"/><circle cx="44.3" cy="37.0" r="1.08" fill="rgb(31,0,0)"/><circle cx="60.3" cy="72.6" r="0.75" fill="rgb(57,1,1)"/><circle cx="63.6" cy="34.9" r="0.76" fill="rgb(40,1,1)"/><circle cx="44.1" cy="1.3" r="1.31" fill="rgb(77,2,2)"/><circle cx="60.6" cy="74.0" r="1.10" fill="rgb(54,1,1)"/><circle cx="84.5" cy="69.2" r="0.81" fill="rgb(84,2,2)"/><circle cx="64.0" cy="66.9" r="1.25" fill="rgb(54,1,1)"/><circle cx="77.1" cy="75.7" r="1.16" fill="rgb(75,2,2)"/><circle cx="65.8" cy="34.9" r="1.18" fill="rgb(34,1,1)"/><circle cx="29.4" cy="40.3" r="0.61" fill="rgb(51,1,1)"/><circle cx="54.9" cy="53.7" r="0.79" fill="rgb(86,2,2)"/><circle cx="57.3" cy="29.1" r="1.13" fill="rgb(64,2,2)"/><circle cx="29.2" cy="12.8" r="1.90" fill="rgb(125,3,3)"/><circle cx="31.9" cy="4.3" r="1.88" fill="rgb(78,2,2)"/><circle cx="27.6" cy="7.5" r="1.08" fill="rgb(107,3,3)"/><circle cx="38.8" cy="15.2" r="1.21" fill="rgb(84,2,2)"/><circle cx="34.9" cy="27.0" r="1.41" fill="rgb(115,3,3)"/><circle cx="42.6" cy="12.4" r="1.89" fill="rgb(125,3,3)"/><circle cx="35.9" cy="11.8" r="1.46" fill="rgb(134,4,4)"/><circle cx="48.3" cy="17.9" r="0.98" fill="rgb(112,3,3)"/><circle cx="38.4" cy="20.1" r="1.47" fill="rgb(80,2,2)"/><circle cx="40.9" cy="11.9" r="1.38" fill="rgb(122,3,3)"/><circle cx="31.7" cy="17.7" r="1.52" fill="rgb(119,3,3)"/><circle cx="33.0" cy="23.3" r="1.13" fill="rgb(77,2,2)"/><circle cx="35.1" cy="15.8" r="0.97" fill="rgb(134,4,4)"/><circle cx="25.1" cy="22.2" r="1.62" fill="rgb(80,2,2)"/><circle cx="49.4" cy="13.0" r="0.88" fill="rgb(145,4,4)"/><circle cx="28.8" cy="16.9" r="1.87" fill="rgb(95,2,2)"/><circle cx="21.0" cy="11.9" r="1.60" fill="rgb(112,3,3)"/><circle cx="46.0" cy="12.5" r="1.46" fill="rgb(85,2,2)"/><circle cx="30.3" cy="9.3" r="1.02" fill="rgb(80,2,2)"/><circle cx="32.0" cy="13.5" r="1.29" fill="rgb(127,4,4)"/><circle cx="30.5" cy="15.3" r="1.44" fill="rgb(108,3,3)"/><circle cx="36.3" cy="6.7" r="1.90" fill="rgb(149,4,4)"/><circle cx="59.6" cy="13.6" r="0.93" fill="rgb(144,4,4)"/><circle cx="61.5" cy="9.8" r="1.20" fill="rgb(97,3,3)"/><circle cx="57.4" cy="10.9" r="1.45" fill="rgb(124,3,3)"/><circle cx="60.1" cy="14.1" r="1.07" fill="rgb(151,4,4)"/><circle cx="68.9" cy="11.8" r="0.84" fill="rgb(81,2,2)"/><circle cx="59.3" cy="24.3" r="1.49" fill="rgb(84,2,2)"/><circle cx="58.1" cy="17.4" r="0.90" fill="rgb(128,4,4)"/><circle cx="53.3" cy="15.3" r="1.21" fill="rgb(113,3,3)"/><circle cx="61.1" cy="23.3" r="1.62" fill="rgb(140,4,4)"/><circle cx="62.3" cy="19.4" r="1.69" fill="rgb(124,3,3)"/><circle cx="60.4" cy="13.9" r="1.27" fill="rgb(96,3,3)"/><circle cx="61.8" cy="12.6" r="1.52" fill="rgb(152,4,4)"/><circle cx="57.1" cy="24.7" r="1.62" fill="rgb(146,4,4)"/><circle cx="55.7" cy="20.5" r="0.91" fill="rgb(143,4,4)"/><circle cx="61.8" cy="19.2" r="1.42" fill="rgb(113,3,3)"/><circle cx="58.3" cy="13.4" r="1.65" fill="rgb(82,2,2)"/><circle cx="61.7" cy="26.6" r="0.89" fill="rgb(99,3,3)"/><circle cx="58.8" cy="8.9" r="1.11" fill="rgb(87,2,2)"/><circle cx="73.0" cy="46.3" r="1.17" fill="rgb(72,2,2)"/><circle cx="76.4" cy="23.7" r="1.72" fill="rgb(135,4,4)"/><circle cx="82.6" cy="30.0" r="1.60" fill="rgb(87,2,2)"/><circle cx="75.9" cy="43.3" r="1.73" fill="rgb(132,4,4)"/><circle cx="78.1" cy="43.5" r="1.17" fill="rgb(91,2,2)"/><circle cx="74.1" cy="40.4" r="0.99" fill="rgb(106,3,3)"/><circle cx="79.8" cy="24.3" r="1.64" fill="rgb(106,3,3)"/><circle cx="81.8" cy="48.6" r="1.68" fill="rgb(85,2,2)"/><circle cx="84.0" cy="36.5" r="1.34" fill="rgb(107,3,3)"/><circle cx="85.1" cy="32.3" r="1.60" fill="rgb(68,2,2)"/><circle cx="69.6" cy="30.4" r="0.88" fill="rgb(69,2,2)"/><circle cx="77.1" cy="15.8" r="0.88" fill="rgb(112,3,3)"/><circle cx="83.1" cy="46.7" r="1.45" fill="rgb(82,2,2)"/><circle cx="79.6" cy="50.1" r="1.32" fill="rgb(122,3,3)"/><circle cx="74.4" cy="40.0" r="1.77" fill="rgb(115,3,3)"/><circle cx="71.8" cy="35.4" r="1.52" fill="rgb(117,3,3)"/><circle cx="82.4" cy="30.3" r="1.63" fill="rgb(114,3,3)"/><circle cx="83.5" cy="22.0" r="1.63" fill="rgb(131,4,4)"/><circle cx="84.9" cy="31.6" r="1.32" fill="rgb(118,3,3)"/><circle cx="79.7" cy="26.1" r="1.22" fill="rgb(74,2,2)"/><circle cx="77.2" cy="7.4" r="1.18" fill="rgb(76,2,2)"/><circle cx="79.5" cy="44.1" r="1.09" fill="rgb(137,4,4)"/><circle cx="16.8" cy="42.2" r="0.91" fill="rgb(126,3,3)"/><circle cx="12.6" cy="35.7" r="0.86" fill="rgb(111,3,3)"/><circle cx="0.6" cy="32.3" r="0.84" fill="rgb(84,2,2)"/><circle cx="13.7" cy="44.5" r="1.04" fill="rgb(131,4,4)"/><circle cx="8.5" cy="37.2" r="0.98" fill="rgb(98,3,3)"/><circle cx="16.7" cy="50.4" r="1.11" fill="rgb(118,3,3)"/><circle cx="14.8" cy="32.7" r="1.06" fill="rgb(144,4,4)"/><circle cx="16.7" cy="36.7" r="1.35" fill="rgb(149,4,4)"/><circle cx="7.8" cy="40.5" r="0.85" fill="rgb(148,4,4)"/><circle cx="13.9" cy="33.5" r="1.33" fill="rgb(115,3,3)"/><circle cx="9.2" cy="61.0" r="1.46" fill="rgb(94,2,2)"/><circle cx="18.8" cy="40.5" r="1.17" fill="rgb(137,4,4)"/><circle cx="10.1" cy="30.7" r="0.96" fill="rgb(88,2,2)"/><circle cx="10.0" cy="44.9" r="1.67" fill="rgb(115,3,3)"/><circle cx="-0.3" cy="23.3" r="1.07" fill="rgb(117,3,3)"/><circle cx="18.0" cy="49.7" r="0.80" fill="rgb(139,4,4)"/><circle cx="18.3" cy="29.3" r="0.88" fill="rgb(97,3,3)"/><circle cx="11.4" cy="36.9" r="1.28" fill="rgb(112,3,3)"/><circle cx="19.7" cy="37.4" r="1.66" fill="rgb(99,3,3)"/><circle cx="13.5" cy="32.9" r="1.72" fill="rgb(83,2,2)"/><circle cx="35.9" cy="44.4" r="1.23" fill="rgb(110,3,3)"/><circle cx="38.1" cy="57.5" r="1.05" fill="rgb(96,3,3)"/><circle cx="37.3" cy="50.4" r="1.17" fill="rgb(122,3,3)"/><circle cx="32.1" cy="55.1" r="0.88" fill="rgb(101,3,3)"/><circle cx="27.4" cy="51.7" r="1.46" fill="rgb(118,3,3)"/><circle cx="37.9" cy="48.5" r="1.37" fill="rgb(91,2,2)"/><circle cx="31.9" cy="45.4" r="0.81" fill="rgb(139,4,4)"/><circle cx="35.6" cy="44.1" r="1.29" fill="rgb(95,2,2)"/><circle cx="32.3" cy="53.3" r="1.04" fill="rgb(98,3,3)"/><circle cx="31.5" cy="53.6" r="1.01" fill="rgb(89,2,2)"/><circle cx="34.7" cy="42.7" r="1.56" fill="rgb(112,3,3)"/><circle cx="34.6" cy="42.7" r="1.46" fill="rgb(82,2,2)"/><circle cx="47.8" cy="65.4" r="1.34" fill="rgb(108,3,3)"/><circle cx="49.3" cy="67.7" r="1.47" fill="rgb(101,3,3)"/><circle cx="51.1" cy="65.5" r="0.93" fill="rgb(71,2,2)"/><circle cx="41.8" cy="64.9" r="1.54" fill="rgb(90,2,2)"/><circle cx="30.6" cy="63.6" r="1.41" fill="rgb(116,3,3)"/><circle cx="38.2" cy="66.4" r="1.13" fill="rgb(64,2,2)"/><circle cx="32.4" cy="67.6" r="1.59" fill="rgb(114,3,3)"/><circle cx="37.7" cy="59.4" r="0.81" fill="rgb(84,2,2)"/><circle cx="37.1" cy="68.9" r="0.89" fill="rgb(87,2,2)"/><circle cx="27.4" cy="63.6" r="1.46" fill="rgb(102,3,3)"/><circle cx="54.3" cy="69.7" r="1.52" fill="rgb(98,3,3)"/><circle cx="37.9" cy="67.8" r="0.91" fill="rgb(109,3,3)"/><circle cx="57.0" cy="63.6" r="1.37" fill="rgb(117,3,3)"/><circle cx="52.8" cy="73.1" r="1.30" fill="rgb(76,2,2)"/><circle cx="62.6" cy="43.0" r="1.26" fill="rgb(108,3,3)"/><circle cx="55.6" cy="56.2" r="1.09" fill="rgb(93,2,2)"/><circle cx="67.7" cy="55.2" r="0.91" fill="rgb(121,3,3)"/><circle cx="55.1" cy="37.2" r="1.25" fill="rgb(80,2,2)"/><circle cx="70.5" cy="26.6" r="1.45" fill="rgb(102,3,3)"/><circle cx="65.4" cy="50.4" r="1.03" fill="rgb(120,3,3)"/><circle cx="60.3" cy="50.4" r="1.46" fill="rgb(75,2,2)"/><circle cx="58.5" cy="39.1" r="0.83" fill="rgb(75,2,2)"/><circle cx="69.4" cy="38.5" r="1.33" fill="rgb(83,2,2)"/><circle cx="56.9" cy="28.5" r="1.11" fill="rgb(101,3,3)"/><circle cx="60.2" cy="38.6" r="0.96" fill="rgb(93,2,2)"/><circle cx="62.5" cy="46.2" r="1.26" fill="rgb(74,2,2)"/><circle cx="23.3" cy="46.2" r="4.70" fill="rgb(242,7,7)"/><circle cx="15.4" cy="34.8" r="4.30" fill="rgb(191,6,6)"/><circle cx="66.1" cy="56.2" r="3.80" fill="rgb(242,7,7)"/><circle cx="54.2" cy="60.1" r="3.00" fill="rgb(229,7,7)"/><circle cx="7.5" cy="42.0" r="3.80" fill="rgb(127,4,4)"/><circle cx="61.3" cy="23.0" r="3.40" fill="rgb(140,4,4)"/><circle cx="65.0" cy="22.5" r="3.00" fill="rgb(140,4,4)"/><circle cx="45.5" cy="64.0" r="2.50" fill="rgb(114,3,3)"/><circle cx="62.6" cy="35.6" r="2.50" fill="rgb(153,4,4)"/><circle cx="74.8" cy="38.0" r="2.50" fill="rgb(127,4,4)"/><circle cx="83.5" cy="24.5" r="2.50" fill="rgb(153,4,4)"/><circle cx="79.5" cy="27.0" r="2.00" fill="rgb(140,4,4)"/><circle cx="33.6" cy="39.6" r="2.00" fill="rgb(140,4,4)"/><circle cx="34.4" cy="45.0" r="2.00" fill="rgb(140,4,4)"/><circle cx="19.4" cy="15.0" r="2.00" fill="rgb(127,4,4)"/><circle cx="31.2" cy="11.0" r="2.50" fill="rgb(140,4,4)"/><circle cx="41.5" cy="10.3" r="2.50" fill="rgb(140,4,4)"/><circle cx="36.8" cy="5.5" r="2.00" fill="rgb(153,4,4)"/><circle cx="33.6" cy="19.8" r="2.00" fill="rgb(153,4,4)"/><circle cx="37.6" cy="22.2" r="2.00" fill="rgb(140,4,4)"/><circle cx="58.1" cy="42.0" r="2.00" fill="rgb(127,4,4)"/><circle cx="36.8" cy="59.3" r="2.00" fill="rgb(114,3,3)"/><circle cx="32.8" cy="72.8" r="1.50" fill="rgb(102,3,3)"/><circle cx="78.0" cy="48.0" r="2.20" fill="rgb(114,3,3)"/><circle cx="80.0" cy="43.0" r="1.80" fill="rgb(114,3,3)"/><circle cx="60.0" cy="4.0" r="1.80" fill="rgb(114,3,3)"/><circle cx="52.0" cy="2.0" r="1.80" fill="rgb(114,3,3)"/><circle cx="57.0" cy="30.0" r="1.60" fill="rgb(114,3,3)"/><circle cx="28.0" cy="55.0" r="1.60" fill="rgb(102,3,3)"/></g></g>
<g style="mix-blend-mode:screen"><g filter="url(#bl1)"><ellipse cx="44.7" cy="47.5" rx="12" ry="13.2" fill="none" stroke="rgb(4,5,56)" stroke-width="1.2"/><ellipse cx="48.3" cy="13" rx="10.8" ry="12" fill="none" stroke="rgb(4,5,51)" stroke-width="1.1"/><circle cx="33.4" cy="49.5" r="0.47" fill="rgb(2,3,31)"/><circle cx="36.9" cy="56.2" r="0.54" fill="rgb(6,8,88)"/><circle cx="40.6" cy="36.0" r="0.73" fill="rgb(3,4,40)"/><circle cx="34.1" cy="52.1" r="0.48" fill="rgb(7,9,95)"/><circle cx="56.0" cy="52.3" r="0.74" fill="rgb(4,5,54)"/><circle cx="35.0" cy="54.8" r="0.82" fill="rgb(2,3,31)"/><circle cx="56.5" cy="52.7" r="0.45" fill="rgb(7,9,101)"/><circle cx="55.6" cy="43.3" r="0.46" fill="rgb(4,5,60)"/><circle cx="52.4" cy="57.1" r="0.48" fill="rgb(6,7,80)"/><circle cx="57.0" cy="52.0" r="0.49" fill="rgb(6,8,88)"/><circle cx="35.7" cy="54.7" r="0.64" fill="rgb(4,5,58)"/><circle cx="56.9" cy="50.1" r="0.76" fill="rgb(7,9,99)"/><circle cx="56.2" cy="45.6" r="0.58" fill="rgb(6,7,79)"/><circle cx="39.4" cy="36.4" r="0.46" fill="rgb(3,4,47)"/><circle cx="37.7" cy="56.4" r="0.65" fill="rgb(2,3,32)"/><circle cx="49.9" cy="35.7" r="0.62" fill="rgb(5,6,67)"/><circle cx="46.7" cy="59.8" r="0.79" fill="rgb(2,3,37)"/><circle cx="33.0" cy="43.3" r="0.49" fill="rgb(6,7,80)"/><circle cx="56.3" cy="50.5" r="0.72" fill="rgb(2,3,34)"/><circle cx="32.5" cy="51.0" r="0.50" fill="rgb(3,4,50)"/><circle cx="32.0" cy="49.6" r="0.88" fill="rgb(3,4,42)"/><circle cx="55.2" cy="41.6" r="0.58" fill="rgb(3,4,44)"/><circle cx="44.6" cy="34.2" r="0.53" fill="rgb(6,8,85)"/><circle cx="38.2" cy="58.5" r="0.52" fill="rgb(2,3,31)"/><circle cx="54.9" cy="50.4" r="0.90" fill="rgb(5,6,66)"/><circle cx="55.2" cy="49.2" r="0.56" fill="rgb(6,8,86)"/><circle cx="50.4" cy="36.3" r="0.66" fill="rgb(5,6,64)"/><circle cx="36.6" cy="38.4" r="0.53" fill="rgb(7,9,98)"/><circle cx="54.4" cy="39.2" r="0.84" fill="rgb(3,4,50)"/><circle cx="56.4" cy="42.8" r="0.66" fill="rgb(6,7,80)"/><circle cx="41.3" cy="34.7" r="0.53" fill="rgb(6,7,79)"/><circle cx="40.4" cy="34.5" r="0.47" fill="rgb(7,9,93)"/><circle cx="34.1" cy="53.9" r="0.89" fill="rgb(5,6,70)"/><circle cx="35.7" cy="37.6" r="0.86" fill="rgb(7,9,99)"/><circle cx="45.4" cy="35.2" r="0.85" fill="rgb(6,8,86)"/><circle cx="33.8" cy="40.9" r="0.57" fill="rgb(4,5,56)"/><circle cx="43.6" cy="34.5" r="0.76" fill="rgb(7,9,95)"/><circle cx="48.2" cy="34.9" r="0.85" fill="rgb(7,9,95)"/><circle cx="32.8" cy="44.6" r="0.45" fill="rgb(4,5,55)"/><circle cx="40.4" cy="59.0" r="0.87" fill="rgb(6,7,79)"/><circle cx="33.4" cy="44.2" r="0.67" fill="rgb(6,7,80)"/><circle cx="35.5" cy="55.5" r="0.52" fill="rgb(4,5,59)"/><circle cx="39.4" cy="59.2" r="0.45" fill="rgb(4,5,52)"/><circle cx="40.8" cy="35.4" r="0.78" fill="rgb(6,7,77)"/><circle cx="55.6" cy="42.3" r="0.64" fill="rgb(4,6,62)"/><circle cx="49.9" cy="59.6" r="0.73" fill="rgb(4,5,54)"/><circle cx="45.5" cy="59.8" r="0.40" fill="rgb(4,5,56)"/><circle cx="42.2" cy="62.1" r="0.50" fill="rgb(4,6,61)"/><circle cx="47.1" cy="61.3" r="0.75" fill="rgb(3,4,42)"/><circle cx="33.4" cy="50.3" r="0.70" fill="rgb(7,8,90)"/><circle cx="48.3" cy="23.6" r="0.82" fill="rgb(3,4,43)"/><circle cx="37.5" cy="10.1" r="0.78" fill="rgb(4,5,53)"/><circle cx="43.7" cy="3.3" r="0.68" fill="rgb(5,6,70)"/><circle cx="42.8" cy="21.4" r="0.77" fill="rgb(3,4,49)"/><circle cx="37.9" cy="13.0" r="0.47" fill="rgb(3,4,43)"/><circle cx="37.5" cy="9.6" r="0.53" fill="rgb(2,3,33)"/><circle cx="51.8" cy="2.0" r="0.70" fill="rgb(4,5,53)"/><circle cx="56.9" cy="3.2" r="0.85" fill="rgb(3,4,49)"/><circle cx="55.3" cy="20.9" r="0.70" fill="rgb(6,7,76)"/><circle cx="39.9" cy="18.7" r="0.71" fill="rgb(3,4,46)"/><circle cx="39.7" cy="19.3" r="0.60" fill="rgb(6,7,77)"/><circle cx="53.7" cy="23.9" r="0.50" fill="rgb(3,4,45)"/><circle cx="58.7" cy="10.9" r="0.82" fill="rgb(6,8,81)"/><circle cx="53.0" cy="2.2" r="0.58" fill="rgb(5,7,73)"/><circle cx="44.3" cy="25.2" r="0.82" fill="rgb(3,4,42)"/><circle cx="56.9" cy="4.0" r="0.41" fill="rgb(3,4,48)"/><circle cx="59.2" cy="14.0" r="0.76" fill="rgb(3,4,47)"/><circle cx="52.4" cy="24.5" r="0.49" fill="rgb(3,4,48)"/><circle cx="55.1" cy="4.1" r="0.74" fill="rgb(4,6,62)"/><circle cx="38.2" cy="16.8" r="0.66" fill="rgb(5,6,68)"/><circle cx="51.4" cy="2.6" r="0.63" fill="rgb(5,6,67)"/><circle cx="40.1" cy="20.7" r="0.61" fill="rgb(4,5,60)"/><circle cx="46.0" cy="1.6" r="0.65" fill="rgb(6,7,80)"/><circle cx="43.8" cy="0.3" r="0.88" fill="rgb(5,6,70)"/><circle cx="39.3" cy="18.0" r="0.78" fill="rgb(6,7,79)"/><circle cx="56.1" cy="22.1" r="0.43" fill="rgb(2,3,36)"/><circle cx="57.7" cy="19.1" r="0.52" fill="rgb(2,3,37)"/><circle cx="44.0" cy="1.9" r="0.71" fill="rgb(6,8,87)"/><circle cx="58.7" cy="10.1" r="0.41" fill="rgb(3,4,43)"/><circle cx="56.5" cy="8.4" r="0.64" fill="rgb(3,4,42)"/><circle cx="48.7" cy="1.8" r="0.56" fill="rgb(3,4,44)"/><circle cx="57.8" cy="19.5" r="0.70" fill="rgb(6,8,86)"/><circle cx="59.2" cy="12.0" r="0.58" fill="rgb(3,4,48)"/><circle cx="56.5" cy="8.2" r="0.70" fill="rgb(5,6,69)"/><circle cx="59.2" cy="14.0" r="0.77" fill="rgb(6,7,79)"/><circle cx="48.8" cy="0.2" r="0.57" fill="rgb(4,5,52)"/><circle cx="55.8" cy="3.2" r="0.50" fill="rgb(5,6,67)"/><circle cx="37.8" cy="10.3" r="0.58" fill="rgb(3,4,44)"/><circle cx="40.4" cy="20.7" r="0.67" fill="rgb(6,8,86)"/><circle cx="48.0" cy="1.2" r="0.53" fill="rgb(4,5,55)"/><circle cx="41.9" cy="15.9" r="1.04" fill="rgb(3,4,49)"/><circle cx="34.1" cy="10.4" r="1.00" fill="rgb(4,6,62)"/><circle cx="37.0" cy="15.5" r="1.30" fill="rgb(4,5,59)"/><circle cx="34.7" cy="11.9" r="0.72" fill="rgb(4,6,63)"/><circle cx="38.7" cy="15.4" r="0.86" fill="rgb(4,5,60)"/><circle cx="40.3" cy="10.7" r="0.83" fill="rgb(6,7,80)"/><circle cx="35.1" cy="14.9" r="1.05" fill="rgb(3,4,42)"/><circle cx="37.3" cy="10.4" r="0.78" fill="rgb(7,8,89)"/><circle cx="42.5" cy="11.6" r="0.72" fill="rgb(5,6,66)"/><circle cx="36.8" cy="19.5" r="0.76" fill="rgb(3,4,50)"/><circle cx="35.2" cy="7.7" r="1.01" fill="rgb(5,6,68)"/><circle cx="41.2" cy="10.9" r="1.26" fill="rgb(4,6,63)"/><circle cx="35.2" cy="12.8" r="1.10" fill="rgb(6,8,86)"/><circle cx="38.2" cy="16.9" r="1.11" fill="rgb(5,6,70)"/><circle cx="35.8" cy="7.3" r="1.10" fill="rgb(4,5,60)"/><circle cx="37.8" cy="12.8" r="1.22" fill="rgb(6,8,88)"/><circle cx="31.9" cy="18.7" r="1.23" fill="rgb(3,4,47)"/><circle cx="39.6" cy="8.4" r="0.82" fill="rgb(4,5,54)"/><ellipse cx="28.1" cy="28.9" rx="6.4" ry="6.2" fill="rgb(9,11,114)"/><circle cx="27.4" cy="29.3" r="0.63" fill="rgb(12,16,163)"/><circle cx="27.6" cy="30.3" r="0.67" fill="rgb(17,22,227)"/><circle cx="26.0" cy="30.9" r="0.96" fill="rgb(18,23,236)"/><circle cx="29.2" cy="30.3" r="1.12" fill="rgb(18,22,234)"/><circle cx="30.9" cy="27.6" r="0.82" fill="rgb(13,16,169)"/><circle cx="31.7" cy="26.6" r="0.93" fill="rgb(17,21,223)"/><circle cx="27.9" cy="32.0" r="1.14" fill="rgb(12,15,162)"/><circle cx="26.9" cy="27.8" r="1.10" fill="rgb(17,22,227)"/><circle cx="26.4" cy="26.8" r="0.61" fill="rgb(15,19,197)"/><circle cx="26.5" cy="30.9" r="0.65" fill="rgb(18,23,235)"/><circle cx="24.9" cy="28.5" r="1.11" fill="rgb(18,22,232)"/><circle cx="25.1" cy="27.9" r="1.11" fill="rgb(14,18,186)"/><circle cx="28.5" cy="28.6" r="1.08" fill="rgb(15,19,200)"/><circle cx="22.6" cy="23.6" r="0.73" fill="rgb(14,18,189)"/><ellipse cx="79" cy="75.5" rx="6.5" ry="6.5" fill="rgb(6,7,76)"/><ellipse cx="80" cy="77" rx="3.5" ry="3.5" fill="rgb(9,11,114)"/><ellipse cx="77.5" cy="36.4" rx="7.5" ry="7.5" fill="rgb(2,3,33)"/><circle cx="79.5" cy="30.1" r="0.86" fill="rgb(6,7,77)"/><circle cx="73.9" cy="29.2" r="0.93" fill="rgb(4,5,56)"/><circle cx="77.1" cy="38.0" r="0.66" fill="rgb(3,3,40)"/><circle cx="79.7" cy="36.1" r="0.90" fill="rgb(3,4,45)"/><circle cx="82.3" cy="35.4" r="0.69" fill="rgb(6,7,80)"/><circle cx="84.5" cy="27.9" r="0.71" fill="rgb(4,5,58)"/><circle cx="75.8" cy="33.6" r="0.88" fill="rgb(5,7,74)"/><circle cx="77.6" cy="28.9" r="0.98" fill="rgb(4,5,52)"/><circle cx="77.6" cy="32.1" r="0.68" fill="rgb(3,3,39)"/><circle cx="74.8" cy="33.8" r="0.65" fill="rgb(4,6,63)"/><circle cx="74.4" cy="38.2" r="0.88" fill="rgb(5,6,65)"/><circle cx="65.9" cy="34.2" r="1.05" fill="rgb(4,5,53)"/><circle cx="79.9" cy="33.9" r="1.07" fill="rgb(3,4,41)"/><circle cx="73.7" cy="44.8" r="0.93" fill="rgb(5,7,74)"/><circle cx="78.1" cy="38.4" r="1.08" fill="rgb(3,4,41)"/><ellipse cx="27" cy="2" rx="6" ry="4" fill="rgb(5,7,71)"/><ellipse cx="6" cy="7" rx="6" ry="5" fill="rgb(3,4,45)"/><ellipse cx="1" cy="36" rx="3" ry="9" fill="rgb(4,5,51)"/><circle cx="15.1" cy="37.1" r="0.73" fill="rgb(2,3,35)"/><circle cx="85.9" cy="67.0" r="0.57" fill="rgb(3,4,42)"/><circle cx="27.2" cy="4.4" r="0.78" fill="rgb(3,4,41)"/><circle cx="56.8" cy="41.3" r="0.48" fill="rgb(1,1,20)"/><circle cx="5.8" cy="8.1" r="0.59" fill="rgb(3,4,42)"/><circle cx="80.2" cy="44.2" r="0.67" fill="rgb(2,2,28)"/><circle cx="66.8" cy="60.7" r="0.79" fill="rgb(3,3,40)"/><circle cx="58.3" cy="50.8" r="0.47" fill="rgb(2,2,28)"/><circle cx="38.5" cy="13.3" r="0.48" fill="rgb(2,2,26)"/><circle cx="15.1" cy="53.7" r="0.53" fill="rgb(3,4,45)"/><circle cx="58.8" cy="44.4" r="0.57" fill="rgb(2,2,25)"/><circle cx="17.2" cy="82.8" r="0.77" fill="rgb(2,3,34)"/><circle cx="55.9" cy="12.4" r="0.62" fill="rgb(1,1,18)"/><circle cx="27.9" cy="50.5" r="0.47" fill="rgb(1,2,20)"/><circle cx="62.8" cy="41.7" r="0.76" fill="rgb(1,1,18)"/><circle cx="7.6" cy="80.7" r="0.64" fill="rgb(2,3,35)"/><circle cx="47.8" cy="12.8" r="0.79" fill="rgb(2,2,29)"/><circle cx="78.2" cy="12.6" r="0.51" fill="rgb(2,3,30)"/><circle cx="21.3" cy="73.9" r="0.50" fill="rgb(1,1,15)"/><circle cx="14.0" cy="23.4" r="0.78" fill="rgb(3,4,41)"/><circle cx="57.6" cy="36.7" r="0.42" fill="rgb(3,3,40)"/><circle cx="10.8" cy="17.2" r="0.57" fill="rgb(3,4,41)"/><circle cx="15.7" cy="5.4" r="0.76" fill="rgb(1,1,13)"/><circle cx="63.1" cy="12.1" r="0.52" fill="rgb(1,1,19)"/><circle cx="37.7" cy="79.2" r="0.74" fill="rgb(2,2,30)"/><circle cx="7.5" cy="15.1" r="0.52" fill="rgb(3,3,39)"/><circle cx="78.8" cy="2.2" r="0.53" fill="rgb(3,4,44)"/><circle cx="13.0" cy="6.9" r="0.51" fill="rgb(3,4,42)"/><circle cx="22.6" cy="62.0" r="0.45" fill="rgb(2,3,34)"/><circle cx="14.5" cy="51.2" r="0.70" fill="rgb(3,4,41)"/><circle cx="37.5" cy="84.7" r="0.56" fill="rgb(3,4,44)"/><circle cx="78.6" cy="85.9" r="0.44" fill="rgb(1,2,21)"/><circle cx="59.9" cy="76.1" r="0.50" fill="rgb(2,3,38)"/><circle cx="41.0" cy="0.3" r="0.43" fill="rgb(1,1,12)"/><circle cx="19.7" cy="80.2" r="0.67" fill="rgb(3,4,41)"/><circle cx="78.8" cy="33.8" r="0.68" fill="rgb(2,3,34)"/><circle cx="59.5" cy="8.0" r="0.76" fill="rgb(1,1,17)"/><circle cx="38.3" cy="59.1" r="0.70" fill="rgb(3,3,40)"/><circle cx="26.9" cy="25.6" r="0.69" fill="rgb(1,1,14)"/><circle cx="75.1" cy="27.1" r="0.56" fill="rgb(1,2,23)"/></g></g>
</g>
<rect x="79.5" y="83.2" width="4.5" height="0.6" fill="#ccc"/>
</g>
<g transform="translate(424.4,371.3)" clip-path="url(#cp)">
<rect x="0" y="0" width="86.0" height="85.8" fill="#000"/>
<g clip-path="url(#cp)">
<g><g filter="url(#bl2)"><circle cx="47.3" cy="43.1" r="0.92" fill="rgb(99,3,3)"/><circle cx="49.3" cy="41.1" r="0.53" fill="rgb(106,3,3)"/><circle cx="46.5" cy="14.6" r="0.57" fill="rgb(120,3,3)"/><circle cx="33.9" cy="37.2" r="0.91" fill="rgb(180,5,5)"/><circle cx="61.2" cy="31.7" r="0.93" fill="rgb(218,6,6)"/><circle cx="53.1" cy="16.1" r="0.90" fill="rgb(206,6,6)"/><circle cx="61.3" cy="26.0" r="0.92" fill="rgb(156,4,4)"/><circle cx="48.4" cy="18.3" r="0.76" fill="rgb(145,4,4)"/><circle cx="40.3" cy="39.6" r="0.51" fill="rgb(220,6,6)"/><circle cx="52.3" cy="16.3" r="0.99" fill="rgb(195,6,6)"/><circle cx="35.3" cy="25.8" r="0.82" fill="rgb(148,4,4)"/><circle cx="53.5" cy="41.9" r="0.56" fill="rgb(163,5,5)"/><circle cx="47.8" cy="41.4" r="0.67" fill="rgb(88,2,2)"/><circle cx="33.7" cy="31.4" r="0.58" fill="rgb(108,3,3)"/><circle cx="52.4" cy="43.1" r="0.81" fill="rgb(246,7,7)"/><circle cx="37.1" cy="39.9" r="0.85" fill="rgb(242,7,7)"/><circle cx="63.5" cy="35.0" r="0.91" fill="rgb(185,5,5)"/><circle cx="57.0" cy="45.1" r="0.68" fill="rgb(229,7,7)"/><circle cx="58.6" cy="21.0" r="0.92" fill="rgb(135,4,4)"/><circle cx="45.5" cy="18.3" r="0.53" fill="rgb(249,7,7)"/><circle cx="37.5" cy="22.2" r="0.79" fill="rgb(174,5,5)"/><circle cx="38.0" cy="23.8" r="0.65" fill="rgb(202,6,6)"/><circle cx="40.9" cy="41.9" r="0.83" fill="rgb(85,2,2)"/><circle cx="50.3" cy="45.7" r="0.49" fill="rgb(186,5,5)"/><circle cx="35.9" cy="25.9" r="0.69" fill="rgb(129,4,4)"/><circle cx="59.1" cy="38.1" r="0.45" fill="rgb(254,7,7)"/><circle cx="57.3" cy="39.8" r="0.78" fill="rgb(78,2,2)"/><circle cx="33.0" cy="33.5" r="0.65" fill="rgb(223,7,7)"/><circle cx="60.1" cy="31.0" r="0.98" fill="rgb(162,5,5)"/><circle cx="32.4" cy="33.1" r="0.82" fill="rgb(120,3,3)"/><circle cx="56.3" cy="32.2" r="0.86" fill="rgb(113,3,3)"/><circle cx="42.6" cy="17.7" r="0.92" fill="rgb(113,3,3)"/><circle cx="37.4" cy="23.7" r="0.61" fill="rgb(102,3,3)"/><circle cx="39.2" cy="42.9" r="0.47" fill="rgb(139,4,4)"/><circle cx="59.7" cy="37.8" r="0.45" fill="rgb(211,6,6)"/><circle cx="51.8" cy="40.5" r="0.71" fill="rgb(169,5,5)"/><circle cx="41.6" cy="42.1" r="0.53" fill="rgb(228,7,7)"/><circle cx="60.1" cy="41.1" r="0.90" fill="rgb(105,3,3)"/><circle cx="43.7" cy="43.3" r="0.52" fill="rgb(132,4,4)"/><circle cx="35.0" cy="35.6" r="0.93" fill="rgb(253,7,7)"/><circle cx="59.9" cy="34.0" r="0.89" fill="rgb(125,3,3)"/><circle cx="58.4" cy="21.9" r="0.75" fill="rgb(87,2,2)"/><circle cx="61.5" cy="30.9" r="0.53" fill="rgb(155,4,4)"/><circle cx="35.5" cy="44.1" r="0.64" fill="rgb(217,6,6)"/><circle cx="50.9" cy="43.5" r="0.96" fill="rgb(163,5,5)"/><circle cx="56.9" cy="25.4" r="0.69" fill="rgb(173,5,5)"/><circle cx="36.3" cy="19.0" r="0.51" fill="rgb(89,2,2)"/><circle cx="38.9" cy="28.5" r="0.90" fill="rgb(165,5,5)"/><circle cx="43.3" cy="45.7" r="0.50" fill="rgb(73,2,2)"/><circle cx="60.8" cy="33.1" r="0.85" fill="rgb(84,2,2)"/><circle cx="43.9" cy="10.6" r="0.89" fill="rgb(144,4,4)"/><circle cx="43.2" cy="25.7" r="0.91" fill="rgb(200,6,6)"/><circle cx="44.6" cy="44.1" r="0.62" fill="rgb(254,7,7)"/><circle cx="35.8" cy="32.8" r="0.60" fill="rgb(213,6,6)"/><circle cx="34.6" cy="35.0" r="0.59" fill="rgb(127,3,3)"/><circle cx="60.5" cy="25.1" r="0.59" fill="rgb(226,7,7)"/><circle cx="52.4" cy="24.5" r="0.87" fill="rgb(156,4,4)"/><circle cx="46.8" cy="48.2" r="0.70" fill="rgb(236,7,7)"/><circle cx="34.1" cy="27.1" r="0.71" fill="rgb(100,3,3)"/><circle cx="34.0" cy="23.3" r="0.47" fill="rgb(220,6,6)"/><circle cx="54.9" cy="45.4" r="0.62" fill="rgb(233,7,7)"/><circle cx="32.7" cy="30.8" r="0.74" fill="rgb(223,7,7)"/><circle cx="51.0" cy="44.1" r="0.69" fill="rgb(247,7,7)"/><circle cx="58.1" cy="32.0" r="0.92" fill="rgb(91,2,2)"/><circle cx="55.4" cy="18.3" r="0.73" fill="rgb(240,7,7)"/><circle cx="47.3" cy="45.1" r="0.72" fill="rgb(180,5,5)"/><circle cx="48.5" cy="44.2" r="0.70" fill="rgb(209,6,6)"/><circle cx="40.8" cy="42.3" r="0.57" fill="rgb(73,2,2)"/><circle cx="45.3" cy="21.7" r="0.86" fill="rgb(82,2,2)"/><circle cx="61.5" cy="22.1" r="0.96" fill="rgb(219,6,6)"/><circle cx="53.9" cy="19.7" r="0.82" fill="rgb(176,5,5)"/><circle cx="47.5" cy="41.0" r="0.52" fill="rgb(202,6,6)"/><circle cx="34.4" cy="20.7" r="0.79" fill="rgb(161,5,5)"/><circle cx="50.3" cy="15.5" r="0.93" fill="rgb(136,4,4)"/><circle cx="52.2" cy="20.5" r="0.68" fill="rgb(242,7,7)"/><circle cx="35.3" cy="35.3" r="0.97" fill="rgb(128,4,4)"/><circle cx="40.3" cy="15.4" r="0.66" fill="rgb(78,2,2)"/><circle cx="36.4" cy="32.1" r="0.68" fill="rgb(219,6,6)"/><circle cx="51.4" cy="14.3" r="0.68" fill="rgb(171,5,5)"/><circle cx="48.0" cy="16.7" r="0.49" fill="rgb(104,3,3)"/><circle cx="55.7" cy="40.9" r="0.98" fill="rgb(103,3,3)"/><circle cx="61.9" cy="24.1" r="0.61" fill="rgb(102,3,3)"/><circle cx="62.3" cy="28.1" r="0.52" fill="rgb(76,2,2)"/><circle cx="37.3" cy="40.1" r="0.57" fill="rgb(94,2,2)"/><circle cx="61.2" cy="31.9" r="0.58" fill="rgb(171,5,5)"/><circle cx="57.5" cy="21.6" r="0.81" fill="rgb(199,6,6)"/><circle cx="43.5" cy="15.9" r="0.54" fill="rgb(74,2,2)"/><circle cx="41.3" cy="23.9" r="0.74" fill="rgb(163,5,5)"/><circle cx="51.0" cy="15.1" r="0.68" fill="rgb(144,4,4)"/><circle cx="48.6" cy="47.8" r="0.60" fill="rgb(174,5,5)"/><circle cx="33.8" cy="25.3" r="0.84" fill="rgb(82,2,2)"/><circle cx="40.8" cy="19.9" r="0.54" fill="rgb(227,7,7)"/><circle cx="61.1" cy="27.5" r="0.57" fill="rgb(122,3,3)"/><circle cx="62.1" cy="41.6" r="0.69" fill="rgb(83,2,2)"/><circle cx="44.8" cy="19.2" r="0.84" fill="rgb(108,3,3)"/><circle cx="41.9" cy="41.7" r="0.65" fill="rgb(64,2,2)"/><circle cx="58.9" cy="20.8" r="0.89" fill="rgb(220,6,6)"/><circle cx="34.7" cy="35.2" r="0.68" fill="rgb(90,2,2)"/><circle cx="59.8" cy="30.6" r="0.53" fill="rgb(236,7,7)"/><circle cx="61.2" cy="32.2" r="0.65" fill="rgb(207,6,6)"/><circle cx="47.7" cy="13.4" r="0.76" fill="rgb(184,5,5)"/><circle cx="62.9" cy="24.8" r="0.89" fill="rgb(178,5,5)"/><circle cx="49.3" cy="19.6" r="0.90" fill="rgb(182,5,5)"/><circle cx="38.3" cy="40.4" r="0.46" fill="rgb(214,6,6)"/><circle cx="41.7" cy="40.8" r="0.76" fill="rgb(140,4,4)"/><circle cx="55.2" cy="17.7" r="0.78" fill="rgb(170,5,5)"/><circle cx="50.2" cy="19.5" r="0.86" fill="rgb(201,6,6)"/><circle cx="47.4" cy="15.4" r="0.94" fill="rgb(170,5,5)"/><circle cx="34.7" cy="25.5" r="0.69" fill="rgb(159,4,4)"/><circle cx="60.2" cy="21.3" r="0.47" fill="rgb(130,4,4)"/><circle cx="47.4" cy="21.0" r="0.54" fill="rgb(211,6,6)"/><circle cx="34.7" cy="36.9" r="0.76" fill="rgb(74,2,2)"/><circle cx="35.9" cy="39.2" r="0.76" fill="rgb(144,4,4)"/><circle cx="57.7" cy="33.0" r="0.83" fill="rgb(149,4,4)"/><circle cx="46.1" cy="18.5" r="0.93" fill="rgb(89,2,2)"/><circle cx="59.6" cy="27.3" r="0.50" fill="rgb(249,7,7)"/><circle cx="40.8" cy="26.0" r="0.73" fill="rgb(160,5,5)"/><circle cx="62.2" cy="36.3" r="0.89" fill="rgb(185,5,5)"/><circle cx="49.0" cy="46.3" r="0.96" fill="rgb(230,7,7)"/><circle cx="33.3" cy="33.9" r="0.47" fill="rgb(222,6,6)"/><circle cx="51.9" cy="43.6" r="0.98" fill="rgb(91,2,2)"/><circle cx="50.9" cy="19.7" r="0.85" fill="rgb(67,2,2)"/><circle cx="36.5" cy="25.3" r="0.98" fill="rgb(191,5,5)"/><circle cx="31.1" cy="31.2" r="0.78" fill="rgb(111,3,3)"/><circle cx="32.1" cy="33.9" r="0.49" fill="rgb(164,5,5)"/><circle cx="54.8" cy="45.4" r="0.76" fill="rgb(74,2,2)"/><circle cx="58.7" cy="32.4" r="0.94" fill="rgb(193,6,6)"/><circle cx="58.9" cy="30.2" r="0.53" fill="rgb(184,5,5)"/><circle cx="38.8" cy="19.5" r="0.58" fill="rgb(163,5,5)"/><circle cx="51.4" cy="15.7" r="0.84" fill="rgb(173,5,5)"/><circle cx="59.5" cy="36.8" r="0.54" fill="rgb(181,5,5)"/><circle cx="48.3" cy="41.7" r="0.62" fill="rgb(150,4,4)"/><circle cx="48.1" cy="14.5" r="0.58" fill="rgb(192,6,6)"/><circle cx="54.0" cy="16.2" r="0.60" fill="rgb(201,6,6)"/><circle cx="34.5" cy="33.7" r="0.75" fill="rgb(218,6,6)"/><circle cx="35.7" cy="21.0" r="0.45" fill="rgb(213,6,6)"/><circle cx="37.5" cy="24.5" r="0.69" fill="rgb(196,6,6)"/><circle cx="46.1" cy="45.2" r="0.53" fill="rgb(231,7,7)"/><circle cx="31.3" cy="37.1" r="0.51" fill="rgb(133,4,4)"/><circle cx="36.6" cy="19.5" r="0.82" fill="rgb(235,7,7)"/><circle cx="52.1" cy="39.0" r="0.71" fill="rgb(200,6,6)"/><circle cx="36.7" cy="33.0" r="0.84" fill="rgb(246,7,7)"/><circle cx="40.9" cy="42.2" r="0.94" fill="rgb(209,6,6)"/><circle cx="55.1" cy="21.3" r="0.93" fill="rgb(177,5,5)"/><circle cx="62.4" cy="25.7" r="0.49" fill="rgb(175,5,5)"/><circle cx="41.8" cy="15.2" r="0.61" fill="rgb(219,6,6)"/><circle cx="35.9" cy="37.7" r="0.77" fill="rgb(137,4,4)"/><circle cx="62.3" cy="35.0" r="0.62" fill="rgb(250,7,7)"/><circle cx="35.7" cy="32.7" r="0.49" fill="rgb(180,5,5)"/><circle cx="50.8" cy="41.8" r="0.52" fill="rgb(181,5,5)"/><circle cx="39.4" cy="12.9" r="0.46" fill="rgb(95,2,2)"/><circle cx="41.4" cy="43.2" r="0.89" fill="rgb(205,6,6)"/><circle cx="47.6" cy="21.3" r="0.52" fill="rgb(247,7,7)"/><circle cx="62.9" cy="35.5" r="0.53" fill="rgb(207,6,6)"/><circle cx="49.6" cy="17.4" r="0.93" fill="rgb(162,5,5)"/><circle cx="51.2" cy="42.4" r="0.50" fill="rgb(252,7,7)"/><circle cx="61.1" cy="35.5" r="0.94" fill="rgb(222,6,6)"/><circle cx="56.5" cy="16.9" r="0.80" fill="rgb(65,2,2)"/><circle cx="46.8" cy="14.4" r="0.98" fill="rgb(76,2,2)"/><circle cx="45.8" cy="11.3" r="0.58" fill="rgb(83,2,2)"/><circle cx="56.3" cy="21.9" r="0.76" fill="rgb(76,2,2)"/><circle cx="35.4" cy="37.3" r="0.81" fill="rgb(229,7,7)"/><circle cx="58.3" cy="40.9" r="0.56" fill="rgb(127,4,4)"/><circle cx="54.3" cy="42.1" r="0.50" fill="rgb(189,5,5)"/><circle cx="36.3" cy="39.4" r="0.52" fill="rgb(194,6,6)"/><circle cx="63.7" cy="26.8" r="0.71" fill="rgb(144,4,4)"/><circle cx="38.4" cy="37.8" r="0.55" fill="rgb(120,3,3)"/><circle cx="42.4" cy="15.8" r="0.71" fill="rgb(76,2,2)"/><circle cx="57.0" cy="42.5" r="0.91" fill="rgb(181,5,5)"/><circle cx="39.8" cy="21.9" r="0.65" fill="rgb(174,5,5)"/><circle cx="41.1" cy="34.7" r="0.51" fill="rgb(104,3,3)"/><circle cx="58.6" cy="22.8" r="0.96" fill="rgb(219,6,6)"/><circle cx="58.5" cy="17.4" r="0.52" fill="rgb(225,7,7)"/><circle cx="35.5" cy="40.4" r="0.72" fill="rgb(163,5,5)"/><circle cx="50.6" cy="39.8" r="0.70" fill="rgb(147,4,4)"/><circle cx="40.2" cy="39.5" r="0.55" fill="rgb(118,3,3)"/><circle cx="56.2" cy="16.7" r="0.61" fill="rgb(128,4,4)"/><circle cx="56.5" cy="20.3" r="0.59" fill="rgb(98,3,3)"/><circle cx="42.2" cy="44.4" r="0.58" fill="rgb(188,5,5)"/><circle cx="60.8" cy="24.2" r="0.59" fill="rgb(119,3,3)"/><circle cx="35.6" cy="22.7" r="0.77" fill="rgb(152,4,4)"/><circle cx="39.9" cy="41.9" r="0.68" fill="rgb(67,2,2)"/><circle cx="47.1" cy="45.2" r="0.49" fill="rgb(219,6,6)"/><circle cx="62.9" cy="32.1" r="0.68" fill="rgb(96,3,3)"/><circle cx="52.0" cy="44.3" r="0.98" fill="rgb(127,3,3)"/><circle cx="40.6" cy="28.4" r="0.69" fill="rgb(79,2,2)"/><circle cx="37.6" cy="36.2" r="0.88" fill="rgb(149,4,4)"/><circle cx="44.7" cy="42.5" r="0.94" fill="rgb(172,5,5)"/><circle cx="47.5" cy="46.7" r="0.78" fill="rgb(153,4,4)"/><circle cx="55.6" cy="20.8" r="0.85" fill="rgb(148,4,4)"/><circle cx="51.4" cy="26.4" r="0.91" fill="rgb(199,6,6)"/><circle cx="59.4" cy="15.6" r="0.68" fill="rgb(159,4,4)"/><circle cx="55.7" cy="22.9" r="0.96" fill="rgb(192,6,6)"/><circle cx="58.4" cy="21.7" r="0.68" fill="rgb(227,7,7)"/><circle cx="60.2" cy="13.4" r="0.61" fill="rgb(174,5,5)"/><circle cx="59.7" cy="18.4" r="0.81" fill="rgb(121,3,3)"/><circle cx="51.3" cy="20.7" r="0.95" fill="rgb(249,7,7)"/><circle cx="56.1" cy="15.5" r="0.93" fill="rgb(243,7,7)"/><circle cx="59.7" cy="22.4" r="0.75" fill="rgb(157,4,4)"/><circle cx="56.4" cy="28.8" r="0.57" fill="rgb(192,6,6)"/><circle cx="60.4" cy="20.7" r="0.98" fill="rgb(115,3,3)"/><circle cx="62.7" cy="26.7" r="0.95" fill="rgb(185,5,5)"/><circle cx="55.1" cy="24.0" r="0.85" fill="rgb(196,6,6)"/><circle cx="50.2" cy="22.5" r="0.50" fill="rgb(169,5,5)"/><circle cx="62.4" cy="12.4" r="0.72" fill="rgb(224,7,7)"/><circle cx="59.6" cy="16.0" r="0.53" fill="rgb(129,4,4)"/><circle cx="54.3" cy="16.0" r="0.74" fill="rgb(120,3,3)"/><circle cx="59.1" cy="18.7" r="0.80" fill="rgb(202,6,6)"/><circle cx="54.3" cy="22.7" r="0.76" fill="rgb(160,5,5)"/><circle cx="58.2" cy="21.4" r="0.47" fill="rgb(240,7,7)"/><circle cx="58.6" cy="30.7" r="0.79" fill="rgb(248,7,7)"/><circle cx="53.0" cy="20.7" r="0.50" fill="rgb(201,6,6)"/><circle cx="54.0" cy="12.9" r="0.95" fill="rgb(128,4,4)"/><circle cx="52.2" cy="13.8" r="0.97" fill="rgb(149,4,4)"/><circle cx="56.8" cy="19.5" r="0.77" fill="rgb(160,5,5)"/><circle cx="53.5" cy="19.6" r="0.66" fill="rgb(163,5,5)"/><circle cx="52.0" cy="21.2" r="0.57" fill="rgb(138,4,4)"/><circle cx="43.9" cy="23.1" r="0.92" fill="rgb(135,4,4)"/><circle cx="54.5" cy="17.9" r="0.63" fill="rgb(254,7,7)"/><circle cx="55.0" cy="22.0" r="0.76" fill="rgb(197,6,6)"/><circle cx="46.3" cy="19.2" r="0.73" fill="rgb(165,5,5)"/><circle cx="57.4" cy="26.4" r="0.86" fill="rgb(185,5,5)"/><circle cx="53.6" cy="22.4" r="0.91" fill="rgb(253,7,7)"/><circle cx="50.6" cy="16.0" r="0.63" fill="rgb(136,4,4)"/><circle cx="61.2" cy="22.4" r="0.95" fill="rgb(211,6,6)"/><circle cx="52.3" cy="11.2" r="0.68" fill="rgb(174,5,5)"/><circle cx="55.5" cy="29.4" r="0.83" fill="rgb(188,5,5)"/><circle cx="57.6" cy="9.1" r="0.48" fill="rgb(145,4,4)"/><circle cx="49.8" cy="21.6" r="0.58" fill="rgb(176,5,5)"/><circle cx="54.3" cy="16.4" r="0.82" fill="rgb(123,3,3)"/><circle cx="51.1" cy="23.7" r="0.92" fill="rgb(186,5,5)"/><circle cx="53.0" cy="13.6" r="0.81" fill="rgb(178,5,5)"/><circle cx="55.1" cy="22.4" r="0.94" fill="rgb(223,7,7)"/><circle cx="52.1" cy="13.2" r="0.62" fill="rgb(139,4,4)"/><circle cx="51.6" cy="18.9" r="0.81" fill="rgb(237,7,7)"/><circle cx="53.0" cy="23.0" r="0.84" fill="rgb(238,7,7)"/><circle cx="51.1" cy="17.3" r="0.94" fill="rgb(243,7,7)"/><circle cx="66.4" cy="23.8" r="0.50" fill="rgb(192,6,6)"/><circle cx="44.9" cy="20.0" r="0.58" fill="rgb(120,3,3)"/><circle cx="60.3" cy="18.6" r="0.70" fill="rgb(174,5,5)"/><circle cx="55.8" cy="21.2" r="0.76" fill="rgb(145,4,4)"/><circle cx="42.8" cy="20.1" r="0.99" fill="rgb(157,4,4)"/><circle cx="55.0" cy="22.2" r="0.78" fill="rgb(139,4,4)"/><circle cx="62.2" cy="27.9" r="0.76" fill="rgb(239,7,7)"/><circle cx="56.5" cy="23.0" r="0.77" fill="rgb(211,6,6)"/><circle cx="46.6" cy="44.3" r="0.78" fill="rgb(152,4,4)"/><circle cx="41.9" cy="44.0" r="0.56" fill="rgb(91,2,2)"/><circle cx="52.8" cy="42.7" r="0.62" fill="rgb(179,5,5)"/><circle cx="51.8" cy="45.5" r="0.51" fill="rgb(199,6,6)"/><circle cx="33.3" cy="38.3" r="0.94" fill="rgb(78,2,2)"/><circle cx="47.6" cy="40.9" r="0.52" fill="rgb(208,6,6)"/><circle cx="48.6" cy="44.7" r="0.97" fill="rgb(183,5,5)"/><circle cx="51.2" cy="39.8" r="0.69" fill="rgb(225,7,7)"/><circle cx="45.3" cy="45.0" r="0.71" fill="rgb(159,5,5)"/><circle cx="40.2" cy="49.7" r="1.00" fill="rgb(183,5,5)"/><circle cx="31.7" cy="40.2" r="0.97" fill="rgb(83,2,2)"/><circle cx="45.8" cy="38.7" r="0.55" fill="rgb(115,3,3)"/><circle cx="40.0" cy="43.3" r="0.98" fill="rgb(99,3,3)"/><circle cx="40.4" cy="36.2" r="0.56" fill="rgb(228,7,7)"/><circle cx="48.0" cy="38.1" r="0.94" fill="rgb(145,4,4)"/><circle cx="38.7" cy="31.9" r="0.82" fill="rgb(131,4,4)"/><circle cx="49.3" cy="41.5" r="0.79" fill="rgb(118,3,3)"/><circle cx="43.2" cy="39.7" r="0.63" fill="rgb(150,4,4)"/><circle cx="36.2" cy="40.7" r="0.62" fill="rgb(119,3,3)"/><circle cx="43.6" cy="36.8" r="0.58" fill="rgb(171,5,5)"/><circle cx="40.1" cy="44.3" r="0.98" fill="rgb(225,7,7)"/><circle cx="47.4" cy="29.6" r="0.90" fill="rgb(131,4,4)"/><circle cx="46.4" cy="39.2" r="0.60" fill="rgb(153,4,4)"/><circle cx="48.9" cy="43.8" r="0.77" fill="rgb(108,3,3)"/><circle cx="43.9" cy="38.3" r="0.74" fill="rgb(118,3,3)"/><circle cx="46.6" cy="39.1" r="0.69" fill="rgb(185,5,5)"/><circle cx="40.9" cy="47.1" r="0.56" fill="rgb(88,2,2)"/><circle cx="50.4" cy="40.4" r="0.74" fill="rgb(158,4,4)"/><circle cx="33.9" cy="41.4" r="0.61" fill="rgb(98,3,3)"/><circle cx="44.1" cy="47.6" r="0.91" fill="rgb(93,2,2)"/><circle cx="63.5" cy="55.1" r="0.98" fill="rgb(87,2,2)"/><circle cx="45.3" cy="54.6" r="0.75" fill="rgb(69,2,2)"/><circle cx="45.7" cy="51.6" r="0.78" fill="rgb(96,3,3)"/><circle cx="33.6" cy="56.8" r="0.76" fill="rgb(212,6,6)"/><circle cx="46.3" cy="50.4" r="0.63" fill="rgb(184,5,5)"/><circle cx="47.5" cy="51.4" r="0.90" fill="rgb(91,2,2)"/><circle cx="36.4" cy="49.4" r="0.96" fill="rgb(69,2,2)"/><circle cx="49.7" cy="59.0" r="0.80" fill="rgb(210,6,6)"/><circle cx="41.7" cy="45.9" r="0.91" fill="rgb(123,3,3)"/><circle cx="40.0" cy="63.2" r="0.81" fill="rgb(196,6,6)"/><circle cx="53.2" cy="54.9" r="0.67" fill="rgb(61,1,1)"/><circle cx="42.9" cy="52.1" r="0.66" fill="rgb(128,4,4)"/><circle cx="45.9" cy="45.3" r="0.73" fill="rgb(154,4,4)"/><circle cx="38.5" cy="44.6" r="0.84" fill="rgb(189,5,5)"/><circle cx="47.6" cy="67.7" r="0.50" fill="rgb(183,5,5)"/><circle cx="54.5" cy="55.8" r="0.64" fill="rgb(67,2,2)"/><circle cx="46.9" cy="51.5" r="0.84" fill="rgb(52,1,1)"/><circle cx="48.4" cy="61.3" r="0.79" fill="rgb(155,4,4)"/><circle cx="40.0" cy="65.1" r="0.51" fill="rgb(72,2,2)"/><circle cx="41.1" cy="60.6" r="0.83" fill="rgb(196,6,6)"/><circle cx="42.4" cy="62.5" r="0.85" fill="rgb(66,2,2)"/><circle cx="43.0" cy="60.2" r="0.80" fill="rgb(132,4,4)"/><circle cx="49.4" cy="58.4" r="0.66" fill="rgb(53,1,1)"/><circle cx="48.5" cy="41.3" r="0.87" fill="rgb(77,2,2)"/><circle cx="45.8" cy="54.1" r="0.61" fill="rgb(83,2,2)"/><circle cx="41.1" cy="50.0" r="0.77" fill="rgb(66,2,2)"/><circle cx="37.9" cy="54.8" r="0.94" fill="rgb(104,3,3)"/><circle cx="36.4" cy="59.1" r="0.52" fill="rgb(146,4,4)"/><circle cx="55.0" cy="62.0" r="0.84" fill="rgb(51,1,1)"/><circle cx="59.6" cy="59.2" r="0.65" fill="rgb(142,4,4)"/><circle cx="42.3" cy="51.9" r="0.55" fill="rgb(167,5,5)"/><circle cx="44.1" cy="60.9" r="0.90" fill="rgb(205,6,6)"/><circle cx="45.9" cy="60.7" r="0.89" fill="rgb(118,3,3)"/><circle cx="51.2" cy="51.1" r="0.53" fill="rgb(89,2,2)"/><circle cx="52.8" cy="49.9" r="0.99" fill="rgb(184,5,5)"/><circle cx="45.5" cy="51.3" r="0.71" fill="rgb(41,1,1)"/><circle cx="45.0" cy="58.9" r="0.97" fill="rgb(66,2,2)"/><circle cx="46.3" cy="56.2" r="0.58" fill="rgb(162,5,5)"/><circle cx="41.6" cy="59.4" r="0.91" fill="rgb(162,5,5)"/><circle cx="49.1" cy="65.5" r="0.84" fill="rgb(143,4,4)"/><circle cx="34.8" cy="54.9" r="0.80" fill="rgb(49,1,1)"/><circle cx="51.3" cy="46.9" r="0.63" fill="rgb(176,5,5)"/><circle cx="55.1" cy="50.6" r="0.74" fill="rgb(185,5,5)"/><circle cx="48.6" cy="56.0" r="0.70" fill="rgb(130,4,4)"/><circle cx="42.0" cy="47.6" r="0.76" fill="rgb(104,3,3)"/><circle cx="46.3" cy="46.7" r="0.60" fill="rgb(141,4,4)"/><circle cx="37.6" cy="58.0" r="0.85" fill="rgb(214,6,6)"/><circle cx="47.6" cy="47.2" r="0.84" fill="rgb(90,2,2)"/><circle cx="31.1" cy="48.4" r="0.56" fill="rgb(114,3,3)"/><circle cx="39.1" cy="59.3" r="0.59" fill="rgb(160,5,5)"/><circle cx="57.8" cy="65.8" r="0.54" fill="rgb(153,4,4)"/><circle cx="46.9" cy="46.7" r="0.63" fill="rgb(102,3,3)"/><circle cx="51.8" cy="50.5" r="0.78" fill="rgb(208,6,6)"/><circle cx="37.0" cy="56.2" r="0.80" fill="rgb(186,5,5)"/><circle cx="44.9" cy="52.6" r="0.61" fill="rgb(87,2,2)"/><circle cx="48.3" cy="63.6" r="0.71" fill="rgb(103,3,3)"/><circle cx="63.0" cy="57.4" r="0.74" fill="rgb(75,2,2)"/><circle cx="45.7" cy="52.6" r="0.57" fill="rgb(206,6,6)"/><circle cx="44.4" cy="49.7" r="0.57" fill="rgb(167,5,5)"/><circle cx="47.3" cy="60.8" r="0.64" fill="rgb(150,4,4)"/><circle cx="47.1" cy="57.2" r="0.92" fill="rgb(132,4,4)"/><circle cx="48.4" cy="56.7" r="0.96" fill="rgb(129,4,4)"/><circle cx="35.8" cy="50.7" r="0.51" fill="rgb(57,1,1)"/><circle cx="49.3" cy="64.7" r="0.56" fill="rgb(138,4,4)"/><circle cx="48.5" cy="48.7" r="0.83" fill="rgb(45,1,1)"/><circle cx="41.7" cy="55.7" r="0.84" fill="rgb(108,3,3)"/><circle cx="40.8" cy="43.2" r="0.97" fill="rgb(183,5,5)"/><circle cx="43.2" cy="39.0" r="0.71" fill="rgb(41,1,1)"/><circle cx="48.8" cy="49.2" r="0.67" fill="rgb(207,6,6)"/><circle cx="44.6" cy="57.0" r="0.95" fill="rgb(38,1,1)"/><circle cx="55.1" cy="58.2" r="0.59" fill="rgb(167,5,5)"/><circle cx="51.6" cy="55.1" r="0.70" fill="rgb(150,4,4)"/><circle cx="46.7" cy="45.2" r="0.60" fill="rgb(190,5,5)"/><circle cx="52.6" cy="57.3" r="0.53" fill="rgb(175,5,5)"/><circle cx="41.2" cy="56.2" r="0.97" fill="rgb(81,2,2)"/><circle cx="42.2" cy="46.7" r="0.54" fill="rgb(175,5,5)"/><circle cx="42.2" cy="63.9" r="0.88" fill="rgb(98,3,3)"/><circle cx="42.5" cy="59.1" r="0.55" fill="rgb(139,4,4)"/><circle cx="44.9" cy="38.7" r="0.72" fill="rgb(136,4,4)"/><circle cx="41.0" cy="46.5" r="0.83" fill="rgb(209,6,6)"/><circle cx="29.3" cy="76.7" r="0.65" fill="rgb(109,3,3)"/><circle cx="9.0" cy="60.5" r="0.68" fill="rgb(79,2,2)"/><circle cx="32.0" cy="73.6" r="0.82" fill="rgb(71,2,2)"/><circle cx="21.4" cy="72.8" r="0.63" fill="rgb(115,3,3)"/><circle cx="9.8" cy="75.9" r="0.71" fill="rgb(94,2,2)"/><circle cx="29.8" cy="51.8" r="0.69" fill="rgb(88,2,2)"/><circle cx="30.9" cy="60.0" r="0.88" fill="rgb(151,4,4)"/><circle cx="7.4" cy="63.1" r="0.67" fill="rgb(48,1,1)"/><circle cx="30.3" cy="71.4" r="0.89" fill="rgb(100,3,3)"/><circle cx="8.3" cy="65.6" r="0.83" fill="rgb(66,2,2)"/><circle cx="26.8" cy="59.4" r="0.62" fill="rgb(175,5,5)"/><circle cx="25.0" cy="76.9" r="0.80" fill="rgb(152,4,4)"/><circle cx="10.4" cy="68.8" r="0.49" fill="rgb(142,4,4)"/><circle cx="24.6" cy="56.4" r="0.71" fill="rgb(172,5,5)"/><circle cx="24.5" cy="52.7" r="0.88" fill="rgb(145,4,4)"/><circle cx="13.1" cy="57.0" r="0.60" fill="rgb(93,2,2)"/><circle cx="29.1" cy="55.7" r="0.87" fill="rgb(72,2,2)"/><circle cx="14.6" cy="52.6" r="0.80" fill="rgb(42,1,1)"/><circle cx="8.7" cy="71.2" r="0.79" fill="rgb(49,1,1)"/><circle cx="16.7" cy="44.1" r="0.83" fill="rgb(159,5,5)"/><circle cx="5.2" cy="70.2" r="0.56" fill="rgb(175,5,5)"/><circle cx="8.6" cy="76.0" r="0.58" fill="rgb(110,3,3)"/><circle cx="20.5" cy="70.7" r="0.61" fill="rgb(145,4,4)"/><circle cx="28.0" cy="65.7" r="0.47" fill="rgb(94,2,2)"/><circle cx="10.6" cy="77.8" r="0.64" fill="rgb(160,5,5)"/><circle cx="16.5" cy="51.3" r="0.54" fill="rgb(135,4,4)"/><circle cx="7.0" cy="59.1" r="0.69" fill="rgb(171,5,5)"/><circle cx="29.0" cy="44.5" r="0.61" fill="rgb(91,2,2)"/><circle cx="27.3" cy="45.8" r="0.76" fill="rgb(70,2,2)"/><circle cx="22.2" cy="55.1" r="0.53" fill="rgb(156,4,4)"/><circle cx="29.2" cy="54.9" r="0.62" fill="rgb(57,1,1)"/><circle cx="14.5" cy="56.9" r="0.50" fill="rgb(166,5,5)"/><circle cx="17.4" cy="51.3" r="0.57" fill="rgb(50,1,1)"/><circle cx="18.2" cy="56.9" r="0.81" fill="rgb(75,2,2)"/><circle cx="10.5" cy="48.1" r="0.77" fill="rgb(49,1,1)"/><circle cx="8.6" cy="45.0" r="0.69" fill="rgb(76,2,2)"/><circle cx="26.4" cy="55.1" r="0.83" fill="rgb(62,1,1)"/><circle cx="15.4" cy="69.8" r="0.84" fill="rgb(149,4,4)"/><circle cx="24.4" cy="59.7" r="0.64" fill="rgb(167,5,5)"/><circle cx="14.0" cy="56.8" r="0.76" fill="rgb(108,3,3)"/><circle cx="31.2" cy="53.9" r="0.82" fill="rgb(139,4,4)"/><circle cx="8.1" cy="74.9" r="0.76" fill="rgb(167,5,5)"/><circle cx="19.7" cy="73.7" r="0.69" fill="rgb(163,5,5)"/><circle cx="28.0" cy="49.1" r="0.85" fill="rgb(50,1,1)"/><circle cx="19.3" cy="54.4" r="0.65" fill="rgb(69,2,2)"/><circle cx="13.1" cy="68.6" r="0.63" fill="rgb(104,3,3)"/><circle cx="8.5" cy="47.8" r="0.76" fill="rgb(87,2,2)"/><circle cx="21.0" cy="74.7" r="0.49" fill="rgb(65,2,2)"/><circle cx="29.3" cy="66.7" r="0.81" fill="rgb(48,1,1)"/><circle cx="16.9" cy="72.7" r="0.89" fill="rgb(134,4,4)"/><circle cx="33.1" cy="54.3" r="0.75" fill="rgb(168,5,5)"/><circle cx="8.9" cy="64.0" r="0.59" fill="rgb(105,3,3)"/><circle cx="30.4" cy="57.7" r="0.50" fill="rgb(103,3,3)"/><circle cx="21.6" cy="51.9" r="0.81" fill="rgb(71,2,2)"/><circle cx="18.3" cy="62.1" r="0.46" fill="rgb(162,5,5)"/><circle cx="31.4" cy="80.0" r="1.05" fill="rgb(213,6,6)"/><circle cx="29.6" cy="79.7" r="0.91" fill="rgb(116,3,3)"/><circle cx="33.1" cy="82.2" r="0.53" fill="rgb(183,5,5)"/><circle cx="25.4" cy="80.8" r="0.88" fill="rgb(208,6,6)"/><circle cx="31.8" cy="78.9" r="0.94" fill="rgb(107,3,3)"/><circle cx="40.1" cy="81.1" r="0.76" fill="rgb(197,6,6)"/><circle cx="30.4" cy="83.1" r="0.88" fill="rgb(248,7,7)"/><circle cx="26.0" cy="78.1" r="0.73" fill="rgb(247,7,7)"/><circle cx="40.8" cy="79.4" r="0.55" fill="rgb(238,7,7)"/><circle cx="29.4" cy="80.5" r="0.99" fill="rgb(180,5,5)"/><circle cx="36.8" cy="78.0" r="0.60" fill="rgb(243,7,7)"/><circle cx="35.0" cy="86.1" r="0.64" fill="rgb(88,2,2)"/><circle cx="29.4" cy="82.1" r="0.56" fill="rgb(225,7,7)"/><circle cx="28.4" cy="80.2" r="0.59" fill="rgb(138,4,4)"/><circle cx="33.6" cy="77.2" r="0.74" fill="rgb(136,4,4)"/><circle cx="38.2" cy="79.7" r="0.63" fill="rgb(196,6,6)"/><circle cx="29.5" cy="77.8" r="0.66" fill="rgb(158,4,4)"/><circle cx="33.2" cy="82.8" r="0.79" fill="rgb(191,5,5)"/><circle cx="24.3" cy="82.0" r="0.68" fill="rgb(199,6,6)"/><circle cx="37.1" cy="76.9" r="0.59" fill="rgb(249,7,7)"/><circle cx="34.5" cy="82.8" r="0.86" fill="rgb(129,4,4)"/><circle cx="32.7" cy="83.7" r="0.98" fill="rgb(82,2,2)"/><circle cx="28.1" cy="91.6" r="0.58" fill="rgb(201,6,6)"/><circle cx="31.2" cy="79.6" r="0.87" fill="rgb(105,3,3)"/><circle cx="38.2" cy="76.1" r="0.92" fill="rgb(83,2,2)"/><circle cx="32.8" cy="83.8" r="1.09" fill="rgb(79,2,2)"/><circle cx="35.2" cy="73.6" r="1.06" fill="rgb(116,3,3)"/><circle cx="35.6" cy="80.8" r="0.76" fill="rgb(209,6,6)"/><circle cx="31.0" cy="82.9" r="0.87" fill="rgb(146,4,4)"/><circle cx="38.7" cy="76.6" r="0.55" fill="rgb(223,7,7)"/><circle cx="34.7" cy="84.4" r="1.09" fill="rgb(245,7,7)"/><circle cx="25.6" cy="78.7" r="0.86" fill="rgb(121,3,3)"/><circle cx="27.4" cy="81.6" r="0.57" fill="rgb(135,4,4)"/><circle cx="34.5" cy="77.0" r="0.54" fill="rgb(100,3,3)"/><circle cx="36.3" cy="81.7" r="1.03" fill="rgb(208,6,6)"/><circle cx="33.1" cy="84.7" r="0.73" fill="rgb(99,3,3)"/><circle cx="39.1" cy="91.9" r="0.80" fill="rgb(226,7,7)"/><circle cx="34.9" cy="79.7" r="0.95" fill="rgb(221,6,6)"/><circle cx="37.7" cy="83.6" r="0.73" fill="rgb(175,5,5)"/><circle cx="29.4" cy="80.6" r="1.04" fill="rgb(251,7,7)"/><circle cx="24.7" cy="83.2" r="0.64" fill="rgb(238,7,7)"/><circle cx="40.9" cy="83.6" r="0.85" fill="rgb(199,6,6)"/><circle cx="32.1" cy="86.9" r="0.77" fill="rgb(116,3,3)"/><circle cx="27.9" cy="84.1" r="1.09" fill="rgb(232,7,7)"/><circle cx="32.3" cy="78.3" r="0.92" fill="rgb(118,3,3)"/><circle cx="28.4" cy="86.8" r="0.69" fill="rgb(86,2,2)"/><circle cx="35.1" cy="82.3" r="0.93" fill="rgb(86,2,2)"/><circle cx="36.1" cy="78.6" r="0.81" fill="rgb(143,4,4)"/><circle cx="33.9" cy="76.3" r="0.89" fill="rgb(174,5,5)"/><circle cx="33.3" cy="86.4" r="0.77" fill="rgb(167,5,5)"/><circle cx="39.6" cy="81.2" r="0.99" fill="rgb(161,5,5)"/><circle cx="25.8" cy="85.1" r="0.65" fill="rgb(213,6,6)"/><circle cx="33.5" cy="79.4" r="0.61" fill="rgb(232,7,7)"/><circle cx="38.1" cy="79.8" r="0.61" fill="rgb(113,3,3)"/><circle cx="31.0" cy="81.0" r="0.53" fill="rgb(192,6,6)"/><circle cx="35.4" cy="81.1" r="1.06" fill="rgb(83,2,2)"/><circle cx="34.7" cy="83.8" r="0.78" fill="rgb(130,4,4)"/><circle cx="30.9" cy="82.2" r="0.81" fill="rgb(203,6,6)"/><circle cx="31.9" cy="83.8" r="0.92" fill="rgb(202,6,6)"/><circle cx="33.8" cy="70.6" r="0.71" fill="rgb(182,5,5)"/><circle cx="30.0" cy="80.1" r="0.77" fill="rgb(154,4,4)"/><circle cx="30.2" cy="84.3" r="0.97" fill="rgb(188,5,5)"/><circle cx="41.6" cy="77.4" r="0.69" fill="rgb(120,3,3)"/><circle cx="24.3" cy="80.8" r="0.58" fill="rgb(143,4,4)"/><circle cx="32.0" cy="82.1" r="1.02" fill="rgb(228,7,7)"/><circle cx="15.4" cy="74.5" r="0.54" fill="rgb(53,1,1)"/><circle cx="16.6" cy="60.8" r="0.62" fill="rgb(152,4,4)"/><circle cx="20.3" cy="56.4" r="0.84" fill="rgb(83,2,2)"/><circle cx="26.4" cy="56.0" r="0.71" fill="rgb(74,2,2)"/><circle cx="10.0" cy="67.9" r="0.87" fill="rgb(82,2,2)"/><circle cx="12.5" cy="54.4" r="0.87" fill="rgb(61,1,1)"/><circle cx="16.2" cy="65.5" r="0.80" fill="rgb(146,4,4)"/><circle cx="25.7" cy="62.5" r="0.77" fill="rgb(41,1,1)"/><circle cx="21.2" cy="71.6" r="0.69" fill="rgb(109,3,3)"/><circle cx="12.9" cy="61.9" r="0.75" fill="rgb(44,1,1)"/><circle cx="20.5" cy="63.3" r="0.46" fill="rgb(122,3,3)"/><circle cx="29.9" cy="65.1" r="0.62" fill="rgb(114,3,3)"/><circle cx="27.1" cy="59.9" r="0.80" fill="rgb(67,2,2)"/><circle cx="14.8" cy="67.8" r="0.55" fill="rgb(100,3,3)"/><circle cx="16.3" cy="69.5" r="0.46" fill="rgb(109,3,3)"/><circle cx="16.9" cy="68.2" r="0.84" fill="rgb(134,4,4)"/><circle cx="21.3" cy="77.1" r="0.81" fill="rgb(46,1,1)"/><circle cx="22.1" cy="66.2" r="0.86" fill="rgb(139,4,4)"/><circle cx="11.9" cy="62.3" r="0.89" fill="rgb(110,3,3)"/><circle cx="24.0" cy="65.9" r="0.56" fill="rgb(123,3,3)"/><circle cx="18.8" cy="73.5" r="0.47" fill="rgb(144,4,4)"/><circle cx="22.5" cy="67.6" r="0.79" fill="rgb(40,1,1)"/><circle cx="26.4" cy="70.0" r="0.83" fill="rgb(38,1,1)"/><circle cx="25.3" cy="71.3" r="0.58" fill="rgb(149,4,4)"/><circle cx="18.0" cy="69.4" r="0.75" fill="rgb(42,1,1)"/><circle cx="71.3" cy="66.6" r="1.40" fill="rgb(229,7,7)"/><circle cx="73.6" cy="9.7" r="0.90" fill="rgb(153,4,4)"/><circle cx="85.5" cy="1.0" r="1.00" fill="rgb(204,6,6)"/></g></g>
</g>
<rect x="79.5" y="83.6" width="4.5" height="0.6" fill="#ccc"/>
</g>
<g transform="translate(512.0,371.3)" clip-path="url(#cp)">
<rect x="0" y="0" width="86.0" height="85.8" fill="#000"/>
<g clip-path="url(#cp)">
<g><g filter="url(#bl1)"><circle cx="56.9" cy="38.9" r="0.87" fill="rgb(3,4,49)"/><circle cx="46.6" cy="40.7" r="0.77" fill="rgb(6,8,84)"/><circle cx="42.8" cy="43.1" r="0.79" fill="rgb(2,3,36)"/><circle cx="48.9" cy="42.0" r="0.85" fill="rgb(4,5,57)"/><circle cx="46.0" cy="46.4" r="0.47" fill="rgb(5,7,74)"/><circle cx="41.9" cy="22.5" r="0.48" fill="rgb(6,8,83)"/><circle cx="56.5" cy="40.3" r="0.50" fill="rgb(8,11,112)"/><circle cx="34.6" cy="39.6" r="0.90" fill="rgb(5,6,64)"/><circle cx="33.5" cy="20.2" r="0.46" fill="rgb(6,7,78)"/><circle cx="39.9" cy="23.1" r="0.49" fill="rgb(2,3,33)"/><circle cx="55.5" cy="22.5" r="0.63" fill="rgb(3,4,44)"/><circle cx="51.1" cy="17.8" r="0.65" fill="rgb(2,3,34)"/><circle cx="53.7" cy="16.3" r="0.41" fill="rgb(7,8,91)"/><circle cx="58.6" cy="41.1" r="0.66" fill="rgb(2,3,33)"/><circle cx="34.6" cy="32.5" r="0.63" fill="rgb(5,6,68)"/><circle cx="37.3" cy="35.0" r="0.70" fill="rgb(2,3,33)"/><circle cx="32.7" cy="33.3" r="0.87" fill="rgb(2,3,31)"/><circle cx="59.5" cy="46.8" r="0.75" fill="rgb(6,7,76)"/><circle cx="58.8" cy="32.4" r="0.61" fill="rgb(4,5,56)"/><circle cx="40.7" cy="28.1" r="0.87" fill="rgb(3,4,49)"/><circle cx="42.0" cy="45.8" r="0.63" fill="rgb(3,4,48)"/><circle cx="33.3" cy="42.7" r="0.42" fill="rgb(4,5,53)"/><circle cx="58.8" cy="29.7" r="0.87" fill="rgb(4,5,57)"/><circle cx="46.9" cy="43.7" r="0.42" fill="rgb(3,3,38)"/><circle cx="51.7" cy="45.0" r="0.53" fill="rgb(3,4,47)"/><circle cx="30.9" cy="18.7" r="0.86" fill="rgb(4,5,51)"/><circle cx="47.8" cy="19.7" r="0.70" fill="rgb(8,10,109)"/><circle cx="47.8" cy="14.1" r="0.65" fill="rgb(7,9,100)"/><circle cx="41.5" cy="37.1" r="0.67" fill="rgb(7,9,94)"/><circle cx="39.4" cy="48.6" r="0.86" fill="rgb(6,7,80)"/><circle cx="47.3" cy="48.2" r="0.57" fill="rgb(3,4,48)"/><circle cx="57.0" cy="38.6" r="0.50" fill="rgb(6,8,87)"/><circle cx="55.8" cy="41.7" r="0.67" fill="rgb(4,5,59)"/><circle cx="50.8" cy="14.1" r="0.53" fill="rgb(4,5,58)"/><circle cx="33.2" cy="38.0" r="0.47" fill="rgb(7,8,90)"/><circle cx="56.4" cy="43.4" r="0.73" fill="rgb(3,4,45)"/><circle cx="39.5" cy="21.1" r="0.87" fill="rgb(6,8,84)"/><circle cx="36.1" cy="26.9" r="0.42" fill="rgb(4,6,61)"/><circle cx="46.3" cy="37.9" r="0.83" fill="rgb(2,3,31)"/><circle cx="40.5" cy="17.1" r="0.87" fill="rgb(5,7,73)"/><circle cx="60.3" cy="40.2" r="0.89" fill="rgb(8,10,103)"/><circle cx="52.5" cy="20.8" r="0.87" fill="rgb(2,3,31)"/><circle cx="50.6" cy="18.1" r="0.59" fill="rgb(6,7,78)"/><circle cx="62.6" cy="31.5" r="0.62" fill="rgb(7,9,95)"/><circle cx="35.5" cy="31.3" r="0.89" fill="rgb(3,4,47)"/><circle cx="41.3" cy="18.7" r="0.72" fill="rgb(2,2,25)"/><circle cx="61.8" cy="30.7" r="0.86" fill="rgb(8,10,105)"/><circle cx="61.2" cy="12.7" r="0.60" fill="rgb(5,6,65)"/><circle cx="38.7" cy="43.1" r="0.47" fill="rgb(8,10,110)"/><circle cx="51.8" cy="18.1" r="0.75" fill="rgb(8,10,111)"/><circle cx="31.5" cy="28.7" r="0.85" fill="rgb(2,3,31)"/><circle cx="36.7" cy="35.2" r="0.69" fill="rgb(7,9,96)"/><circle cx="37.6" cy="36.0" r="0.61" fill="rgb(3,4,43)"/><circle cx="53.6" cy="32.3" r="0.83" fill="rgb(5,6,67)"/><circle cx="37.5" cy="39.1" r="0.51" fill="rgb(3,4,46)"/><circle cx="46.6" cy="44.8" r="0.83" fill="rgb(3,4,47)"/><circle cx="61.0" cy="40.0" r="0.41" fill="rgb(6,8,85)"/><circle cx="42.7" cy="20.8" r="0.72" fill="rgb(7,9,94)"/><circle cx="33.9" cy="37.8" r="0.71" fill="rgb(6,8,88)"/><circle cx="54.7" cy="48.4" r="0.59" fill="rgb(6,8,87)"/><circle cx="38.6" cy="38.4" r="0.78" fill="rgb(4,5,56)"/><circle cx="35.1" cy="31.2" r="0.81" fill="rgb(4,5,53)"/><circle cx="52.8" cy="42.5" r="0.83" fill="rgb(3,4,50)"/><circle cx="57.5" cy="23.8" r="0.67" fill="rgb(3,3,39)"/><circle cx="34.6" cy="29.3" r="0.72" fill="rgb(4,5,58)"/><circle cx="57.4" cy="28.3" r="0.49" fill="rgb(7,9,96)"/><circle cx="59.7" cy="32.9" r="0.47" fill="rgb(6,7,78)"/><circle cx="58.5" cy="23.1" r="0.55" fill="rgb(4,6,61)"/><circle cx="35.4" cy="32.8" r="0.58" fill="rgb(7,9,101)"/><circle cx="35.5" cy="26.8" r="0.58" fill="rgb(7,9,98)"/><circle cx="60.5" cy="30.9" r="0.55" fill="rgb(8,10,105)"/><circle cx="53.7" cy="43.5" r="0.50" fill="rgb(7,9,96)"/><circle cx="58.5" cy="41.1" r="0.59" fill="rgb(6,7,78)"/><circle cx="56.3" cy="38.9" r="0.79" fill="rgb(5,6,64)"/><circle cx="48.8" cy="17.0" r="0.81" fill="rgb(7,9,98)"/><circle cx="47.7" cy="43.8" r="0.70" fill="rgb(3,4,43)"/><circle cx="33.4" cy="27.6" r="0.67" fill="rgb(2,3,37)"/><circle cx="54.2" cy="22.7" r="0.71" fill="rgb(7,9,99)"/><circle cx="59.2" cy="37.8" r="0.68" fill="rgb(3,4,46)"/><circle cx="57.3" cy="23.7" r="0.45" fill="rgb(5,6,67)"/><circle cx="34.1" cy="33.4" r="0.73" fill="rgb(8,11,112)"/><circle cx="37.5" cy="42.3" r="0.85" fill="rgb(4,5,55)"/><circle cx="46.1" cy="37.0" r="0.79" fill="rgb(6,8,81)"/><circle cx="62.8" cy="35.0" r="0.63" fill="rgb(2,2,26)"/><circle cx="58.4" cy="35.7" r="0.45" fill="rgb(5,6,71)"/><circle cx="50.2" cy="15.7" r="0.86" fill="rgb(8,10,107)"/><circle cx="31.4" cy="38.8" r="0.61" fill="rgb(4,5,56)"/><circle cx="56.5" cy="12.1" r="0.68" fill="rgb(8,10,110)"/><circle cx="42.3" cy="16.1" r="0.87" fill="rgb(5,7,73)"/><circle cx="42.6" cy="18.3" r="0.55" fill="rgb(3,4,47)"/><circle cx="41.9" cy="48.0" r="0.46" fill="rgb(3,4,47)"/><circle cx="33.1" cy="15.5" r="0.50" fill="rgb(3,4,44)"/><circle cx="46.7" cy="45.0" r="0.77" fill="rgb(6,8,84)"/><circle cx="41.7" cy="44.4" r="0.85" fill="rgb(5,7,75)"/><circle cx="50.0" cy="46.9" r="0.80" fill="rgb(7,9,98)"/><circle cx="60.5" cy="31.2" r="0.82" fill="rgb(4,6,63)"/><circle cx="29.8" cy="30.8" r="0.52" fill="rgb(2,2,29)"/><circle cx="56.7" cy="22.5" r="0.63" fill="rgb(6,8,88)"/><circle cx="33.6" cy="14.6" r="0.87" fill="rgb(5,6,70)"/><circle cx="58.1" cy="24.0" r="0.55" fill="rgb(2,3,36)"/><circle cx="32.8" cy="14.0" r="0.56" fill="rgb(4,6,63)"/><circle cx="43.1" cy="46.0" r="0.56" fill="rgb(5,7,73)"/><circle cx="52.3" cy="15.0" r="0.52" fill="rgb(8,10,111)"/><circle cx="33.8" cy="36.3" r="0.62" fill="rgb(8,10,109)"/><circle cx="38.1" cy="38.6" r="0.52" fill="rgb(6,8,88)"/><circle cx="43.3" cy="46.6" r="0.65" fill="rgb(6,7,76)"/><circle cx="48.4" cy="17.3" r="0.87" fill="rgb(8,10,109)"/><circle cx="56.7" cy="27.0" r="0.76" fill="rgb(5,6,66)"/><circle cx="36.7" cy="43.5" r="0.77" fill="rgb(4,5,60)"/><circle cx="39.5" cy="39.5" r="0.41" fill="rgb(7,8,90)"/><circle cx="11.3" cy="64.3" r="0.76" fill="rgb(6,7,77)"/><circle cx="32.2" cy="70.9" r="0.52" fill="rgb(6,8,84)"/><circle cx="3.7" cy="61.1" r="0.86" fill="rgb(6,7,78)"/><circle cx="21.0" cy="78.9" r="0.49" fill="rgb(1,2,23)"/><circle cx="11.5" cy="81.3" r="0.42" fill="rgb(3,4,42)"/><circle cx="18.3" cy="53.0" r="0.84" fill="rgb(2,2,27)"/><circle cx="4.7" cy="83.9" r="0.41" fill="rgb(2,3,35)"/><circle cx="15.1" cy="79.3" r="0.57" fill="rgb(4,5,59)"/><circle cx="27.7" cy="69.1" r="0.82" fill="rgb(1,2,21)"/><circle cx="19.3" cy="45.8" r="0.83" fill="rgb(1,2,22)"/><circle cx="5.0" cy="61.7" r="0.71" fill="rgb(1,2,21)"/><circle cx="22.5" cy="49.0" r="0.56" fill="rgb(1,2,23)"/><circle cx="25.3" cy="77.4" r="0.78" fill="rgb(3,4,42)"/><circle cx="10.0" cy="82.5" r="0.81" fill="rgb(6,8,87)"/><circle cx="15.3" cy="79.3" r="0.74" fill="rgb(5,7,74)"/><circle cx="18.4" cy="75.6" r="0.65" fill="rgb(3,3,39)"/><circle cx="17.3" cy="46.6" r="0.74" fill="rgb(3,4,43)"/><circle cx="7.8" cy="75.9" r="0.66" fill="rgb(3,4,42)"/><circle cx="31.5" cy="81.6" r="0.61" fill="rgb(4,5,58)"/><circle cx="2.0" cy="58.9" r="0.89" fill="rgb(4,5,55)"/><circle cx="33.8" cy="46.1" r="0.41" fill="rgb(1,2,24)"/><circle cx="4.4" cy="74.4" r="0.89" fill="rgb(5,7,72)"/><circle cx="21.4" cy="59.9" r="0.59" fill="rgb(2,2,29)"/><circle cx="14.7" cy="49.7" r="0.80" fill="rgb(4,5,57)"/><circle cx="14.1" cy="78.2" r="0.55" fill="rgb(6,7,80)"/><circle cx="25.0" cy="69.5" r="0.70" fill="rgb(5,6,63)"/><circle cx="30.9" cy="83.8" r="0.68" fill="rgb(6,8,86)"/><circle cx="9.8" cy="81.1" r="0.84" fill="rgb(5,6,64)"/><circle cx="5.5" cy="79.6" r="0.59" fill="rgb(3,4,43)"/><circle cx="32.4" cy="48.4" r="0.72" fill="rgb(2,3,35)"/><circle cx="29.8" cy="53.4" r="0.45" fill="rgb(4,5,53)"/><circle cx="16.6" cy="74.3" r="0.54" fill="rgb(3,3,40)"/><circle cx="11.4" cy="66.5" r="0.47" fill="rgb(4,5,59)"/><circle cx="28.3" cy="71.8" r="0.53" fill="rgb(4,5,53)"/><circle cx="5.0" cy="63.4" r="0.78" fill="rgb(1,2,20)"/><circle cx="22.7" cy="80.9" r="0.54" fill="rgb(3,4,42)"/><circle cx="23.8" cy="51.1" r="0.53" fill="rgb(4,6,62)"/><circle cx="18.6" cy="51.5" r="0.50" fill="rgb(4,5,54)"/><circle cx="29.8" cy="52.8" r="0.74" fill="rgb(4,5,56)"/><circle cx="10.9" cy="61.1" r="0.81" fill="rgb(2,2,27)"/><circle cx="19.5" cy="63.7" r="0.46" fill="rgb(3,4,48)"/><circle cx="7.4" cy="60.7" r="0.42" fill="rgb(4,5,59)"/><circle cx="27.7" cy="79.1" r="0.87" fill="rgb(2,3,37)"/><circle cx="27.6" cy="59.0" r="0.76" fill="rgb(4,5,52)"/><circle cx="25.8" cy="60.6" r="0.88" fill="rgb(4,5,52)"/><circle cx="27.6" cy="52.0" r="0.76" fill="rgb(2,3,34)"/><circle cx="15.1" cy="59.8" r="0.73" fill="rgb(4,5,60)"/><circle cx="10.8" cy="81.4" r="0.42" fill="rgb(4,5,53)"/><circle cx="6.2" cy="49.2" r="0.51" fill="rgb(6,8,85)"/><circle cx="2.7" cy="73.1" r="0.69" fill="rgb(6,7,77)"/><circle cx="29.2" cy="49.8" r="0.86" fill="rgb(2,2,30)"/><circle cx="5.8" cy="54.3" r="0.75" fill="rgb(4,5,59)"/><circle cx="24.1" cy="53.4" r="0.64" fill="rgb(3,4,42)"/><circle cx="32.8" cy="67.2" r="0.75" fill="rgb(4,5,51)"/><circle cx="5.7" cy="48.8" r="0.51" fill="rgb(5,6,71)"/><circle cx="8.5" cy="63.7" r="0.57" fill="rgb(2,2,29)"/><circle cx="13.8" cy="64.1" r="0.86" fill="rgb(5,7,74)"/><circle cx="15.9" cy="56.4" r="0.52" fill="rgb(3,4,44)"/><circle cx="19.0" cy="82.8" r="0.44" fill="rgb(2,3,33)"/><circle cx="14.7" cy="67.0" r="0.43" fill="rgb(1,2,21)"/><circle cx="19.7" cy="45.7" r="0.81" fill="rgb(5,6,66)"/><circle cx="17.0" cy="83.9" r="0.64" fill="rgb(6,8,85)"/><circle cx="9.0" cy="48.0" r="0.61" fill="rgb(4,5,56)"/><circle cx="23.3" cy="49.9" r="0.75" fill="rgb(3,3,40)"/><circle cx="32.3" cy="76.1" r="0.79" fill="rgb(1,2,23)"/><circle cx="3.9" cy="46.3" r="0.62" fill="rgb(1,2,22)"/><circle cx="6.6" cy="47.3" r="0.90" fill="rgb(4,5,52)"/><circle cx="10.4" cy="50.9" r="0.54" fill="rgb(2,2,27)"/><circle cx="27.5" cy="81.0" r="0.81" fill="rgb(2,2,25)"/><circle cx="21.4" cy="78.3" r="0.60" fill="rgb(5,7,74)"/><circle cx="53.0" cy="55.6" r="0.77" fill="rgb(4,5,52)"/><circle cx="57.7" cy="64.4" r="0.81" fill="rgb(3,4,43)"/><circle cx="46.6" cy="51.4" r="0.71" fill="rgb(5,6,70)"/><circle cx="42.6" cy="51.2" r="0.81" fill="rgb(4,5,51)"/><circle cx="49.6" cy="56.5" r="0.47" fill="rgb(5,7,75)"/><circle cx="58.9" cy="61.1" r="0.69" fill="rgb(2,2,29)"/><circle cx="61.3" cy="48.8" r="0.52" fill="rgb(4,6,61)"/><circle cx="47.3" cy="58.2" r="0.44" fill="rgb(6,8,81)"/><circle cx="47.6" cy="59.0" r="0.49" fill="rgb(3,4,43)"/><circle cx="50.2" cy="53.6" r="0.49" fill="rgb(2,2,29)"/><circle cx="46.4" cy="52.3" r="0.81" fill="rgb(6,8,85)"/><circle cx="46.1" cy="61.6" r="0.80" fill="rgb(4,5,56)"/><circle cx="42.5" cy="67.2" r="0.90" fill="rgb(3,3,40)"/><circle cx="47.8" cy="53.6" r="0.81" fill="rgb(3,4,47)"/><circle cx="48.1" cy="54.9" r="0.50" fill="rgb(4,5,51)"/><circle cx="38.4" cy="54.7" r="0.47" fill="rgb(2,2,29)"/><circle cx="47.1" cy="57.7" r="0.87" fill="rgb(4,5,58)"/><circle cx="48.3" cy="60.1" r="0.53" fill="rgb(4,5,54)"/><circle cx="43.9" cy="62.6" r="0.51" fill="rgb(5,6,69)"/><circle cx="54.2" cy="49.8" r="0.44" fill="rgb(4,5,56)"/><circle cx="47.8" cy="52.9" r="0.87" fill="rgb(2,3,32)"/><circle cx="47.5" cy="55.5" r="0.83" fill="rgb(2,2,27)"/><circle cx="40.4" cy="56.5" r="0.64" fill="rgb(6,8,88)"/><circle cx="46.6" cy="54.7" r="0.60" fill="rgb(2,3,35)"/><circle cx="49.8" cy="52.3" r="0.73" fill="rgb(4,5,53)"/><ellipse cx="32.5" cy="53.6" rx="7.0" ry="6.3" fill="rgb(25,45,235)"/><ellipse cx="33" cy="53.4" rx="4.2" ry="3.8" fill="none" stroke="rgb(70,100,255)" stroke-width="0.7"/><circle cx="41.7" cy="60.7" r="1.50" fill="rgb(18,22,229)"/></g></g>
</g>
<rect x="79.5" y="83.6" width="4.5" height="0.6" fill="#ccc"/>
</g>
<g transform="translate(599.6,371.3)" clip-path="url(#cp)">
<rect x="0" y="0" width="86.0" height="85.8" fill="#000"/>
<g clip-path="url(#cp)">
<g><g filter="url(#bl2)"><circle cx="47.3" cy="43.1" r="0.92" fill="rgb(99,3,3)"/><circle cx="49.3" cy="41.1" r="0.53" fill="rgb(106,3,3)"/><circle cx="46.5" cy="14.6" r="0.57" fill="rgb(120,3,3)"/><circle cx="33.9" cy="37.2" r="0.91" fill="rgb(180,5,5)"/><circle cx="61.2" cy="31.7" r="0.93" fill="rgb(218,6,6)"/><circle cx="53.1" cy="16.1" r="0.90" fill="rgb(206,6,6)"/><circle cx="61.3" cy="26.0" r="0.92" fill="rgb(156,4,4)"/><circle cx="48.4" cy="18.3" r="0.76" fill="rgb(145,4,4)"/><circle cx="40.3" cy="39.6" r="0.51" fill="rgb(220,6,6)"/><circle cx="52.3" cy="16.3" r="0.99" fill="rgb(195,6,6)"/><circle cx="35.3" cy="25.8" r="0.82" fill="rgb(148,4,4)"/><circle cx="53.5" cy="41.9" r="0.56" fill="rgb(163,5,5)"/><circle cx="47.8" cy="41.4" r="0.67" fill="rgb(88,2,2)"/><circle cx="33.7" cy="31.4" r="0.58" fill="rgb(108,3,3)"/><circle cx="52.4" cy="43.1" r="0.81" fill="rgb(246,7,7)"/><circle cx="37.1" cy="39.9" r="0.85" fill="rgb(242,7,7)"/><circle cx="63.5" cy="35.0" r="0.91" fill="rgb(185,5,5)"/><circle cx="57.0" cy="45.1" r="0.68" fill="rgb(229,7,7)"/><circle cx="58.6" cy="21.0" r="0.92" fill="rgb(135,4,4)"/><circle cx="45.5" cy="18.3" r="0.53" fill="rgb(249,7,7)"/><circle cx="37.5" cy="22.2" r="0.79" fill="rgb(174,5,5)"/><circle cx="38.0" cy="23.8" r="0.65" fill="rgb(202,6,6)"/><circle cx="40.9" cy="41.9" r="0.83" fill="rgb(85,2,2)"/><circle cx="50.3" cy="45.7" r="0.49" fill="rgb(186,5,5)"/><circle cx="35.9" cy="25.9" r="0.69" fill="rgb(129,4,4)"/><circle cx="59.1" cy="38.1" r="0.45" fill="rgb(254,7,7)"/><circle cx="57.3" cy="39.8" r="0.78" fill="rgb(78,2,2)"/><circle cx="33.0" cy="33.5" r="0.65" fill="rgb(223,7,7)"/><circle cx="60.1" cy="31.0" r="0.98" fill="rgb(162,5,5)"/><circle cx="32.4" cy="33.1" r="0.82" fill="rgb(120,3,3)"/><circle cx="56.3" cy="32.2" r="0.86" fill="rgb(113,3,3)"/><circle cx="42.6" cy="17.7" r="0.92" fill="rgb(113,3,3)"/><circle cx="37.4" cy="23.7" r="0.61" fill="rgb(102,3,3)"/><circle cx="39.2" cy="42.9" r="0.47" fill="rgb(139,4,4)"/><circle cx="59.7" cy="37.8" r="0.45" fill="rgb(211,6,6)"/><circle cx="51.8" cy="40.5" r="0.71" fill="rgb(169,5,5)"/><circle cx="41.6" cy="42.1" r="0.53" fill="rgb(228,7,7)"/><circle cx="60.1" cy="41.1" r="0.90" fill="rgb(105,3,3)"/><circle cx="43.7" cy="43.3" r="0.52" fill="rgb(132,4,4)"/><circle cx="35.0" cy="35.6" r="0.93" fill="rgb(253,7,7)"/><circle cx="59.9" cy="34.0" r="0.89" fill="rgb(125,3,3)"/><circle cx="58.4" cy="21.9" r="0.75" fill="rgb(87,2,2)"/><circle cx="61.5" cy="30.9" r="0.53" fill="rgb(155,4,4)"/><circle cx="35.5" cy="44.1" r="0.64" fill="rgb(217,6,6)"/><circle cx="50.9" cy="43.5" r="0.96" fill="rgb(163,5,5)"/><circle cx="56.9" cy="25.4" r="0.69" fill="rgb(173,5,5)"/><circle cx="36.3" cy="19.0" r="0.51" fill="rgb(89,2,2)"/><circle cx="38.9" cy="28.5" r="0.90" fill="rgb(165,5,5)"/><circle cx="43.3" cy="45.7" r="0.50" fill="rgb(73,2,2)"/><circle cx="60.8" cy="33.1" r="0.85" fill="rgb(84,2,2)"/><circle cx="43.9" cy="10.6" r="0.89" fill="rgb(144,4,4)"/><circle cx="43.2" cy="25.7" r="0.91" fill="rgb(200,6,6)"/><circle cx="44.6" cy="44.1" r="0.62" fill="rgb(254,7,7)"/><circle cx="35.8" cy="32.8" r="0.60" fill="rgb(213,6,6)"/><circle cx="34.6" cy="35.0" r="0.59" fill="rgb(127,3,3)"/><circle cx="60.5" cy="25.1" r="0.59" fill="rgb(226,7,7)"/><circle cx="52.4" cy="24.5" r="0.87" fill="rgb(156,4,4)"/><circle cx="46.8" cy="48.2" r="0.70" fill="rgb(236,7,7)"/><circle cx="34.1" cy="27.1" r="0.71" fill="rgb(100,3,3)"/><circle cx="34.0" cy="23.3" r="0.47" fill="rgb(220,6,6)"/><circle cx="54.9" cy="45.4" r="0.62" fill="rgb(233,7,7)"/><circle cx="32.7" cy="30.8" r="0.74" fill="rgb(223,7,7)"/><circle cx="51.0" cy="44.1" r="0.69" fill="rgb(247,7,7)"/><circle cx="58.1" cy="32.0" r="0.92" fill="rgb(91,2,2)"/><circle cx="55.4" cy="18.3" r="0.73" fill="rgb(240,7,7)"/><circle cx="47.3" cy="45.1" r="0.72" fill="rgb(180,5,5)"/><circle cx="48.5" cy="44.2" r="0.70" fill="rgb(209,6,6)"/><circle cx="40.8" cy="42.3" r="0.57" fill="rgb(73,2,2)"/><circle cx="45.3" cy="21.7" r="0.86" fill="rgb(82,2,2)"/><circle cx="61.5" cy="22.1" r="0.96" fill="rgb(219,6,6)"/><circle cx="53.9" cy="19.7" r="0.82" fill="rgb(176,5,5)"/><circle cx="47.5" cy="41.0" r="0.52" fill="rgb(202,6,6)"/><circle cx="34.4" cy="20.7" r="0.79" fill="rgb(161,5,5)"/><circle cx="50.3" cy="15.5" r="0.93" fill="rgb(136,4,4)"/><circle cx="52.2" cy="20.5" r="0.68" fill="rgb(242,7,7)"/><circle cx="35.3" cy="35.3" r="0.97" fill="rgb(128,4,4)"/><circle cx="40.3" cy="15.4" r="0.66" fill="rgb(78,2,2)"/><circle cx="36.4" cy="32.1" r="0.68" fill="rgb(219,6,6)"/><circle cx="51.4" cy="14.3" r="0.68" fill="rgb(171,5,5)"/><circle cx="48.0" cy="16.7" r="0.49" fill="rgb(104,3,3)"/><circle cx="55.7" cy="40.9" r="0.98" fill="rgb(103,3,3)"/><circle cx="61.9" cy="24.1" r="0.61" fill="rgb(102,3,3)"/><circle cx="62.3" cy="28.1" r="0.52" fill="rgb(76,2,2)"/><circle cx="37.3" cy="40.1" r="0.57" fill="rgb(94,2,2)"/><circle cx="61.2" cy="31.9" r="0.58" fill="rgb(171,5,5)"/><circle cx="57.5" cy="21.6" r="0.81" fill="rgb(199,6,6)"/><circle cx="43.5" cy="15.9" r="0.54" fill="rgb(74,2,2)"/><circle cx="41.3" cy="23.9" r="0.74" fill="rgb(163,5,5)"/><circle cx="51.0" cy="15.1" r="0.68" fill="rgb(144,4,4)"/><circle cx="48.6" cy="47.8" r="0.60" fill="rgb(174,5,5)"/><circle cx="33.8" cy="25.3" r="0.84" fill="rgb(82,2,2)"/><circle cx="40.8" cy="19.9" r="0.54" fill="rgb(227,7,7)"/><circle cx="61.1" cy="27.5" r="0.57" fill="rgb(122,3,3)"/><circle cx="62.1" cy="41.6" r="0.69" fill="rgb(83,2,2)"/><circle cx="44.8" cy="19.2" r="0.84" fill="rgb(108,3,3)"/><circle cx="41.9" cy="41.7" r="0.65" fill="rgb(64,2,2)"/><circle cx="58.9" cy="20.8" r="0.89" fill="rgb(220,6,6)"/><circle cx="34.7" cy="35.2" r="0.68" fill="rgb(90,2,2)"/><circle cx="59.8" cy="30.6" r="0.53" fill="rgb(236,7,7)"/><circle cx="61.2" cy="32.2" r="0.65" fill="rgb(207,6,6)"/><circle cx="47.7" cy="13.4" r="0.76" fill="rgb(184,5,5)"/><circle cx="62.9" cy="24.8" r="0.89" fill="rgb(178,5,5)"/><circle cx="49.3" cy="19.6" r="0.90" fill="rgb(182,5,5)"/><circle cx="38.3" cy="40.4" r="0.46" fill="rgb(214,6,6)"/><circle cx="41.7" cy="40.8" r="0.76" fill="rgb(140,4,4)"/><circle cx="55.2" cy="17.7" r="0.78" fill="rgb(170,5,5)"/><circle cx="50.2" cy="19.5" r="0.86" fill="rgb(201,6,6)"/><circle cx="47.4" cy="15.4" r="0.94" fill="rgb(170,5,5)"/><circle cx="34.7" cy="25.5" r="0.69" fill="rgb(159,4,4)"/><circle cx="60.2" cy="21.3" r="0.47" fill="rgb(130,4,4)"/><circle cx="47.4" cy="21.0" r="0.54" fill="rgb(211,6,6)"/><circle cx="34.7" cy="36.9" r="0.76" fill="rgb(74,2,2)"/><circle cx="35.9" cy="39.2" r="0.76" fill="rgb(144,4,4)"/><circle cx="57.7" cy="33.0" r="0.83" fill="rgb(149,4,4)"/><circle cx="46.1" cy="18.5" r="0.93" fill="rgb(89,2,2)"/><circle cx="59.6" cy="27.3" r="0.50" fill="rgb(249,7,7)"/><circle cx="40.8" cy="26.0" r="0.73" fill="rgb(160,5,5)"/><circle cx="62.2" cy="36.3" r="0.89" fill="rgb(185,5,5)"/><circle cx="49.0" cy="46.3" r="0.96" fill="rgb(230,7,7)"/><circle cx="33.3" cy="33.9" r="0.47" fill="rgb(222,6,6)"/><circle cx="51.9" cy="43.6" r="0.98" fill="rgb(91,2,2)"/><circle cx="50.9" cy="19.7" r="0.85" fill="rgb(67,2,2)"/><circle cx="36.5" cy="25.3" r="0.98" fill="rgb(191,5,5)"/><circle cx="31.1" cy="31.2" r="0.78" fill="rgb(111,3,3)"/><circle cx="32.1" cy="33.9" r="0.49" fill="rgb(164,5,5)"/><circle cx="54.8" cy="45.4" r="0.76" fill="rgb(74,2,2)"/><circle cx="58.7" cy="32.4" r="0.94" fill="rgb(193,6,6)"/><circle cx="58.9" cy="30.2" r="0.53" fill="rgb(184,5,5)"/><circle cx="38.8" cy="19.5" r="0.58" fill="rgb(163,5,5)"/><circle cx="51.4" cy="15.7" r="0.84" fill="rgb(173,5,5)"/><circle cx="59.5" cy="36.8" r="0.54" fill="rgb(181,5,5)"/><circle cx="48.3" cy="41.7" r="0.62" fill="rgb(150,4,4)"/><circle cx="48.1" cy="14.5" r="0.58" fill="rgb(192,6,6)"/><circle cx="54.0" cy="16.2" r="0.60" fill="rgb(201,6,6)"/><circle cx="34.5" cy="33.7" r="0.75" fill="rgb(218,6,6)"/><circle cx="35.7" cy="21.0" r="0.45" fill="rgb(213,6,6)"/><circle cx="37.5" cy="24.5" r="0.69" fill="rgb(196,6,6)"/><circle cx="46.1" cy="45.2" r="0.53" fill="rgb(231,7,7)"/><circle cx="31.3" cy="37.1" r="0.51" fill="rgb(133,4,4)"/><circle cx="36.6" cy="19.5" r="0.82" fill="rgb(235,7,7)"/><circle cx="52.1" cy="39.0" r="0.71" fill="rgb(200,6,6)"/><circle cx="36.7" cy="33.0" r="0.84" fill="rgb(246,7,7)"/><circle cx="40.9" cy="42.2" r="0.94" fill="rgb(209,6,6)"/><circle cx="55.1" cy="21.3" r="0.93" fill="rgb(177,5,5)"/><circle cx="62.4" cy="25.7" r="0.49" fill="rgb(175,5,5)"/><circle cx="41.8" cy="15.2" r="0.61" fill="rgb(219,6,6)"/><circle cx="35.9" cy="37.7" r="0.77" fill="rgb(137,4,4)"/><circle cx="62.3" cy="35.0" r="0.62" fill="rgb(250,7,7)"/><circle cx="35.7" cy="32.7" r="0.49" fill="rgb(180,5,5)"/><circle cx="50.8" cy="41.8" r="0.52" fill="rgb(181,5,5)"/><circle cx="39.4" cy="12.9" r="0.46" fill="rgb(95,2,2)"/><circle cx="41.4" cy="43.2" r="0.89" fill="rgb(205,6,6)"/><circle cx="47.6" cy="21.3" r="0.52" fill="rgb(247,7,7)"/><circle cx="62.9" cy="35.5" r="0.53" fill="rgb(207,6,6)"/><circle cx="49.6" cy="17.4" r="0.93" fill="rgb(162,5,5)"/><circle cx="51.2" cy="42.4" r="0.50" fill="rgb(252,7,7)"/><circle cx="61.1" cy="35.5" r="0.94" fill="rgb(222,6,6)"/><circle cx="56.5" cy="16.9" r="0.80" fill="rgb(65,2,2)"/><circle cx="46.8" cy="14.4" r="0.98" fill="rgb(76,2,2)"/><circle cx="45.8" cy="11.3" r="0.58" fill="rgb(83,2,2)"/><circle cx="56.3" cy="21.9" r="0.76" fill="rgb(76,2,2)"/><circle cx="35.4" cy="37.3" r="0.81" fill="rgb(229,7,7)"/><circle cx="58.3" cy="40.9" r="0.56" fill="rgb(127,4,4)"/><circle cx="54.3" cy="42.1" r="0.50" fill="rgb(189,5,5)"/><circle cx="36.3" cy="39.4" r="0.52" fill="rgb(194,6,6)"/><circle cx="63.7" cy="26.8" r="0.71" fill="rgb(144,4,4)"/><circle cx="38.4" cy="37.8" r="0.55" fill="rgb(120,3,3)"/><circle cx="42.4" cy="15.8" r="0.71" fill="rgb(76,2,2)"/><circle cx="57.0" cy="42.5" r="0.91" fill="rgb(181,5,5)"/><circle cx="39.8" cy="21.9" r="0.65" fill="rgb(174,5,5)"/><circle cx="41.1" cy="34.7" r="0.51" fill="rgb(104,3,3)"/><circle cx="58.6" cy="22.8" r="0.96" fill="rgb(219,6,6)"/><circle cx="58.5" cy="17.4" r="0.52" fill="rgb(225,7,7)"/><circle cx="35.5" cy="40.4" r="0.72" fill="rgb(163,5,5)"/><circle cx="50.6" cy="39.8" r="0.70" fill="rgb(147,4,4)"/><circle cx="40.2" cy="39.5" r="0.55" fill="rgb(118,3,3)"/><circle cx="56.2" cy="16.7" r="0.61" fill="rgb(128,4,4)"/><circle cx="56.5" cy="20.3" r="0.59" fill="rgb(98,3,3)"/><circle cx="42.2" cy="44.4" r="0.58" fill="rgb(188,5,5)"/><circle cx="60.8" cy="24.2" r="0.59" fill="rgb(119,3,3)"/><circle cx="35.6" cy="22.7" r="0.77" fill="rgb(152,4,4)"/><circle cx="39.9" cy="41.9" r="0.68" fill="rgb(67,2,2)"/><circle cx="47.1" cy="45.2" r="0.49" fill="rgb(219,6,6)"/><circle cx="62.9" cy="32.1" r="0.68" fill="rgb(96,3,3)"/><circle cx="52.0" cy="44.3" r="0.98" fill="rgb(127,3,3)"/><circle cx="40.6" cy="28.4" r="0.69" fill="rgb(79,2,2)"/><circle cx="37.6" cy="36.2" r="0.88" fill="rgb(149,4,4)"/><circle cx="44.7" cy="42.5" r="0.94" fill="rgb(172,5,5)"/><circle cx="47.5" cy="46.7" r="0.78" fill="rgb(153,4,4)"/><circle cx="55.6" cy="20.8" r="0.85" fill="rgb(148,4,4)"/><circle cx="51.4" cy="26.4" r="0.91" fill="rgb(199,6,6)"/><circle cx="59.4" cy="15.6" r="0.68" fill="rgb(159,4,4)"/><circle cx="55.7" cy="22.9" r="0.96" fill="rgb(192,6,6)"/><circle cx="58.4" cy="21.7" r="0.68" fill="rgb(227,7,7)"/><circle cx="60.2" cy="13.4" r="0.61" fill="rgb(174,5,5)"/><circle cx="59.7" cy="18.4" r="0.81" fill="rgb(121,3,3)"/><circle cx="51.3" cy="20.7" r="0.95" fill="rgb(249,7,7)"/><circle cx="56.1" cy="15.5" r="0.93" fill="rgb(243,7,7)"/><circle cx="59.7" cy="22.4" r="0.75" fill="rgb(157,4,4)"/><circle cx="56.4" cy="28.8" r="0.57" fill="rgb(192,6,6)"/><circle cx="60.4" cy="20.7" r="0.98" fill="rgb(115,3,3)"/><circle cx="62.7" cy="26.7" r="0.95" fill="rgb(185,5,5)"/><circle cx="55.1" cy="24.0" r="0.85" fill="rgb(196,6,6)"/><circle cx="50.2" cy="22.5" r="0.50" fill="rgb(169,5,5)"/><circle cx="62.4" cy="12.4" r="0.72" fill="rgb(224,7,7)"/><circle cx="59.6" cy="16.0" r="0.53" fill="rgb(129,4,4)"/><circle cx="54.3" cy="16.0" r="0.74" fill="rgb(120,3,3)"/><circle cx="59.1" cy="18.7" r="0.80" fill="rgb(202,6,6)"/><circle cx="54.3" cy="22.7" r="0.76" fill="rgb(160,5,5)"/><circle cx="58.2" cy="21.4" r="0.47" fill="rgb(240,7,7)"/><circle cx="58.6" cy="30.7" r="0.79" fill="rgb(248,7,7)"/><circle cx="53.0" cy="20.7" r="0.50" fill="rgb(201,6,6)"/><circle cx="54.0" cy="12.9" r="0.95" fill="rgb(128,4,4)"/><circle cx="52.2" cy="13.8" r="0.97" fill="rgb(149,4,4)"/><circle cx="56.8" cy="19.5" r="0.77" fill="rgb(160,5,5)"/><circle cx="53.5" cy="19.6" r="0.66" fill="rgb(163,5,5)"/><circle cx="52.0" cy="21.2" r="0.57" fill="rgb(138,4,4)"/><circle cx="43.9" cy="23.1" r="0.92" fill="rgb(135,4,4)"/><circle cx="54.5" cy="17.9" r="0.63" fill="rgb(254,7,7)"/><circle cx="55.0" cy="22.0" r="0.76" fill="rgb(197,6,6)"/><circle cx="46.3" cy="19.2" r="0.73" fill="rgb(165,5,5)"/><circle cx="57.4" cy="26.4" r="0.86" fill="rgb(185,5,5)"/><circle cx="53.6" cy="22.4" r="0.91" fill="rgb(253,7,7)"/><circle cx="50.6" cy="16.0" r="0.63" fill="rgb(136,4,4)"/><circle cx="61.2" cy="22.4" r="0.95" fill="rgb(211,6,6)"/><circle cx="52.3" cy="11.2" r="0.68" fill="rgb(174,5,5)"/><circle cx="55.5" cy="29.4" r="0.83" fill="rgb(188,5,5)"/><circle cx="57.6" cy="9.1" r="0.48" fill="rgb(145,4,4)"/><circle cx="49.8" cy="21.6" r="0.58" fill="rgb(176,5,5)"/><circle cx="54.3" cy="16.4" r="0.82" fill="rgb(123,3,3)"/><circle cx="51.1" cy="23.7" r="0.92" fill="rgb(186,5,5)"/><circle cx="53.0" cy="13.6" r="0.81" fill="rgb(178,5,5)"/><circle cx="55.1" cy="22.4" r="0.94" fill="rgb(223,7,7)"/><circle cx="52.1" cy="13.2" r="0.62" fill="rgb(139,4,4)"/><circle cx="51.6" cy="18.9" r="0.81" fill="rgb(237,7,7)"/><circle cx="53.0" cy="23.0" r="0.84" fill="rgb(238,7,7)"/><circle cx="51.1" cy="17.3" r="0.94" fill="rgb(243,7,7)"/><circle cx="66.4" cy="23.8" r="0.50" fill="rgb(192,6,6)"/><circle cx="44.9" cy="20.0" r="0.58" fill="rgb(120,3,3)"/><circle cx="60.3" cy="18.6" r="0.70" fill="rgb(174,5,5)"/><circle cx="55.8" cy="21.2" r="0.76" fill="rgb(145,4,4)"/><circle cx="42.8" cy="20.1" r="0.99" fill="rgb(157,4,4)"/><circle cx="55.0" cy="22.2" r="0.78" fill="rgb(139,4,4)"/><circle cx="62.2" cy="27.9" r="0.76" fill="rgb(239,7,7)"/><circle cx="56.5" cy="23.0" r="0.77" fill="rgb(211,6,6)"/><circle cx="46.6" cy="44.3" r="0.78" fill="rgb(152,4,4)"/><circle cx="41.9" cy="44.0" r="0.56" fill="rgb(91,2,2)"/><circle cx="52.8" cy="42.7" r="0.62" fill="rgb(179,5,5)"/><circle cx="51.8" cy="45.5" r="0.51" fill="rgb(199,6,6)"/><circle cx="33.3" cy="38.3" r="0.94" fill="rgb(78,2,2)"/><circle cx="47.6" cy="40.9" r="0.52" fill="rgb(208,6,6)"/><circle cx="48.6" cy="44.7" r="0.97" fill="rgb(183,5,5)"/><circle cx="51.2" cy="39.8" r="0.69" fill="rgb(225,7,7)"/><circle cx="45.3" cy="45.0" r="0.71" fill="rgb(159,5,5)"/><circle cx="40.2" cy="49.7" r="1.00" fill="rgb(183,5,5)"/><circle cx="31.7" cy="40.2" r="0.97" fill="rgb(83,2,2)"/><circle cx="45.8" cy="38.7" r="0.55" fill="rgb(115,3,3)"/><circle cx="40.0" cy="43.3" r="0.98" fill="rgb(99,3,3)"/><circle cx="40.4" cy="36.2" r="0.56" fill="rgb(228,7,7)"/><circle cx="48.0" cy="38.1" r="0.94" fill="rgb(145,4,4)"/><circle cx="38.7" cy="31.9" r="0.82" fill="rgb(131,4,4)"/><circle cx="49.3" cy="41.5" r="0.79" fill="rgb(118,3,3)"/><circle cx="43.2" cy="39.7" r="0.63" fill="rgb(150,4,4)"/><circle cx="36.2" cy="40.7" r="0.62" fill="rgb(119,3,3)"/><circle cx="43.6" cy="36.8" r="0.58" fill="rgb(171,5,5)"/><circle cx="40.1" cy="44.3" r="0.98" fill="rgb(225,7,7)"/><circle cx="47.4" cy="29.6" r="0.90" fill="rgb(131,4,4)"/><circle cx="46.4" cy="39.2" r="0.60" fill="rgb(153,4,4)"/><circle cx="48.9" cy="43.8" r="0.77" fill="rgb(108,3,3)"/><circle cx="43.9" cy="38.3" r="0.74" fill="rgb(118,3,3)"/><circle cx="46.6" cy="39.1" r="0.69" fill="rgb(185,5,5)"/><circle cx="40.9" cy="47.1" r="0.56" fill="rgb(88,2,2)"/><circle cx="50.4" cy="40.4" r="0.74" fill="rgb(158,4,4)"/><circle cx="33.9" cy="41.4" r="0.61" fill="rgb(98,3,3)"/><circle cx="44.1" cy="47.6" r="0.91" fill="rgb(93,2,2)"/><circle cx="63.5" cy="55.1" r="0.98" fill="rgb(87,2,2)"/><circle cx="45.3" cy="54.6" r="0.75" fill="rgb(69,2,2)"/><circle cx="45.7" cy="51.6" r="0.78" fill="rgb(96,3,3)"/><circle cx="33.6" cy="56.8" r="0.76" fill="rgb(212,6,6)"/><circle cx="46.3" cy="50.4" r="0.63" fill="rgb(184,5,5)"/><circle cx="47.5" cy="51.4" r="0.90" fill="rgb(91,2,2)"/><circle cx="36.4" cy="49.4" r="0.96" fill="rgb(69,2,2)"/><circle cx="49.7" cy="59.0" r="0.80" fill="rgb(210,6,6)"/><circle cx="41.7" cy="45.9" r="0.91" fill="rgb(123,3,3)"/><circle cx="40.0" cy="63.2" r="0.81" fill="rgb(196,6,6)"/><circle cx="53.2" cy="54.9" r="0.67" fill="rgb(61,1,1)"/><circle cx="42.9" cy="52.1" r="0.66" fill="rgb(128,4,4)"/><circle cx="45.9" cy="45.3" r="0.73" fill="rgb(154,4,4)"/><circle cx="38.5" cy="44.6" r="0.84" fill="rgb(189,5,5)"/><circle cx="47.6" cy="67.7" r="0.50" fill="rgb(183,5,5)"/><circle cx="54.5" cy="55.8" r="0.64" fill="rgb(67,2,2)"/><circle cx="46.9" cy="51.5" r="0.84" fill="rgb(52,1,1)"/><circle cx="48.4" cy="61.3" r="0.79" fill="rgb(155,4,4)"/><circle cx="40.0" cy="65.1" r="0.51" fill="rgb(72,2,2)"/><circle cx="41.1" cy="60.6" r="0.83" fill="rgb(196,6,6)"/><circle cx="42.4" cy="62.5" r="0.85" fill="rgb(66,2,2)"/><circle cx="43.0" cy="60.2" r="0.80" fill="rgb(132,4,4)"/><circle cx="49.4" cy="58.4" r="0.66" fill="rgb(53,1,1)"/><circle cx="48.5" cy="41.3" r="0.87" fill="rgb(77,2,2)"/><circle cx="45.8" cy="54.1" r="0.61" fill="rgb(83,2,2)"/><circle cx="41.1" cy="50.0" r="0.77" fill="rgb(66,2,2)"/><circle cx="37.9" cy="54.8" r="0.94" fill="rgb(104,3,3)"/><circle cx="36.4" cy="59.1" r="0.52" fill="rgb(146,4,4)"/><circle cx="55.0" cy="62.0" r="0.84" fill="rgb(51,1,1)"/><circle cx="59.6" cy="59.2" r="0.65" fill="rgb(142,4,4)"/><circle cx="42.3" cy="51.9" r="0.55" fill="rgb(167,5,5)"/><circle cx="44.1" cy="60.9" r="0.90" fill="rgb(205,6,6)"/><circle cx="45.9" cy="60.7" r="0.89" fill="rgb(118,3,3)"/><circle cx="51.2" cy="51.1" r="0.53" fill="rgb(89,2,2)"/><circle cx="52.8" cy="49.9" r="0.99" fill="rgb(184,5,5)"/><circle cx="45.5" cy="51.3" r="0.71" fill="rgb(41,1,1)"/><circle cx="45.0" cy="58.9" r="0.97" fill="rgb(66,2,2)"/><circle cx="46.3" cy="56.2" r="0.58" fill="rgb(162,5,5)"/><circle cx="41.6" cy="59.4" r="0.91" fill="rgb(162,5,5)"/><circle cx="49.1" cy="65.5" r="0.84" fill="rgb(143,4,4)"/><circle cx="34.8" cy="54.9" r="0.80" fill="rgb(49,1,1)"/><circle cx="51.3" cy="46.9" r="0.63" fill="rgb(176,5,5)"/><circle cx="55.1" cy="50.6" r="0.74" fill="rgb(185,5,5)"/><circle cx="48.6" cy="56.0" r="0.70" fill="rgb(130,4,4)"/><circle cx="42.0" cy="47.6" r="0.76" fill="rgb(104,3,3)"/><circle cx="46.3" cy="46.7" r="0.60" fill="rgb(141,4,4)"/><circle cx="37.6" cy="58.0" r="0.85" fill="rgb(214,6,6)"/><circle cx="47.6" cy="47.2" r="0.84" fill="rgb(90,2,2)"/><circle cx="31.1" cy="48.4" r="0.56" fill="rgb(114,3,3)"/><circle cx="39.1" cy="59.3" r="0.59" fill="rgb(160,5,5)"/><circle cx="57.8" cy="65.8" r="0.54" fill="rgb(153,4,4)"/><circle cx="46.9" cy="46.7" r="0.63" fill="rgb(102,3,3)"/><circle cx="51.8" cy="50.5" r="0.78" fill="rgb(208,6,6)"/><circle cx="37.0" cy="56.2" r="0.80" fill="rgb(186,5,5)"/><circle cx="44.9" cy="52.6" r="0.61" fill="rgb(87,2,2)"/><circle cx="48.3" cy="63.6" r="0.71" fill="rgb(103,3,3)"/><circle cx="63.0" cy="57.4" r="0.74" fill="rgb(75,2,2)"/><circle cx="45.7" cy="52.6" r="0.57" fill="rgb(206,6,6)"/><circle cx="44.4" cy="49.7" r="0.57" fill="rgb(167,5,5)"/><circle cx="47.3" cy="60.8" r="0.64" fill="rgb(150,4,4)"/><circle cx="47.1" cy="57.2" r="0.92" fill="rgb(132,4,4)"/><circle cx="48.4" cy="56.7" r="0.96" fill="rgb(129,4,4)"/><circle cx="35.8" cy="50.7" r="0.51" fill="rgb(57,1,1)"/><circle cx="49.3" cy="64.7" r="0.56" fill="rgb(138,4,4)"/><circle cx="48.5" cy="48.7" r="0.83" fill="rgb(45,1,1)"/><circle cx="41.7" cy="55.7" r="0.84" fill="rgb(108,3,3)"/><circle cx="40.8" cy="43.2" r="0.97" fill="rgb(183,5,5)"/><circle cx="43.2" cy="39.0" r="0.71" fill="rgb(41,1,1)"/><circle cx="48.8" cy="49.2" r="0.67" fill="rgb(207,6,6)"/><circle cx="44.6" cy="57.0" r="0.95" fill="rgb(38,1,1)"/><circle cx="55.1" cy="58.2" r="0.59" fill="rgb(167,5,5)"/><circle cx="51.6" cy="55.1" r="0.70" fill="rgb(150,4,4)"/><circle cx="46.7" cy="45.2" r="0.60" fill="rgb(190,5,5)"/><circle cx="52.6" cy="57.3" r="0.53" fill="rgb(175,5,5)"/><circle cx="41.2" cy="56.2" r="0.97" fill="rgb(81,2,2)"/><circle cx="42.2" cy="46.7" r="0.54" fill="rgb(175,5,5)"/><circle cx="42.2" cy="63.9" r="0.88" fill="rgb(98,3,3)"/><circle cx="42.5" cy="59.1" r="0.55" fill="rgb(139,4,4)"/><circle cx="44.9" cy="38.7" r="0.72" fill="rgb(136,4,4)"/><circle cx="41.0" cy="46.5" r="0.83" fill="rgb(209,6,6)"/><circle cx="29.3" cy="76.7" r="0.65" fill="rgb(109,3,3)"/><circle cx="9.0" cy="60.5" r="0.68" fill="rgb(79,2,2)"/><circle cx="32.0" cy="73.6" r="0.82" fill="rgb(71,2,2)"/><circle cx="21.4" cy="72.8" r="0.63" fill="rgb(115,3,3)"/><circle cx="9.8" cy="75.9" r="0.71" fill="rgb(94,2,2)"/><circle cx="29.8" cy="51.8" r="0.69" fill="rgb(88,2,2)"/><circle cx="30.9" cy="60.0" r="0.88" fill="rgb(151,4,4)"/><circle cx="7.4" cy="63.1" r="0.67" fill="rgb(48,1,1)"/><circle cx="30.3" cy="71.4" r="0.89" fill="rgb(100,3,3)"/><circle cx="8.3" cy="65.6" r="0.83" fill="rgb(66,2,2)"/><circle cx="26.8" cy="59.4" r="0.62" fill="rgb(175,5,5)"/><circle cx="25.0" cy="76.9" r="0.80" fill="rgb(152,4,4)"/><circle cx="10.4" cy="68.8" r="0.49" fill="rgb(142,4,4)"/><circle cx="24.6" cy="56.4" r="0.71" fill="rgb(172,5,5)"/><circle cx="24.5" cy="52.7" r="0.88" fill="rgb(145,4,4)"/><circle cx="13.1" cy="57.0" r="0.60" fill="rgb(93,2,2)"/><circle cx="29.1" cy="55.7" r="0.87" fill="rgb(72,2,2)"/><circle cx="14.6" cy="52.6" r="0.80" fill="rgb(42,1,1)"/><circle cx="8.7" cy="71.2" r="0.79" fill="rgb(49,1,1)"/><circle cx="16.7" cy="44.1" r="0.83" fill="rgb(159,5,5)"/><circle cx="5.2" cy="70.2" r="0.56" fill="rgb(175,5,5)"/><circle cx="8.6" cy="76.0" r="0.58" fill="rgb(110,3,3)"/><circle cx="20.5" cy="70.7" r="0.61" fill="rgb(145,4,4)"/><circle cx="28.0" cy="65.7" r="0.47" fill="rgb(94,2,2)"/><circle cx="10.6" cy="77.8" r="0.64" fill="rgb(160,5,5)"/><circle cx="16.5" cy="51.3" r="0.54" fill="rgb(135,4,4)"/><circle cx="7.0" cy="59.1" r="0.69" fill="rgb(171,5,5)"/><circle cx="29.0" cy="44.5" r="0.61" fill="rgb(91,2,2)"/><circle cx="27.3" cy="45.8" r="0.76" fill="rgb(70,2,2)"/><circle cx="22.2" cy="55.1" r="0.53" fill="rgb(156,4,4)"/><circle cx="29.2" cy="54.9" r="0.62" fill="rgb(57,1,1)"/><circle cx="14.5" cy="56.9" r="0.50" fill="rgb(166,5,5)"/><circle cx="17.4" cy="51.3" r="0.57" fill="rgb(50,1,1)"/><circle cx="18.2" cy="56.9" r="0.81" fill="rgb(75,2,2)"/><circle cx="10.5" cy="48.1" r="0.77" fill="rgb(49,1,1)"/><circle cx="8.6" cy="45.0" r="0.69" fill="rgb(76,2,2)"/><circle cx="26.4" cy="55.1" r="0.83" fill="rgb(62,1,1)"/><circle cx="15.4" cy="69.8" r="0.84" fill="rgb(149,4,4)"/><circle cx="24.4" cy="59.7" r="0.64" fill="rgb(167,5,5)"/><circle cx="14.0" cy="56.8" r="0.76" fill="rgb(108,3,3)"/><circle cx="31.2" cy="53.9" r="0.82" fill="rgb(139,4,4)"/><circle cx="8.1" cy="74.9" r="0.76" fill="rgb(167,5,5)"/><circle cx="19.7" cy="73.7" r="0.69" fill="rgb(163,5,5)"/><circle cx="28.0" cy="49.1" r="0.85" fill="rgb(50,1,1)"/><circle cx="19.3" cy="54.4" r="0.65" fill="rgb(69,2,2)"/><circle cx="13.1" cy="68.6" r="0.63" fill="rgb(104,3,3)"/><circle cx="8.5" cy="47.8" r="0.76" fill="rgb(87,2,2)"/><circle cx="21.0" cy="74.7" r="0.49" fill="rgb(65,2,2)"/><circle cx="29.3" cy="66.7" r="0.81" fill="rgb(48,1,1)"/><circle cx="16.9" cy="72.7" r="0.89" fill="rgb(134,4,4)"/><circle cx="33.1" cy="54.3" r="0.75" fill="rgb(168,5,5)"/><circle cx="8.9" cy="64.0" r="0.59" fill="rgb(105,3,3)"/><circle cx="30.4" cy="57.7" r="0.50" fill="rgb(103,3,3)"/><circle cx="21.6" cy="51.9" r="0.81" fill="rgb(71,2,2)"/><circle cx="18.3" cy="62.1" r="0.46" fill="rgb(162,5,5)"/><circle cx="31.4" cy="80.0" r="1.05" fill="rgb(213,6,6)"/><circle cx="29.6" cy="79.7" r="0.91" fill="rgb(116,3,3)"/><circle cx="33.1" cy="82.2" r="0.53" fill="rgb(183,5,5)"/><circle cx="25.4" cy="80.8" r="0.88" fill="rgb(208,6,6)"/><circle cx="31.8" cy="78.9" r="0.94" fill="rgb(107,3,3)"/><circle cx="40.1" cy="81.1" r="0.76" fill="rgb(197,6,6)"/><circle cx="30.4" cy="83.1" r="0.88" fill="rgb(248,7,7)"/><circle cx="26.0" cy="78.1" r="0.73" fill="rgb(247,7,7)"/><circle cx="40.8" cy="79.4" r="0.55" fill="rgb(238,7,7)"/><circle cx="29.4" cy="80.5" r="0.99" fill="rgb(180,5,5)"/><circle cx="36.8" cy="78.0" r="0.60" fill="rgb(243,7,7)"/><circle cx="35.0" cy="86.1" r="0.64" fill="rgb(88,2,2)"/><circle cx="29.4" cy="82.1" r="0.56" fill="rgb(225,7,7)"/><circle cx="28.4" cy="80.2" r="0.59" fill="rgb(138,4,4)"/><circle cx="33.6" cy="77.2" r="0.74" fill="rgb(136,4,4)"/><circle cx="38.2" cy="79.7" r="0.63" fill="rgb(196,6,6)"/><circle cx="29.5" cy="77.8" r="0.66" fill="rgb(158,4,4)"/><circle cx="33.2" cy="82.8" r="0.79" fill="rgb(191,5,5)"/><circle cx="24.3" cy="82.0" r="0.68" fill="rgb(199,6,6)"/><circle cx="37.1" cy="76.9" r="0.59" fill="rgb(249,7,7)"/><circle cx="34.5" cy="82.8" r="0.86" fill="rgb(129,4,4)"/><circle cx="32.7" cy="83.7" r="0.98" fill="rgb(82,2,2)"/><circle cx="28.1" cy="91.6" r="0.58" fill="rgb(201,6,6)"/><circle cx="31.2" cy="79.6" r="0.87" fill="rgb(105,3,3)"/><circle cx="38.2" cy="76.1" r="0.92" fill="rgb(83,2,2)"/><circle cx="32.8" cy="83.8" r="1.09" fill="rgb(79,2,2)"/><circle cx="35.2" cy="73.6" r="1.06" fill="rgb(116,3,3)"/><circle cx="35.6" cy="80.8" r="0.76" fill="rgb(209,6,6)"/><circle cx="31.0" cy="82.9" r="0.87" fill="rgb(146,4,4)"/><circle cx="38.7" cy="76.6" r="0.55" fill="rgb(223,7,7)"/><circle cx="34.7" cy="84.4" r="1.09" fill="rgb(245,7,7)"/><circle cx="25.6" cy="78.7" r="0.86" fill="rgb(121,3,3)"/><circle cx="27.4" cy="81.6" r="0.57" fill="rgb(135,4,4)"/><circle cx="34.5" cy="77.0" r="0.54" fill="rgb(100,3,3)"/><circle cx="36.3" cy="81.7" r="1.03" fill="rgb(208,6,6)"/><circle cx="33.1" cy="84.7" r="0.73" fill="rgb(99,3,3)"/><circle cx="39.1" cy="91.9" r="0.80" fill="rgb(226,7,7)"/><circle cx="34.9" cy="79.7" r="0.95" fill="rgb(221,6,6)"/><circle cx="37.7" cy="83.6" r="0.73" fill="rgb(175,5,5)"/><circle cx="29.4" cy="80.6" r="1.04" fill="rgb(251,7,7)"/><circle cx="24.7" cy="83.2" r="0.64" fill="rgb(238,7,7)"/><circle cx="40.9" cy="83.6" r="0.85" fill="rgb(199,6,6)"/><circle cx="32.1" cy="86.9" r="0.77" fill="rgb(116,3,3)"/><circle cx="27.9" cy="84.1" r="1.09" fill="rgb(232,7,7)"/><circle cx="32.3" cy="78.3" r="0.92" fill="rgb(118,3,3)"/><circle cx="28.4" cy="86.8" r="0.69" fill="rgb(86,2,2)"/><circle cx="35.1" cy="82.3" r="0.93" fill="rgb(86,2,2)"/><circle cx="36.1" cy="78.6" r="0.81" fill="rgb(143,4,4)"/><circle cx="33.9" cy="76.3" r="0.89" fill="rgb(174,5,5)"/><circle cx="33.3" cy="86.4" r="0.77" fill="rgb(167,5,5)"/><circle cx="39.6" cy="81.2" r="0.99" fill="rgb(161,5,5)"/><circle cx="25.8" cy="85.1" r="0.65" fill="rgb(213,6,6)"/><circle cx="33.5" cy="79.4" r="0.61" fill="rgb(232,7,7)"/><circle cx="38.1" cy="79.8" r="0.61" fill="rgb(113,3,3)"/><circle cx="31.0" cy="81.0" r="0.53" fill="rgb(192,6,6)"/><circle cx="35.4" cy="81.1" r="1.06" fill="rgb(83,2,2)"/><circle cx="34.7" cy="83.8" r="0.78" fill="rgb(130,4,4)"/><circle cx="30.9" cy="82.2" r="0.81" fill="rgb(203,6,6)"/><circle cx="31.9" cy="83.8" r="0.92" fill="rgb(202,6,6)"/><circle cx="33.8" cy="70.6" r="0.71" fill="rgb(182,5,5)"/><circle cx="30.0" cy="80.1" r="0.77" fill="rgb(154,4,4)"/><circle cx="30.2" cy="84.3" r="0.97" fill="rgb(188,5,5)"/><circle cx="41.6" cy="77.4" r="0.69" fill="rgb(120,3,3)"/><circle cx="24.3" cy="80.8" r="0.58" fill="rgb(143,4,4)"/><circle cx="32.0" cy="82.1" r="1.02" fill="rgb(228,7,7)"/><circle cx="15.4" cy="74.5" r="0.54" fill="rgb(53,1,1)"/><circle cx="16.6" cy="60.8" r="0.62" fill="rgb(152,4,4)"/><circle cx="20.3" cy="56.4" r="0.84" fill="rgb(83,2,2)"/><circle cx="26.4" cy="56.0" r="0.71" fill="rgb(74,2,2)"/><circle cx="10.0" cy="67.9" r="0.87" fill="rgb(82,2,2)"/><circle cx="12.5" cy="54.4" r="0.87" fill="rgb(61,1,1)"/><circle cx="16.2" cy="65.5" r="0.80" fill="rgb(146,4,4)"/><circle cx="25.7" cy="62.5" r="0.77" fill="rgb(41,1,1)"/><circle cx="21.2" cy="71.6" r="0.69" fill="rgb(109,3,3)"/><circle cx="12.9" cy="61.9" r="0.75" fill="rgb(44,1,1)"/><circle cx="20.5" cy="63.3" r="0.46" fill="rgb(122,3,3)"/><circle cx="29.9" cy="65.1" r="0.62" fill="rgb(114,3,3)"/><circle cx="27.1" cy="59.9" r="0.80" fill="rgb(67,2,2)"/><circle cx="14.8" cy="67.8" r="0.55" fill="rgb(100,3,3)"/><circle cx="16.3" cy="69.5" r="0.46" fill="rgb(109,3,3)"/><circle cx="16.9" cy="68.2" r="0.84" fill="rgb(134,4,4)"/><circle cx="21.3" cy="77.1" r="0.81" fill="rgb(46,1,1)"/><circle cx="22.1" cy="66.2" r="0.86" fill="rgb(139,4,4)"/><circle cx="11.9" cy="62.3" r="0.89" fill="rgb(110,3,3)"/><circle cx="24.0" cy="65.9" r="0.56" fill="rgb(123,3,3)"/><circle cx="18.8" cy="73.5" r="0.47" fill="rgb(144,4,4)"/><circle cx="22.5" cy="67.6" r="0.79" fill="rgb(40,1,1)"/><circle cx="26.4" cy="70.0" r="0.83" fill="rgb(38,1,1)"/><circle cx="25.3" cy="71.3" r="0.58" fill="rgb(149,4,4)"/><circle cx="18.0" cy="69.4" r="0.75" fill="rgb(42,1,1)"/><circle cx="71.3" cy="66.6" r="1.40" fill="rgb(229,7,7)"/><circle cx="73.6" cy="9.7" r="0.90" fill="rgb(153,4,4)"/><circle cx="85.5" cy="1.0" r="1.00" fill="rgb(204,6,6)"/></g></g>
<g style="mix-blend-mode:screen"><g filter="url(#bl1)"><circle cx="56.9" cy="38.9" r="0.87" fill="rgb(3,4,49)"/><circle cx="46.6" cy="40.7" r="0.77" fill="rgb(6,8,84)"/><circle cx="42.8" cy="43.1" r="0.79" fill="rgb(2,3,36)"/><circle cx="48.9" cy="42.0" r="0.85" fill="rgb(4,5,57)"/><circle cx="46.0" cy="46.4" r="0.47" fill="rgb(5,7,74)"/><circle cx="41.9" cy="22.5" r="0.48" fill="rgb(6,8,83)"/><circle cx="56.5" cy="40.3" r="0.50" fill="rgb(8,11,112)"/><circle cx="34.6" cy="39.6" r="0.90" fill="rgb(5,6,64)"/><circle cx="33.5" cy="20.2" r="0.46" fill="rgb(6,7,78)"/><circle cx="39.9" cy="23.1" r="0.49" fill="rgb(2,3,33)"/><circle cx="55.5" cy="22.5" r="0.63" fill="rgb(3,4,44)"/><circle cx="51.1" cy="17.8" r="0.65" fill="rgb(2,3,34)"/><circle cx="53.7" cy="16.3" r="0.41" fill="rgb(7,8,91)"/><circle cx="58.6" cy="41.1" r="0.66" fill="rgb(2,3,33)"/><circle cx="34.6" cy="32.5" r="0.63" fill="rgb(5,6,68)"/><circle cx="37.3" cy="35.0" r="0.70" fill="rgb(2,3,33)"/><circle cx="32.7" cy="33.3" r="0.87" fill="rgb(2,3,31)"/><circle cx="59.5" cy="46.8" r="0.75" fill="rgb(6,7,76)"/><circle cx="58.8" cy="32.4" r="0.61" fill="rgb(4,5,56)"/><circle cx="40.7" cy="28.1" r="0.87" fill="rgb(3,4,49)"/><circle cx="42.0" cy="45.8" r="0.63" fill="rgb(3,4,48)"/><circle cx="33.3" cy="42.7" r="0.42" fill="rgb(4,5,53)"/><circle cx="58.8" cy="29.7" r="0.87" fill="rgb(4,5,57)"/><circle cx="46.9" cy="43.7" r="0.42" fill="rgb(3,3,38)"/><circle cx="51.7" cy="45.0" r="0.53" fill="rgb(3,4,47)"/><circle cx="30.9" cy="18.7" r="0.86" fill="rgb(4,5,51)"/><circle cx="47.8" cy="19.7" r="0.70" fill="rgb(8,10,109)"/><circle cx="47.8" cy="14.1" r="0.65" fill="rgb(7,9,100)"/><circle cx="41.5" cy="37.1" r="0.67" fill="rgb(7,9,94)"/><circle cx="39.4" cy="48.6" r="0.86" fill="rgb(6,7,80)"/><circle cx="47.3" cy="48.2" r="0.57" fill="rgb(3,4,48)"/><circle cx="57.0" cy="38.6" r="0.50" fill="rgb(6,8,87)"/><circle cx="55.8" cy="41.7" r="0.67" fill="rgb(4,5,59)"/><circle cx="50.8" cy="14.1" r="0.53" fill="rgb(4,5,58)"/><circle cx="33.2" cy="38.0" r="0.47" fill="rgb(7,8,90)"/><circle cx="56.4" cy="43.4" r="0.73" fill="rgb(3,4,45)"/><circle cx="39.5" cy="21.1" r="0.87" fill="rgb(6,8,84)"/><circle cx="36.1" cy="26.9" r="0.42" fill="rgb(4,6,61)"/><circle cx="46.3" cy="37.9" r="0.83" fill="rgb(2,3,31)"/><circle cx="40.5" cy="17.1" r="0.87" fill="rgb(5,7,73)"/><circle cx="60.3" cy="40.2" r="0.89" fill="rgb(8,10,103)"/><circle cx="52.5" cy="20.8" r="0.87" fill="rgb(2,3,31)"/><circle cx="50.6" cy="18.1" r="0.59" fill="rgb(6,7,78)"/><circle cx="62.6" cy="31.5" r="0.62" fill="rgb(7,9,95)"/><circle cx="35.5" cy="31.3" r="0.89" fill="rgb(3,4,47)"/><circle cx="41.3" cy="18.7" r="0.72" fill="rgb(2,2,25)"/><circle cx="61.8" cy="30.7" r="0.86" fill="rgb(8,10,105)"/><circle cx="61.2" cy="12.7" r="0.60" fill="rgb(5,6,65)"/><circle cx="38.7" cy="43.1" r="0.47" fill="rgb(8,10,110)"/><circle cx="51.8" cy="18.1" r="0.75" fill="rgb(8,10,111)"/><circle cx="31.5" cy="28.7" r="0.85" fill="rgb(2,3,31)"/><circle cx="36.7" cy="35.2" r="0.69" fill="rgb(7,9,96)"/><circle cx="37.6" cy="36.0" r="0.61" fill="rgb(3,4,43)"/><circle cx="53.6" cy="32.3" r="0.83" fill="rgb(5,6,67)"/><circle cx="37.5" cy="39.1" r="0.51" fill="rgb(3,4,46)"/><circle cx="46.6" cy="44.8" r="0.83" fill="rgb(3,4,47)"/><circle cx="61.0" cy="40.0" r="0.41" fill="rgb(6,8,85)"/><circle cx="42.7" cy="20.8" r="0.72" fill="rgb(7,9,94)"/><circle cx="33.9" cy="37.8" r="0.71" fill="rgb(6,8,88)"/><circle cx="54.7" cy="48.4" r="0.59" fill="rgb(6,8,87)"/><circle cx="38.6" cy="38.4" r="0.78" fill="rgb(4,5,56)"/><circle cx="35.1" cy="31.2" r="0.81" fill="rgb(4,5,53)"/><circle cx="52.8" cy="42.5" r="0.83" fill="rgb(3,4,50)"/><circle cx="57.5" cy="23.8" r="0.67" fill="rgb(3,3,39)"/><circle cx="34.6" cy="29.3" r="0.72" fill="rgb(4,5,58)"/><circle cx="57.4" cy="28.3" r="0.49" fill="rgb(7,9,96)"/><circle cx="59.7" cy="32.9" r="0.47" fill="rgb(6,7,78)"/><circle cx="58.5" cy="23.1" r="0.55" fill="rgb(4,6,61)"/><circle cx="35.4" cy="32.8" r="0.58" fill="rgb(7,9,101)"/><circle cx="35.5" cy="26.8" r="0.58" fill="rgb(7,9,98)"/><circle cx="60.5" cy="30.9" r="0.55" fill="rgb(8,10,105)"/><circle cx="53.7" cy="43.5" r="0.50" fill="rgb(7,9,96)"/><circle cx="58.5" cy="41.1" r="0.59" fill="rgb(6,7,78)"/><circle cx="56.3" cy="38.9" r="0.79" fill="rgb(5,6,64)"/><circle cx="48.8" cy="17.0" r="0.81" fill="rgb(7,9,98)"/><circle cx="47.7" cy="43.8" r="0.70" fill="rgb(3,4,43)"/><circle cx="33.4" cy="27.6" r="0.67" fill="rgb(2,3,37)"/><circle cx="54.2" cy="22.7" r="0.71" fill="rgb(7,9,99)"/><circle cx="59.2" cy="37.8" r="0.68" fill="rgb(3,4,46)"/><circle cx="57.3" cy="23.7" r="0.45" fill="rgb(5,6,67)"/><circle cx="34.1" cy="33.4" r="0.73" fill="rgb(8,11,112)"/><circle cx="37.5" cy="42.3" r="0.85" fill="rgb(4,5,55)"/><circle cx="46.1" cy="37.0" r="0.79" fill="rgb(6,8,81)"/><circle cx="62.8" cy="35.0" r="0.63" fill="rgb(2,2,26)"/><circle cx="58.4" cy="35.7" r="0.45" fill="rgb(5,6,71)"/><circle cx="50.2" cy="15.7" r="0.86" fill="rgb(8,10,107)"/><circle cx="31.4" cy="38.8" r="0.61" fill="rgb(4,5,56)"/><circle cx="56.5" cy="12.1" r="0.68" fill="rgb(8,10,110)"/><circle cx="42.3" cy="16.1" r="0.87" fill="rgb(5,7,73)"/><circle cx="42.6" cy="18.3" r="0.55" fill="rgb(3,4,47)"/><circle cx="41.9" cy="48.0" r="0.46" fill="rgb(3,4,47)"/><circle cx="33.1" cy="15.5" r="0.50" fill="rgb(3,4,44)"/><circle cx="46.7" cy="45.0" r="0.77" fill="rgb(6,8,84)"/><circle cx="41.7" cy="44.4" r="0.85" fill="rgb(5,7,75)"/><circle cx="50.0" cy="46.9" r="0.80" fill="rgb(7,9,98)"/><circle cx="60.5" cy="31.2" r="0.82" fill="rgb(4,6,63)"/><circle cx="29.8" cy="30.8" r="0.52" fill="rgb(2,2,29)"/><circle cx="56.7" cy="22.5" r="0.63" fill="rgb(6,8,88)"/><circle cx="33.6" cy="14.6" r="0.87" fill="rgb(5,6,70)"/><circle cx="58.1" cy="24.0" r="0.55" fill="rgb(2,3,36)"/><circle cx="32.8" cy="14.0" r="0.56" fill="rgb(4,6,63)"/><circle cx="43.1" cy="46.0" r="0.56" fill="rgb(5,7,73)"/><circle cx="52.3" cy="15.0" r="0.52" fill="rgb(8,10,111)"/><circle cx="33.8" cy="36.3" r="0.62" fill="rgb(8,10,109)"/><circle cx="38.1" cy="38.6" r="0.52" fill="rgb(6,8,88)"/><circle cx="43.3" cy="46.6" r="0.65" fill="rgb(6,7,76)"/><circle cx="48.4" cy="17.3" r="0.87" fill="rgb(8,10,109)"/><circle cx="56.7" cy="27.0" r="0.76" fill="rgb(5,6,66)"/><circle cx="36.7" cy="43.5" r="0.77" fill="rgb(4,5,60)"/><circle cx="39.5" cy="39.5" r="0.41" fill="rgb(7,8,90)"/><circle cx="11.3" cy="64.3" r="0.76" fill="rgb(6,7,77)"/><circle cx="32.2" cy="70.9" r="0.52" fill="rgb(6,8,84)"/><circle cx="3.7" cy="61.1" r="0.86" fill="rgb(6,7,78)"/><circle cx="21.0" cy="78.9" r="0.49" fill="rgb(1,2,23)"/><circle cx="11.5" cy="81.3" r="0.42" fill="rgb(3,4,42)"/><circle cx="18.3" cy="53.0" r="0.84" fill="rgb(2,2,27)"/><circle cx="4.7" cy="83.9" r="0.41" fill="rgb(2,3,35)"/><circle cx="15.1" cy="79.3" r="0.57" fill="rgb(4,5,59)"/><circle cx="27.7" cy="69.1" r="0.82" fill="rgb(1,2,21)"/><circle cx="19.3" cy="45.8" r="0.83" fill="rgb(1,2,22)"/><circle cx="5.0" cy="61.7" r="0.71" fill="rgb(1,2,21)"/><circle cx="22.5" cy="49.0" r="0.56" fill="rgb(1,2,23)"/><circle cx="25.3" cy="77.4" r="0.78" fill="rgb(3,4,42)"/><circle cx="10.0" cy="82.5" r="0.81" fill="rgb(6,8,87)"/><circle cx="15.3" cy="79.3" r="0.74" fill="rgb(5,7,74)"/><circle cx="18.4" cy="75.6" r="0.65" fill="rgb(3,3,39)"/><circle cx="17.3" cy="46.6" r="0.74" fill="rgb(3,4,43)"/><circle cx="7.8" cy="75.9" r="0.66" fill="rgb(3,4,42)"/><circle cx="31.5" cy="81.6" r="0.61" fill="rgb(4,5,58)"/><circle cx="2.0" cy="58.9" r="0.89" fill="rgb(4,5,55)"/><circle cx="33.8" cy="46.1" r="0.41" fill="rgb(1,2,24)"/><circle cx="4.4" cy="74.4" r="0.89" fill="rgb(5,7,72)"/><circle cx="21.4" cy="59.9" r="0.59" fill="rgb(2,2,29)"/><circle cx="14.7" cy="49.7" r="0.80" fill="rgb(4,5,57)"/><circle cx="14.1" cy="78.2" r="0.55" fill="rgb(6,7,80)"/><circle cx="25.0" cy="69.5" r="0.70" fill="rgb(5,6,63)"/><circle cx="30.9" cy="83.8" r="0.68" fill="rgb(6,8,86)"/><circle cx="9.8" cy="81.1" r="0.84" fill="rgb(5,6,64)"/><circle cx="5.5" cy="79.6" r="0.59" fill="rgb(3,4,43)"/><circle cx="32.4" cy="48.4" r="0.72" fill="rgb(2,3,35)"/><circle cx="29.8" cy="53.4" r="0.45" fill="rgb(4,5,53)"/><circle cx="16.6" cy="74.3" r="0.54" fill="rgb(3,3,40)"/><circle cx="11.4" cy="66.5" r="0.47" fill="rgb(4,5,59)"/><circle cx="28.3" cy="71.8" r="0.53" fill="rgb(4,5,53)"/><circle cx="5.0" cy="63.4" r="0.78" fill="rgb(1,2,20)"/><circle cx="22.7" cy="80.9" r="0.54" fill="rgb(3,4,42)"/><circle cx="23.8" cy="51.1" r="0.53" fill="rgb(4,6,62)"/><circle cx="18.6" cy="51.5" r="0.50" fill="rgb(4,5,54)"/><circle cx="29.8" cy="52.8" r="0.74" fill="rgb(4,5,56)"/><circle cx="10.9" cy="61.1" r="0.81" fill="rgb(2,2,27)"/><circle cx="19.5" cy="63.7" r="0.46" fill="rgb(3,4,48)"/><circle cx="7.4" cy="60.7" r="0.42" fill="rgb(4,5,59)"/><circle cx="27.7" cy="79.1" r="0.87" fill="rgb(2,3,37)"/><circle cx="27.6" cy="59.0" r="0.76" fill="rgb(4,5,52)"/><circle cx="25.8" cy="60.6" r="0.88" fill="rgb(4,5,52)"/><circle cx="27.6" cy="52.0" r="0.76" fill="rgb(2,3,34)"/><circle cx="15.1" cy="59.8" r="0.73" fill="rgb(4,5,60)"/><circle cx="10.8" cy="81.4" r="0.42" fill="rgb(4,5,53)"/><circle cx="6.2" cy="49.2" r="0.51" fill="rgb(6,8,85)"/><circle cx="2.7" cy="73.1" r="0.69" fill="rgb(6,7,77)"/><circle cx="29.2" cy="49.8" r="0.86" fill="rgb(2,2,30)"/><circle cx="5.8" cy="54.3" r="0.75" fill="rgb(4,5,59)"/><circle cx="24.1" cy="53.4" r="0.64" fill="rgb(3,4,42)"/><circle cx="32.8" cy="67.2" r="0.75" fill="rgb(4,5,51)"/><circle cx="5.7" cy="48.8" r="0.51" fill="rgb(5,6,71)"/><circle cx="8.5" cy="63.7" r="0.57" fill="rgb(2,2,29)"/><circle cx="13.8" cy="64.1" r="0.86" fill="rgb(5,7,74)"/><circle cx="15.9" cy="56.4" r="0.52" fill="rgb(3,4,44)"/><circle cx="19.0" cy="82.8" r="0.44" fill="rgb(2,3,33)"/><circle cx="14.7" cy="67.0" r="0.43" fill="rgb(1,2,21)"/><circle cx="19.7" cy="45.7" r="0.81" fill="rgb(5,6,66)"/><circle cx="17.0" cy="83.9" r="0.64" fill="rgb(6,8,85)"/><circle cx="9.0" cy="48.0" r="0.61" fill="rgb(4,5,56)"/><circle cx="23.3" cy="49.9" r="0.75" fill="rgb(3,3,40)"/><circle cx="32.3" cy="76.1" r="0.79" fill="rgb(1,2,23)"/><circle cx="3.9" cy="46.3" r="0.62" fill="rgb(1,2,22)"/><circle cx="6.6" cy="47.3" r="0.90" fill="rgb(4,5,52)"/><circle cx="10.4" cy="50.9" r="0.54" fill="rgb(2,2,27)"/><circle cx="27.5" cy="81.0" r="0.81" fill="rgb(2,2,25)"/><circle cx="21.4" cy="78.3" r="0.60" fill="rgb(5,7,74)"/><circle cx="53.0" cy="55.6" r="0.77" fill="rgb(4,5,52)"/><circle cx="57.7" cy="64.4" r="0.81" fill="rgb(3,4,43)"/><circle cx="46.6" cy="51.4" r="0.71" fill="rgb(5,6,70)"/><circle cx="42.6" cy="51.2" r="0.81" fill="rgb(4,5,51)"/><circle cx="49.6" cy="56.5" r="0.47" fill="rgb(5,7,75)"/><circle cx="58.9" cy="61.1" r="0.69" fill="rgb(2,2,29)"/><circle cx="61.3" cy="48.8" r="0.52" fill="rgb(4,6,61)"/><circle cx="47.3" cy="58.2" r="0.44" fill="rgb(6,8,81)"/><circle cx="47.6" cy="59.0" r="0.49" fill="rgb(3,4,43)"/><circle cx="50.2" cy="53.6" r="0.49" fill="rgb(2,2,29)"/><circle cx="46.4" cy="52.3" r="0.81" fill="rgb(6,8,85)"/><circle cx="46.1" cy="61.6" r="0.80" fill="rgb(4,5,56)"/><circle cx="42.5" cy="67.2" r="0.90" fill="rgb(3,3,40)"/><circle cx="47.8" cy="53.6" r="0.81" fill="rgb(3,4,47)"/><circle cx="48.1" cy="54.9" r="0.50" fill="rgb(4,5,51)"/><circle cx="38.4" cy="54.7" r="0.47" fill="rgb(2,2,29)"/><circle cx="47.1" cy="57.7" r="0.87" fill="rgb(4,5,58)"/><circle cx="48.3" cy="60.1" r="0.53" fill="rgb(4,5,54)"/><circle cx="43.9" cy="62.6" r="0.51" fill="rgb(5,6,69)"/><circle cx="54.2" cy="49.8" r="0.44" fill="rgb(4,5,56)"/><circle cx="47.8" cy="52.9" r="0.87" fill="rgb(2,3,32)"/><circle cx="47.5" cy="55.5" r="0.83" fill="rgb(2,2,27)"/><circle cx="40.4" cy="56.5" r="0.64" fill="rgb(6,8,88)"/><circle cx="46.6" cy="54.7" r="0.60" fill="rgb(2,3,35)"/><circle cx="49.8" cy="52.3" r="0.73" fill="rgb(4,5,53)"/><ellipse cx="32.5" cy="53.6" rx="7.0" ry="6.3" fill="rgb(25,45,235)"/><ellipse cx="33" cy="53.4" rx="4.2" ry="3.8" fill="none" stroke="rgb(70,100,255)" stroke-width="0.7"/><circle cx="41.7" cy="60.7" r="1.50" fill="rgb(18,22,229)"/></g></g>
</g>
<rect x="79.5" y="83.6" width="4.5" height="0.6" fill="#ccc"/>
</g>
<g transform="translate(424.4,459.0)" clip-path="url(#cp)">
<rect x="0" y="0" width="86.0" height="86.0" fill="#000"/>
<g clip-path="url(#cp)">
<g><g filter="url(#bl2)"><circle cx="-1.7" cy="3.2" r="0.59" fill="rgb(201,6,6)"/><circle cx="42.7" cy="2.6" r="1.03" fill="rgb(155,4,4)"/><circle cx="2.7" cy="8.4" r="0.70" fill="rgb(159,4,4)"/><circle cx="36.6" cy="12.6" r="0.66" fill="rgb(85,2,2)"/><circle cx="0.8" cy="8.8" r="0.63" fill="rgb(192,6,6)"/><circle cx="22.8" cy="13.0" r="0.64" fill="rgb(120,3,3)"/><circle cx="29.8" cy="18.2" r="0.72" fill="rgb(138,4,4)"/><circle cx="2.1" cy="4.9" r="0.89" fill="rgb(112,3,3)"/><circle cx="1.0" cy="8.4" r="1.07" fill="rgb(53,1,1)"/><circle cx="41.3" cy="7.7" r="0.60" fill="rgb(194,6,6)"/><circle cx="12.0" cy="13.1" r="0.80" fill="rgb(186,5,5)"/><circle cx="39.1" cy="5.7" r="0.57" fill="rgb(58,1,1)"/><circle cx="25.8" cy="17.6" r="0.74" fill="rgb(127,4,4)"/><circle cx="36.8" cy="8.1" r="1.07" fill="rgb(105,3,3)"/><circle cx="36.4" cy="10.2" r="0.69" fill="rgb(189,5,5)"/><circle cx="37.2" cy="17.6" r="0.76" fill="rgb(62,1,1)"/><circle cx="3.4" cy="5.9" r="0.57" fill="rgb(126,3,3)"/><circle cx="29.6" cy="12.5" r="1.00" fill="rgb(192,6,6)"/><circle cx="9.4" cy="11.9" r="1.04" fill="rgb(195,6,6)"/><circle cx="42.1" cy="8.7" r="0.80" fill="rgb(124,3,3)"/><circle cx="3.2" cy="2.8" r="1.01" fill="rgb(138,4,4)"/><circle cx="25.9" cy="16.1" r="0.97" fill="rgb(141,4,4)"/><circle cx="11.6" cy="13.4" r="0.51" fill="rgb(101,3,3)"/><circle cx="13.2" cy="15.3" r="0.73" fill="rgb(104,3,3)"/><circle cx="16.3" cy="14.2" r="0.69" fill="rgb(176,5,5)"/><circle cx="11.2" cy="8.4" r="1.04" fill="rgb(187,5,5)"/><circle cx="40.6" cy="2.7" r="0.73" fill="rgb(130,4,4)"/><circle cx="38.5" cy="7.2" r="0.65" fill="rgb(201,6,6)"/><circle cx="36.7" cy="16.6" r="0.69" fill="rgb(99,3,3)"/><circle cx="17.7" cy="13.4" r="0.92" fill="rgb(103,3,3)"/><circle cx="45.9" cy="4.5" r="0.94" fill="rgb(67,2,2)"/><circle cx="-0.2" cy="10.3" r="0.85" fill="rgb(102,3,3)"/><circle cx="3.6" cy="6.5" r="0.71" fill="rgb(163,5,5)"/><circle cx="20.0" cy="16.6" r="0.79" fill="rgb(189,5,5)"/><circle cx="30.3" cy="15.2" r="0.97" fill="rgb(74,2,2)"/><circle cx="13.8" cy="14.1" r="1.00" fill="rgb(151,4,4)"/><circle cx="19.9" cy="11.9" r="0.72" fill="rgb(86,2,2)"/><circle cx="20.0" cy="14.5" r="0.81" fill="rgb(68,2,2)"/><circle cx="21.6" cy="14.6" r="0.92" fill="rgb(170,5,5)"/><circle cx="33.8" cy="14.4" r="1.02" fill="rgb(202,6,6)"/><circle cx="14.6" cy="12.8" r="0.58" fill="rgb(92,2,2)"/><circle cx="3.0" cy="1.8" r="0.54" fill="rgb(191,5,5)"/><circle cx="11.1" cy="13.4" r="0.89" fill="rgb(82,2,2)"/><circle cx="13.4" cy="12.9" r="0.98" fill="rgb(161,5,5)"/><circle cx="20.8" cy="17.2" r="0.59" fill="rgb(183,5,5)"/><circle cx="40.6" cy="4.2" r="0.75" fill="rgb(115,3,3)"/><circle cx="8.3" cy="6.5" r="0.80" fill="rgb(124,3,3)"/><circle cx="25.5" cy="18.2" r="0.78" fill="rgb(142,4,4)"/><circle cx="26.1" cy="11.0" r="1.09" fill="rgb(88,2,2)"/><circle cx="0.4" cy="4.1" r="0.51" fill="rgb(101,3,3)"/><circle cx="2.0" cy="6.4" r="1.10" fill="rgb(144,4,4)"/><circle cx="26.8" cy="19.0" r="0.52" fill="rgb(120,3,3)"/><circle cx="25.9" cy="16.5" r="0.98" fill="rgb(112,3,3)"/><circle cx="16.4" cy="12.6" r="0.96" fill="rgb(76,2,2)"/><circle cx="8.5" cy="3.9" r="1.08" fill="rgb(138,4,4)"/><circle cx="22.0" cy="16.8" r="0.63" fill="rgb(84,2,2)"/><circle cx="12.8" cy="9.2" r="0.92" fill="rgb(155,4,4)"/><circle cx="34.3" cy="13.7" r="1.02" fill="rgb(119,3,3)"/><circle cx="45.6" cy="10.6" r="0.57" fill="rgb(186,5,5)"/><circle cx="15.5" cy="10.5" r="0.66" fill="rgb(138,4,4)"/><circle cx="1.3" cy="5.4" r="0.64" fill="rgb(73,2,2)"/><circle cx="-0.2" cy="4.0" r="1.10" fill="rgb(151,4,4)"/><circle cx="9.9" cy="9.2" r="0.87" fill="rgb(175,5,5)"/><circle cx="9.6" cy="14.4" r="0.78" fill="rgb(147,4,4)"/><circle cx="30.7" cy="17.0" r="0.96" fill="rgb(100,3,3)"/><circle cx="28.2" cy="10.9" r="1.09" fill="rgb(108,3,3)"/><circle cx="12.2" cy="15.0" r="0.64" fill="rgb(153,4,4)"/><circle cx="39.8" cy="11.4" r="0.89" fill="rgb(62,1,1)"/><circle cx="12.2" cy="13.0" r="0.64" fill="rgb(89,2,2)"/><circle cx="23.7" cy="14.2" r="0.61" fill="rgb(86,2,2)"/><circle cx="5.0" cy="10.5" r="0.81" fill="rgb(151,4,4)"/><circle cx="5.3" cy="4.0" r="0.84" fill="rgb(132,4,4)"/><circle cx="6.8" cy="11.5" r="0.87" fill="rgb(175,5,5)"/><circle cx="36.6" cy="3.8" r="0.96" fill="rgb(85,2,2)"/><circle cx="30.9" cy="12.5" r="0.85" fill="rgb(140,4,4)"/><circle cx="36.5" cy="15.1" r="0.72" fill="rgb(151,4,4)"/><circle cx="4.8" cy="4.8" r="1.01" fill="rgb(186,5,5)"/><circle cx="5.5" cy="8.5" r="0.88" fill="rgb(114,3,3)"/><circle cx="45.9" cy="4.8" r="0.57" fill="rgb(146,4,4)"/><circle cx="40.5" cy="3.8" r="0.73" fill="rgb(143,4,4)"/><circle cx="8.2" cy="9.4" r="0.71" fill="rgb(176,5,5)"/><circle cx="44.1" cy="5.9" r="0.58" fill="rgb(104,3,3)"/><circle cx="-3.0" cy="3.9" r="0.53" fill="rgb(127,4,4)"/><circle cx="35.1" cy="6.5" r="0.85" fill="rgb(172,5,5)"/><circle cx="24.5" cy="14.6" r="0.80" fill="rgb(110,3,3)"/><circle cx="34.2" cy="9.3" r="0.93" fill="rgb(201,6,6)"/><circle cx="-2.1" cy="3.0" r="0.89" fill="rgb(126,3,3)"/><circle cx="38.5" cy="6.4" r="0.98" fill="rgb(79,2,2)"/><circle cx="2.5" cy="4.9" r="1.04" fill="rgb(166,5,5)"/><circle cx="8.7" cy="8.9" r="0.57" fill="rgb(92,2,2)"/><circle cx="43.6" cy="8.9" r="0.77" fill="rgb(166,5,5)"/><circle cx="29.7" cy="14.6" r="0.88" fill="rgb(146,4,4)"/><circle cx="33.2" cy="17.9" r="0.94" fill="rgb(162,5,5)"/><circle cx="16.7" cy="13.5" r="0.60" fill="rgb(190,5,5)"/><circle cx="1.5" cy="4.4" r="0.61" fill="rgb(71,2,2)"/><circle cx="17.6" cy="16.9" r="0.76" fill="rgb(71,2,2)"/><circle cx="24.6" cy="15.5" r="0.89" fill="rgb(151,4,4)"/><circle cx="7.8" cy="8.3" r="1.10" fill="rgb(185,5,5)"/><circle cx="32.8" cy="16.6" r="0.60" fill="rgb(181,5,5)"/><circle cx="32.7" cy="15.7" r="0.84" fill="rgb(162,5,5)"/><circle cx="26.8" cy="19.4" r="0.86" fill="rgb(76,2,2)"/><circle cx="38.3" cy="11.4" r="0.91" fill="rgb(118,3,3)"/><circle cx="17.0" cy="18.1" r="1.00" fill="rgb(107,3,3)"/><circle cx="38.4" cy="4.6" r="0.67" fill="rgb(189,5,5)"/><circle cx="39.2" cy="11.8" r="1.10" fill="rgb(83,2,2)"/><circle cx="43.3" cy="5.2" r="0.72" fill="rgb(57,1,1)"/><circle cx="10.8" cy="11.7" r="0.94" fill="rgb(53,1,1)"/><circle cx="10.2" cy="8.9" r="0.89" fill="rgb(166,5,5)"/><circle cx="51.4" cy="9.9" r="0.79" fill="rgb(99,3,3)"/><circle cx="22.5" cy="13.9" r="0.93" fill="rgb(121,3,3)"/><circle cx="19.7" cy="19.4" r="0.73" fill="rgb(190,5,5)"/><circle cx="8.8" cy="9.8" r="0.51" fill="rgb(126,3,3)"/><circle cx="34.8" cy="12.6" r="1.00" fill="rgb(144,4,4)"/><circle cx="40.8" cy="13.0" r="0.54" fill="rgb(73,2,2)"/><circle cx="29.6" cy="12.4" r="0.76" fill="rgb(131,4,4)"/><circle cx="34.4" cy="12.9" r="1.07" fill="rgb(84,2,2)"/><circle cx="30.1" cy="12.5" r="0.74" fill="rgb(148,4,4)"/><circle cx="33.2" cy="9.3" r="0.51" fill="rgb(199,6,6)"/><circle cx="42.4" cy="4.7" r="0.68" fill="rgb(129,4,4)"/><circle cx="5.6" cy="6.0" r="0.98" fill="rgb(96,3,3)"/><circle cx="42.3" cy="2.2" r="1.06" fill="rgb(71,2,2)"/><circle cx="16.3" cy="10.7" r="0.87" fill="rgb(185,5,5)"/><circle cx="4.8" cy="8.4" r="0.55" fill="rgb(202,6,6)"/><circle cx="19.3" cy="10.9" r="1.04" fill="rgb(74,2,2)"/><circle cx="21.9" cy="20.7" r="0.87" fill="rgb(187,5,5)"/><circle cx="35.9" cy="3.3" r="0.56" fill="rgb(90,2,2)"/><circle cx="5.9" cy="7.0" r="1.05" fill="rgb(129,4,4)"/><circle cx="37.7" cy="7.1" r="1.07" fill="rgb(164,5,5)"/><circle cx="3.8" cy="2.1" r="1.04" fill="rgb(71,2,2)"/><circle cx="37.8" cy="2.6" r="0.66" fill="rgb(196,6,6)"/><circle cx="42.5" cy="5.6" r="0.58" fill="rgb(82,2,2)"/><circle cx="13.5" cy="10.5" r="0.73" fill="rgb(185,5,5)"/><circle cx="35.8" cy="4.0" r="0.64" fill="rgb(93,2,2)"/><circle cx="19.1" cy="13.5" r="0.60" fill="rgb(149,4,4)"/><circle cx="5.5" cy="5.1" r="1.03" fill="rgb(59,1,1)"/><circle cx="3.5" cy="8.5" r="0.75" fill="rgb(173,5,5)"/><circle cx="33.6" cy="18.0" r="0.86" fill="rgb(62,1,1)"/><circle cx="18.5" cy="14.7" r="0.64" fill="rgb(159,5,5)"/><circle cx="34.8" cy="13.8" r="0.65" fill="rgb(70,2,2)"/><circle cx="38.1" cy="13.6" r="0.82" fill="rgb(182,5,5)"/><circle cx="12.4" cy="8.8" r="0.71" fill="rgb(116,3,3)"/><circle cx="19.4" cy="20.0" r="0.86" fill="rgb(126,3,3)"/><circle cx="12.7" cy="14.6" r="0.70" fill="rgb(118,3,3)"/><circle cx="39.7" cy="12.8" r="0.84" fill="rgb(62,1,1)"/><circle cx="27.1" cy="12.5" r="0.59" fill="rgb(151,4,4)"/><circle cx="26.1" cy="16.7" r="1.06" fill="rgb(72,2,2)"/><circle cx="30.5" cy="16.4" r="0.99" fill="rgb(187,5,5)"/><circle cx="25.6" cy="10.4" r="0.64" fill="rgb(90,2,2)"/><circle cx="15.7" cy="13.5" r="0.61" fill="rgb(184,5,5)"/><circle cx="32.3" cy="12.1" r="0.64" fill="rgb(178,5,5)"/><circle cx="11.2" cy="4.6" r="0.98" fill="rgb(145,4,4)"/><circle cx="6.4" cy="8.6" r="0.60" fill="rgb(193,6,6)"/><circle cx="16.7" cy="17.4" r="0.69" fill="rgb(165,5,5)"/><circle cx="17.0" cy="6.8" r="0.51" fill="rgb(184,5,5)"/><circle cx="10.5" cy="15.9" r="1.09" fill="rgb(179,5,5)"/><circle cx="15.2" cy="20.2" r="0.66" fill="rgb(146,4,4)"/><circle cx="10.8" cy="10.2" r="0.61" fill="rgb(70,2,2)"/><circle cx="16.8" cy="20.5" r="0.52" fill="rgb(99,3,3)"/><circle cx="10.6" cy="11.2" r="0.78" fill="rgb(178,5,5)"/><circle cx="18.0" cy="7.3" r="0.53" fill="rgb(57,1,1)"/><circle cx="9.7" cy="6.5" r="0.79" fill="rgb(154,4,4)"/><circle cx="11.4" cy="8.2" r="1.08" fill="rgb(96,3,3)"/><circle cx="11.4" cy="10.5" r="0.52" fill="rgb(142,4,4)"/><circle cx="9.9" cy="4.9" r="0.54" fill="rgb(193,6,6)"/><circle cx="19.6" cy="7.0" r="0.92" fill="rgb(52,1,1)"/><circle cx="7.0" cy="13.1" r="0.64" fill="rgb(124,3,3)"/><circle cx="14.4" cy="6.3" r="1.09" fill="rgb(104,3,3)"/><circle cx="17.5" cy="16.9" r="1.03" fill="rgb(128,4,4)"/><circle cx="10.8" cy="19.1" r="0.65" fill="rgb(112,3,3)"/><circle cx="3.2" cy="7.7" r="0.94" fill="rgb(66,2,2)"/><circle cx="5.2" cy="15.5" r="0.69" fill="rgb(61,1,1)"/><circle cx="9.6" cy="17.3" r="0.88" fill="rgb(200,6,6)"/><circle cx="11.9" cy="18.2" r="0.63" fill="rgb(71,2,2)"/><circle cx="8.9" cy="17.1" r="1.01" fill="rgb(98,3,3)"/><circle cx="18.3" cy="9.2" r="0.74" fill="rgb(185,5,5)"/><circle cx="9.9" cy="12.9" r="0.77" fill="rgb(146,4,4)"/><circle cx="9.7" cy="11.2" r="0.51" fill="rgb(155,4,4)"/><circle cx="15.1" cy="9.3" r="0.96" fill="rgb(77,2,2)"/><circle cx="13.5" cy="16.4" r="1.08" fill="rgb(68,2,2)"/><circle cx="2.5" cy="10.5" r="0.51" fill="rgb(174,5,5)"/><circle cx="13.2" cy="20.8" r="0.86" fill="rgb(58,1,1)"/><circle cx="11.3" cy="17.1" r="0.53" fill="rgb(163,5,5)"/><circle cx="7.7" cy="13.2" r="0.63" fill="rgb(155,4,4)"/><circle cx="4.4" cy="14.5" r="0.62" fill="rgb(93,2,2)"/><circle cx="10.5" cy="17.4" r="0.58" fill="rgb(55,1,1)"/><circle cx="22.7" cy="8.1" r="0.52" fill="rgb(187,5,5)"/><circle cx="8.3" cy="17.9" r="0.81" fill="rgb(63,1,1)"/><circle cx="7.1" cy="16.4" r="0.83" fill="rgb(134,4,4)"/><circle cx="6.0" cy="16.5" r="0.57" fill="rgb(158,4,4)"/><circle cx="7.3" cy="10.3" r="0.77" fill="rgb(128,4,4)"/><circle cx="22.0" cy="38.1" r="0.83" fill="rgb(214,6,6)"/><circle cx="63.6" cy="31.4" r="0.96" fill="rgb(110,3,3)"/><circle cx="25.4" cy="36.6" r="0.97" fill="rgb(180,5,5)"/><circle cx="70.2" cy="40.3" r="0.96" fill="rgb(180,5,5)"/><circle cx="22.1" cy="41.3" r="0.81" fill="rgb(130,4,4)"/><circle cx="18.8" cy="37.2" r="0.51" fill="rgb(213,6,6)"/><circle cx="29.7" cy="47.3" r="0.73" fill="rgb(180,5,5)"/><circle cx="64.8" cy="56.8" r="0.82" fill="rgb(58,1,1)"/><circle cx="21.9" cy="37.1" r="0.89" fill="rgb(173,5,5)"/><circle cx="27.4" cy="45.4" r="0.61" fill="rgb(168,5,5)"/><circle cx="69.1" cy="30.0" r="1.03" fill="rgb(110,3,3)"/><circle cx="46.7" cy="30.1" r="0.98" fill="rgb(125,3,3)"/><circle cx="66.8" cy="34.6" r="0.92" fill="rgb(89,2,2)"/><circle cx="60.3" cy="57.2" r="0.91" fill="rgb(65,2,2)"/><circle cx="31.9" cy="56.6" r="0.73" fill="rgb(124,3,3)"/><circle cx="39.1" cy="52.8" r="0.95" fill="rgb(143,4,4)"/><circle cx="30.0" cy="28.2" r="0.66" fill="rgb(166,5,5)"/><circle cx="75.1" cy="44.9" r="1.03" fill="rgb(58,1,1)"/><circle cx="24.9" cy="34.4" r="0.66" fill="rgb(88,2,2)"/><circle cx="31.7" cy="48.5" r="0.89" fill="rgb(140,4,4)"/><circle cx="57.9" cy="32.1" r="1.08" fill="rgb(107,3,3)"/><circle cx="21.8" cy="49.9" r="0.70" fill="rgb(63,1,1)"/><circle cx="49.8" cy="56.7" r="0.65" fill="rgb(188,5,5)"/><circle cx="62.6" cy="45.1" r="0.70" fill="rgb(80,2,2)"/><circle cx="25.3" cy="51.3" r="0.66" fill="rgb(163,5,5)"/><circle cx="59.2" cy="57.6" r="1.01" fill="rgb(69,2,2)"/><circle cx="52.2" cy="26.9" r="0.86" fill="rgb(66,2,2)"/><circle cx="20.8" cy="33.1" r="0.88" fill="rgb(120,3,3)"/><circle cx="45.5" cy="27.8" r="0.96" fill="rgb(212,6,6)"/><circle cx="55.3" cy="55.0" r="0.60" fill="rgb(147,4,4)"/><circle cx="33.1" cy="29.7" r="0.80" fill="rgb(108,3,3)"/><circle cx="22.8" cy="34.8" r="1.06" fill="rgb(123,3,3)"/><circle cx="68.4" cy="45.4" r="0.80" fill="rgb(71,2,2)"/><circle cx="55.1" cy="54.4" r="0.83" fill="rgb(58,1,1)"/><circle cx="48.1" cy="29.5" r="0.95" fill="rgb(190,5,5)"/><circle cx="37.9" cy="47.1" r="1.09" fill="rgb(88,2,2)"/><circle cx="69.6" cy="36.5" r="0.98" fill="rgb(84,2,2)"/><circle cx="53.1" cy="31.3" r="0.63" fill="rgb(87,2,2)"/><circle cx="63.2" cy="53.4" r="0.76" fill="rgb(58,1,1)"/><circle cx="52.6" cy="51.2" r="0.99" fill="rgb(159,5,5)"/><circle cx="36.7" cy="57.6" r="0.52" fill="rgb(214,6,6)"/><circle cx="32.2" cy="50.5" r="0.78" fill="rgb(199,6,6)"/><circle cx="64.1" cy="38.9" r="0.66" fill="rgb(54,1,1)"/><circle cx="69.5" cy="54.9" r="0.60" fill="rgb(146,4,4)"/><circle cx="38.9" cy="56.6" r="0.54" fill="rgb(132,4,4)"/><circle cx="58.4" cy="50.9" r="0.50" fill="rgb(204,6,6)"/><circle cx="61.9" cy="54.3" r="0.57" fill="rgb(122,3,3)"/><circle cx="35.1" cy="25.9" r="0.73" fill="rgb(141,4,4)"/><circle cx="65.5" cy="50.3" r="0.88" fill="rgb(174,5,5)"/><circle cx="68.5" cy="41.8" r="0.78" fill="rgb(81,2,2)"/><circle cx="33.5" cy="48.0" r="0.90" fill="rgb(131,4,4)"/><circle cx="16.6" cy="38.7" r="0.94" fill="rgb(168,5,5)"/><circle cx="58.2" cy="38.7" r="1.08" fill="rgb(200,6,6)"/><circle cx="54.0" cy="55.4" r="1.08" fill="rgb(142,4,4)"/><circle cx="68.6" cy="34.6" r="0.98" fill="rgb(172,5,5)"/><circle cx="61.4" cy="44.5" r="0.85" fill="rgb(94,2,2)"/><circle cx="31.0" cy="34.5" r="0.87" fill="rgb(120,3,3)"/><circle cx="45.6" cy="30.1" r="0.79" fill="rgb(89,2,2)"/><circle cx="63.4" cy="42.2" r="0.98" fill="rgb(143,4,4)"/><circle cx="27.2" cy="41.3" r="0.53" fill="rgb(154,4,4)"/><circle cx="40.2" cy="50.9" r="0.92" fill="rgb(172,5,5)"/><circle cx="56.5" cy="50.2" r="0.89" fill="rgb(201,6,6)"/><circle cx="25.0" cy="35.3" r="0.92" fill="rgb(93,2,2)"/><circle cx="26.1" cy="36.5" r="0.96" fill="rgb(137,4,4)"/><circle cx="29.1" cy="27.6" r="0.89" fill="rgb(165,5,5)"/><circle cx="50.1" cy="59.4" r="0.82" fill="rgb(137,4,4)"/><circle cx="21.9" cy="32.0" r="0.86" fill="rgb(101,3,3)"/><circle cx="73.0" cy="45.0" r="0.87" fill="rgb(104,3,3)"/><circle cx="26.2" cy="45.6" r="0.59" fill="rgb(66,2,2)"/><circle cx="64.8" cy="52.0" r="0.91" fill="rgb(110,3,3)"/><circle cx="33.4" cy="46.6" r="1.05" fill="rgb(94,2,2)"/><circle cx="36.3" cy="22.6" r="1.08" fill="rgb(192,6,6)"/><circle cx="21.4" cy="39.2" r="0.93" fill="rgb(93,2,2)"/><circle cx="43.6" cy="28.5" r="0.69" fill="rgb(199,6,6)"/><circle cx="57.3" cy="53.5" r="0.79" fill="rgb(60,1,1)"/><circle cx="54.8" cy="57.2" r="0.65" fill="rgb(56,1,1)"/><circle cx="39.9" cy="22.9" r="0.77" fill="rgb(110,3,3)"/><circle cx="33.8" cy="34.8" r="0.71" fill="rgb(52,1,1)"/><circle cx="25.2" cy="47.7" r="0.67" fill="rgb(108,3,3)"/><circle cx="53.9" cy="31.5" r="0.71" fill="rgb(104,3,3)"/><circle cx="43.0" cy="58.9" r="1.07" fill="rgb(184,5,5)"/><circle cx="19.5" cy="29.7" r="0.69" fill="rgb(154,4,4)"/><circle cx="25.1" cy="33.0" r="1.03" fill="rgb(161,5,5)"/><circle cx="27.2" cy="54.5" r="1.07" fill="rgb(199,6,6)"/><circle cx="33.0" cy="28.6" r="1.03" fill="rgb(97,3,3)"/><circle cx="63.7" cy="53.3" r="0.67" fill="rgb(189,5,5)"/><circle cx="58.7" cy="26.3" r="0.93" fill="rgb(151,4,4)"/><circle cx="51.5" cy="31.8" r="0.84" fill="rgb(212,6,6)"/><circle cx="32.9" cy="57.6" r="0.82" fill="rgb(200,6,6)"/><circle cx="20.9" cy="41.1" r="0.85" fill="rgb(75,2,2)"/><circle cx="23.4" cy="44.2" r="0.56" fill="rgb(166,5,5)"/><circle cx="62.7" cy="34.8" r="0.54" fill="rgb(186,5,5)"/><circle cx="25.0" cy="34.6" r="1.10" fill="rgb(158,4,4)"/><circle cx="55.6" cy="55.3" r="0.80" fill="rgb(107,3,3)"/><circle cx="24.1" cy="54.9" r="0.77" fill="rgb(71,2,2)"/><circle cx="46.8" cy="59.5" r="0.71" fill="rgb(216,6,6)"/><circle cx="31.6" cy="34.4" r="0.51" fill="rgb(161,5,5)"/><circle cx="68.4" cy="50.8" r="0.84" fill="rgb(159,5,5)"/><circle cx="41.7" cy="28.7" r="1.09" fill="rgb(185,5,5)"/><circle cx="60.7" cy="49.3" r="0.51" fill="rgb(70,2,2)"/><circle cx="23.5" cy="47.0" r="0.53" fill="rgb(100,3,3)"/><circle cx="47.4" cy="58.1" r="0.60" fill="rgb(200,6,6)"/><circle cx="41.8" cy="24.8" r="0.60" fill="rgb(79,2,2)"/><circle cx="35.4" cy="29.4" r="0.64" fill="rgb(70,2,2)"/><circle cx="27.9" cy="47.0" r="0.75" fill="rgb(177,5,5)"/><circle cx="34.3" cy="25.8" r="0.66" fill="rgb(117,3,3)"/><circle cx="69.0" cy="39.9" r="0.65" fill="rgb(84,2,2)"/><circle cx="25.3" cy="45.9" r="1.04" fill="rgb(67,2,2)"/><circle cx="24.3" cy="33.7" r="0.92" fill="rgb(67,2,2)"/><circle cx="39.0" cy="54.2" r="0.77" fill="rgb(106,3,3)"/><circle cx="36.8" cy="56.1" r="1.02" fill="rgb(192,6,6)"/><circle cx="24.6" cy="50.0" r="0.56" fill="rgb(158,4,4)"/><circle cx="22.3" cy="38.5" r="0.69" fill="rgb(63,1,1)"/><circle cx="28.3" cy="44.2" r="0.57" fill="rgb(78,2,2)"/><circle cx="39.0" cy="52.4" r="0.75" fill="rgb(61,1,1)"/><circle cx="55.5" cy="55.7" r="0.56" fill="rgb(87,2,2)"/><circle cx="33.4" cy="48.1" r="0.50" fill="rgb(90,2,2)"/><circle cx="67.6" cy="45.2" r="0.86" fill="rgb(89,2,2)"/><circle cx="63.0" cy="35.4" r="1.10" fill="rgb(113,3,3)"/><circle cx="28.0" cy="38.1" r="0.64" fill="rgb(188,5,5)"/><circle cx="48.7" cy="52.5" r="1.10" fill="rgb(144,4,4)"/><circle cx="32.6" cy="48.9" r="0.64" fill="rgb(115,3,3)"/><circle cx="61.7" cy="54.2" r="1.05" fill="rgb(115,3,3)"/><circle cx="61.2" cy="51.8" r="1.04" fill="rgb(211,6,6)"/><circle cx="61.6" cy="54.4" r="0.83" fill="rgb(115,3,3)"/><circle cx="54.7" cy="54.6" r="0.63" fill="rgb(192,6,6)"/><circle cx="27.3" cy="33.6" r="0.92" fill="rgb(131,4,4)"/><circle cx="33.3" cy="27.7" r="0.91" fill="rgb(211,6,6)"/><circle cx="34.0" cy="29.4" r="0.59" fill="rgb(209,6,6)"/><circle cx="35.6" cy="52.3" r="1.04" fill="rgb(175,5,5)"/><circle cx="61.3" cy="53.8" r="0.73" fill="rgb(79,2,2)"/><circle cx="27.9" cy="47.0" r="0.94" fill="rgb(123,3,3)"/><circle cx="51.0" cy="27.6" r="0.94" fill="rgb(128,4,4)"/><circle cx="62.9" cy="42.6" r="0.97" fill="rgb(68,2,2)"/><circle cx="30.6" cy="24.3" r="0.54" fill="rgb(77,2,2)"/><circle cx="64.3" cy="34.2" r="0.83" fill="rgb(195,6,6)"/><circle cx="64.6" cy="45.8" r="0.97" fill="rgb(116,3,3)"/><circle cx="38.4" cy="54.9" r="0.75" fill="rgb(65,2,2)"/><circle cx="27.5" cy="32.2" r="0.87" fill="rgb(108,3,3)"/><circle cx="58.6" cy="40.2" r="1.07" fill="rgb(170,5,5)"/><circle cx="62.1" cy="33.9" r="0.88" fill="rgb(59,1,1)"/><circle cx="18.5" cy="47.4" r="0.89" fill="rgb(215,6,6)"/><circle cx="74.7" cy="37.0" r="0.63" fill="rgb(201,6,6)"/><circle cx="23.2" cy="35.9" r="0.95" fill="rgb(142,4,4)"/><circle cx="19.9" cy="38.5" r="1.02" fill="rgb(114,3,3)"/><circle cx="14.4" cy="43.3" r="1.01" fill="rgb(121,3,3)"/><circle cx="44.2" cy="56.9" r="0.94" fill="rgb(154,4,4)"/><circle cx="57.0" cy="29.0" r="0.80" fill="rgb(175,5,5)"/><circle cx="21.3" cy="44.3" r="0.92" fill="rgb(198,6,6)"/><circle cx="31.3" cy="47.1" r="1.08" fill="rgb(146,4,4)"/><circle cx="63.5" cy="51.2" r="0.95" fill="rgb(190,5,5)"/><circle cx="22.8" cy="38.9" r="0.53" fill="rgb(52,1,1)"/><circle cx="30.5" cy="34.2" r="1.06" fill="rgb(126,3,3)"/><circle cx="55.2" cy="35.6" r="0.78" fill="rgb(112,3,3)"/><circle cx="19.6" cy="38.5" r="0.88" fill="rgb(75,2,2)"/><circle cx="65.6" cy="52.6" r="0.86" fill="rgb(215,6,6)"/><circle cx="70.7" cy="38.4" r="0.97" fill="rgb(177,5,5)"/><circle cx="27.1" cy="30.9" r="0.83" fill="rgb(128,4,4)"/><circle cx="47.1" cy="28.8" r="1.02" fill="rgb(176,5,5)"/><circle cx="21.7" cy="51.5" r="0.84" fill="rgb(104,3,3)"/><circle cx="22.4" cy="37.3" r="0.66" fill="rgb(85,2,2)"/><circle cx="66.1" cy="45.2" r="0.77" fill="rgb(134,4,4)"/><circle cx="61.2" cy="36.0" r="0.63" fill="rgb(67,2,2)"/><circle cx="33.5" cy="52.6" r="0.62" fill="rgb(98,3,3)"/><circle cx="39.4" cy="56.7" r="0.95" fill="rgb(95,2,2)"/><circle cx="54.6" cy="50.0" r="0.79" fill="rgb(87,2,2)"/><circle cx="64.7" cy="41.1" r="1.05" fill="rgb(74,2,2)"/><circle cx="61.3" cy="46.3" r="0.82" fill="rgb(213,6,6)"/><circle cx="33.8" cy="51.2" r="0.76" fill="rgb(149,4,4)"/><circle cx="66.0" cy="45.7" r="0.52" fill="rgb(205,6,6)"/><circle cx="63.3" cy="36.8" r="0.79" fill="rgb(60,1,1)"/><circle cx="68.6" cy="55.2" r="0.59" fill="rgb(149,4,4)"/><circle cx="56.6" cy="50.6" r="0.80" fill="rgb(87,2,2)"/><circle cx="51.5" cy="55.0" r="0.69" fill="rgb(135,4,4)"/><circle cx="24.9" cy="54.0" r="0.64" fill="rgb(202,6,6)"/><circle cx="37.5" cy="32.3" r="0.82" fill="rgb(110,3,3)"/><circle cx="65.8" cy="44.1" r="0.80" fill="rgb(135,4,4)"/><circle cx="36.3" cy="49.4" r="0.73" fill="rgb(164,5,5)"/><circle cx="49.1" cy="26.5" r="0.57" fill="rgb(179,5,5)"/><circle cx="49.3" cy="26.6" r="0.77" fill="rgb(77,2,2)"/><circle cx="57.5" cy="40.0" r="0.70" fill="rgb(128,4,4)"/><circle cx="42.7" cy="28.1" r="0.76" fill="rgb(60,1,1)"/><circle cx="25.2" cy="26.3" r="0.80" fill="rgb(161,5,5)"/><circle cx="48.9" cy="57.3" r="0.63" fill="rgb(113,3,3)"/><circle cx="65.3" cy="43.5" r="0.67" fill="rgb(144,4,4)"/><circle cx="63.6" cy="41.7" r="0.86" fill="rgb(97,3,3)"/><circle cx="67.0" cy="41.9" r="0.65" fill="rgb(172,5,5)"/><circle cx="56.2" cy="28.6" r="0.75" fill="rgb(207,6,6)"/><circle cx="68.6" cy="51.2" r="0.59" fill="rgb(92,2,2)"/><circle cx="50.0" cy="50.3" r="0.70" fill="rgb(74,2,2)"/><circle cx="47.9" cy="60.6" r="1.00" fill="rgb(146,4,4)"/><circle cx="42.6" cy="25.1" r="0.85" fill="rgb(143,4,4)"/><circle cx="64.0" cy="33.3" r="0.82" fill="rgb(158,4,4)"/><circle cx="55.0" cy="30.7" r="1.08" fill="rgb(83,2,2)"/><circle cx="30.4" cy="53.1" r="1.10" fill="rgb(95,2,2)"/><circle cx="31.0" cy="47.9" r="0.63" fill="rgb(127,3,3)"/><circle cx="33.8" cy="34.8" r="1.08" fill="rgb(95,2,2)"/><circle cx="33.2" cy="60.5" r="0.54" fill="rgb(97,3,3)"/><circle cx="58.9" cy="32.3" r="0.74" fill="rgb(166,5,5)"/><circle cx="63.3" cy="29.7" r="0.66" fill="rgb(212,6,6)"/><circle cx="54.9" cy="56.5" r="1.03" fill="rgb(208,6,6)"/><circle cx="67.5" cy="44.5" r="1.03" fill="rgb(144,4,4)"/><circle cx="53.8" cy="30.8" r="0.97" fill="rgb(184,5,5)"/><circle cx="19.1" cy="42.7" r="0.86" fill="rgb(154,4,4)"/><circle cx="29.2" cy="47.9" r="0.55" fill="rgb(65,2,2)"/><circle cx="69.4" cy="44.5" r="0.61" fill="rgb(146,4,4)"/><circle cx="47.7" cy="58.2" r="0.96" fill="rgb(169,5,5)"/><circle cx="34.1" cy="57.3" r="0.55" fill="rgb(184,5,5)"/><circle cx="14.3" cy="45.3" r="0.85" fill="rgb(78,2,2)"/><circle cx="65.5" cy="42.8" r="1.03" fill="rgb(84,2,2)"/><circle cx="51.5" cy="54.5" r="0.67" fill="rgb(207,6,6)"/><circle cx="60.6" cy="59.1" r="0.98" fill="rgb(128,4,4)"/><circle cx="29.3" cy="46.5" r="0.92" fill="rgb(52,1,1)"/><circle cx="19.4" cy="29.9" r="1.04" fill="rgb(93,2,2)"/><circle cx="69.7" cy="52.9" r="0.96" fill="rgb(183,5,5)"/><circle cx="55.7" cy="48.0" r="0.77" fill="rgb(178,5,5)"/><circle cx="21.3" cy="35.1" r="0.87" fill="rgb(166,5,5)"/><circle cx="37.2" cy="53.6" r="1.06" fill="rgb(118,3,3)"/><circle cx="48.4" cy="28.3" r="1.01" fill="rgb(63,1,1)"/><circle cx="40.6" cy="26.2" r="1.08" fill="rgb(101,3,3)"/><circle cx="56.7" cy="33.7" r="0.54" fill="rgb(118,3,3)"/><circle cx="52.4" cy="50.4" r="0.69" fill="rgb(91,2,2)"/><circle cx="20.4" cy="35.3" r="0.64" fill="rgb(214,6,6)"/><circle cx="56.4" cy="33.4" r="0.82" fill="rgb(194,6,6)"/><circle cx="30.1" cy="32.8" r="0.57" fill="rgb(216,6,6)"/><circle cx="29.2" cy="53.0" r="0.95" fill="rgb(150,4,4)"/><circle cx="65.0" cy="41.4" r="0.52" fill="rgb(118,3,3)"/><circle cx="52.8" cy="54.9" r="0.67" fill="rgb(189,5,5)"/><circle cx="31.1" cy="29.3" r="0.68" fill="rgb(173,5,5)"/><circle cx="38.5" cy="58.8" r="0.99" fill="rgb(179,5,5)"/><circle cx="21.9" cy="49.3" r="0.76" fill="rgb(166,5,5)"/><circle cx="47.7" cy="56.9" r="0.80" fill="rgb(174,5,5)"/><circle cx="27.2" cy="31.8" r="1.08" fill="rgb(96,3,3)"/><circle cx="53.8" cy="31.2" r="0.64" fill="rgb(98,3,3)"/><circle cx="63.1" cy="42.9" r="0.63" fill="rgb(56,1,1)"/><circle cx="56.3" cy="54.2" r="0.66" fill="rgb(102,3,3)"/><circle cx="29.6" cy="29.0" r="0.68" fill="rgb(197,6,6)"/><circle cx="64.5" cy="49.0" r="1.07" fill="rgb(59,1,1)"/><circle cx="50.7" cy="54.1" r="0.95" fill="rgb(172,5,5)"/><circle cx="64.2" cy="50.7" r="1.09" fill="rgb(199,6,6)"/><circle cx="41.3" cy="55.3" r="0.67" fill="rgb(185,5,5)"/><circle cx="62.0" cy="41.5" r="0.73" fill="rgb(148,4,4)"/><circle cx="60.8" cy="32.4" r="0.89" fill="rgb(101,3,3)"/><circle cx="51.7" cy="54.2" r="0.76" fill="rgb(108,3,3)"/><circle cx="20.0" cy="28.1" r="0.70" fill="rgb(183,5,5)"/><circle cx="62.9" cy="59.7" r="0.80" fill="rgb(170,5,5)"/><circle cx="24.4" cy="44.9" r="0.65" fill="rgb(129,4,4)"/><circle cx="26.3" cy="39.6" r="1.04" fill="rgb(78,2,2)"/><circle cx="34.6" cy="23.5" r="0.79" fill="rgb(140,4,4)"/><circle cx="35.1" cy="53.4" r="0.67" fill="rgb(100,3,3)"/><circle cx="72.5" cy="52.0" r="1.00" fill="rgb(212,6,6)"/><circle cx="49.7" cy="32.5" r="0.64" fill="rgb(128,4,4)"/><circle cx="28.6" cy="34.6" r="0.67" fill="rgb(121,3,3)"/><circle cx="40.1" cy="28.8" r="0.82" fill="rgb(90,2,2)"/><circle cx="73.9" cy="46.5" r="0.53" fill="rgb(85,2,2)"/><circle cx="47.1" cy="57.5" r="0.84" fill="rgb(146,4,4)"/><circle cx="62.9" cy="31.2" r="0.80" fill="rgb(80,2,2)"/><circle cx="56.1" cy="53.5" r="0.70" fill="rgb(213,6,6)"/><circle cx="18.4" cy="42.0" r="0.63" fill="rgb(148,4,4)"/><circle cx="19.3" cy="36.5" r="0.95" fill="rgb(85,2,2)"/><circle cx="46.1" cy="48.0" r="0.88" fill="rgb(94,2,2)"/><circle cx="57.7" cy="55.0" r="0.51" fill="rgb(152,4,4)"/><circle cx="52.7" cy="55.0" r="0.80" fill="rgb(178,5,5)"/><circle cx="71.2" cy="57.1" r="1.02" fill="rgb(111,3,3)"/><circle cx="50.6" cy="49.9" r="0.86" fill="rgb(87,2,2)"/><circle cx="59.4" cy="63.2" r="0.56" fill="rgb(81,2,2)"/><circle cx="65.0" cy="54.5" r="0.98" fill="rgb(95,2,2)"/><circle cx="58.5" cy="57.9" r="0.85" fill="rgb(122,3,3)"/><circle cx="63.0" cy="50.4" r="1.01" fill="rgb(162,5,5)"/><circle cx="52.0" cy="49.2" r="1.10" fill="rgb(200,6,6)"/><circle cx="60.7" cy="59.1" r="0.68" fill="rgb(155,4,4)"/><circle cx="52.7" cy="51.6" r="0.75" fill="rgb(104,3,3)"/><circle cx="70.0" cy="50.8" r="0.73" fill="rgb(125,3,3)"/><circle cx="57.6" cy="59.5" r="0.61" fill="rgb(123,3,3)"/><circle cx="49.8" cy="54.7" r="0.97" fill="rgb(71,2,2)"/><circle cx="55.1" cy="56.7" r="0.76" fill="rgb(154,4,4)"/><circle cx="73.3" cy="57.1" r="0.70" fill="rgb(178,5,5)"/><circle cx="48.7" cy="51.8" r="0.56" fill="rgb(108,3,3)"/><circle cx="61.5" cy="40.7" r="1.07" fill="rgb(127,3,3)"/><circle cx="62.6" cy="55.8" r="0.58" fill="rgb(82,2,2)"/><circle cx="69.3" cy="49.1" r="0.53" fill="rgb(198,6,6)"/><circle cx="54.1" cy="53.9" r="0.90" fill="rgb(118,3,3)"/><circle cx="67.0" cy="59.6" r="0.61" fill="rgb(93,2,2)"/><circle cx="48.7" cy="53.7" r="0.74" fill="rgb(205,6,6)"/><circle cx="75.3" cy="55.4" r="0.76" fill="rgb(123,3,3)"/><circle cx="53.7" cy="52.0" r="0.75" fill="rgb(117,3,3)"/><circle cx="50.1" cy="52.3" r="0.53" fill="rgb(156,4,4)"/><circle cx="54.9" cy="55.7" r="0.52" fill="rgb(75,2,2)"/><circle cx="58.1" cy="56.8" r="0.64" fill="rgb(113,3,3)"/><circle cx="51.1" cy="56.7" r="0.77" fill="rgb(171,5,5)"/><circle cx="63.5" cy="41.5" r="0.98" fill="rgb(209,6,6)"/><circle cx="55.2" cy="54.6" r="0.95" fill="rgb(133,4,4)"/><circle cx="63.9" cy="48.3" r="0.93" fill="rgb(162,5,5)"/><circle cx="56.6" cy="47.9" r="0.52" fill="rgb(191,6,6)"/><circle cx="53.2" cy="56.3" r="0.52" fill="rgb(185,5,5)"/><circle cx="56.7" cy="52.6" r="0.61" fill="rgb(152,4,4)"/><circle cx="70.4" cy="61.7" r="0.76" fill="rgb(180,5,5)"/><circle cx="55.7" cy="49.4" r="0.63" fill="rgb(87,2,2)"/><circle cx="65.7" cy="48.2" r="0.80" fill="rgb(181,5,5)"/><circle cx="69.8" cy="54.9" r="0.54" fill="rgb(150,4,4)"/><circle cx="58.8" cy="51.7" r="0.65" fill="rgb(121,3,3)"/><circle cx="57.3" cy="57.6" r="0.91" fill="rgb(76,2,2)"/><circle cx="57.8" cy="53.7" r="0.62" fill="rgb(202,6,6)"/><circle cx="71.4" cy="53.9" r="0.90" fill="rgb(149,4,4)"/><circle cx="45.7" cy="59.5" r="0.80" fill="rgb(139,4,4)"/><circle cx="68.9" cy="48.4" r="0.89" fill="rgb(192,6,6)"/><circle cx="58.6" cy="47.4" r="1.00" fill="rgb(142,4,4)"/><circle cx="47.2" cy="57.8" r="0.88" fill="rgb(209,6,6)"/><circle cx="75.3" cy="44.9" r="0.52" fill="rgb(135,4,4)"/><circle cx="50.4" cy="56.1" r="0.89" fill="rgb(121,3,3)"/><circle cx="57.6" cy="43.9" r="0.96" fill="rgb(142,4,4)"/><circle cx="55.8" cy="54.1" r="0.82" fill="rgb(173,5,5)"/><circle cx="59.4" cy="55.0" r="0.54" fill="rgb(137,4,4)"/><circle cx="45.9" cy="47.3" r="0.82" fill="rgb(196,6,6)"/><circle cx="64.2" cy="52.8" r="0.97" fill="rgb(93,2,2)"/><circle cx="54.8" cy="55.2" r="1.10" fill="rgb(198,6,6)"/><circle cx="63.4" cy="55.8" r="0.66" fill="rgb(98,3,3)"/><circle cx="57.0" cy="49.9" r="1.04" fill="rgb(101,3,3)"/><circle cx="61.1" cy="55.1" r="0.63" fill="rgb(181,5,5)"/><circle cx="66.7" cy="47.5" r="0.73" fill="rgb(121,3,3)"/><circle cx="2.2" cy="64.8" r="0.86" fill="rgb(182,5,5)"/><circle cx="10.6" cy="59.0" r="0.68" fill="rgb(40,1,1)"/><circle cx="-1.6" cy="46.0" r="0.91" fill="rgb(157,4,4)"/><circle cx="7.8" cy="57.2" r="0.60" fill="rgb(81,2,2)"/><circle cx="14.9" cy="54.2" r="0.83" fill="rgb(110,3,3)"/><circle cx="7.1" cy="64.1" r="0.86" fill="rgb(183,5,5)"/><circle cx="4.3" cy="37.1" r="0.73" fill="rgb(106,3,3)"/><circle cx="15.4" cy="63.3" r="0.68" fill="rgb(142,4,4)"/><circle cx="3.0" cy="42.7" r="0.54" fill="rgb(161,5,5)"/><circle cx="0.9" cy="60.0" r="0.99" fill="rgb(139,4,4)"/><circle cx="12.0" cy="47.2" r="0.88" fill="rgb(87,2,2)"/><circle cx="1.9" cy="49.5" r="0.59" fill="rgb(61,1,1)"/><circle cx="14.1" cy="57.2" r="0.87" fill="rgb(174,5,5)"/><circle cx="2.3" cy="55.1" r="0.74" fill="rgb(94,2,2)"/><circle cx="3.3" cy="50.2" r="0.57" fill="rgb(172,5,5)"/><circle cx="7.1" cy="42.9" r="0.80" fill="rgb(125,3,3)"/><circle cx="2.4" cy="53.8" r="0.52" fill="rgb(73,2,2)"/><circle cx="6.2" cy="52.4" r="0.77" fill="rgb(65,2,2)"/><circle cx="10.9" cy="48.2" r="0.82" fill="rgb(75,2,2)"/><circle cx="10.3" cy="49.5" r="0.75" fill="rgb(115,3,3)"/><circle cx="1.9" cy="58.7" r="0.89" fill="rgb(98,3,3)"/><circle cx="5.6" cy="75.1" r="0.99" fill="rgb(129,4,4)"/><circle cx="11.9" cy="53.0" r="0.69" fill="rgb(45,1,1)"/><circle cx="-0.4" cy="41.8" r="0.78" fill="rgb(63,1,1)"/><circle cx="10.1" cy="53.7" r="0.73" fill="rgb(158,4,4)"/><circle cx="10.7" cy="56.7" r="0.54" fill="rgb(55,1,1)"/><circle cx="12.5" cy="61.1" r="0.94" fill="rgb(50,1,1)"/><circle cx="13.7" cy="49.7" r="0.65" fill="rgb(147,4,4)"/><circle cx="4.1" cy="52.7" r="0.57" fill="rgb(99,3,3)"/><circle cx="7.2" cy="54.4" r="0.99" fill="rgb(165,5,5)"/><circle cx="4.5" cy="56.0" r="0.59" fill="rgb(173,5,5)"/><circle cx="6.1" cy="45.4" r="0.53" fill="rgb(105,3,3)"/><circle cx="1.4" cy="44.8" r="0.68" fill="rgb(103,3,3)"/><circle cx="7.4" cy="57.3" r="0.87" fill="rgb(108,3,3)"/><circle cx="10.0" cy="51.2" r="0.79" fill="rgb(102,3,3)"/><circle cx="8.8" cy="60.9" r="0.55" fill="rgb(167,5,5)"/><circle cx="1.9" cy="60.8" r="0.78" fill="rgb(150,4,4)"/><circle cx="-0.5" cy="60.3" r="0.62" fill="rgb(152,4,4)"/><circle cx="-2.1" cy="53.1" r="0.61" fill="rgb(140,4,4)"/><circle cx="6.2" cy="53.4" r="0.63" fill="rgb(182,5,5)"/><circle cx="7.9" cy="45.4" r="0.82" fill="rgb(163,5,5)"/><circle cx="6.0" cy="47.3" r="0.87" fill="rgb(133,4,4)"/><circle cx="4.3" cy="50.3" r="0.91" fill="rgb(171,5,5)"/><circle cx="8.6" cy="44.9" r="0.57" fill="rgb(39,1,1)"/><circle cx="4.6" cy="65.1" r="0.51" fill="rgb(154,4,4)"/><circle cx="6.1" cy="44.2" r="0.56" fill="rgb(140,4,4)"/><circle cx="10.5" cy="70.0" r="0.63" fill="rgb(166,5,5)"/><circle cx="7.6" cy="48.5" r="0.60" fill="rgb(181,5,5)"/><circle cx="18.8" cy="48.2" r="0.71" fill="rgb(103,3,3)"/><circle cx="2.3" cy="60.5" r="0.77" fill="rgb(56,1,1)"/><circle cx="16.0" cy="50.0" r="0.61" fill="rgb(71,2,2)"/><circle cx="9.5" cy="47.1" r="0.96" fill="rgb(190,5,5)"/><circle cx="-2.3" cy="61.3" r="0.76" fill="rgb(79,2,2)"/><circle cx="-3.3" cy="46.7" r="0.86" fill="rgb(188,5,5)"/><circle cx="4.0" cy="59.6" r="0.82" fill="rgb(112,3,3)"/><circle cx="49.3" cy="83.6" r="0.65" fill="rgb(69,2,2)"/><circle cx="46.1" cy="74.6" r="0.51" fill="rgb(51,1,1)"/><circle cx="51.1" cy="84.5" r="0.68" fill="rgb(77,2,2)"/><circle cx="8.6" cy="83.0" r="0.81" fill="rgb(166,5,5)"/><circle cx="42.0" cy="83.1" r="0.68" fill="rgb(157,4,4)"/><circle cx="17.2" cy="73.1" r="0.66" fill="rgb(140,4,4)"/><circle cx="19.4" cy="72.3" r="0.61" fill="rgb(90,2,2)"/><circle cx="13.2" cy="79.6" r="0.94" fill="rgb(45,1,1)"/><circle cx="21.3" cy="89.9" r="0.51" fill="rgb(55,1,1)"/><circle cx="12.0" cy="76.0" r="0.75" fill="rgb(61,1,1)"/><circle cx="15.2" cy="84.4" r="0.51" fill="rgb(86,2,2)"/><circle cx="14.8" cy="87.1" r="0.73" fill="rgb(117,3,3)"/><circle cx="27.5" cy="88.0" r="0.89" fill="rgb(162,5,5)"/><circle cx="19.8" cy="68.6" r="0.54" fill="rgb(150,4,4)"/><circle cx="44.5" cy="76.9" r="0.66" fill="rgb(60,1,1)"/><circle cx="35.7" cy="70.6" r="0.98" fill="rgb(97,3,3)"/><circle cx="21.0" cy="93.5" r="0.89" fill="rgb(147,4,4)"/><circle cx="23.1" cy="68.1" r="0.53" fill="rgb(50,1,1)"/><circle cx="24.5" cy="64.4" r="0.91" fill="rgb(40,1,1)"/><circle cx="12.4" cy="81.0" r="0.60" fill="rgb(179,5,5)"/><circle cx="41.3" cy="72.5" r="0.67" fill="rgb(152,4,4)"/><circle cx="26.0" cy="92.4" r="0.53" fill="rgb(147,4,4)"/><circle cx="22.4" cy="88.7" r="0.71" fill="rgb(155,4,4)"/><circle cx="18.7" cy="65.2" r="0.69" fill="rgb(104,3,3)"/><circle cx="20.9" cy="96.1" r="0.70" fill="rgb(64,2,2)"/><circle cx="30.1" cy="91.3" r="0.67" fill="rgb(134,4,4)"/><circle cx="38.5" cy="96.0" r="0.54" fill="rgb(91,2,2)"/><circle cx="13.0" cy="71.8" r="0.54" fill="rgb(52,1,1)"/><circle cx="35.7" cy="87.9" r="0.81" fill="rgb(155,4,4)"/><circle cx="39.4" cy="90.0" r="0.87" fill="rgb(158,4,4)"/><circle cx="26.1" cy="66.3" r="0.98" fill="rgb(106,3,3)"/><circle cx="9.9" cy="84.8" r="0.54" fill="rgb(88,2,2)"/><circle cx="37.8" cy="68.9" r="0.68" fill="rgb(149,4,4)"/><circle cx="12.7" cy="84.8" r="0.58" fill="rgb(97,3,3)"/><circle cx="46.4" cy="78.6" r="0.95" fill="rgb(107,3,3)"/><circle cx="44.0" cy="72.4" r="0.84" fill="rgb(84,2,2)"/><circle cx="14.9" cy="97.1" r="0.86" fill="rgb(73,2,2)"/><circle cx="23.5" cy="84.1" r="0.50" fill="rgb(134,4,4)"/><circle cx="46.7" cy="72.8" r="0.84" fill="rgb(111,3,3)"/><circle cx="20.2" cy="81.7" r="0.56" fill="rgb(116,3,3)"/><circle cx="30.6" cy="88.5" r="0.95" fill="rgb(74,2,2)"/><circle cx="26.7" cy="88.5" r="0.73" fill="rgb(159,4,4)"/><circle cx="44.6" cy="66.8" r="0.91" fill="rgb(68,2,2)"/><circle cx="25.0" cy="89.6" r="1.00" fill="rgb(188,5,5)"/><circle cx="10.8" cy="74.6" r="0.95" fill="rgb(112,3,3)"/><circle cx="24.4" cy="70.3" r="0.78" fill="rgb(190,5,5)"/><circle cx="23.3" cy="71.7" r="0.82" fill="rgb(121,3,3)"/><circle cx="38.6" cy="81.5" r="0.65" fill="rgb(73,2,2)"/><circle cx="21.3" cy="67.8" r="0.85" fill="rgb(190,5,5)"/><circle cx="14.4" cy="73.6" r="0.81" fill="rgb(163,5,5)"/><circle cx="36.6" cy="68.2" r="0.85" fill="rgb(180,5,5)"/><circle cx="34.5" cy="70.5" r="0.54" fill="rgb(148,4,4)"/><circle cx="42.6" cy="72.0" r="0.57" fill="rgb(78,2,2)"/><circle cx="31.3" cy="91.0" r="0.88" fill="rgb(190,5,5)"/><circle cx="8.1" cy="78.8" r="0.87" fill="rgb(132,4,4)"/><circle cx="48.2" cy="73.9" r="0.99" fill="rgb(153,4,4)"/><circle cx="18.5" cy="69.6" r="0.56" fill="rgb(115,3,3)"/><circle cx="19.1" cy="66.6" r="0.73" fill="rgb(116,3,3)"/><circle cx="37.4" cy="89.9" r="0.61" fill="rgb(138,4,4)"/><circle cx="28.9" cy="68.5" r="0.94" fill="rgb(51,1,1)"/><circle cx="13.3" cy="81.3" r="0.99" fill="rgb(190,5,5)"/><circle cx="14.1" cy="89.2" r="0.99" fill="rgb(124,3,3)"/><circle cx="18.3" cy="63.9" r="0.90" fill="rgb(79,2,2)"/><circle cx="49.7" cy="77.0" r="0.75" fill="rgb(136,4,4)"/><circle cx="24.8" cy="70.6" r="0.92" fill="rgb(129,4,4)"/><circle cx="47.1" cy="77.8" r="0.80" fill="rgb(150,4,4)"/><circle cx="20.1" cy="88.8" r="0.65" fill="rgb(154,4,4)"/><circle cx="18.8" cy="71.0" r="0.88" fill="rgb(108,3,3)"/><circle cx="43.2" cy="70.9" r="0.65" fill="rgb(74,2,2)"/><circle cx="19.6" cy="71.4" r="0.69" fill="rgb(147,4,4)"/><circle cx="33.5" cy="68.4" r="0.80" fill="rgb(86,2,2)"/><circle cx="42.8" cy="86.3" r="0.82" fill="rgb(96,3,3)"/><circle cx="36.4" cy="87.2" r="0.90" fill="rgb(66,2,2)"/><circle cx="42.2" cy="72.2" r="0.94" fill="rgb(76,2,2)"/><circle cx="38.5" cy="67.7" r="0.59" fill="rgb(165,5,5)"/><circle cx="10.3" cy="82.3" r="0.92" fill="rgb(186,5,5)"/><circle cx="44.3" cy="77.2" r="1.00" fill="rgb(151,4,4)"/><circle cx="18.8" cy="89.7" r="0.93" fill="rgb(170,5,5)"/><circle cx="11.1" cy="77.3" r="0.58" fill="rgb(184,5,5)"/><circle cx="27.8" cy="66.3" r="0.56" fill="rgb(49,1,1)"/><circle cx="12.1" cy="83.0" r="0.86" fill="rgb(131,4,4)"/><circle cx="44.6" cy="82.6" r="0.84" fill="rgb(79,2,2)"/><circle cx="16.3" cy="84.3" r="0.62" fill="rgb(93,2,2)"/><circle cx="14.5" cy="83.9" r="0.94" fill="rgb(178,5,5)"/><circle cx="14.0" cy="81.0" r="1.00" fill="rgb(38,1,1)"/><circle cx="17.3" cy="80.1" r="0.59" fill="rgb(105,3,3)"/><circle cx="25.2" cy="64.8" r="0.92" fill="rgb(87,2,2)"/><circle cx="9.8" cy="76.2" r="0.59" fill="rgb(73,2,2)"/><circle cx="33.8" cy="88.9" r="0.97" fill="rgb(87,2,2)"/><circle cx="13.3" cy="86.2" r="0.66" fill="rgb(69,2,2)"/><circle cx="35.3" cy="64.4" r="0.63" fill="rgb(172,5,5)"/><circle cx="12.2" cy="75.0" r="0.51" fill="rgb(171,5,5)"/><circle cx="27.2" cy="90.2" r="0.59" fill="rgb(40,1,1)"/><circle cx="18.2" cy="92.3" r="0.71" fill="rgb(103,3,3)"/><circle cx="26.3" cy="64.8" r="0.62" fill="rgb(65,2,2)"/><circle cx="49.3" cy="83.8" r="0.98" fill="rgb(129,4,4)"/><circle cx="9.9" cy="79.8" r="0.56" fill="rgb(95,2,2)"/><circle cx="17.9" cy="85.0" r="0.72" fill="rgb(70,2,2)"/><circle cx="42.1" cy="68.6" r="0.58" fill="rgb(171,5,5)"/><circle cx="45.5" cy="81.9" r="0.92" fill="rgb(119,3,3)"/><circle cx="32.3" cy="65.0" r="0.90" fill="rgb(42,1,1)"/><circle cx="43.7" cy="73.5" r="0.71" fill="rgb(182,5,5)"/><circle cx="13.6" cy="84.9" r="0.51" fill="rgb(133,4,4)"/><circle cx="14.1" cy="80.4" r="0.61" fill="rgb(72,2,2)"/><circle cx="40.8" cy="89.2" r="0.89" fill="rgb(96,3,3)"/><circle cx="26.2" cy="66.8" r="0.80" fill="rgb(43,1,1)"/><circle cx="29.9" cy="67.0" r="0.92" fill="rgb(153,4,4)"/><circle cx="41.5" cy="86.4" r="0.88" fill="rgb(125,3,3)"/><circle cx="27.8" cy="68.2" r="0.73" fill="rgb(155,4,4)"/><circle cx="21.3" cy="66.8" r="0.50" fill="rgb(158,4,4)"/><circle cx="46.2" cy="75.9" r="0.71" fill="rgb(72,2,2)"/><circle cx="46.9" cy="84.9" r="0.62" fill="rgb(41,1,1)"/><circle cx="38.7" cy="69.9" r="0.80" fill="rgb(76,2,2)"/><circle cx="15.5" cy="69.5" r="0.52" fill="rgb(118,3,3)"/><circle cx="15.4" cy="86.7" r="0.71" fill="rgb(43,1,1)"/><circle cx="28.5" cy="66.4" r="0.59" fill="rgb(190,5,5)"/><circle cx="47.8" cy="82.2" r="0.97" fill="rgb(119,3,3)"/><circle cx="30.2" cy="91.5" r="0.69" fill="rgb(136,4,4)"/><circle cx="28.9" cy="91.9" r="0.86" fill="rgb(45,1,1)"/><circle cx="44.9" cy="81.5" r="0.93" fill="rgb(173,5,5)"/><circle cx="63.7" cy="89.4" r="0.67" fill="rgb(166,5,5)"/><circle cx="72.7" cy="70.0" r="0.80" fill="rgb(104,3,3)"/><circle cx="60.3" cy="77.4" r="0.88" fill="rgb(81,2,2)"/><circle cx="58.5" cy="85.8" r="0.54" fill="rgb(169,5,5)"/><circle cx="71.3" cy="89.6" r="0.56" fill="rgb(131,4,4)"/><circle cx="59.0" cy="78.0" r="0.69" fill="rgb(190,5,5)"/><circle cx="84.6" cy="79.5" r="0.79" fill="rgb(152,4,4)"/><circle cx="71.9" cy="87.4" r="0.64" fill="rgb(201,6,6)"/><circle cx="73.9" cy="74.3" r="0.64" fill="rgb(215,6,6)"/><circle cx="62.8" cy="74.7" r="0.94" fill="rgb(206,6,6)"/><circle cx="60.4" cy="73.1" r="0.60" fill="rgb(78,2,2)"/><circle cx="63.4" cy="86.1" r="0.95" fill="rgb(169,5,5)"/><circle cx="60.5" cy="85.8" r="0.53" fill="rgb(85,2,2)"/><circle cx="67.7" cy="70.7" r="0.58" fill="rgb(138,4,4)"/><circle cx="82.0" cy="85.9" r="0.99" fill="rgb(93,2,2)"/><circle cx="80.7" cy="88.4" r="0.71" fill="rgb(122,3,3)"/><circle cx="59.4" cy="79.0" r="0.60" fill="rgb(56,1,1)"/><circle cx="86.5" cy="81.2" r="0.74" fill="rgb(127,3,3)"/><circle cx="68.0" cy="87.2" r="0.92" fill="rgb(145,4,4)"/><circle cx="75.1" cy="69.2" r="0.57" fill="rgb(81,2,2)"/><circle cx="87.3" cy="80.9" r="0.94" fill="rgb(182,5,5)"/><circle cx="85.3" cy="85.7" r="0.85" fill="rgb(142,4,4)"/><circle cx="69.7" cy="70.7" r="0.73" fill="rgb(144,4,4)"/><circle cx="71.6" cy="71.1" r="0.70" fill="rgb(98,3,3)"/><circle cx="60.5" cy="75.7" r="0.84" fill="rgb(76,2,2)"/><circle cx="58.5" cy="81.2" r="0.88" fill="rgb(92,2,2)"/><circle cx="69.7" cy="87.8" r="0.70" fill="rgb(100,3,3)"/><circle cx="70.4" cy="87.4" r="0.82" fill="rgb(101,3,3)"/><circle cx="78.1" cy="70.9" r="0.69" fill="rgb(142,4,4)"/><circle cx="76.1" cy="67.5" r="0.64" fill="rgb(93,2,2)"/><circle cx="80.4" cy="70.5" r="0.77" fill="rgb(160,5,5)"/><circle cx="81.1" cy="86.0" r="0.96" fill="rgb(88,2,2)"/><circle cx="70.6" cy="73.5" r="0.73" fill="rgb(164,5,5)"/><circle cx="78.1" cy="88.3" r="0.60" fill="rgb(58,1,1)"/><circle cx="80.2" cy="83.8" r="0.70" fill="rgb(104,3,3)"/><circle cx="77.6" cy="67.6" r="0.63" fill="rgb(213,6,6)"/><circle cx="65.2" cy="76.3" r="0.89" fill="rgb(210,6,6)"/><circle cx="83.3" cy="85.0" r="0.53" fill="rgb(152,4,4)"/><circle cx="57.8" cy="83.2" r="0.69" fill="rgb(97,3,3)"/><circle cx="75.7" cy="93.2" r="0.76" fill="rgb(197,6,6)"/><circle cx="72.0" cy="71.4" r="0.52" fill="rgb(84,2,2)"/><circle cx="86.2" cy="82.8" r="0.92" fill="rgb(96,3,3)"/><circle cx="65.8" cy="69.8" r="0.84" fill="rgb(205,6,6)"/><circle cx="62.7" cy="69.7" r="0.64" fill="rgb(203,6,6)"/><circle cx="70.2" cy="72.4" r="0.54" fill="rgb(200,6,6)"/><circle cx="62.4" cy="83.4" r="0.71" fill="rgb(92,2,2)"/><circle cx="59.1" cy="78.1" r="0.95" fill="rgb(118,3,3)"/><circle cx="75.3" cy="66.9" r="0.64" fill="rgb(77,2,2)"/><circle cx="76.7" cy="72.5" r="0.69" fill="rgb(164,5,5)"/><circle cx="82.4" cy="78.9" r="0.87" fill="rgb(96,3,3)"/><circle cx="61.1" cy="73.8" r="0.79" fill="rgb(154,4,4)"/><circle cx="86.0" cy="75.6" r="0.98" fill="rgb(56,1,1)"/><circle cx="72.2" cy="69.9" r="0.55" fill="rgb(129,4,4)"/><circle cx="59.4" cy="79.4" r="0.95" fill="rgb(83,2,2)"/><circle cx="80.9" cy="72.8" r="0.62" fill="rgb(200,6,6)"/><circle cx="66.4" cy="71.9" r="0.58" fill="rgb(143,4,4)"/><circle cx="81.2" cy="85.6" r="0.54" fill="rgb(51,1,1)"/><circle cx="69.6" cy="70.1" r="0.92" fill="rgb(188,5,5)"/><circle cx="61.6" cy="75.8" r="0.56" fill="rgb(206,6,6)"/><circle cx="69.7" cy="89.7" r="0.89" fill="rgb(55,1,1)"/><circle cx="62.9" cy="73.7" r="0.58" fill="rgb(125,3,3)"/><circle cx="84.0" cy="81.9" r="0.84" fill="rgb(103,3,3)"/><circle cx="81.4" cy="90.0" r="0.79" fill="rgb(64,2,2)"/><circle cx="66.3" cy="79.5" r="0.64" fill="rgb(80,2,2)"/><circle cx="84.9" cy="81.7" r="0.76" fill="rgb(72,2,2)"/><circle cx="85.8" cy="82.4" r="0.61" fill="rgb(187,5,5)"/><circle cx="67.1" cy="93.2" r="0.80" fill="rgb(160,5,5)"/><circle cx="67.3" cy="88.7" r="0.71" fill="rgb(110,3,3)"/><circle cx="54.6" cy="86.2" r="0.68" fill="rgb(163,5,5)"/><circle cx="82.6" cy="81.0" r="0.94" fill="rgb(135,4,4)"/><circle cx="61.0" cy="78.9" r="0.91" fill="rgb(103,3,3)"/><circle cx="65.5" cy="71.8" r="0.55" fill="rgb(105,3,3)"/><circle cx="61.7" cy="71.4" r="0.98" fill="rgb(137,4,4)"/><circle cx="72.5" cy="89.8" r="0.96" fill="rgb(145,4,4)"/><circle cx="80.0" cy="80.1" r="0.78" fill="rgb(89,2,2)"/><circle cx="65.0" cy="84.7" r="0.73" fill="rgb(54,1,1)"/><circle cx="77.5" cy="67.1" r="0.57" fill="rgb(118,3,3)"/><circle cx="78.4" cy="85.9" r="0.83" fill="rgb(76,2,2)"/><circle cx="62.1" cy="71.7" r="0.90" fill="rgb(103,3,3)"/><circle cx="63.8" cy="87.9" r="0.51" fill="rgb(75,2,2)"/><circle cx="75.5" cy="88.2" r="0.80" fill="rgb(131,4,4)"/><circle cx="59.5" cy="85.0" r="0.52" fill="rgb(89,2,2)"/><circle cx="85.5" cy="80.6" r="0.59" fill="rgb(71,2,2)"/><circle cx="87.1" cy="80.3" r="0.65" fill="rgb(188,5,5)"/><circle cx="82.1" cy="85.0" r="0.61" fill="rgb(171,5,5)"/><circle cx="85.3" cy="78.7" r="0.73" fill="rgb(186,5,5)"/><circle cx="78.2" cy="75.6" r="0.53" fill="rgb(62,1,1)"/><circle cx="77.8" cy="87.9" r="0.55" fill="rgb(119,3,3)"/><circle cx="81.5" cy="73.0" r="0.80" fill="rgb(95,2,2)"/><circle cx="71.9" cy="70.9" r="0.59" fill="rgb(158,4,4)"/><circle cx="66.2" cy="69.0" r="0.63" fill="rgb(75,2,2)"/><circle cx="71.4" cy="88.6" r="0.68" fill="rgb(51,1,1)"/><circle cx="80.1" cy="70.6" r="0.99" fill="rgb(91,2,2)"/><circle cx="85.2" cy="75.4" r="0.59" fill="rgb(112,3,3)"/><circle cx="85.9" cy="83.3" r="1.00" fill="rgb(67,2,2)"/><circle cx="87.3" cy="79.4" r="0.56" fill="rgb(134,4,4)"/><circle cx="67.9" cy="69.9" r="0.89" fill="rgb(110,3,3)"/><circle cx="86.0" cy="85.5" r="0.75" fill="rgb(63,2,2)"/><circle cx="75.1" cy="87.4" r="0.59" fill="rgb(188,5,5)"/><circle cx="71.4" cy="62.4" r="0.53" fill="rgb(126,3,3)"/><circle cx="81.4" cy="55.9" r="0.72" fill="rgb(96,3,3)"/><circle cx="83.0" cy="54.7" r="0.88" fill="rgb(176,5,5)"/><circle cx="86.6" cy="60.9" r="0.54" fill="rgb(104,3,3)"/><circle cx="82.3" cy="62.9" r="0.60" fill="rgb(115,3,3)"/><circle cx="81.0" cy="55.8" r="0.75" fill="rgb(79,2,2)"/><circle cx="80.8" cy="58.4" r="0.68" fill="rgb(168,5,5)"/><circle cx="80.5" cy="61.4" r="0.88" fill="rgb(67,2,2)"/><circle cx="85.9" cy="56.2" r="0.52" fill="rgb(60,1,1)"/><circle cx="84.8" cy="55.1" r="0.75" fill="rgb(168,5,5)"/><circle cx="80.9" cy="52.9" r="0.95" fill="rgb(151,4,4)"/><circle cx="83.1" cy="52.6" r="0.51" fill="rgb(120,3,3)"/><circle cx="82.7" cy="48.0" r="0.64" fill="rgb(157,4,4)"/><circle cx="83.6" cy="56.2" r="0.73" fill="rgb(166,5,5)"/><circle cx="81.3" cy="56.1" r="0.78" fill="rgb(123,3,3)"/><circle cx="89.1" cy="59.5" r="0.82" fill="rgb(114,3,3)"/><circle cx="22.3" cy="77.1" r="0.55" fill="rgb(62,1,1)"/><circle cx="50.1" cy="50.8" r="0.72" fill="rgb(51,1,1)"/><circle cx="59.8" cy="16.6" r="0.71" fill="rgb(59,1,1)"/><circle cx="46.1" cy="39.0" r="0.59" fill="rgb(24,0,0)"/><circle cx="46.0" cy="59.1" r="0.45" fill="rgb(17,0,0)"/><circle cx="15.1" cy="30.1" r="0.44" fill="rgb(25,0,0)"/><circle cx="75.6" cy="30.9" r="0.71" fill="rgb(44,1,1)"/><circle cx="12.8" cy="75.1" r="0.61" fill="rgb(38,1,1)"/><circle cx="9.7" cy="28.8" r="0.79" fill="rgb(14,0,0)"/><circle cx="77.1" cy="74.8" r="0.43" fill="rgb(30,0,0)"/><circle cx="82.0" cy="9.8" r="0.42" fill="rgb(49,1,1)"/><circle cx="84.5" cy="73.8" r="0.67" fill="rgb(36,1,1)"/><circle cx="7.0" cy="60.9" r="0.57" fill="rgb(26,0,0)"/><circle cx="16.0" cy="37.7" r="0.53" fill="rgb(60,1,1)"/><circle cx="66.7" cy="8.1" r="0.41" fill="rgb(54,1,1)"/><circle cx="50.5" cy="24.4" r="0.60" fill="rgb(22,0,0)"/><circle cx="33.4" cy="6.3" r="0.55" fill="rgb(63,1,1)"/><circle cx="41.8" cy="57.2" r="0.74" fill="rgb(44,1,1)"/><circle cx="76.7" cy="80.0" r="0.73" fill="rgb(55,1,1)"/><circle cx="40.4" cy="76.9" r="0.79" fill="rgb(23,0,0)"/><circle cx="71.1" cy="7.7" r="0.75" fill="rgb(28,0,0)"/><circle cx="13.2" cy="30.5" r="0.63" fill="rgb(73,2,2)"/><circle cx="58.0" cy="69.6" r="0.61" fill="rgb(45,1,1)"/><circle cx="6.2" cy="77.6" r="0.49" fill="rgb(63,1,1)"/><circle cx="28.3" cy="20.1" r="0.70" fill="rgb(26,0,0)"/><circle cx="72.7" cy="38.5" r="0.78" fill="rgb(58,1,1)"/><circle cx="28.2" cy="60.1" r="0.79" fill="rgb(30,0,0)"/><circle cx="60.1" cy="45.1" r="0.53" fill="rgb(49,1,1)"/><circle cx="16.1" cy="37.4" r="0.55" fill="rgb(57,1,1)"/><circle cx="17.8" cy="34.3" r="0.77" fill="rgb(54,1,1)"/><circle cx="54.5" cy="71.6" r="0.60" fill="rgb(62,1,1)"/><circle cx="27.2" cy="72.0" r="0.45" fill="rgb(40,1,1)"/><circle cx="4.1" cy="71.6" r="0.53" fill="rgb(50,1,1)"/><circle cx="1.5" cy="20.1" r="0.65" fill="rgb(68,2,2)"/><circle cx="39.0" cy="1.9" r="0.42" fill="rgb(47,1,1)"/><circle cx="7.3" cy="49.5" r="0.70" fill="rgb(70,2,2)"/><circle cx="8.2" cy="73.3" r="0.61" fill="rgb(63,1,1)"/><circle cx="66.3" cy="7.8" r="0.57" fill="rgb(19,0,0)"/><circle cx="46.3" cy="67.7" r="0.62" fill="rgb(30,0,0)"/><circle cx="76.5" cy="69.8" r="0.53" fill="rgb(18,0,0)"/><circle cx="8.6" cy="46.5" r="0.56" fill="rgb(37,1,1)"/><circle cx="32.9" cy="59.8" r="0.56" fill="rgb(71,2,2)"/><circle cx="80.0" cy="5.5" r="0.71" fill="rgb(12,0,0)"/><circle cx="29.8" cy="44.1" r="0.70" fill="rgb(24,0,0)"/><circle cx="48.0" cy="29.0" r="0.78" fill="rgb(38,1,1)"/><circle cx="19.7" cy="3.6" r="0.44" fill="rgb(50,1,1)"/><circle cx="39.6" cy="47.1" r="0.69" fill="rgb(50,1,1)"/><circle cx="68.1" cy="73.9" r="0.75" fill="rgb(58,1,1)"/><circle cx="83.1" cy="37.4" r="0.69" fill="rgb(68,2,2)"/><circle cx="67.1" cy="6.1" r="0.75" fill="rgb(59,1,1)"/></g></g>
</g>
<rect x="79.5" y="83.8" width="4.5" height="0.6" fill="#ccc"/>
</g>
<g transform="translate(512.0,459.0)" clip-path="url(#cp)">
<rect x="0" y="0" width="86.0" height="86.0" fill="#000"/>
<g clip-path="url(#cp)">
<g><g filter="url(#bl1)"><ellipse cx="44.3" cy="41.5" rx="16.0" ry="10.0" transform="rotate(12 44.3 41.5)" fill="rgb(3,4,40)" stroke="rgb(6,8,84)" stroke-width="0.9"/><circle cx="34.1" cy="46.1" r="0.62" fill="rgb(6,8,84)"/><circle cx="37.7" cy="31.9" r="0.53" fill="rgb(7,9,94)"/><circle cx="58.7" cy="45.2" r="0.47" fill="rgb(7,9,98)"/><circle cx="36.5" cy="49.5" r="0.79" fill="rgb(8,10,107)"/><circle cx="41.7" cy="51.8" r="0.73" fill="rgb(5,6,68)"/><circle cx="30.8" cy="41.0" r="0.71" fill="rgb(6,7,79)"/><circle cx="44.7" cy="51.0" r="0.79" fill="rgb(6,8,81)"/><circle cx="29.4" cy="43.1" r="0.72" fill="rgb(8,10,107)"/><circle cx="37.2" cy="51.3" r="0.82" fill="rgb(7,9,100)"/><circle cx="29.0" cy="36.7" r="0.52" fill="rgb(5,7,73)"/><circle cx="37.7" cy="49.0" r="0.75" fill="rgb(7,9,97)"/><circle cx="59.1" cy="45.4" r="0.82" fill="rgb(6,8,88)"/><circle cx="56.3" cy="40.0" r="0.63" fill="rgb(7,9,93)"/><circle cx="29.1" cy="38.3" r="0.41" fill="rgb(5,7,73)"/><circle cx="44.0" cy="50.5" r="0.67" fill="rgb(7,9,95)"/><circle cx="30.5" cy="44.5" r="0.56" fill="rgb(6,8,88)"/><circle cx="59.4" cy="41.8" r="0.81" fill="rgb(6,7,76)"/><circle cx="53.9" cy="48.6" r="0.45" fill="rgb(5,7,72)"/><circle cx="57.2" cy="44.7" r="0.46" fill="rgb(7,9,96)"/><circle cx="57.0" cy="41.1" r="0.78" fill="rgb(5,7,73)"/><circle cx="36.2" cy="32.4" r="0.41" fill="rgb(7,8,89)"/><circle cx="58.9" cy="39.6" r="0.45" fill="rgb(5,7,73)"/><circle cx="30.6" cy="45.4" r="0.77" fill="rgb(6,8,86)"/><circle cx="58.5" cy="46.9" r="0.42" fill="rgb(5,7,75)"/><circle cx="38.1" cy="31.1" r="0.45" fill="rgb(5,7,76)"/><circle cx="31.1" cy="43.4" r="0.45" fill="rgb(5,7,72)"/><circle cx="29.4" cy="42.4" r="0.84" fill="rgb(8,10,104)"/><circle cx="30.6" cy="42.4" r="0.51" fill="rgb(5,7,75)"/><circle cx="38.2" cy="31.2" r="0.50" fill="rgb(6,8,85)"/><circle cx="56.7" cy="45.3" r="0.55" fill="rgb(6,7,79)"/><circle cx="55.6" cy="52.2" r="0.55" fill="rgb(6,8,88)"/><circle cx="28.6" cy="35.8" r="0.64" fill="rgb(7,9,92)"/><circle cx="29.9" cy="38.3" r="0.72" fill="rgb(7,9,95)"/><circle cx="43.8" cy="31.8" r="0.56" fill="rgb(6,8,86)"/><circle cx="51.3" cy="33.9" r="0.57" fill="rgb(5,7,74)"/><circle cx="42.6" cy="32.0" r="0.60" fill="rgb(6,8,83)"/><circle cx="44.8" cy="50.0" r="0.72" fill="rgb(6,7,76)"/><circle cx="30.9" cy="44.8" r="0.71" fill="rgb(5,6,69)"/><circle cx="59.1" cy="38.4" r="0.47" fill="rgb(8,10,107)"/><circle cx="40.8" cy="31.5" r="0.51" fill="rgb(6,8,88)"/><circle cx="55.0" cy="35.2" r="0.72" fill="rgb(7,9,98)"/><circle cx="56.8" cy="39.7" r="0.66" fill="rgb(7,9,93)"/><circle cx="50.3" cy="34.0" r="0.69" fill="rgb(6,8,82)"/><circle cx="42.9" cy="31.8" r="0.77" fill="rgb(8,10,105)"/><circle cx="56.5" cy="51.3" r="0.77" fill="rgb(8,10,109)"/><circle cx="52.1" cy="34.0" r="0.88" fill="rgb(5,7,73)"/><circle cx="47.9" cy="50.3" r="0.46" fill="rgb(8,10,107)"/><circle cx="44.2" cy="50.3" r="0.50" fill="rgb(6,8,85)"/><circle cx="48.8" cy="51.5" r="0.42" fill="rgb(5,7,73)"/><circle cx="39.6" cy="31.6" r="0.79" fill="rgb(7,9,99)"/><circle cx="35.0" cy="44.8" r="0.46" fill="rgb(6,7,77)"/><circle cx="41.5" cy="42.6" r="0.59" fill="rgb(4,5,55)"/><circle cx="44.0" cy="37.6" r="0.41" fill="rgb(4,5,55)"/><circle cx="58.1" cy="46.2" r="0.61" fill="rgb(5,7,74)"/><circle cx="38.8" cy="39.2" r="0.77" fill="rgb(5,6,67)"/><circle cx="64.0" cy="45.0" r="0.57" fill="rgb(5,6,70)"/><circle cx="30.1" cy="46.6" r="0.48" fill="rgb(3,4,50)"/><circle cx="50.5" cy="42.6" r="0.82" fill="rgb(4,6,63)"/><circle cx="47.5" cy="40.6" r="0.88" fill="rgb(4,5,54)"/><circle cx="47.4" cy="39.7" r="0.69" fill="rgb(5,6,69)"/><circle cx="50.8" cy="40.8" r="0.82" fill="rgb(3,4,50)"/><circle cx="50.5" cy="38.6" r="0.67" fill="rgb(6,7,80)"/><circle cx="40.9" cy="46.6" r="0.69" fill="rgb(4,5,58)"/><circle cx="48.4" cy="44.9" r="0.54" fill="rgb(5,6,68)"/><circle cx="42.1" cy="42.4" r="0.74" fill="rgb(6,7,79)"/><circle cx="40.3" cy="39.2" r="0.55" fill="rgb(6,7,80)"/><circle cx="34.6" cy="43.7" r="0.44" fill="rgb(5,7,75)"/><circle cx="48.2" cy="39.6" r="0.55" fill="rgb(5,6,70)"/><circle cx="55.1" cy="39.5" r="0.41" fill="rgb(4,5,52)"/><circle cx="49.3" cy="38.9" r="0.88" fill="rgb(4,6,63)"/><circle cx="46.6" cy="39.1" r="0.88" fill="rgb(5,6,64)"/><circle cx="48.5" cy="41.6" r="0.44" fill="rgb(4,6,62)"/><circle cx="60.7" cy="38.7" r="0.86" fill="rgb(4,6,62)"/><circle cx="45.6" cy="35.0" r="0.82" fill="rgb(6,7,80)"/><circle cx="49.7" cy="35.6" r="0.56" fill="rgb(4,5,54)"/><ellipse cx="23.4" cy="3.5" rx="12.4" ry="6.5" transform="rotate(0 23.4 3.5)" fill="rgb(3,4,40)" stroke="rgb(6,8,84)" stroke-width="0.9"/><circle cx="13.5" cy="6.4" r="0.48" fill="rgb(5,7,75)"/><circle cx="21.8" cy="-3.4" r="0.42" fill="rgb(5,6,70)"/><circle cx="35.6" cy="3.5" r="0.77" fill="rgb(6,7,78)"/><circle cx="32.7" cy="7.4" r="0.65" fill="rgb(6,8,82)"/><circle cx="35.8" cy="3.6" r="0.61" fill="rgb(5,7,72)"/><circle cx="12.8" cy="6.6" r="0.64" fill="rgb(8,10,106)"/><circle cx="14.4" cy="-0.3" r="0.49" fill="rgb(6,8,83)"/><circle cx="35.3" cy="1.6" r="0.88" fill="rgb(5,7,73)"/><circle cx="16.1" cy="-1.5" r="0.78" fill="rgb(7,9,93)"/><circle cx="31.5" cy="6.2" r="0.53" fill="rgb(8,10,106)"/><circle cx="33.9" cy="0.0" r="0.79" fill="rgb(7,9,100)"/><circle cx="14.5" cy="7.1" r="0.57" fill="rgb(6,8,86)"/><circle cx="11.8" cy="2.0" r="0.90" fill="rgb(6,8,84)"/><circle cx="13.4" cy="6.8" r="0.69" fill="rgb(7,8,89)"/><circle cx="19.7" cy="-2.3" r="0.42" fill="rgb(6,7,78)"/><circle cx="15.9" cy="8.2" r="0.89" fill="rgb(6,8,88)"/><circle cx="31.7" cy="8.2" r="0.61" fill="rgb(7,9,93)"/><circle cx="21.3" cy="-2.2" r="0.52" fill="rgb(6,8,84)"/><circle cx="36.9" cy="3.9" r="0.81" fill="rgb(5,7,75)"/><circle cx="15.7" cy="-0.6" r="0.62" fill="rgb(5,7,73)"/><circle cx="26.3" cy="10.0" r="0.70" fill="rgb(5,7,73)"/><circle cx="14.1" cy="0.5" r="0.85" fill="rgb(5,7,75)"/><circle cx="24.6" cy="10.0" r="0.63" fill="rgb(8,10,105)"/><circle cx="22.3" cy="-2.5" r="0.56" fill="rgb(6,7,81)"/><circle cx="23.7" cy="10.3" r="0.47" fill="rgb(6,7,78)"/><circle cx="29.1" cy="-2.1" r="0.46" fill="rgb(5,6,70)"/><circle cx="34.1" cy="5.4" r="0.53" fill="rgb(6,8,89)"/><circle cx="22.1" cy="-2.4" r="0.89" fill="rgb(5,6,69)"/><circle cx="16.1" cy="8.9" r="0.73" fill="rgb(6,7,81)"/><circle cx="12.7" cy="6.2" r="0.55" fill="rgb(8,10,108)"/><circle cx="27.2" cy="-1.6" r="0.71" fill="rgb(6,7,78)"/><circle cx="22.0" cy="2.6" r="0.47" fill="rgb(6,7,79)"/><circle cx="15.7" cy="2.1" r="0.68" fill="rgb(6,7,78)"/><circle cx="24.3" cy="5.0" r="0.51" fill="rgb(5,7,72)"/><circle cx="18.4" cy="1.7" r="0.50" fill="rgb(4,6,62)"/><circle cx="22.9" cy="4.6" r="0.88" fill="rgb(5,7,75)"/><circle cx="24.7" cy="1.1" r="0.82" fill="rgb(5,7,75)"/><circle cx="24.7" cy="10.0" r="0.80" fill="rgb(3,4,50)"/><circle cx="25.1" cy="4.2" r="0.74" fill="rgb(4,5,54)"/><circle cx="24.2" cy="4.0" r="0.62" fill="rgb(4,5,58)"/><circle cx="20.5" cy="2.9" r="0.75" fill="rgb(5,6,69)"/><circle cx="13.2" cy="7.6" r="0.70" fill="rgb(5,6,66)"/><circle cx="23.7" cy="5.7" r="0.76" fill="rgb(4,5,60)"/><circle cx="27.4" cy="5.2" r="0.65" fill="rgb(4,5,53)"/><circle cx="23.8" cy="9.4" r="0.81" fill="rgb(4,6,63)"/><ellipse cx="29" cy="79" rx="14.3" ry="10" transform="rotate(0 29 79)" fill="rgb(3,3,38)" stroke="rgb(6,7,76)" stroke-width="0.9"/><circle cx="29.7" cy="69.8" r="0.67" fill="rgb(4,6,63)"/><circle cx="18.7" cy="73.5" r="0.67" fill="rgb(5,6,65)"/><circle cx="15.4" cy="78.0" r="0.89" fill="rgb(7,9,92)"/><circle cx="42.9" cy="83.3" r="0.70" fill="rgb(6,8,82)"/><circle cx="40.7" cy="74.3" r="0.58" fill="rgb(5,7,74)"/><circle cx="36.8" cy="70.8" r="0.84" fill="rgb(6,8,84)"/><circle cx="29.9" cy="70.1" r="0.62" fill="rgb(6,8,87)"/><circle cx="22.8" cy="87.7" r="0.81" fill="rgb(6,7,78)"/><circle cx="29.5" cy="87.0" r="0.58" fill="rgb(5,7,73)"/><circle cx="15.6" cy="78.3" r="0.88" fill="rgb(7,8,91)"/><circle cx="26.4" cy="69.7" r="0.74" fill="rgb(5,7,72)"/><circle cx="14.1" cy="77.3" r="0.48" fill="rgb(7,9,96)"/><circle cx="23.0" cy="71.4" r="0.78" fill="rgb(5,7,74)"/><circle cx="19.8" cy="73.6" r="0.46" fill="rgb(6,8,87)"/><circle cx="21.0" cy="84.8" r="0.55" fill="rgb(5,6,68)"/><circle cx="33.0" cy="70.2" r="0.55" fill="rgb(7,9,95)"/><circle cx="42.0" cy="74.8" r="0.87" fill="rgb(6,8,86)"/><circle cx="19.6" cy="71.0" r="0.47" fill="rgb(6,7,77)"/><circle cx="34.4" cy="69.0" r="0.55" fill="rgb(5,7,72)"/><circle cx="35.9" cy="70.8" r="0.58" fill="rgb(6,7,80)"/><circle cx="41.7" cy="78.9" r="0.56" fill="rgb(6,8,83)"/><circle cx="44.3" cy="82.8" r="0.89" fill="rgb(6,7,79)"/><circle cx="14.3" cy="79.3" r="0.41" fill="rgb(5,7,74)"/><circle cx="42.2" cy="80.3" r="0.42" fill="rgb(7,9,94)"/><circle cx="31.9" cy="69.9" r="0.59" fill="rgb(6,8,83)"/><circle cx="25.2" cy="87.0" r="0.71" fill="rgb(7,8,91)"/><circle cx="19.1" cy="85.4" r="0.51" fill="rgb(7,9,96)"/><circle cx="36.3" cy="70.2" r="0.55" fill="rgb(5,6,65)"/><circle cx="15.4" cy="78.9" r="0.78" fill="rgb(5,7,75)"/><circle cx="33.1" cy="87.4" r="0.80" fill="rgb(6,8,88)"/><circle cx="18.8" cy="85.0" r="0.78" fill="rgb(6,8,86)"/><circle cx="17.3" cy="75.5" r="0.55" fill="rgb(6,8,85)"/><circle cx="29.7" cy="89.4" r="0.78" fill="rgb(4,6,63)"/><circle cx="38.9" cy="85.3" r="0.57" fill="rgb(5,6,68)"/><circle cx="20.2" cy="84.8" r="0.46" fill="rgb(6,8,86)"/><circle cx="37.8" cy="85.1" r="0.78" fill="rgb(7,9,94)"/><circle cx="25.3" cy="70.3" r="0.76" fill="rgb(7,9,93)"/><circle cx="39.8" cy="85.7" r="0.53" fill="rgb(7,9,94)"/><circle cx="31.3" cy="69.5" r="0.42" fill="rgb(5,7,72)"/><circle cx="37.2" cy="70.9" r="0.68" fill="rgb(5,6,67)"/><circle cx="30.5" cy="80.5" r="0.59" fill="rgb(3,4,50)"/><circle cx="34.7" cy="82.1" r="0.48" fill="rgb(3,4,46)"/><circle cx="38.7" cy="80.6" r="0.73" fill="rgb(3,4,46)"/><circle cx="39.9" cy="76.8" r="0.41" fill="rgb(5,7,73)"/><circle cx="33.0" cy="79.0" r="0.46" fill="rgb(4,6,62)"/><circle cx="26.8" cy="76.6" r="0.69" fill="rgb(5,6,69)"/><circle cx="32.2" cy="80.0" r="0.79" fill="rgb(3,4,46)"/><circle cx="27.7" cy="82.0" r="0.69" fill="rgb(3,4,46)"/><circle cx="36.8" cy="79.1" r="0.76" fill="rgb(3,4,47)"/><circle cx="26.0" cy="77.2" r="0.81" fill="rgb(5,6,66)"/><circle cx="26.0" cy="76.9" r="0.63" fill="rgb(5,7,75)"/><circle cx="20.5" cy="78.6" r="0.78" fill="rgb(4,5,54)"/><circle cx="23.6" cy="89.2" r="0.75" fill="rgb(4,5,51)"/><circle cx="24.1" cy="78.3" r="0.74" fill="rgb(5,6,66)"/><circle cx="33.5" cy="74.9" r="0.47" fill="rgb(4,6,61)"/><circle cx="34.0" cy="81.8" r="0.61" fill="rgb(4,5,57)"/><circle cx="29.0" cy="81.4" r="0.53" fill="rgb(5,6,66)"/><circle cx="32.2" cy="83.0" r="0.88" fill="rgb(5,7,75)"/><circle cx="29.2" cy="74.2" r="0.69" fill="rgb(4,5,60)"/><circle cx="33.6" cy="76.1" r="0.43" fill="rgb(5,7,73)"/><ellipse cx="70" cy="81" rx="10" ry="8" transform="rotate(-20 70 81)" fill="rgb(3,3,38)" stroke="rgb(6,7,76)" stroke-width="0.9"/><circle cx="74.7" cy="88.4" r="0.54" fill="rgb(5,6,70)"/><circle cx="73.6" cy="74.2" r="0.85" fill="rgb(6,7,80)"/><circle cx="77.1" cy="82.3" r="0.58" fill="rgb(6,8,85)"/><circle cx="75.4" cy="74.1" r="0.67" fill="rgb(5,7,74)"/><circle cx="61.3" cy="80.0" r="0.51" fill="rgb(7,8,90)"/><circle cx="59.4" cy="83.3" r="0.51" fill="rgb(7,9,95)"/><circle cx="77.8" cy="75.3" r="0.85" fill="rgb(5,6,66)"/><circle cx="66.5" cy="73.7" r="0.55" fill="rgb(6,7,79)"/><circle cx="69.2" cy="89.5" r="0.86" fill="rgb(5,6,69)"/><circle cx="64.9" cy="74.9" r="0.46" fill="rgb(7,9,95)"/><circle cx="79.2" cy="78.7" r="0.72" fill="rgb(6,7,80)"/><circle cx="63.1" cy="76.0" r="0.69" fill="rgb(7,9,94)"/><circle cx="75.7" cy="86.7" r="0.79" fill="rgb(6,7,78)"/><circle cx="76.6" cy="73.7" r="0.52" fill="rgb(7,9,94)"/><circle cx="61.3" cy="83.8" r="0.85" fill="rgb(7,8,91)"/><circle cx="65.4" cy="76.9" r="0.57" fill="rgb(6,8,89)"/><circle cx="61.8" cy="79.0" r="0.84" fill="rgb(7,9,92)"/><circle cx="77.3" cy="75.5" r="0.63" fill="rgb(5,7,74)"/><circle cx="60.5" cy="79.9" r="0.58" fill="rgb(6,8,86)"/><circle cx="78.5" cy="77.8" r="0.71" fill="rgb(7,8,91)"/><circle cx="61.2" cy="87.1" r="0.64" fill="rgb(6,8,86)"/><circle cx="70.4" cy="89.3" r="0.81" fill="rgb(5,6,67)"/><circle cx="59.7" cy="82.4" r="0.43" fill="rgb(7,9,93)"/><circle cx="77.6" cy="76.7" r="0.87" fill="rgb(5,6,70)"/><circle cx="78.0" cy="78.3" r="0.47" fill="rgb(6,7,79)"/><circle cx="79.0" cy="80.3" r="0.45" fill="rgb(7,9,96)"/><circle cx="61.7" cy="78.8" r="0.47" fill="rgb(5,7,74)"/><circle cx="64.2" cy="74.6" r="0.55" fill="rgb(5,6,64)"/><circle cx="78.3" cy="75.1" r="0.61" fill="rgb(6,8,81)"/><circle cx="66.5" cy="73.7" r="0.53" fill="rgb(6,7,78)"/><circle cx="68.1" cy="84.1" r="0.72" fill="rgb(4,5,58)"/><circle cx="71.2" cy="76.3" r="0.74" fill="rgb(4,5,57)"/><circle cx="68.6" cy="85.0" r="0.72" fill="rgb(4,5,60)"/><circle cx="72.6" cy="80.9" r="0.67" fill="rgb(5,7,75)"/><circle cx="69.1" cy="86.2" r="0.75" fill="rgb(5,7,73)"/><circle cx="67.4" cy="82.8" r="0.77" fill="rgb(5,6,68)"/><circle cx="66.3" cy="78.5" r="0.44" fill="rgb(4,5,60)"/><circle cx="66.2" cy="85.4" r="0.89" fill="rgb(4,6,61)"/><circle cx="71.8" cy="78.2" r="0.61" fill="rgb(5,6,66)"/><circle cx="71.8" cy="84.3" r="0.43" fill="rgb(4,5,56)"/><circle cx="78.5" cy="74.5" r="0.52" fill="rgb(4,6,63)"/><circle cx="69.0" cy="80.9" r="0.48" fill="rgb(5,6,66)"/><circle cx="75.8" cy="85.6" r="0.86" fill="rgb(4,5,54)"/><circle cx="71.6" cy="81.2" r="0.44" fill="rgb(5,7,73)"/><circle cx="62.3" cy="74.2" r="0.72" fill="rgb(5,6,69)"/><ellipse cx="1.5" cy="52" rx="5" ry="9" transform="rotate(0 1.5 52)" fill="rgb(3,3,38)" stroke="rgb(7,8,89)" stroke-width="0.9"/><circle cx="-2.4" cy="54.8" r="0.47" fill="rgb(5,7,74)"/><circle cx="5.4" cy="53.5" r="0.59" fill="rgb(6,8,84)"/><circle cx="0.2" cy="59.5" r="0.63" fill="rgb(6,8,85)"/><circle cx="5.1" cy="45.8" r="0.49" fill="rgb(8,10,106)"/><circle cx="-0.0" cy="43.2" r="0.86" fill="rgb(7,9,93)"/><circle cx="5.7" cy="56.4" r="0.79" fill="rgb(6,7,78)"/><circle cx="-3.2" cy="50.4" r="0.89" fill="rgb(5,7,74)"/><circle cx="6.2" cy="52.8" r="0.53" fill="rgb(5,7,72)"/><circle cx="-1.0" cy="45.7" r="0.69" fill="rgb(5,7,75)"/><circle cx="-1.6" cy="59.0" r="0.87" fill="rgb(8,10,110)"/><circle cx="-2.3" cy="49.7" r="0.86" fill="rgb(5,7,72)"/><circle cx="-2.7" cy="56.2" r="0.90" fill="rgb(8,10,105)"/><circle cx="-1.2" cy="45.1" r="0.75" fill="rgb(7,9,94)"/><circle cx="5.8" cy="55.2" r="0.47" fill="rgb(6,7,80)"/><circle cx="-1.5" cy="58.9" r="0.75" fill="rgb(8,10,107)"/><circle cx="4.3" cy="48.0" r="0.65" fill="rgb(5,6,67)"/><circle cx="-0.0" cy="51.7" r="0.80" fill="rgb(5,7,76)"/><circle cx="0.7" cy="55.0" r="0.51" fill="rgb(5,7,74)"/><circle cx="1.3" cy="52.6" r="0.66" fill="rgb(5,6,64)"/><circle cx="0.7" cy="60.2" r="0.51" fill="rgb(5,7,72)"/><circle cx="3.9" cy="52.3" r="0.51" fill="rgb(3,4,47)"/><circle cx="1.9" cy="50.9" r="0.52" fill="rgb(5,6,70)"/><ellipse cx="1.0" cy="29" rx="7" ry="8.5" fill="rgb(35,70,255)"/></g></g>
</g>
<rect x="79.5" y="83.8" width="4.5" height="0.6" fill="#ccc"/>
</g>
<g transform="translate(599.6,459.0)" clip-path="url(#cp)">
<rect x="0" y="0" width="86.0" height="86.0" fill="#000"/>
<g clip-path="url(#cp)">
<g><g filter="url(#bl2)"><circle cx="-1.7" cy="3.2" r="0.59" fill="rgb(201,6,6)"/><circle cx="42.7" cy="2.6" r="1.03" fill="rgb(155,4,4)"/><circle cx="2.7" cy="8.4" r="0.70" fill="rgb(159,4,4)"/><circle cx="36.6" cy="12.6" r="0.66" fill="rgb(85,2,2)"/><circle cx="0.8" cy="8.8" r="0.63" fill="rgb(192,6,6)"/><circle cx="22.8" cy="13.0" r="0.64" fill="rgb(120,3,3)"/><circle cx="29.8" cy="18.2" r="0.72" fill="rgb(138,4,4)"/><circle cx="2.1" cy="4.9" r="0.89" fill="rgb(112,3,3)"/><circle cx="1.0" cy="8.4" r="1.07" fill="rgb(53,1,1)"/><circle cx="41.3" cy="7.7" r="0.60" fill="rgb(194,6,6)"/><circle cx="12.0" cy="13.1" r="0.80" fill="rgb(186,5,5)"/><circle cx="39.1" cy="5.7" r="0.57" fill="rgb(58,1,1)"/><circle cx="25.8" cy="17.6" r="0.74" fill="rgb(127,4,4)"/><circle cx="36.8" cy="8.1" r="1.07" fill="rgb(105,3,3)"/><circle cx="36.4" cy="10.2" r="0.69" fill="rgb(189,5,5)"/><circle cx="37.2" cy="17.6" r="0.76" fill="rgb(62,1,1)"/><circle cx="3.4" cy="5.9" r="0.57" fill="rgb(126,3,3)"/><circle cx="29.6" cy="12.5" r="1.00" fill="rgb(192,6,6)"/><circle cx="9.4" cy="11.9" r="1.04" fill="rgb(195,6,6)"/><circle cx="42.1" cy="8.7" r="0.80" fill="rgb(124,3,3)"/><circle cx="3.2" cy="2.8" r="1.01" fill="rgb(138,4,4)"/><circle cx="25.9" cy="16.1" r="0.97" fill="rgb(141,4,4)"/><circle cx="11.6" cy="13.4" r="0.51" fill="rgb(101,3,3)"/><circle cx="13.2" cy="15.3" r="0.73" fill="rgb(104,3,3)"/><circle cx="16.3" cy="14.2" r="0.69" fill="rgb(176,5,5)"/><circle cx="11.2" cy="8.4" r="1.04" fill="rgb(187,5,5)"/><circle cx="40.6" cy="2.7" r="0.73" fill="rgb(130,4,4)"/><circle cx="38.5" cy="7.2" r="0.65" fill="rgb(201,6,6)"/><circle cx="36.7" cy="16.6" r="0.69" fill="rgb(99,3,3)"/><circle cx="17.7" cy="13.4" r="0.92" fill="rgb(103,3,3)"/><circle cx="45.9" cy="4.5" r="0.94" fill="rgb(67,2,2)"/><circle cx="-0.2" cy="10.3" r="0.85" fill="rgb(102,3,3)"/><circle cx="3.6" cy="6.5" r="0.71" fill="rgb(163,5,5)"/><circle cx="20.0" cy="16.6" r="0.79" fill="rgb(189,5,5)"/><circle cx="30.3" cy="15.2" r="0.97" fill="rgb(74,2,2)"/><circle cx="13.8" cy="14.1" r="1.00" fill="rgb(151,4,4)"/><circle cx="19.9" cy="11.9" r="0.72" fill="rgb(86,2,2)"/><circle cx="20.0" cy="14.5" r="0.81" fill="rgb(68,2,2)"/><circle cx="21.6" cy="14.6" r="0.92" fill="rgb(170,5,5)"/><circle cx="33.8" cy="14.4" r="1.02" fill="rgb(202,6,6)"/><circle cx="14.6" cy="12.8" r="0.58" fill="rgb(92,2,2)"/><circle cx="3.0" cy="1.8" r="0.54" fill="rgb(191,5,5)"/><circle cx="11.1" cy="13.4" r="0.89" fill="rgb(82,2,2)"/><circle cx="13.4" cy="12.9" r="0.98" fill="rgb(161,5,5)"/><circle cx="20.8" cy="17.2" r="0.59" fill="rgb(183,5,5)"/><circle cx="40.6" cy="4.2" r="0.75" fill="rgb(115,3,3)"/><circle cx="8.3" cy="6.5" r="0.80" fill="rgb(124,3,3)"/><circle cx="25.5" cy="18.2" r="0.78" fill="rgb(142,4,4)"/><circle cx="26.1" cy="11.0" r="1.09" fill="rgb(88,2,2)"/><circle cx="0.4" cy="4.1" r="0.51" fill="rgb(101,3,3)"/><circle cx="2.0" cy="6.4" r="1.10" fill="rgb(144,4,4)"/><circle cx="26.8" cy="19.0" r="0.52" fill="rgb(120,3,3)"/><circle cx="25.9" cy="16.5" r="0.98" fill="rgb(112,3,3)"/><circle cx="16.4" cy="12.6" r="0.96" fill="rgb(76,2,2)"/><circle cx="8.5" cy="3.9" r="1.08" fill="rgb(138,4,4)"/><circle cx="22.0" cy="16.8" r="0.63" fill="rgb(84,2,2)"/><circle cx="12.8" cy="9.2" r="0.92" fill="rgb(155,4,4)"/><circle cx="34.3" cy="13.7" r="1.02" fill="rgb(119,3,3)"/><circle cx="45.6" cy="10.6" r="0.57" fill="rgb(186,5,5)"/><circle cx="15.5" cy="10.5" r="0.66" fill="rgb(138,4,4)"/><circle cx="1.3" cy="5.4" r="0.64" fill="rgb(73,2,2)"/><circle cx="-0.2" cy="4.0" r="1.10" fill="rgb(151,4,4)"/><circle cx="9.9" cy="9.2" r="0.87" fill="rgb(175,5,5)"/><circle cx="9.6" cy="14.4" r="0.78" fill="rgb(147,4,4)"/><circle cx="30.7" cy="17.0" r="0.96" fill="rgb(100,3,3)"/><circle cx="28.2" cy="10.9" r="1.09" fill="rgb(108,3,3)"/><circle cx="12.2" cy="15.0" r="0.64" fill="rgb(153,4,4)"/><circle cx="39.8" cy="11.4" r="0.89" fill="rgb(62,1,1)"/><circle cx="12.2" cy="13.0" r="0.64" fill="rgb(89,2,2)"/><circle cx="23.7" cy="14.2" r="0.61" fill="rgb(86,2,2)"/><circle cx="5.0" cy="10.5" r="0.81" fill="rgb(151,4,4)"/><circle cx="5.3" cy="4.0" r="0.84" fill="rgb(132,4,4)"/><circle cx="6.8" cy="11.5" r="0.87" fill="rgb(175,5,5)"/><circle cx="36.6" cy="3.8" r="0.96" fill="rgb(85,2,2)"/><circle cx="30.9" cy="12.5" r="0.85" fill="rgb(140,4,4)"/><circle cx="36.5" cy="15.1" r="0.72" fill="rgb(151,4,4)"/><circle cx="4.8" cy="4.8" r="1.01" fill="rgb(186,5,5)"/><circle cx="5.5" cy="8.5" r="0.88" fill="rgb(114,3,3)"/><circle cx="45.9" cy="4.8" r="0.57" fill="rgb(146,4,4)"/><circle cx="40.5" cy="3.8" r="0.73" fill="rgb(143,4,4)"/><circle cx="8.2" cy="9.4" r="0.71" fill="rgb(176,5,5)"/><circle cx="44.1" cy="5.9" r="0.58" fill="rgb(104,3,3)"/><circle cx="-3.0" cy="3.9" r="0.53" fill="rgb(127,4,4)"/><circle cx="35.1" cy="6.5" r="0.85" fill="rgb(172,5,5)"/><circle cx="24.5" cy="14.6" r="0.80" fill="rgb(110,3,3)"/><circle cx="34.2" cy="9.3" r="0.93" fill="rgb(201,6,6)"/><circle cx="-2.1" cy="3.0" r="0.89" fill="rgb(126,3,3)"/><circle cx="38.5" cy="6.4" r="0.98" fill="rgb(79,2,2)"/><circle cx="2.5" cy="4.9" r="1.04" fill="rgb(166,5,5)"/><circle cx="8.7" cy="8.9" r="0.57" fill="rgb(92,2,2)"/><circle cx="43.6" cy="8.9" r="0.77" fill="rgb(166,5,5)"/><circle cx="29.7" cy="14.6" r="0.88" fill="rgb(146,4,4)"/><circle cx="33.2" cy="17.9" r="0.94" fill="rgb(162,5,5)"/><circle cx="16.7" cy="13.5" r="0.60" fill="rgb(190,5,5)"/><circle cx="1.5" cy="4.4" r="0.61" fill="rgb(71,2,2)"/><circle cx="17.6" cy="16.9" r="0.76" fill="rgb(71,2,2)"/><circle cx="24.6" cy="15.5" r="0.89" fill="rgb(151,4,4)"/><circle cx="7.8" cy="8.3" r="1.10" fill="rgb(185,5,5)"/><circle cx="32.8" cy="16.6" r="0.60" fill="rgb(181,5,5)"/><circle cx="32.7" cy="15.7" r="0.84" fill="rgb(162,5,5)"/><circle cx="26.8" cy="19.4" r="0.86" fill="rgb(76,2,2)"/><circle cx="38.3" cy="11.4" r="0.91" fill="rgb(118,3,3)"/><circle cx="17.0" cy="18.1" r="1.00" fill="rgb(107,3,3)"/><circle cx="38.4" cy="4.6" r="0.67" fill="rgb(189,5,5)"/><circle cx="39.2" cy="11.8" r="1.10" fill="rgb(83,2,2)"/><circle cx="43.3" cy="5.2" r="0.72" fill="rgb(57,1,1)"/><circle cx="10.8" cy="11.7" r="0.94" fill="rgb(53,1,1)"/><circle cx="10.2" cy="8.9" r="0.89" fill="rgb(166,5,5)"/><circle cx="51.4" cy="9.9" r="0.79" fill="rgb(99,3,3)"/><circle cx="22.5" cy="13.9" r="0.93" fill="rgb(121,3,3)"/><circle cx="19.7" cy="19.4" r="0.73" fill="rgb(190,5,5)"/><circle cx="8.8" cy="9.8" r="0.51" fill="rgb(126,3,3)"/><circle cx="34.8" cy="12.6" r="1.00" fill="rgb(144,4,4)"/><circle cx="40.8" cy="13.0" r="0.54" fill="rgb(73,2,2)"/><circle cx="29.6" cy="12.4" r="0.76" fill="rgb(131,4,4)"/><circle cx="34.4" cy="12.9" r="1.07" fill="rgb(84,2,2)"/><circle cx="30.1" cy="12.5" r="0.74" fill="rgb(148,4,4)"/><circle cx="33.2" cy="9.3" r="0.51" fill="rgb(199,6,6)"/><circle cx="42.4" cy="4.7" r="0.68" fill="rgb(129,4,4)"/><circle cx="5.6" cy="6.0" r="0.98" fill="rgb(96,3,3)"/><circle cx="42.3" cy="2.2" r="1.06" fill="rgb(71,2,2)"/><circle cx="16.3" cy="10.7" r="0.87" fill="rgb(185,5,5)"/><circle cx="4.8" cy="8.4" r="0.55" fill="rgb(202,6,6)"/><circle cx="19.3" cy="10.9" r="1.04" fill="rgb(74,2,2)"/><circle cx="21.9" cy="20.7" r="0.87" fill="rgb(187,5,5)"/><circle cx="35.9" cy="3.3" r="0.56" fill="rgb(90,2,2)"/><circle cx="5.9" cy="7.0" r="1.05" fill="rgb(129,4,4)"/><circle cx="37.7" cy="7.1" r="1.07" fill="rgb(164,5,5)"/><circle cx="3.8" cy="2.1" r="1.04" fill="rgb(71,2,2)"/><circle cx="37.8" cy="2.6" r="0.66" fill="rgb(196,6,6)"/><circle cx="42.5" cy="5.6" r="0.58" fill="rgb(82,2,2)"/><circle cx="13.5" cy="10.5" r="0.73" fill="rgb(185,5,5)"/><circle cx="35.8" cy="4.0" r="0.64" fill="rgb(93,2,2)"/><circle cx="19.1" cy="13.5" r="0.60" fill="rgb(149,4,4)"/><circle cx="5.5" cy="5.1" r="1.03" fill="rgb(59,1,1)"/><circle cx="3.5" cy="8.5" r="0.75" fill="rgb(173,5,5)"/><circle cx="33.6" cy="18.0" r="0.86" fill="rgb(62,1,1)"/><circle cx="18.5" cy="14.7" r="0.64" fill="rgb(159,5,5)"/><circle cx="34.8" cy="13.8" r="0.65" fill="rgb(70,2,2)"/><circle cx="38.1" cy="13.6" r="0.82" fill="rgb(182,5,5)"/><circle cx="12.4" cy="8.8" r="0.71" fill="rgb(116,3,3)"/><circle cx="19.4" cy="20.0" r="0.86" fill="rgb(126,3,3)"/><circle cx="12.7" cy="14.6" r="0.70" fill="rgb(118,3,3)"/><circle cx="39.7" cy="12.8" r="0.84" fill="rgb(62,1,1)"/><circle cx="27.1" cy="12.5" r="0.59" fill="rgb(151,4,4)"/><circle cx="26.1" cy="16.7" r="1.06" fill="rgb(72,2,2)"/><circle cx="30.5" cy="16.4" r="0.99" fill="rgb(187,5,5)"/><circle cx="25.6" cy="10.4" r="0.64" fill="rgb(90,2,2)"/><circle cx="15.7" cy="13.5" r="0.61" fill="rgb(184,5,5)"/><circle cx="32.3" cy="12.1" r="0.64" fill="rgb(178,5,5)"/><circle cx="11.2" cy="4.6" r="0.98" fill="rgb(145,4,4)"/><circle cx="6.4" cy="8.6" r="0.60" fill="rgb(193,6,6)"/><circle cx="16.7" cy="17.4" r="0.69" fill="rgb(165,5,5)"/><circle cx="17.0" cy="6.8" r="0.51" fill="rgb(184,5,5)"/><circle cx="10.5" cy="15.9" r="1.09" fill="rgb(179,5,5)"/><circle cx="15.2" cy="20.2" r="0.66" fill="rgb(146,4,4)"/><circle cx="10.8" cy="10.2" r="0.61" fill="rgb(70,2,2)"/><circle cx="16.8" cy="20.5" r="0.52" fill="rgb(99,3,3)"/><circle cx="10.6" cy="11.2" r="0.78" fill="rgb(178,5,5)"/><circle cx="18.0" cy="7.3" r="0.53" fill="rgb(57,1,1)"/><circle cx="9.7" cy="6.5" r="0.79" fill="rgb(154,4,4)"/><circle cx="11.4" cy="8.2" r="1.08" fill="rgb(96,3,3)"/><circle cx="11.4" cy="10.5" r="0.52" fill="rgb(142,4,4)"/><circle cx="9.9" cy="4.9" r="0.54" fill="rgb(193,6,6)"/><circle cx="19.6" cy="7.0" r="0.92" fill="rgb(52,1,1)"/><circle cx="7.0" cy="13.1" r="0.64" fill="rgb(124,3,3)"/><circle cx="14.4" cy="6.3" r="1.09" fill="rgb(104,3,3)"/><circle cx="17.5" cy="16.9" r="1.03" fill="rgb(128,4,4)"/><circle cx="10.8" cy="19.1" r="0.65" fill="rgb(112,3,3)"/><circle cx="3.2" cy="7.7" r="0.94" fill="rgb(66,2,2)"/><circle cx="5.2" cy="15.5" r="0.69" fill="rgb(61,1,1)"/><circle cx="9.6" cy="17.3" r="0.88" fill="rgb(200,6,6)"/><circle cx="11.9" cy="18.2" r="0.63" fill="rgb(71,2,2)"/><circle cx="8.9" cy="17.1" r="1.01" fill="rgb(98,3,3)"/><circle cx="18.3" cy="9.2" r="0.74" fill="rgb(185,5,5)"/><circle cx="9.9" cy="12.9" r="0.77" fill="rgb(146,4,4)"/><circle cx="9.7" cy="11.2" r="0.51" fill="rgb(155,4,4)"/><circle cx="15.1" cy="9.3" r="0.96" fill="rgb(77,2,2)"/><circle cx="13.5" cy="16.4" r="1.08" fill="rgb(68,2,2)"/><circle cx="2.5" cy="10.5" r="0.51" fill="rgb(174,5,5)"/><circle cx="13.2" cy="20.8" r="0.86" fill="rgb(58,1,1)"/><circle cx="11.3" cy="17.1" r="0.53" fill="rgb(163,5,5)"/><circle cx="7.7" cy="13.2" r="0.63" fill="rgb(155,4,4)"/><circle cx="4.4" cy="14.5" r="0.62" fill="rgb(93,2,2)"/><circle cx="10.5" cy="17.4" r="0.58" fill="rgb(55,1,1)"/><circle cx="22.7" cy="8.1" r="0.52" fill="rgb(187,5,5)"/><circle cx="8.3" cy="17.9" r="0.81" fill="rgb(63,1,1)"/><circle cx="7.1" cy="16.4" r="0.83" fill="rgb(134,4,4)"/><circle cx="6.0" cy="16.5" r="0.57" fill="rgb(158,4,4)"/><circle cx="7.3" cy="10.3" r="0.77" fill="rgb(128,4,4)"/><circle cx="22.0" cy="38.1" r="0.83" fill="rgb(214,6,6)"/><circle cx="63.6" cy="31.4" r="0.96" fill="rgb(110,3,3)"/><circle cx="25.4" cy="36.6" r="0.97" fill="rgb(180,5,5)"/><circle cx="70.2" cy="40.3" r="0.96" fill="rgb(180,5,5)"/><circle cx="22.1" cy="41.3" r="0.81" fill="rgb(130,4,4)"/><circle cx="18.8" cy="37.2" r="0.51" fill="rgb(213,6,6)"/><circle cx="29.7" cy="47.3" r="0.73" fill="rgb(180,5,5)"/><circle cx="64.8" cy="56.8" r="0.82" fill="rgb(58,1,1)"/><circle cx="21.9" cy="37.1" r="0.89" fill="rgb(173,5,5)"/><circle cx="27.4" cy="45.4" r="0.61" fill="rgb(168,5,5)"/><circle cx="69.1" cy="30.0" r="1.03" fill="rgb(110,3,3)"/><circle cx="46.7" cy="30.1" r="0.98" fill="rgb(125,3,3)"/><circle cx="66.8" cy="34.6" r="0.92" fill="rgb(89,2,2)"/><circle cx="60.3" cy="57.2" r="0.91" fill="rgb(65,2,2)"/><circle cx="31.9" cy="56.6" r="0.73" fill="rgb(124,3,3)"/><circle cx="39.1" cy="52.8" r="0.95" fill="rgb(143,4,4)"/><circle cx="30.0" cy="28.2" r="0.66" fill="rgb(166,5,5)"/><circle cx="75.1" cy="44.9" r="1.03" fill="rgb(58,1,1)"/><circle cx="24.9" cy="34.4" r="0.66" fill="rgb(88,2,2)"/><circle cx="31.7" cy="48.5" r="0.89" fill="rgb(140,4,4)"/><circle cx="57.9" cy="32.1" r="1.08" fill="rgb(107,3,3)"/><circle cx="21.8" cy="49.9" r="0.70" fill="rgb(63,1,1)"/><circle cx="49.8" cy="56.7" r="0.65" fill="rgb(188,5,5)"/><circle cx="62.6" cy="45.1" r="0.70" fill="rgb(80,2,2)"/><circle cx="25.3" cy="51.3" r="0.66" fill="rgb(163,5,5)"/><circle cx="59.2" cy="57.6" r="1.01" fill="rgb(69,2,2)"/><circle cx="52.2" cy="26.9" r="0.86" fill="rgb(66,2,2)"/><circle cx="20.8" cy="33.1" r="0.88" fill="rgb(120,3,3)"/><circle cx="45.5" cy="27.8" r="0.96" fill="rgb(212,6,6)"/><circle cx="55.3" cy="55.0" r="0.60" fill="rgb(147,4,4)"/><circle cx="33.1" cy="29.7" r="0.80" fill="rgb(108,3,3)"/><circle cx="22.8" cy="34.8" r="1.06" fill="rgb(123,3,3)"/><circle cx="68.4" cy="45.4" r="0.80" fill="rgb(71,2,2)"/><circle cx="55.1" cy="54.4" r="0.83" fill="rgb(58,1,1)"/><circle cx="48.1" cy="29.5" r="0.95" fill="rgb(190,5,5)"/><circle cx="37.9" cy="47.1" r="1.09" fill="rgb(88,2,2)"/><circle cx="69.6" cy="36.5" r="0.98" fill="rgb(84,2,2)"/><circle cx="53.1" cy="31.3" r="0.63" fill="rgb(87,2,2)"/><circle cx="63.2" cy="53.4" r="0.76" fill="rgb(58,1,1)"/><circle cx="52.6" cy="51.2" r="0.99" fill="rgb(159,5,5)"/><circle cx="36.7" cy="57.6" r="0.52" fill="rgb(214,6,6)"/><circle cx="32.2" cy="50.5" r="0.78" fill="rgb(199,6,6)"/><circle cx="64.1" cy="38.9" r="0.66" fill="rgb(54,1,1)"/><circle cx="69.5" cy="54.9" r="0.60" fill="rgb(146,4,4)"/><circle cx="38.9" cy="56.6" r="0.54" fill="rgb(132,4,4)"/><circle cx="58.4" cy="50.9" r="0.50" fill="rgb(204,6,6)"/><circle cx="61.9" cy="54.3" r="0.57" fill="rgb(122,3,3)"/><circle cx="35.1" cy="25.9" r="0.73" fill="rgb(141,4,4)"/><circle cx="65.5" cy="50.3" r="0.88" fill="rgb(174,5,5)"/><circle cx="68.5" cy="41.8" r="0.78" fill="rgb(81,2,2)"/><circle cx="33.5" cy="48.0" r="0.90" fill="rgb(131,4,4)"/><circle cx="16.6" cy="38.7" r="0.94" fill="rgb(168,5,5)"/><circle cx="58.2" cy="38.7" r="1.08" fill="rgb(200,6,6)"/><circle cx="54.0" cy="55.4" r="1.08" fill="rgb(142,4,4)"/><circle cx="68.6" cy="34.6" r="0.98" fill="rgb(172,5,5)"/><circle cx="61.4" cy="44.5" r="0.85" fill="rgb(94,2,2)"/><circle cx="31.0" cy="34.5" r="0.87" fill="rgb(120,3,3)"/><circle cx="45.6" cy="30.1" r="0.79" fill="rgb(89,2,2)"/><circle cx="63.4" cy="42.2" r="0.98" fill="rgb(143,4,4)"/><circle cx="27.2" cy="41.3" r="0.53" fill="rgb(154,4,4)"/><circle cx="40.2" cy="50.9" r="0.92" fill="rgb(172,5,5)"/><circle cx="56.5" cy="50.2" r="0.89" fill="rgb(201,6,6)"/><circle cx="25.0" cy="35.3" r="0.92" fill="rgb(93,2,2)"/><circle cx="26.1" cy="36.5" r="0.96" fill="rgb(137,4,4)"/><circle cx="29.1" cy="27.6" r="0.89" fill="rgb(165,5,5)"/><circle cx="50.1" cy="59.4" r="0.82" fill="rgb(137,4,4)"/><circle cx="21.9" cy="32.0" r="0.86" fill="rgb(101,3,3)"/><circle cx="73.0" cy="45.0" r="0.87" fill="rgb(104,3,3)"/><circle cx="26.2" cy="45.6" r="0.59" fill="rgb(66,2,2)"/><circle cx="64.8" cy="52.0" r="0.91" fill="rgb(110,3,3)"/><circle cx="33.4" cy="46.6" r="1.05" fill="rgb(94,2,2)"/><circle cx="36.3" cy="22.6" r="1.08" fill="rgb(192,6,6)"/><circle cx="21.4" cy="39.2" r="0.93" fill="rgb(93,2,2)"/><circle cx="43.6" cy="28.5" r="0.69" fill="rgb(199,6,6)"/><circle cx="57.3" cy="53.5" r="0.79" fill="rgb(60,1,1)"/><circle cx="54.8" cy="57.2" r="0.65" fill="rgb(56,1,1)"/><circle cx="39.9" cy="22.9" r="0.77" fill="rgb(110,3,3)"/><circle cx="33.8" cy="34.8" r="0.71" fill="rgb(52,1,1)"/><circle cx="25.2" cy="47.7" r="0.67" fill="rgb(108,3,3)"/><circle cx="53.9" cy="31.5" r="0.71" fill="rgb(104,3,3)"/><circle cx="43.0" cy="58.9" r="1.07" fill="rgb(184,5,5)"/><circle cx="19.5" cy="29.7" r="0.69" fill="rgb(154,4,4)"/><circle cx="25.1" cy="33.0" r="1.03" fill="rgb(161,5,5)"/><circle cx="27.2" cy="54.5" r="1.07" fill="rgb(199,6,6)"/><circle cx="33.0" cy="28.6" r="1.03" fill="rgb(97,3,3)"/><circle cx="63.7" cy="53.3" r="0.67" fill="rgb(189,5,5)"/><circle cx="58.7" cy="26.3" r="0.93" fill="rgb(151,4,4)"/><circle cx="51.5" cy="31.8" r="0.84" fill="rgb(212,6,6)"/><circle cx="32.9" cy="57.6" r="0.82" fill="rgb(200,6,6)"/><circle cx="20.9" cy="41.1" r="0.85" fill="rgb(75,2,2)"/><circle cx="23.4" cy="44.2" r="0.56" fill="rgb(166,5,5)"/><circle cx="62.7" cy="34.8" r="0.54" fill="rgb(186,5,5)"/><circle cx="25.0" cy="34.6" r="1.10" fill="rgb(158,4,4)"/><circle cx="55.6" cy="55.3" r="0.80" fill="rgb(107,3,3)"/><circle cx="24.1" cy="54.9" r="0.77" fill="rgb(71,2,2)"/><circle cx="46.8" cy="59.5" r="0.71" fill="rgb(216,6,6)"/><circle cx="31.6" cy="34.4" r="0.51" fill="rgb(161,5,5)"/><circle cx="68.4" cy="50.8" r="0.84" fill="rgb(159,5,5)"/><circle cx="41.7" cy="28.7" r="1.09" fill="rgb(185,5,5)"/><circle cx="60.7" cy="49.3" r="0.51" fill="rgb(70,2,2)"/><circle cx="23.5" cy="47.0" r="0.53" fill="rgb(100,3,3)"/><circle cx="47.4" cy="58.1" r="0.60" fill="rgb(200,6,6)"/><circle cx="41.8" cy="24.8" r="0.60" fill="rgb(79,2,2)"/><circle cx="35.4" cy="29.4" r="0.64" fill="rgb(70,2,2)"/><circle cx="27.9" cy="47.0" r="0.75" fill="rgb(177,5,5)"/><circle cx="34.3" cy="25.8" r="0.66" fill="rgb(117,3,3)"/><circle cx="69.0" cy="39.9" r="0.65" fill="rgb(84,2,2)"/><circle cx="25.3" cy="45.9" r="1.04" fill="rgb(67,2,2)"/><circle cx="24.3" cy="33.7" r="0.92" fill="rgb(67,2,2)"/><circle cx="39.0" cy="54.2" r="0.77" fill="rgb(106,3,3)"/><circle cx="36.8" cy="56.1" r="1.02" fill="rgb(192,6,6)"/><circle cx="24.6" cy="50.0" r="0.56" fill="rgb(158,4,4)"/><circle cx="22.3" cy="38.5" r="0.69" fill="rgb(63,1,1)"/><circle cx="28.3" cy="44.2" r="0.57" fill="rgb(78,2,2)"/><circle cx="39.0" cy="52.4" r="0.75" fill="rgb(61,1,1)"/><circle cx="55.5" cy="55.7" r="0.56" fill="rgb(87,2,2)"/><circle cx="33.4" cy="48.1" r="0.50" fill="rgb(90,2,2)"/><circle cx="67.6" cy="45.2" r="0.86" fill="rgb(89,2,2)"/><circle cx="63.0" cy="35.4" r="1.10" fill="rgb(113,3,3)"/><circle cx="28.0" cy="38.1" r="0.64" fill="rgb(188,5,5)"/><circle cx="48.7" cy="52.5" r="1.10" fill="rgb(144,4,4)"/><circle cx="32.6" cy="48.9" r="0.64" fill="rgb(115,3,3)"/><circle cx="61.7" cy="54.2" r="1.05" fill="rgb(115,3,3)"/><circle cx="61.2" cy="51.8" r="1.04" fill="rgb(211,6,6)"/><circle cx="61.6" cy="54.4" r="0.83" fill="rgb(115,3,3)"/><circle cx="54.7" cy="54.6" r="0.63" fill="rgb(192,6,6)"/><circle cx="27.3" cy="33.6" r="0.92" fill="rgb(131,4,4)"/><circle cx="33.3" cy="27.7" r="0.91" fill="rgb(211,6,6)"/><circle cx="34.0" cy="29.4" r="0.59" fill="rgb(209,6,6)"/><circle cx="35.6" cy="52.3" r="1.04" fill="rgb(175,5,5)"/><circle cx="61.3" cy="53.8" r="0.73" fill="rgb(79,2,2)"/><circle cx="27.9" cy="47.0" r="0.94" fill="rgb(123,3,3)"/><circle cx="51.0" cy="27.6" r="0.94" fill="rgb(128,4,4)"/><circle cx="62.9" cy="42.6" r="0.97" fill="rgb(68,2,2)"/><circle cx="30.6" cy="24.3" r="0.54" fill="rgb(77,2,2)"/><circle cx="64.3" cy="34.2" r="0.83" fill="rgb(195,6,6)"/><circle cx="64.6" cy="45.8" r="0.97" fill="rgb(116,3,3)"/><circle cx="38.4" cy="54.9" r="0.75" fill="rgb(65,2,2)"/><circle cx="27.5" cy="32.2" r="0.87" fill="rgb(108,3,3)"/><circle cx="58.6" cy="40.2" r="1.07" fill="rgb(170,5,5)"/><circle cx="62.1" cy="33.9" r="0.88" fill="rgb(59,1,1)"/><circle cx="18.5" cy="47.4" r="0.89" fill="rgb(215,6,6)"/><circle cx="74.7" cy="37.0" r="0.63" fill="rgb(201,6,6)"/><circle cx="23.2" cy="35.9" r="0.95" fill="rgb(142,4,4)"/><circle cx="19.9" cy="38.5" r="1.02" fill="rgb(114,3,3)"/><circle cx="14.4" cy="43.3" r="1.01" fill="rgb(121,3,3)"/><circle cx="44.2" cy="56.9" r="0.94" fill="rgb(154,4,4)"/><circle cx="57.0" cy="29.0" r="0.80" fill="rgb(175,5,5)"/><circle cx="21.3" cy="44.3" r="0.92" fill="rgb(198,6,6)"/><circle cx="31.3" cy="47.1" r="1.08" fill="rgb(146,4,4)"/><circle cx="63.5" cy="51.2" r="0.95" fill="rgb(190,5,5)"/><circle cx="22.8" cy="38.9" r="0.53" fill="rgb(52,1,1)"/><circle cx="30.5" cy="34.2" r="1.06" fill="rgb(126,3,3)"/><circle cx="55.2" cy="35.6" r="0.78" fill="rgb(112,3,3)"/><circle cx="19.6" cy="38.5" r="0.88" fill="rgb(75,2,2)"/><circle cx="65.6" cy="52.6" r="0.86" fill="rgb(215,6,6)"/><circle cx="70.7" cy="38.4" r="0.97" fill="rgb(177,5,5)"/><circle cx="27.1" cy="30.9" r="0.83" fill="rgb(128,4,4)"/><circle cx="47.1" cy="28.8" r="1.02" fill="rgb(176,5,5)"/><circle cx="21.7" cy="51.5" r="0.84" fill="rgb(104,3,3)"/><circle cx="22.4" cy="37.3" r="0.66" fill="rgb(85,2,2)"/><circle cx="66.1" cy="45.2" r="0.77" fill="rgb(134,4,4)"/><circle cx="61.2" cy="36.0" r="0.63" fill="rgb(67,2,2)"/><circle cx="33.5" cy="52.6" r="0.62" fill="rgb(98,3,3)"/><circle cx="39.4" cy="56.7" r="0.95" fill="rgb(95,2,2)"/><circle cx="54.6" cy="50.0" r="0.79" fill="rgb(87,2,2)"/><circle cx="64.7" cy="41.1" r="1.05" fill="rgb(74,2,2)"/><circle cx="61.3" cy="46.3" r="0.82" fill="rgb(213,6,6)"/><circle cx="33.8" cy="51.2" r="0.76" fill="rgb(149,4,4)"/><circle cx="66.0" cy="45.7" r="0.52" fill="rgb(205,6,6)"/><circle cx="63.3" cy="36.8" r="0.79" fill="rgb(60,1,1)"/><circle cx="68.6" cy="55.2" r="0.59" fill="rgb(149,4,4)"/><circle cx="56.6" cy="50.6" r="0.80" fill="rgb(87,2,2)"/><circle cx="51.5" cy="55.0" r="0.69" fill="rgb(135,4,4)"/><circle cx="24.9" cy="54.0" r="0.64" fill="rgb(202,6,6)"/><circle cx="37.5" cy="32.3" r="0.82" fill="rgb(110,3,3)"/><circle cx="65.8" cy="44.1" r="0.80" fill="rgb(135,4,4)"/><circle cx="36.3" cy="49.4" r="0.73" fill="rgb(164,5,5)"/><circle cx="49.1" cy="26.5" r="0.57" fill="rgb(179,5,5)"/><circle cx="49.3" cy="26.6" r="0.77" fill="rgb(77,2,2)"/><circle cx="57.5" cy="40.0" r="0.70" fill="rgb(128,4,4)"/><circle cx="42.7" cy="28.1" r="0.76" fill="rgb(60,1,1)"/><circle cx="25.2" cy="26.3" r="0.80" fill="rgb(161,5,5)"/><circle cx="48.9" cy="57.3" r="0.63" fill="rgb(113,3,3)"/><circle cx="65.3" cy="43.5" r="0.67" fill="rgb(144,4,4)"/><circle cx="63.6" cy="41.7" r="0.86" fill="rgb(97,3,3)"/><circle cx="67.0" cy="41.9" r="0.65" fill="rgb(172,5,5)"/><circle cx="56.2" cy="28.6" r="0.75" fill="rgb(207,6,6)"/><circle cx="68.6" cy="51.2" r="0.59" fill="rgb(92,2,2)"/><circle cx="50.0" cy="50.3" r="0.70" fill="rgb(74,2,2)"/><circle cx="47.9" cy="60.6" r="1.00" fill="rgb(146,4,4)"/><circle cx="42.6" cy="25.1" r="0.85" fill="rgb(143,4,4)"/><circle cx="64.0" cy="33.3" r="0.82" fill="rgb(158,4,4)"/><circle cx="55.0" cy="30.7" r="1.08" fill="rgb(83,2,2)"/><circle cx="30.4" cy="53.1" r="1.10" fill="rgb(95,2,2)"/><circle cx="31.0" cy="47.9" r="0.63" fill="rgb(127,3,3)"/><circle cx="33.8" cy="34.8" r="1.08" fill="rgb(95,2,2)"/><circle cx="33.2" cy="60.5" r="0.54" fill="rgb(97,3,3)"/><circle cx="58.9" cy="32.3" r="0.74" fill="rgb(166,5,5)"/><circle cx="63.3" cy="29.7" r="0.66" fill="rgb(212,6,6)"/><circle cx="54.9" cy="56.5" r="1.03" fill="rgb(208,6,6)"/><circle cx="67.5" cy="44.5" r="1.03" fill="rgb(144,4,4)"/><circle cx="53.8" cy="30.8" r="0.97" fill="rgb(184,5,5)"/><circle cx="19.1" cy="42.7" r="0.86" fill="rgb(154,4,4)"/><circle cx="29.2" cy="47.9" r="0.55" fill="rgb(65,2,2)"/><circle cx="69.4" cy="44.5" r="0.61" fill="rgb(146,4,4)"/><circle cx="47.7" cy="58.2" r="0.96" fill="rgb(169,5,5)"/><circle cx="34.1" cy="57.3" r="0.55" fill="rgb(184,5,5)"/><circle cx="14.3" cy="45.3" r="0.85" fill="rgb(78,2,2)"/><circle cx="65.5" cy="42.8" r="1.03" fill="rgb(84,2,2)"/><circle cx="51.5" cy="54.5" r="0.67" fill="rgb(207,6,6)"/><circle cx="60.6" cy="59.1" r="0.98" fill="rgb(128,4,4)"/><circle cx="29.3" cy="46.5" r="0.92" fill="rgb(52,1,1)"/><circle cx="19.4" cy="29.9" r="1.04" fill="rgb(93,2,2)"/><circle cx="69.7" cy="52.9" r="0.96" fill="rgb(183,5,5)"/><circle cx="55.7" cy="48.0" r="0.77" fill="rgb(178,5,5)"/><circle cx="21.3" cy="35.1" r="0.87" fill="rgb(166,5,5)"/><circle cx="37.2" cy="53.6" r="1.06" fill="rgb(118,3,3)"/><circle cx="48.4" cy="28.3" r="1.01" fill="rgb(63,1,1)"/><circle cx="40.6" cy="26.2" r="1.08" fill="rgb(101,3,3)"/><circle cx="56.7" cy="33.7" r="0.54" fill="rgb(118,3,3)"/><circle cx="52.4" cy="50.4" r="0.69" fill="rgb(91,2,2)"/><circle cx="20.4" cy="35.3" r="0.64" fill="rgb(214,6,6)"/><circle cx="56.4" cy="33.4" r="0.82" fill="rgb(194,6,6)"/><circle cx="30.1" cy="32.8" r="0.57" fill="rgb(216,6,6)"/><circle cx="29.2" cy="53.0" r="0.95" fill="rgb(150,4,4)"/><circle cx="65.0" cy="41.4" r="0.52" fill="rgb(118,3,3)"/><circle cx="52.8" cy="54.9" r="0.67" fill="rgb(189,5,5)"/><circle cx="31.1" cy="29.3" r="0.68" fill="rgb(173,5,5)"/><circle cx="38.5" cy="58.8" r="0.99" fill="rgb(179,5,5)"/><circle cx="21.9" cy="49.3" r="0.76" fill="rgb(166,5,5)"/><circle cx="47.7" cy="56.9" r="0.80" fill="rgb(174,5,5)"/><circle cx="27.2" cy="31.8" r="1.08" fill="rgb(96,3,3)"/><circle cx="53.8" cy="31.2" r="0.64" fill="rgb(98,3,3)"/><circle cx="63.1" cy="42.9" r="0.63" fill="rgb(56,1,1)"/><circle cx="56.3" cy="54.2" r="0.66" fill="rgb(102,3,3)"/><circle cx="29.6" cy="29.0" r="0.68" fill="rgb(197,6,6)"/><circle cx="64.5" cy="49.0" r="1.07" fill="rgb(59,1,1)"/><circle cx="50.7" cy="54.1" r="0.95" fill="rgb(172,5,5)"/><circle cx="64.2" cy="50.7" r="1.09" fill="rgb(199,6,6)"/><circle cx="41.3" cy="55.3" r="0.67" fill="rgb(185,5,5)"/><circle cx="62.0" cy="41.5" r="0.73" fill="rgb(148,4,4)"/><circle cx="60.8" cy="32.4" r="0.89" fill="rgb(101,3,3)"/><circle cx="51.7" cy="54.2" r="0.76" fill="rgb(108,3,3)"/><circle cx="20.0" cy="28.1" r="0.70" fill="rgb(183,5,5)"/><circle cx="62.9" cy="59.7" r="0.80" fill="rgb(170,5,5)"/><circle cx="24.4" cy="44.9" r="0.65" fill="rgb(129,4,4)"/><circle cx="26.3" cy="39.6" r="1.04" fill="rgb(78,2,2)"/><circle cx="34.6" cy="23.5" r="0.79" fill="rgb(140,4,4)"/><circle cx="35.1" cy="53.4" r="0.67" fill="rgb(100,3,3)"/><circle cx="72.5" cy="52.0" r="1.00" fill="rgb(212,6,6)"/><circle cx="49.7" cy="32.5" r="0.64" fill="rgb(128,4,4)"/><circle cx="28.6" cy="34.6" r="0.67" fill="rgb(121,3,3)"/><circle cx="40.1" cy="28.8" r="0.82" fill="rgb(90,2,2)"/><circle cx="73.9" cy="46.5" r="0.53" fill="rgb(85,2,2)"/><circle cx="47.1" cy="57.5" r="0.84" fill="rgb(146,4,4)"/><circle cx="62.9" cy="31.2" r="0.80" fill="rgb(80,2,2)"/><circle cx="56.1" cy="53.5" r="0.70" fill="rgb(213,6,6)"/><circle cx="18.4" cy="42.0" r="0.63" fill="rgb(148,4,4)"/><circle cx="19.3" cy="36.5" r="0.95" fill="rgb(85,2,2)"/><circle cx="46.1" cy="48.0" r="0.88" fill="rgb(94,2,2)"/><circle cx="57.7" cy="55.0" r="0.51" fill="rgb(152,4,4)"/><circle cx="52.7" cy="55.0" r="0.80" fill="rgb(178,5,5)"/><circle cx="71.2" cy="57.1" r="1.02" fill="rgb(111,3,3)"/><circle cx="50.6" cy="49.9" r="0.86" fill="rgb(87,2,2)"/><circle cx="59.4" cy="63.2" r="0.56" fill="rgb(81,2,2)"/><circle cx="65.0" cy="54.5" r="0.98" fill="rgb(95,2,2)"/><circle cx="58.5" cy="57.9" r="0.85" fill="rgb(122,3,3)"/><circle cx="63.0" cy="50.4" r="1.01" fill="rgb(162,5,5)"/><circle cx="52.0" cy="49.2" r="1.10" fill="rgb(200,6,6)"/><circle cx="60.7" cy="59.1" r="0.68" fill="rgb(155,4,4)"/><circle cx="52.7" cy="51.6" r="0.75" fill="rgb(104,3,3)"/><circle cx="70.0" cy="50.8" r="0.73" fill="rgb(125,3,3)"/><circle cx="57.6" cy="59.5" r="0.61" fill="rgb(123,3,3)"/><circle cx="49.8" cy="54.7" r="0.97" fill="rgb(71,2,2)"/><circle cx="55.1" cy="56.7" r="0.76" fill="rgb(154,4,4)"/><circle cx="73.3" cy="57.1" r="0.70" fill="rgb(178,5,5)"/><circle cx="48.7" cy="51.8" r="0.56" fill="rgb(108,3,3)"/><circle cx="61.5" cy="40.7" r="1.07" fill="rgb(127,3,3)"/><circle cx="62.6" cy="55.8" r="0.58" fill="rgb(82,2,2)"/><circle cx="69.3" cy="49.1" r="0.53" fill="rgb(198,6,6)"/><circle cx="54.1" cy="53.9" r="0.90" fill="rgb(118,3,3)"/><circle cx="67.0" cy="59.6" r="0.61" fill="rgb(93,2,2)"/><circle cx="48.7" cy="53.7" r="0.74" fill="rgb(205,6,6)"/><circle cx="75.3" cy="55.4" r="0.76" fill="rgb(123,3,3)"/><circle cx="53.7" cy="52.0" r="0.75" fill="rgb(117,3,3)"/><circle cx="50.1" cy="52.3" r="0.53" fill="rgb(156,4,4)"/><circle cx="54.9" cy="55.7" r="0.52" fill="rgb(75,2,2)"/><circle cx="58.1" cy="56.8" r="0.64" fill="rgb(113,3,3)"/><circle cx="51.1" cy="56.7" r="0.77" fill="rgb(171,5,5)"/><circle cx="63.5" cy="41.5" r="0.98" fill="rgb(209,6,6)"/><circle cx="55.2" cy="54.6" r="0.95" fill="rgb(133,4,4)"/><circle cx="63.9" cy="48.3" r="0.93" fill="rgb(162,5,5)"/><circle cx="56.6" cy="47.9" r="0.52" fill="rgb(191,6,6)"/><circle cx="53.2" cy="56.3" r="0.52" fill="rgb(185,5,5)"/><circle cx="56.7" cy="52.6" r="0.61" fill="rgb(152,4,4)"/><circle cx="70.4" cy="61.7" r="0.76" fill="rgb(180,5,5)"/><circle cx="55.7" cy="49.4" r="0.63" fill="rgb(87,2,2)"/><circle cx="65.7" cy="48.2" r="0.80" fill="rgb(181,5,5)"/><circle cx="69.8" cy="54.9" r="0.54" fill="rgb(150,4,4)"/><circle cx="58.8" cy="51.7" r="0.65" fill="rgb(121,3,3)"/><circle cx="57.3" cy="57.6" r="0.91" fill="rgb(76,2,2)"/><circle cx="57.8" cy="53.7" r="0.62" fill="rgb(202,6,6)"/><circle cx="71.4" cy="53.9" r="0.90" fill="rgb(149,4,4)"/><circle cx="45.7" cy="59.5" r="0.80" fill="rgb(139,4,4)"/><circle cx="68.9" cy="48.4" r="0.89" fill="rgb(192,6,6)"/><circle cx="58.6" cy="47.4" r="1.00" fill="rgb(142,4,4)"/><circle cx="47.2" cy="57.8" r="0.88" fill="rgb(209,6,6)"/><circle cx="75.3" cy="44.9" r="0.52" fill="rgb(135,4,4)"/><circle cx="50.4" cy="56.1" r="0.89" fill="rgb(121,3,3)"/><circle cx="57.6" cy="43.9" r="0.96" fill="rgb(142,4,4)"/><circle cx="55.8" cy="54.1" r="0.82" fill="rgb(173,5,5)"/><circle cx="59.4" cy="55.0" r="0.54" fill="rgb(137,4,4)"/><circle cx="45.9" cy="47.3" r="0.82" fill="rgb(196,6,6)"/><circle cx="64.2" cy="52.8" r="0.97" fill="rgb(93,2,2)"/><circle cx="54.8" cy="55.2" r="1.10" fill="rgb(198,6,6)"/><circle cx="63.4" cy="55.8" r="0.66" fill="rgb(98,3,3)"/><circle cx="57.0" cy="49.9" r="1.04" fill="rgb(101,3,3)"/><circle cx="61.1" cy="55.1" r="0.63" fill="rgb(181,5,5)"/><circle cx="66.7" cy="47.5" r="0.73" fill="rgb(121,3,3)"/><circle cx="2.2" cy="64.8" r="0.86" fill="rgb(182,5,5)"/><circle cx="10.6" cy="59.0" r="0.68" fill="rgb(40,1,1)"/><circle cx="-1.6" cy="46.0" r="0.91" fill="rgb(157,4,4)"/><circle cx="7.8" cy="57.2" r="0.60" fill="rgb(81,2,2)"/><circle cx="14.9" cy="54.2" r="0.83" fill="rgb(110,3,3)"/><circle cx="7.1" cy="64.1" r="0.86" fill="rgb(183,5,5)"/><circle cx="4.3" cy="37.1" r="0.73" fill="rgb(106,3,3)"/><circle cx="15.4" cy="63.3" r="0.68" fill="rgb(142,4,4)"/><circle cx="3.0" cy="42.7" r="0.54" fill="rgb(161,5,5)"/><circle cx="0.9" cy="60.0" r="0.99" fill="rgb(139,4,4)"/><circle cx="12.0" cy="47.2" r="0.88" fill="rgb(87,2,2)"/><circle cx="1.9" cy="49.5" r="0.59" fill="rgb(61,1,1)"/><circle cx="14.1" cy="57.2" r="0.87" fill="rgb(174,5,5)"/><circle cx="2.3" cy="55.1" r="0.74" fill="rgb(94,2,2)"/><circle cx="3.3" cy="50.2" r="0.57" fill="rgb(172,5,5)"/><circle cx="7.1" cy="42.9" r="0.80" fill="rgb(125,3,3)"/><circle cx="2.4" cy="53.8" r="0.52" fill="rgb(73,2,2)"/><circle cx="6.2" cy="52.4" r="0.77" fill="rgb(65,2,2)"/><circle cx="10.9" cy="48.2" r="0.82" fill="rgb(75,2,2)"/><circle cx="10.3" cy="49.5" r="0.75" fill="rgb(115,3,3)"/><circle cx="1.9" cy="58.7" r="0.89" fill="rgb(98,3,3)"/><circle cx="5.6" cy="75.1" r="0.99" fill="rgb(129,4,4)"/><circle cx="11.9" cy="53.0" r="0.69" fill="rgb(45,1,1)"/><circle cx="-0.4" cy="41.8" r="0.78" fill="rgb(63,1,1)"/><circle cx="10.1" cy="53.7" r="0.73" fill="rgb(158,4,4)"/><circle cx="10.7" cy="56.7" r="0.54" fill="rgb(55,1,1)"/><circle cx="12.5" cy="61.1" r="0.94" fill="rgb(50,1,1)"/><circle cx="13.7" cy="49.7" r="0.65" fill="rgb(147,4,4)"/><circle cx="4.1" cy="52.7" r="0.57" fill="rgb(99,3,3)"/><circle cx="7.2" cy="54.4" r="0.99" fill="rgb(165,5,5)"/><circle cx="4.5" cy="56.0" r="0.59" fill="rgb(173,5,5)"/><circle cx="6.1" cy="45.4" r="0.53" fill="rgb(105,3,3)"/><circle cx="1.4" cy="44.8" r="0.68" fill="rgb(103,3,3)"/><circle cx="7.4" cy="57.3" r="0.87" fill="rgb(108,3,3)"/><circle cx="10.0" cy="51.2" r="0.79" fill="rgb(102,3,3)"/><circle cx="8.8" cy="60.9" r="0.55" fill="rgb(167,5,5)"/><circle cx="1.9" cy="60.8" r="0.78" fill="rgb(150,4,4)"/><circle cx="-0.5" cy="60.3" r="0.62" fill="rgb(152,4,4)"/><circle cx="-2.1" cy="53.1" r="0.61" fill="rgb(140,4,4)"/><circle cx="6.2" cy="53.4" r="0.63" fill="rgb(182,5,5)"/><circle cx="7.9" cy="45.4" r="0.82" fill="rgb(163,5,5)"/><circle cx="6.0" cy="47.3" r="0.87" fill="rgb(133,4,4)"/><circle cx="4.3" cy="50.3" r="0.91" fill="rgb(171,5,5)"/><circle cx="8.6" cy="44.9" r="0.57" fill="rgb(39,1,1)"/><circle cx="4.6" cy="65.1" r="0.51" fill="rgb(154,4,4)"/><circle cx="6.1" cy="44.2" r="0.56" fill="rgb(140,4,4)"/><circle cx="10.5" cy="70.0" r="0.63" fill="rgb(166,5,5)"/><circle cx="7.6" cy="48.5" r="0.60" fill="rgb(181,5,5)"/><circle cx="18.8" cy="48.2" r="0.71" fill="rgb(103,3,3)"/><circle cx="2.3" cy="60.5" r="0.77" fill="rgb(56,1,1)"/><circle cx="16.0" cy="50.0" r="0.61" fill="rgb(71,2,2)"/><circle cx="9.5" cy="47.1" r="0.96" fill="rgb(190,5,5)"/><circle cx="-2.3" cy="61.3" r="0.76" fill="rgb(79,2,2)"/><circle cx="-3.3" cy="46.7" r="0.86" fill="rgb(188,5,5)"/><circle cx="4.0" cy="59.6" r="0.82" fill="rgb(112,3,3)"/><circle cx="49.3" cy="83.6" r="0.65" fill="rgb(69,2,2)"/><circle cx="46.1" cy="74.6" r="0.51" fill="rgb(51,1,1)"/><circle cx="51.1" cy="84.5" r="0.68" fill="rgb(77,2,2)"/><circle cx="8.6" cy="83.0" r="0.81" fill="rgb(166,5,5)"/><circle cx="42.0" cy="83.1" r="0.68" fill="rgb(157,4,4)"/><circle cx="17.2" cy="73.1" r="0.66" fill="rgb(140,4,4)"/><circle cx="19.4" cy="72.3" r="0.61" fill="rgb(90,2,2)"/><circle cx="13.2" cy="79.6" r="0.94" fill="rgb(45,1,1)"/><circle cx="21.3" cy="89.9" r="0.51" fill="rgb(55,1,1)"/><circle cx="12.0" cy="76.0" r="0.75" fill="rgb(61,1,1)"/><circle cx="15.2" cy="84.4" r="0.51" fill="rgb(86,2,2)"/><circle cx="14.8" cy="87.1" r="0.73" fill="rgb(117,3,3)"/><circle cx="27.5" cy="88.0" r="0.89" fill="rgb(162,5,5)"/><circle cx="19.8" cy="68.6" r="0.54" fill="rgb(150,4,4)"/><circle cx="44.5" cy="76.9" r="0.66" fill="rgb(60,1,1)"/><circle cx="35.7" cy="70.6" r="0.98" fill="rgb(97,3,3)"/><circle cx="21.0" cy="93.5" r="0.89" fill="rgb(147,4,4)"/><circle cx="23.1" cy="68.1" r="0.53" fill="rgb(50,1,1)"/><circle cx="24.5" cy="64.4" r="0.91" fill="rgb(40,1,1)"/><circle cx="12.4" cy="81.0" r="0.60" fill="rgb(179,5,5)"/><circle cx="41.3" cy="72.5" r="0.67" fill="rgb(152,4,4)"/><circle cx="26.0" cy="92.4" r="0.53" fill="rgb(147,4,4)"/><circle cx="22.4" cy="88.7" r="0.71" fill="rgb(155,4,4)"/><circle cx="18.7" cy="65.2" r="0.69" fill="rgb(104,3,3)"/><circle cx="20.9" cy="96.1" r="0.70" fill="rgb(64,2,2)"/><circle cx="30.1" cy="91.3" r="0.67" fill="rgb(134,4,4)"/><circle cx="38.5" cy="96.0" r="0.54" fill="rgb(91,2,2)"/><circle cx="13.0" cy="71.8" r="0.54" fill="rgb(52,1,1)"/><circle cx="35.7" cy="87.9" r="0.81" fill="rgb(155,4,4)"/><circle cx="39.4" cy="90.0" r="0.87" fill="rgb(158,4,4)"/><circle cx="26.1" cy="66.3" r="0.98" fill="rgb(106,3,3)"/><circle cx="9.9" cy="84.8" r="0.54" fill="rgb(88,2,2)"/><circle cx="37.8" cy="68.9" r="0.68" fill="rgb(149,4,4)"/><circle cx="12.7" cy="84.8" r="0.58" fill="rgb(97,3,3)"/><circle cx="46.4" cy="78.6" r="0.95" fill="rgb(107,3,3)"/><circle cx="44.0" cy="72.4" r="0.84" fill="rgb(84,2,2)"/><circle cx="14.9" cy="97.1" r="0.86" fill="rgb(73,2,2)"/><circle cx="23.5" cy="84.1" r="0.50" fill="rgb(134,4,4)"/><circle cx="46.7" cy="72.8" r="0.84" fill="rgb(111,3,3)"/><circle cx="20.2" cy="81.7" r="0.56" fill="rgb(116,3,3)"/><circle cx="30.6" cy="88.5" r="0.95" fill="rgb(74,2,2)"/><circle cx="26.7" cy="88.5" r="0.73" fill="rgb(159,4,4)"/><circle cx="44.6" cy="66.8" r="0.91" fill="rgb(68,2,2)"/><circle cx="25.0" cy="89.6" r="1.00" fill="rgb(188,5,5)"/><circle cx="10.8" cy="74.6" r="0.95" fill="rgb(112,3,3)"/><circle cx="24.4" cy="70.3" r="0.78" fill="rgb(190,5,5)"/><circle cx="23.3" cy="71.7" r="0.82" fill="rgb(121,3,3)"/><circle cx="38.6" cy="81.5" r="0.65" fill="rgb(73,2,2)"/><circle cx="21.3" cy="67.8" r="0.85" fill="rgb(190,5,5)"/><circle cx="14.4" cy="73.6" r="0.81" fill="rgb(163,5,5)"/><circle cx="36.6" cy="68.2" r="0.85" fill="rgb(180,5,5)"/><circle cx="34.5" cy="70.5" r="0.54" fill="rgb(148,4,4)"/><circle cx="42.6" cy="72.0" r="0.57" fill="rgb(78,2,2)"/><circle cx="31.3" cy="91.0" r="0.88" fill="rgb(190,5,5)"/><circle cx="8.1" cy="78.8" r="0.87" fill="rgb(132,4,4)"/><circle cx="48.2" cy="73.9" r="0.99" fill="rgb(153,4,4)"/><circle cx="18.5" cy="69.6" r="0.56" fill="rgb(115,3,3)"/><circle cx="19.1" cy="66.6" r="0.73" fill="rgb(116,3,3)"/><circle cx="37.4" cy="89.9" r="0.61" fill="rgb(138,4,4)"/><circle cx="28.9" cy="68.5" r="0.94" fill="rgb(51,1,1)"/><circle cx="13.3" cy="81.3" r="0.99" fill="rgb(190,5,5)"/><circle cx="14.1" cy="89.2" r="0.99" fill="rgb(124,3,3)"/><circle cx="18.3" cy="63.9" r="0.90" fill="rgb(79,2,2)"/><circle cx="49.7" cy="77.0" r="0.75" fill="rgb(136,4,4)"/><circle cx="24.8" cy="70.6" r="0.92" fill="rgb(129,4,4)"/><circle cx="47.1" cy="77.8" r="0.80" fill="rgb(150,4,4)"/><circle cx="20.1" cy="88.8" r="0.65" fill="rgb(154,4,4)"/><circle cx="18.8" cy="71.0" r="0.88" fill="rgb(108,3,3)"/><circle cx="43.2" cy="70.9" r="0.65" fill="rgb(74,2,2)"/><circle cx="19.6" cy="71.4" r="0.69" fill="rgb(147,4,4)"/><circle cx="33.5" cy="68.4" r="0.80" fill="rgb(86,2,2)"/><circle cx="42.8" cy="86.3" r="0.82" fill="rgb(96,3,3)"/><circle cx="36.4" cy="87.2" r="0.90" fill="rgb(66,2,2)"/><circle cx="42.2" cy="72.2" r="0.94" fill="rgb(76,2,2)"/><circle cx="38.5" cy="67.7" r="0.59" fill="rgb(165,5,5)"/><circle cx="10.3" cy="82.3" r="0.92" fill="rgb(186,5,5)"/><circle cx="44.3" cy="77.2" r="1.00" fill="rgb(151,4,4)"/><circle cx="18.8" cy="89.7" r="0.93" fill="rgb(170,5,5)"/><circle cx="11.1" cy="77.3" r="0.58" fill="rgb(184,5,5)"/><circle cx="27.8" cy="66.3" r="0.56" fill="rgb(49,1,1)"/><circle cx="12.1" cy="83.0" r="0.86" fill="rgb(131,4,4)"/><circle cx="44.6" cy="82.6" r="0.84" fill="rgb(79,2,2)"/><circle cx="16.3" cy="84.3" r="0.62" fill="rgb(93,2,2)"/><circle cx="14.5" cy="83.9" r="0.94" fill="rgb(178,5,5)"/><circle cx="14.0" cy="81.0" r="1.00" fill="rgb(38,1,1)"/><circle cx="17.3" cy="80.1" r="0.59" fill="rgb(105,3,3)"/><circle cx="25.2" cy="64.8" r="0.92" fill="rgb(87,2,2)"/><circle cx="9.8" cy="76.2" r="0.59" fill="rgb(73,2,2)"/><circle cx="33.8" cy="88.9" r="0.97" fill="rgb(87,2,2)"/><circle cx="13.3" cy="86.2" r="0.66" fill="rgb(69,2,2)"/><circle cx="35.3" cy="64.4" r="0.63" fill="rgb(172,5,5)"/><circle cx="12.2" cy="75.0" r="0.51" fill="rgb(171,5,5)"/><circle cx="27.2" cy="90.2" r="0.59" fill="rgb(40,1,1)"/><circle cx="18.2" cy="92.3" r="0.71" fill="rgb(103,3,3)"/><circle cx="26.3" cy="64.8" r="0.62" fill="rgb(65,2,2)"/><circle cx="49.3" cy="83.8" r="0.98" fill="rgb(129,4,4)"/><circle cx="9.9" cy="79.8" r="0.56" fill="rgb(95,2,2)"/><circle cx="17.9" cy="85.0" r="0.72" fill="rgb(70,2,2)"/><circle cx="42.1" cy="68.6" r="0.58" fill="rgb(171,5,5)"/><circle cx="45.5" cy="81.9" r="0.92" fill="rgb(119,3,3)"/><circle cx="32.3" cy="65.0" r="0.90" fill="rgb(42,1,1)"/><circle cx="43.7" cy="73.5" r="0.71" fill="rgb(182,5,5)"/><circle cx="13.6" cy="84.9" r="0.51" fill="rgb(133,4,4)"/><circle cx="14.1" cy="80.4" r="0.61" fill="rgb(72,2,2)"/><circle cx="40.8" cy="89.2" r="0.89" fill="rgb(96,3,3)"/><circle cx="26.2" cy="66.8" r="0.80" fill="rgb(43,1,1)"/><circle cx="29.9" cy="67.0" r="0.92" fill="rgb(153,4,4)"/><circle cx="41.5" cy="86.4" r="0.88" fill="rgb(125,3,3)"/><circle cx="27.8" cy="68.2" r="0.73" fill="rgb(155,4,4)"/><circle cx="21.3" cy="66.8" r="0.50" fill="rgb(158,4,4)"/><circle cx="46.2" cy="75.9" r="0.71" fill="rgb(72,2,2)"/><circle cx="46.9" cy="84.9" r="0.62" fill="rgb(41,1,1)"/><circle cx="38.7" cy="69.9" r="0.80" fill="rgb(76,2,2)"/><circle cx="15.5" cy="69.5" r="0.52" fill="rgb(118,3,3)"/><circle cx="15.4" cy="86.7" r="0.71" fill="rgb(43,1,1)"/><circle cx="28.5" cy="66.4" r="0.59" fill="rgb(190,5,5)"/><circle cx="47.8" cy="82.2" r="0.97" fill="rgb(119,3,3)"/><circle cx="30.2" cy="91.5" r="0.69" fill="rgb(136,4,4)"/><circle cx="28.9" cy="91.9" r="0.86" fill="rgb(45,1,1)"/><circle cx="44.9" cy="81.5" r="0.93" fill="rgb(173,5,5)"/><circle cx="63.7" cy="89.4" r="0.67" fill="rgb(166,5,5)"/><circle cx="72.7" cy="70.0" r="0.80" fill="rgb(104,3,3)"/><circle cx="60.3" cy="77.4" r="0.88" fill="rgb(81,2,2)"/><circle cx="58.5" cy="85.8" r="0.54" fill="rgb(169,5,5)"/><circle cx="71.3" cy="89.6" r="0.56" fill="rgb(131,4,4)"/><circle cx="59.0" cy="78.0" r="0.69" fill="rgb(190,5,5)"/><circle cx="84.6" cy="79.5" r="0.79" fill="rgb(152,4,4)"/><circle cx="71.9" cy="87.4" r="0.64" fill="rgb(201,6,6)"/><circle cx="73.9" cy="74.3" r="0.64" fill="rgb(215,6,6)"/><circle cx="62.8" cy="74.7" r="0.94" fill="rgb(206,6,6)"/><circle cx="60.4" cy="73.1" r="0.60" fill="rgb(78,2,2)"/><circle cx="63.4" cy="86.1" r="0.95" fill="rgb(169,5,5)"/><circle cx="60.5" cy="85.8" r="0.53" fill="rgb(85,2,2)"/><circle cx="67.7" cy="70.7" r="0.58" fill="rgb(138,4,4)"/><circle cx="82.0" cy="85.9" r="0.99" fill="rgb(93,2,2)"/><circle cx="80.7" cy="88.4" r="0.71" fill="rgb(122,3,3)"/><circle cx="59.4" cy="79.0" r="0.60" fill="rgb(56,1,1)"/><circle cx="86.5" cy="81.2" r="0.74" fill="rgb(127,3,3)"/><circle cx="68.0" cy="87.2" r="0.92" fill="rgb(145,4,4)"/><circle cx="75.1" cy="69.2" r="0.57" fill="rgb(81,2,2)"/><circle cx="87.3" cy="80.9" r="0.94" fill="rgb(182,5,5)"/><circle cx="85.3" cy="85.7" r="0.85" fill="rgb(142,4,4)"/><circle cx="69.7" cy="70.7" r="0.73" fill="rgb(144,4,4)"/><circle cx="71.6" cy="71.1" r="0.70" fill="rgb(98,3,3)"/><circle cx="60.5" cy="75.7" r="0.84" fill="rgb(76,2,2)"/><circle cx="58.5" cy="81.2" r="0.88" fill="rgb(92,2,2)"/><circle cx="69.7" cy="87.8" r="0.70" fill="rgb(100,3,3)"/><circle cx="70.4" cy="87.4" r="0.82" fill="rgb(101,3,3)"/><circle cx="78.1" cy="70.9" r="0.69" fill="rgb(142,4,4)"/><circle cx="76.1" cy="67.5" r="0.64" fill="rgb(93,2,2)"/><circle cx="80.4" cy="70.5" r="0.77" fill="rgb(160,5,5)"/><circle cx="81.1" cy="86.0" r="0.96" fill="rgb(88,2,2)"/><circle cx="70.6" cy="73.5" r="0.73" fill="rgb(164,5,5)"/><circle cx="78.1" cy="88.3" r="0.60" fill="rgb(58,1,1)"/><circle cx="80.2" cy="83.8" r="0.70" fill="rgb(104,3,3)"/><circle cx="77.6" cy="67.6" r="0.63" fill="rgb(213,6,6)"/><circle cx="65.2" cy="76.3" r="0.89" fill="rgb(210,6,6)"/><circle cx="83.3" cy="85.0" r="0.53" fill="rgb(152,4,4)"/><circle cx="57.8" cy="83.2" r="0.69" fill="rgb(97,3,3)"/><circle cx="75.7" cy="93.2" r="0.76" fill="rgb(197,6,6)"/><circle cx="72.0" cy="71.4" r="0.52" fill="rgb(84,2,2)"/><circle cx="86.2" cy="82.8" r="0.92" fill="rgb(96,3,3)"/><circle cx="65.8" cy="69.8" r="0.84" fill="rgb(205,6,6)"/><circle cx="62.7" cy="69.7" r="0.64" fill="rgb(203,6,6)"/><circle cx="70.2" cy="72.4" r="0.54" fill="rgb(200,6,6)"/><circle cx="62.4" cy="83.4" r="0.71" fill="rgb(92,2,2)"/><circle cx="59.1" cy="78.1" r="0.95" fill="rgb(118,3,3)"/><circle cx="75.3" cy="66.9" r="0.64" fill="rgb(77,2,2)"/><circle cx="76.7" cy="72.5" r="0.69" fill="rgb(164,5,5)"/><circle cx="82.4" cy="78.9" r="0.87" fill="rgb(96,3,3)"/><circle cx="61.1" cy="73.8" r="0.79" fill="rgb(154,4,4)"/><circle cx="86.0" cy="75.6" r="0.98" fill="rgb(56,1,1)"/><circle cx="72.2" cy="69.9" r="0.55" fill="rgb(129,4,4)"/><circle cx="59.4" cy="79.4" r="0.95" fill="rgb(83,2,2)"/><circle cx="80.9" cy="72.8" r="0.62" fill="rgb(200,6,6)"/><circle cx="66.4" cy="71.9" r="0.58" fill="rgb(143,4,4)"/><circle cx="81.2" cy="85.6" r="0.54" fill="rgb(51,1,1)"/><circle cx="69.6" cy="70.1" r="0.92" fill="rgb(188,5,5)"/><circle cx="61.6" cy="75.8" r="0.56" fill="rgb(206,6,6)"/><circle cx="69.7" cy="89.7" r="0.89" fill="rgb(55,1,1)"/><circle cx="62.9" cy="73.7" r="0.58" fill="rgb(125,3,3)"/><circle cx="84.0" cy="81.9" r="0.84" fill="rgb(103,3,3)"/><circle cx="81.4" cy="90.0" r="0.79" fill="rgb(64,2,2)"/><circle cx="66.3" cy="79.5" r="0.64" fill="rgb(80,2,2)"/><circle cx="84.9" cy="81.7" r="0.76" fill="rgb(72,2,2)"/><circle cx="85.8" cy="82.4" r="0.61" fill="rgb(187,5,5)"/><circle cx="67.1" cy="93.2" r="0.80" fill="rgb(160,5,5)"/><circle cx="67.3" cy="88.7" r="0.71" fill="rgb(110,3,3)"/><circle cx="54.6" cy="86.2" r="0.68" fill="rgb(163,5,5)"/><circle cx="82.6" cy="81.0" r="0.94" fill="rgb(135,4,4)"/><circle cx="61.0" cy="78.9" r="0.91" fill="rgb(103,3,3)"/><circle cx="65.5" cy="71.8" r="0.55" fill="rgb(105,3,3)"/><circle cx="61.7" cy="71.4" r="0.98" fill="rgb(137,4,4)"/><circle cx="72.5" cy="89.8" r="0.96" fill="rgb(145,4,4)"/><circle cx="80.0" cy="80.1" r="0.78" fill="rgb(89,2,2)"/><circle cx="65.0" cy="84.7" r="0.73" fill="rgb(54,1,1)"/><circle cx="77.5" cy="67.1" r="0.57" fill="rgb(118,3,3)"/><circle cx="78.4" cy="85.9" r="0.83" fill="rgb(76,2,2)"/><circle cx="62.1" cy="71.7" r="0.90" fill="rgb(103,3,3)"/><circle cx="63.8" cy="87.9" r="0.51" fill="rgb(75,2,2)"/><circle cx="75.5" cy="88.2" r="0.80" fill="rgb(131,4,4)"/><circle cx="59.5" cy="85.0" r="0.52" fill="rgb(89,2,2)"/><circle cx="85.5" cy="80.6" r="0.59" fill="rgb(71,2,2)"/><circle cx="87.1" cy="80.3" r="0.65" fill="rgb(188,5,5)"/><circle cx="82.1" cy="85.0" r="0.61" fill="rgb(171,5,5)"/><circle cx="85.3" cy="78.7" r="0.73" fill="rgb(186,5,5)"/><circle cx="78.2" cy="75.6" r="0.53" fill="rgb(62,1,1)"/><circle cx="77.8" cy="87.9" r="0.55" fill="rgb(119,3,3)"/><circle cx="81.5" cy="73.0" r="0.80" fill="rgb(95,2,2)"/><circle cx="71.9" cy="70.9" r="0.59" fill="rgb(158,4,4)"/><circle cx="66.2" cy="69.0" r="0.63" fill="rgb(75,2,2)"/><circle cx="71.4" cy="88.6" r="0.68" fill="rgb(51,1,1)"/><circle cx="80.1" cy="70.6" r="0.99" fill="rgb(91,2,2)"/><circle cx="85.2" cy="75.4" r="0.59" fill="rgb(112,3,3)"/><circle cx="85.9" cy="83.3" r="1.00" fill="rgb(67,2,2)"/><circle cx="87.3" cy="79.4" r="0.56" fill="rgb(134,4,4)"/><circle cx="67.9" cy="69.9" r="0.89" fill="rgb(110,3,3)"/><circle cx="86.0" cy="85.5" r="0.75" fill="rgb(63,2,2)"/><circle cx="75.1" cy="87.4" r="0.59" fill="rgb(188,5,5)"/><circle cx="71.4" cy="62.4" r="0.53" fill="rgb(126,3,3)"/><circle cx="81.4" cy="55.9" r="0.72" fill="rgb(96,3,3)"/><circle cx="83.0" cy="54.7" r="0.88" fill="rgb(176,5,5)"/><circle cx="86.6" cy="60.9" r="0.54" fill="rgb(104,3,3)"/><circle cx="82.3" cy="62.9" r="0.60" fill="rgb(115,3,3)"/><circle cx="81.0" cy="55.8" r="0.75" fill="rgb(79,2,2)"/><circle cx="80.8" cy="58.4" r="0.68" fill="rgb(168,5,5)"/><circle cx="80.5" cy="61.4" r="0.88" fill="rgb(67,2,2)"/><circle cx="85.9" cy="56.2" r="0.52" fill="rgb(60,1,1)"/><circle cx="84.8" cy="55.1" r="0.75" fill="rgb(168,5,5)"/><circle cx="80.9" cy="52.9" r="0.95" fill="rgb(151,4,4)"/><circle cx="83.1" cy="52.6" r="0.51" fill="rgb(120,3,3)"/><circle cx="82.7" cy="48.0" r="0.64" fill="rgb(157,4,4)"/><circle cx="83.6" cy="56.2" r="0.73" fill="rgb(166,5,5)"/><circle cx="81.3" cy="56.1" r="0.78" fill="rgb(123,3,3)"/><circle cx="89.1" cy="59.5" r="0.82" fill="rgb(114,3,3)"/><circle cx="22.3" cy="77.1" r="0.55" fill="rgb(62,1,1)"/><circle cx="50.1" cy="50.8" r="0.72" fill="rgb(51,1,1)"/><circle cx="59.8" cy="16.6" r="0.71" fill="rgb(59,1,1)"/><circle cx="46.1" cy="39.0" r="0.59" fill="rgb(24,0,0)"/><circle cx="46.0" cy="59.1" r="0.45" fill="rgb(17,0,0)"/><circle cx="15.1" cy="30.1" r="0.44" fill="rgb(25,0,0)"/><circle cx="75.6" cy="30.9" r="0.71" fill="rgb(44,1,1)"/><circle cx="12.8" cy="75.1" r="0.61" fill="rgb(38,1,1)"/><circle cx="9.7" cy="28.8" r="0.79" fill="rgb(14,0,0)"/><circle cx="77.1" cy="74.8" r="0.43" fill="rgb(30,0,0)"/><circle cx="82.0" cy="9.8" r="0.42" fill="rgb(49,1,1)"/><circle cx="84.5" cy="73.8" r="0.67" fill="rgb(36,1,1)"/><circle cx="7.0" cy="60.9" r="0.57" fill="rgb(26,0,0)"/><circle cx="16.0" cy="37.7" r="0.53" fill="rgb(60,1,1)"/><circle cx="66.7" cy="8.1" r="0.41" fill="rgb(54,1,1)"/><circle cx="50.5" cy="24.4" r="0.60" fill="rgb(22,0,0)"/><circle cx="33.4" cy="6.3" r="0.55" fill="rgb(63,1,1)"/><circle cx="41.8" cy="57.2" r="0.74" fill="rgb(44,1,1)"/><circle cx="76.7" cy="80.0" r="0.73" fill="rgb(55,1,1)"/><circle cx="40.4" cy="76.9" r="0.79" fill="rgb(23,0,0)"/><circle cx="71.1" cy="7.7" r="0.75" fill="rgb(28,0,0)"/><circle cx="13.2" cy="30.5" r="0.63" fill="rgb(73,2,2)"/><circle cx="58.0" cy="69.6" r="0.61" fill="rgb(45,1,1)"/><circle cx="6.2" cy="77.6" r="0.49" fill="rgb(63,1,1)"/><circle cx="28.3" cy="20.1" r="0.70" fill="rgb(26,0,0)"/><circle cx="72.7" cy="38.5" r="0.78" fill="rgb(58,1,1)"/><circle cx="28.2" cy="60.1" r="0.79" fill="rgb(30,0,0)"/><circle cx="60.1" cy="45.1" r="0.53" fill="rgb(49,1,1)"/><circle cx="16.1" cy="37.4" r="0.55" fill="rgb(57,1,1)"/><circle cx="17.8" cy="34.3" r="0.77" fill="rgb(54,1,1)"/><circle cx="54.5" cy="71.6" r="0.60" fill="rgb(62,1,1)"/><circle cx="27.2" cy="72.0" r="0.45" fill="rgb(40,1,1)"/><circle cx="4.1" cy="71.6" r="0.53" fill="rgb(50,1,1)"/><circle cx="1.5" cy="20.1" r="0.65" fill="rgb(68,2,2)"/><circle cx="39.0" cy="1.9" r="0.42" fill="rgb(47,1,1)"/><circle cx="7.3" cy="49.5" r="0.70" fill="rgb(70,2,2)"/><circle cx="8.2" cy="73.3" r="0.61" fill="rgb(63,1,1)"/><circle cx="66.3" cy="7.8" r="0.57" fill="rgb(19,0,0)"/><circle cx="46.3" cy="67.7" r="0.62" fill="rgb(30,0,0)"/><circle cx="76.5" cy="69.8" r="0.53" fill="rgb(18,0,0)"/><circle cx="8.6" cy="46.5" r="0.56" fill="rgb(37,1,1)"/><circle cx="32.9" cy="59.8" r="0.56" fill="rgb(71,2,2)"/><circle cx="80.0" cy="5.5" r="0.71" fill="rgb(12,0,0)"/><circle cx="29.8" cy="44.1" r="0.70" fill="rgb(24,0,0)"/><circle cx="48.0" cy="29.0" r="0.78" fill="rgb(38,1,1)"/><circle cx="19.7" cy="3.6" r="0.44" fill="rgb(50,1,1)"/><circle cx="39.6" cy="47.1" r="0.69" fill="rgb(50,1,1)"/><circle cx="68.1" cy="73.9" r="0.75" fill="rgb(58,1,1)"/><circle cx="83.1" cy="37.4" r="0.69" fill="rgb(68,2,2)"/><circle cx="67.1" cy="6.1" r="0.75" fill="rgb(59,1,1)"/></g></g>
<g style="mix-blend-mode:screen"><g filter="url(#bl1)"><ellipse cx="44.3" cy="41.5" rx="16.0" ry="10.0" transform="rotate(12 44.3 41.5)" fill="rgb(3,4,40)" stroke="rgb(6,8,84)" stroke-width="0.9"/><circle cx="34.1" cy="46.1" r="0.62" fill="rgb(6,8,84)"/><circle cx="37.7" cy="31.9" r="0.53" fill="rgb(7,9,94)"/><circle cx="58.7" cy="45.2" r="0.47" fill="rgb(7,9,98)"/><circle cx="36.5" cy="49.5" r="0.79" fill="rgb(8,10,107)"/><circle cx="41.7" cy="51.8" r="0.73" fill="rgb(5,6,68)"/><circle cx="30.8" cy="41.0" r="0.71" fill="rgb(6,7,79)"/><circle cx="44.7" cy="51.0" r="0.79" fill="rgb(6,8,81)"/><circle cx="29.4" cy="43.1" r="0.72" fill="rgb(8,10,107)"/><circle cx="37.2" cy="51.3" r="0.82" fill="rgb(7,9,100)"/><circle cx="29.0" cy="36.7" r="0.52" fill="rgb(5,7,73)"/><circle cx="37.7" cy="49.0" r="0.75" fill="rgb(7,9,97)"/><circle cx="59.1" cy="45.4" r="0.82" fill="rgb(6,8,88)"/><circle cx="56.3" cy="40.0" r="0.63" fill="rgb(7,9,93)"/><circle cx="29.1" cy="38.3" r="0.41" fill="rgb(5,7,73)"/><circle cx="44.0" cy="50.5" r="0.67" fill="rgb(7,9,95)"/><circle cx="30.5" cy="44.5" r="0.56" fill="rgb(6,8,88)"/><circle cx="59.4" cy="41.8" r="0.81" fill="rgb(6,7,76)"/><circle cx="53.9" cy="48.6" r="0.45" fill="rgb(5,7,72)"/><circle cx="57.2" cy="44.7" r="0.46" fill="rgb(7,9,96)"/><circle cx="57.0" cy="41.1" r="0.78" fill="rgb(5,7,73)"/><circle cx="36.2" cy="32.4" r="0.41" fill="rgb(7,8,89)"/><circle cx="58.9" cy="39.6" r="0.45" fill="rgb(5,7,73)"/><circle cx="30.6" cy="45.4" r="0.77" fill="rgb(6,8,86)"/><circle cx="58.5" cy="46.9" r="0.42" fill="rgb(5,7,75)"/><circle cx="38.1" cy="31.1" r="0.45" fill="rgb(5,7,76)"/><circle cx="31.1" cy="43.4" r="0.45" fill="rgb(5,7,72)"/><circle cx="29.4" cy="42.4" r="0.84" fill="rgb(8,10,104)"/><circle cx="30.6" cy="42.4" r="0.51" fill="rgb(5,7,75)"/><circle cx="38.2" cy="31.2" r="0.50" fill="rgb(6,8,85)"/><circle cx="56.7" cy="45.3" r="0.55" fill="rgb(6,7,79)"/><circle cx="55.6" cy="52.2" r="0.55" fill="rgb(6,8,88)"/><circle cx="28.6" cy="35.8" r="0.64" fill="rgb(7,9,92)"/><circle cx="29.9" cy="38.3" r="0.72" fill="rgb(7,9,95)"/><circle cx="43.8" cy="31.8" r="0.56" fill="rgb(6,8,86)"/><circle cx="51.3" cy="33.9" r="0.57" fill="rgb(5,7,74)"/><circle cx="42.6" cy="32.0" r="0.60" fill="rgb(6,8,83)"/><circle cx="44.8" cy="50.0" r="0.72" fill="rgb(6,7,76)"/><circle cx="30.9" cy="44.8" r="0.71" fill="rgb(5,6,69)"/><circle cx="59.1" cy="38.4" r="0.47" fill="rgb(8,10,107)"/><circle cx="40.8" cy="31.5" r="0.51" fill="rgb(6,8,88)"/><circle cx="55.0" cy="35.2" r="0.72" fill="rgb(7,9,98)"/><circle cx="56.8" cy="39.7" r="0.66" fill="rgb(7,9,93)"/><circle cx="50.3" cy="34.0" r="0.69" fill="rgb(6,8,82)"/><circle cx="42.9" cy="31.8" r="0.77" fill="rgb(8,10,105)"/><circle cx="56.5" cy="51.3" r="0.77" fill="rgb(8,10,109)"/><circle cx="52.1" cy="34.0" r="0.88" fill="rgb(5,7,73)"/><circle cx="47.9" cy="50.3" r="0.46" fill="rgb(8,10,107)"/><circle cx="44.2" cy="50.3" r="0.50" fill="rgb(6,8,85)"/><circle cx="48.8" cy="51.5" r="0.42" fill="rgb(5,7,73)"/><circle cx="39.6" cy="31.6" r="0.79" fill="rgb(7,9,99)"/><circle cx="35.0" cy="44.8" r="0.46" fill="rgb(6,7,77)"/><circle cx="41.5" cy="42.6" r="0.59" fill="rgb(4,5,55)"/><circle cx="44.0" cy="37.6" r="0.41" fill="rgb(4,5,55)"/><circle cx="58.1" cy="46.2" r="0.61" fill="rgb(5,7,74)"/><circle cx="38.8" cy="39.2" r="0.77" fill="rgb(5,6,67)"/><circle cx="64.0" cy="45.0" r="0.57" fill="rgb(5,6,70)"/><circle cx="30.1" cy="46.6" r="0.48" fill="rgb(3,4,50)"/><circle cx="50.5" cy="42.6" r="0.82" fill="rgb(4,6,63)"/><circle cx="47.5" cy="40.6" r="0.88" fill="rgb(4,5,54)"/><circle cx="47.4" cy="39.7" r="0.69" fill="rgb(5,6,69)"/><circle cx="50.8" cy="40.8" r="0.82" fill="rgb(3,4,50)"/><circle cx="50.5" cy="38.6" r="0.67" fill="rgb(6,7,80)"/><circle cx="40.9" cy="46.6" r="0.69" fill="rgb(4,5,58)"/><circle cx="48.4" cy="44.9" r="0.54" fill="rgb(5,6,68)"/><circle cx="42.1" cy="42.4" r="0.74" fill="rgb(6,7,79)"/><circle cx="40.3" cy="39.2" r="0.55" fill="rgb(6,7,80)"/><circle cx="34.6" cy="43.7" r="0.44" fill="rgb(5,7,75)"/><circle cx="48.2" cy="39.6" r="0.55" fill="rgb(5,6,70)"/><circle cx="55.1" cy="39.5" r="0.41" fill="rgb(4,5,52)"/><circle cx="49.3" cy="38.9" r="0.88" fill="rgb(4,6,63)"/><circle cx="46.6" cy="39.1" r="0.88" fill="rgb(5,6,64)"/><circle cx="48.5" cy="41.6" r="0.44" fill="rgb(4,6,62)"/><circle cx="60.7" cy="38.7" r="0.86" fill="rgb(4,6,62)"/><circle cx="45.6" cy="35.0" r="0.82" fill="rgb(6,7,80)"/><circle cx="49.7" cy="35.6" r="0.56" fill="rgb(4,5,54)"/><ellipse cx="23.4" cy="3.5" rx="12.4" ry="6.5" transform="rotate(0 23.4 3.5)" fill="rgb(3,4,40)" stroke="rgb(6,8,84)" stroke-width="0.9"/><circle cx="13.5" cy="6.4" r="0.48" fill="rgb(5,7,75)"/><circle cx="21.8" cy="-3.4" r="0.42" fill="rgb(5,6,70)"/><circle cx="35.6" cy="3.5" r="0.77" fill="rgb(6,7,78)"/><circle cx="32.7" cy="7.4" r="0.65" fill="rgb(6,8,82)"/><circle cx="35.8" cy="3.6" r="0.61" fill="rgb(5,7,72)"/><circle cx="12.8" cy="6.6" r="0.64" fill="rgb(8,10,106)"/><circle cx="14.4" cy="-0.3" r="0.49" fill="rgb(6,8,83)"/><circle cx="35.3" cy="1.6" r="0.88" fill="rgb(5,7,73)"/><circle cx="16.1" cy="-1.5" r="0.78" fill="rgb(7,9,93)"/><circle cx="31.5" cy="6.2" r="0.53" fill="rgb(8,10,106)"/><circle cx="33.9" cy="0.0" r="0.79" fill="rgb(7,9,100)"/><circle cx="14.5" cy="7.1" r="0.57" fill="rgb(6,8,86)"/><circle cx="11.8" cy="2.0" r="0.90" fill="rgb(6,8,84)"/><circle cx="13.4" cy="6.8" r="0.69" fill="rgb(7,8,89)"/><circle cx="19.7" cy="-2.3" r="0.42" fill="rgb(6,7,78)"/><circle cx="15.9" cy="8.2" r="0.89" fill="rgb(6,8,88)"/><circle cx="31.7" cy="8.2" r="0.61" fill="rgb(7,9,93)"/><circle cx="21.3" cy="-2.2" r="0.52" fill="rgb(6,8,84)"/><circle cx="36.9" cy="3.9" r="0.81" fill="rgb(5,7,75)"/><circle cx="15.7" cy="-0.6" r="0.62" fill="rgb(5,7,73)"/><circle cx="26.3" cy="10.0" r="0.70" fill="rgb(5,7,73)"/><circle cx="14.1" cy="0.5" r="0.85" fill="rgb(5,7,75)"/><circle cx="24.6" cy="10.0" r="0.63" fill="rgb(8,10,105)"/><circle cx="22.3" cy="-2.5" r="0.56" fill="rgb(6,7,81)"/><circle cx="23.7" cy="10.3" r="0.47" fill="rgb(6,7,78)"/><circle cx="29.1" cy="-2.1" r="0.46" fill="rgb(5,6,70)"/><circle cx="34.1" cy="5.4" r="0.53" fill="rgb(6,8,89)"/><circle cx="22.1" cy="-2.4" r="0.89" fill="rgb(5,6,69)"/><circle cx="16.1" cy="8.9" r="0.73" fill="rgb(6,7,81)"/><circle cx="12.7" cy="6.2" r="0.55" fill="rgb(8,10,108)"/><circle cx="27.2" cy="-1.6" r="0.71" fill="rgb(6,7,78)"/><circle cx="22.0" cy="2.6" r="0.47" fill="rgb(6,7,79)"/><circle cx="15.7" cy="2.1" r="0.68" fill="rgb(6,7,78)"/><circle cx="24.3" cy="5.0" r="0.51" fill="rgb(5,7,72)"/><circle cx="18.4" cy="1.7" r="0.50" fill="rgb(4,6,62)"/><circle cx="22.9" cy="4.6" r="0.88" fill="rgb(5,7,75)"/><circle cx="24.7" cy="1.1" r="0.82" fill="rgb(5,7,75)"/><circle cx="24.7" cy="10.0" r="0.80" fill="rgb(3,4,50)"/><circle cx="25.1" cy="4.2" r="0.74" fill="rgb(4,5,54)"/><circle cx="24.2" cy="4.0" r="0.62" fill="rgb(4,5,58)"/><circle cx="20.5" cy="2.9" r="0.75" fill="rgb(5,6,69)"/><circle cx="13.2" cy="7.6" r="0.70" fill="rgb(5,6,66)"/><circle cx="23.7" cy="5.7" r="0.76" fill="rgb(4,5,60)"/><circle cx="27.4" cy="5.2" r="0.65" fill="rgb(4,5,53)"/><circle cx="23.8" cy="9.4" r="0.81" fill="rgb(4,6,63)"/><ellipse cx="29" cy="79" rx="14.3" ry="10" transform="rotate(0 29 79)" fill="rgb(3,3,38)" stroke="rgb(6,7,76)" stroke-width="0.9"/><circle cx="29.7" cy="69.8" r="0.67" fill="rgb(4,6,63)"/><circle cx="18.7" cy="73.5" r="0.67" fill="rgb(5,6,65)"/><circle cx="15.4" cy="78.0" r="0.89" fill="rgb(7,9,92)"/><circle cx="42.9" cy="83.3" r="0.70" fill="rgb(6,8,82)"/><circle cx="40.7" cy="74.3" r="0.58" fill="rgb(5,7,74)"/><circle cx="36.8" cy="70.8" r="0.84" fill="rgb(6,8,84)"/><circle cx="29.9" cy="70.1" r="0.62" fill="rgb(6,8,87)"/><circle cx="22.8" cy="87.7" r="0.81" fill="rgb(6,7,78)"/><circle cx="29.5" cy="87.0" r="0.58" fill="rgb(5,7,73)"/><circle cx="15.6" cy="78.3" r="0.88" fill="rgb(7,8,91)"/><circle cx="26.4" cy="69.7" r="0.74" fill="rgb(5,7,72)"/><circle cx="14.1" cy="77.3" r="0.48" fill="rgb(7,9,96)"/><circle cx="23.0" cy="71.4" r="0.78" fill="rgb(5,7,74)"/><circle cx="19.8" cy="73.6" r="0.46" fill="rgb(6,8,87)"/><circle cx="21.0" cy="84.8" r="0.55" fill="rgb(5,6,68)"/><circle cx="33.0" cy="70.2" r="0.55" fill="rgb(7,9,95)"/><circle cx="42.0" cy="74.8" r="0.87" fill="rgb(6,8,86)"/><circle cx="19.6" cy="71.0" r="0.47" fill="rgb(6,7,77)"/><circle cx="34.4" cy="69.0" r="0.55" fill="rgb(5,7,72)"/><circle cx="35.9" cy="70.8" r="0.58" fill="rgb(6,7,80)"/><circle cx="41.7" cy="78.9" r="0.56" fill="rgb(6,8,83)"/><circle cx="44.3" cy="82.8" r="0.89" fill="rgb(6,7,79)"/><circle cx="14.3" cy="79.3" r="0.41" fill="rgb(5,7,74)"/><circle cx="42.2" cy="80.3" r="0.42" fill="rgb(7,9,94)"/><circle cx="31.9" cy="69.9" r="0.59" fill="rgb(6,8,83)"/><circle cx="25.2" cy="87.0" r="0.71" fill="rgb(7,8,91)"/><circle cx="19.1" cy="85.4" r="0.51" fill="rgb(7,9,96)"/><circle cx="36.3" cy="70.2" r="0.55" fill="rgb(5,6,65)"/><circle cx="15.4" cy="78.9" r="0.78" fill="rgb(5,7,75)"/><circle cx="33.1" cy="87.4" r="0.80" fill="rgb(6,8,88)"/><circle cx="18.8" cy="85.0" r="0.78" fill="rgb(6,8,86)"/><circle cx="17.3" cy="75.5" r="0.55" fill="rgb(6,8,85)"/><circle cx="29.7" cy="89.4" r="0.78" fill="rgb(4,6,63)"/><circle cx="38.9" cy="85.3" r="0.57" fill="rgb(5,6,68)"/><circle cx="20.2" cy="84.8" r="0.46" fill="rgb(6,8,86)"/><circle cx="37.8" cy="85.1" r="0.78" fill="rgb(7,9,94)"/><circle cx="25.3" cy="70.3" r="0.76" fill="rgb(7,9,93)"/><circle cx="39.8" cy="85.7" r="0.53" fill="rgb(7,9,94)"/><circle cx="31.3" cy="69.5" r="0.42" fill="rgb(5,7,72)"/><circle cx="37.2" cy="70.9" r="0.68" fill="rgb(5,6,67)"/><circle cx="30.5" cy="80.5" r="0.59" fill="rgb(3,4,50)"/><circle cx="34.7" cy="82.1" r="0.48" fill="rgb(3,4,46)"/><circle cx="38.7" cy="80.6" r="0.73" fill="rgb(3,4,46)"/><circle cx="39.9" cy="76.8" r="0.41" fill="rgb(5,7,73)"/><circle cx="33.0" cy="79.0" r="0.46" fill="rgb(4,6,62)"/><circle cx="26.8" cy="76.6" r="0.69" fill="rgb(5,6,69)"/><circle cx="32.2" cy="80.0" r="0.79" fill="rgb(3,4,46)"/><circle cx="27.7" cy="82.0" r="0.69" fill="rgb(3,4,46)"/><circle cx="36.8" cy="79.1" r="0.76" fill="rgb(3,4,47)"/><circle cx="26.0" cy="77.2" r="0.81" fill="rgb(5,6,66)"/><circle cx="26.0" cy="76.9" r="0.63" fill="rgb(5,7,75)"/><circle cx="20.5" cy="78.6" r="0.78" fill="rgb(4,5,54)"/><circle cx="23.6" cy="89.2" r="0.75" fill="rgb(4,5,51)"/><circle cx="24.1" cy="78.3" r="0.74" fill="rgb(5,6,66)"/><circle cx="33.5" cy="74.9" r="0.47" fill="rgb(4,6,61)"/><circle cx="34.0" cy="81.8" r="0.61" fill="rgb(4,5,57)"/><circle cx="29.0" cy="81.4" r="0.53" fill="rgb(5,6,66)"/><circle cx="32.2" cy="83.0" r="0.88" fill="rgb(5,7,75)"/><circle cx="29.2" cy="74.2" r="0.69" fill="rgb(4,5,60)"/><circle cx="33.6" cy="76.1" r="0.43" fill="rgb(5,7,73)"/><ellipse cx="70" cy="81" rx="10" ry="8" transform="rotate(-20 70 81)" fill="rgb(3,3,38)" stroke="rgb(6,7,76)" stroke-width="0.9"/><circle cx="74.7" cy="88.4" r="0.54" fill="rgb(5,6,70)"/><circle cx="73.6" cy="74.2" r="0.85" fill="rgb(6,7,80)"/><circle cx="77.1" cy="82.3" r="0.58" fill="rgb(6,8,85)"/><circle cx="75.4" cy="74.1" r="0.67" fill="rgb(5,7,74)"/><circle cx="61.3" cy="80.0" r="0.51" fill="rgb(7,8,90)"/><circle cx="59.4" cy="83.3" r="0.51" fill="rgb(7,9,95)"/><circle cx="77.8" cy="75.3" r="0.85" fill="rgb(5,6,66)"/><circle cx="66.5" cy="73.7" r="0.55" fill="rgb(6,7,79)"/><circle cx="69.2" cy="89.5" r="0.86" fill="rgb(5,6,69)"/><circle cx="64.9" cy="74.9" r="0.46" fill="rgb(7,9,95)"/><circle cx="79.2" cy="78.7" r="0.72" fill="rgb(6,7,80)"/><circle cx="63.1" cy="76.0" r="0.69" fill="rgb(7,9,94)"/><circle cx="75.7" cy="86.7" r="0.79" fill="rgb(6,7,78)"/><circle cx="76.6" cy="73.7" r="0.52" fill="rgb(7,9,94)"/><circle cx="61.3" cy="83.8" r="0.85" fill="rgb(7,8,91)"/><circle cx="65.4" cy="76.9" r="0.57" fill="rgb(6,8,89)"/><circle cx="61.8" cy="79.0" r="0.84" fill="rgb(7,9,92)"/><circle cx="77.3" cy="75.5" r="0.63" fill="rgb(5,7,74)"/><circle cx="60.5" cy="79.9" r="0.58" fill="rgb(6,8,86)"/><circle cx="78.5" cy="77.8" r="0.71" fill="rgb(7,8,91)"/><circle cx="61.2" cy="87.1" r="0.64" fill="rgb(6,8,86)"/><circle cx="70.4" cy="89.3" r="0.81" fill="rgb(5,6,67)"/><circle cx="59.7" cy="82.4" r="0.43" fill="rgb(7,9,93)"/><circle cx="77.6" cy="76.7" r="0.87" fill="rgb(5,6,70)"/><circle cx="78.0" cy="78.3" r="0.47" fill="rgb(6,7,79)"/><circle cx="79.0" cy="80.3" r="0.45" fill="rgb(7,9,96)"/><circle cx="61.7" cy="78.8" r="0.47" fill="rgb(5,7,74)"/><circle cx="64.2" cy="74.6" r="0.55" fill="rgb(5,6,64)"/><circle cx="78.3" cy="75.1" r="0.61" fill="rgb(6,8,81)"/><circle cx="66.5" cy="73.7" r="0.53" fill="rgb(6,7,78)"/><circle cx="68.1" cy="84.1" r="0.72" fill="rgb(4,5,58)"/><circle cx="71.2" cy="76.3" r="0.74" fill="rgb(4,5,57)"/><circle cx="68.6" cy="85.0" r="0.72" fill="rgb(4,5,60)"/><circle cx="72.6" cy="80.9" r="0.67" fill="rgb(5,7,75)"/><circle cx="69.1" cy="86.2" r="0.75" fill="rgb(5,7,73)"/><circle cx="67.4" cy="82.8" r="0.77" fill="rgb(5,6,68)"/><circle cx="66.3" cy="78.5" r="0.44" fill="rgb(4,5,60)"/><circle cx="66.2" cy="85.4" r="0.89" fill="rgb(4,6,61)"/><circle cx="71.8" cy="78.2" r="0.61" fill="rgb(5,6,66)"/><circle cx="71.8" cy="84.3" r="0.43" fill="rgb(4,5,56)"/><circle cx="78.5" cy="74.5" r="0.52" fill="rgb(4,6,63)"/><circle cx="69.0" cy="80.9" r="0.48" fill="rgb(5,6,66)"/><circle cx="75.8" cy="85.6" r="0.86" fill="rgb(4,5,54)"/><circle cx="71.6" cy="81.2" r="0.44" fill="rgb(5,7,73)"/><circle cx="62.3" cy="74.2" r="0.72" fill="rgb(5,6,69)"/><ellipse cx="1.5" cy="52" rx="5" ry="9" transform="rotate(0 1.5 52)" fill="rgb(3,3,38)" stroke="rgb(7,8,89)" stroke-width="0.9"/><circle cx="-2.4" cy="54.8" r="0.47" fill="rgb(5,7,74)"/><circle cx="5.4" cy="53.5" r="0.59" fill="rgb(6,8,84)"/><circle cx="0.2" cy="59.5" r="0.63" fill="rgb(6,8,85)"/><circle cx="5.1" cy="45.8" r="0.49" fill="rgb(8,10,106)"/><circle cx="-0.0" cy="43.2" r="0.86" fill="rgb(7,9,93)"/><circle cx="5.7" cy="56.4" r="0.79" fill="rgb(6,7,78)"/><circle cx="-3.2" cy="50.4" r="0.89" fill="rgb(5,7,74)"/><circle cx="6.2" cy="52.8" r="0.53" fill="rgb(5,7,72)"/><circle cx="-1.0" cy="45.7" r="0.69" fill="rgb(5,7,75)"/><circle cx="-1.6" cy="59.0" r="0.87" fill="rgb(8,10,110)"/><circle cx="-2.3" cy="49.7" r="0.86" fill="rgb(5,7,72)"/><circle cx="-2.7" cy="56.2" r="0.90" fill="rgb(8,10,105)"/><circle cx="-1.2" cy="45.1" r="0.75" fill="rgb(7,9,94)"/><circle cx="5.8" cy="55.2" r="0.47" fill="rgb(6,7,80)"/><circle cx="-1.5" cy="58.9" r="0.75" fill="rgb(8,10,107)"/><circle cx="4.3" cy="48.0" r="0.65" fill="rgb(5,6,67)"/><circle cx="-0.0" cy="51.7" r="0.80" fill="rgb(5,7,76)"/><circle cx="0.7" cy="55.0" r="0.51" fill="rgb(5,7,74)"/><circle cx="1.3" cy="52.6" r="0.66" fill="rgb(5,6,64)"/><circle cx="0.7" cy="60.2" r="0.51" fill="rgb(5,7,72)"/><circle cx="3.9" cy="52.3" r="0.51" fill="rgb(3,4,47)"/><circle cx="1.9" cy="50.9" r="0.52" fill="rgb(5,6,70)"/><ellipse cx="1.0" cy="29" rx="7" ry="8.5" fill="rgb(35,70,255)"/></g></g>
</g>
<rect x="79.5" y="83.8" width="4.5" height="0.6" fill="#ccc"/>
</g>
</svg></body></html>
